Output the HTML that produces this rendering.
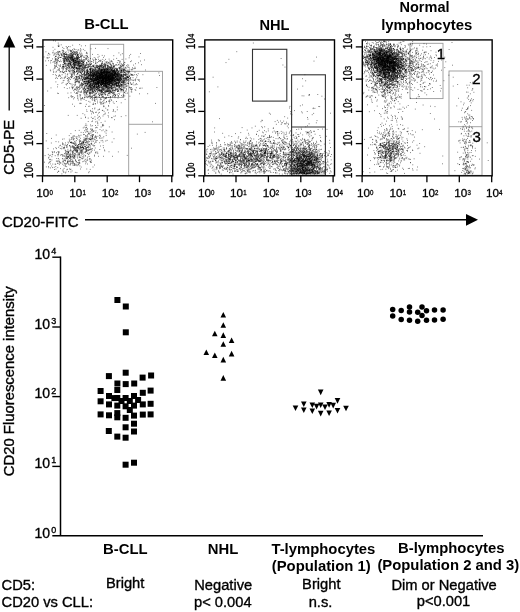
<!DOCTYPE html>
<html><head><meta charset="utf-8"><title>Figure</title>
<style>html,body{margin:0;padding:0;background:#fff;}body{width:520px;height:612px;overflow:hidden;font-family:"Liberation Sans",sans-serif;}</style>
</head><body>
<svg width="520" height="612" viewBox="0 0 520 612" style="display:block;filter:grayscale(1)">
<rect width="520" height="612" fill="#fff"/>
<g fill="none" stroke="#999" stroke-width="0.9">
<rect x="90.3" y="44.3" width="33.4" height="53.2"/>
<rect x="128.7" y="71.3" width="33.8" height="104"/>
<line x1="128.7" y1="124.3" x2="162.5" y2="124.3"/>
</g>
<g fill="none" stroke="#999" stroke-width="0.9">
<rect x="410" y="43.3" width="33" height="55.3"/>
<rect x="449" y="71" width="33" height="104.3"/>
<line x1="449" y1="126.7" x2="482" y2="126.7"/>
</g>
<path d="M105.3 79.7h0.8M101.8 73.1h0.8M99.9 72.6h0.8M106.4 85.7h0.8M99.7 74.8h0.8M110.4 79.7h0.8M105.8 72.5h0.8M105.1 82h0.8M90.8 76.5h0.8M84.6 72.1h0.8M85.7 78.2h0.8M92 80.6h0.8M106.7 76.8h0.8M78.5 77h0.8M104.6 78.7h0.8M88.9 76.5h0.8M94.5 74.1h0.8M115.8 72.4h0.8M105.2 83.1h0.8M98.9 77.8h0.8M106.3 78.3h0.8M92.3 79.5h0.8M118.6 67.9h0.8M114.1 78h0.8M99.3 90.1h0.8M112.5 70.4h0.8M106.1 81.3h0.8M103.4 82.1h0.8M104.7 81.9h0.8M119.8 72.9h0.8M107 75.2h0.8M105.9 71h0.8M98.9 77.4h0.8M115 83.9h0.8M90.9 74.5h0.8M110.9 65.9h0.8M100.2 77.8h0.8M118.6 80.9h0.8M101.5 76.1h0.8M103.2 87h0.8M100.5 76.6h0.8M108.7 77h0.8M102.5 71.7h0.8M104.8 75.4h0.8M117.6 80.8h0.8M105.2 81.9h0.8M102 84.4h0.8M105.3 81.4h0.8M91.7 81.1h0.8M86.5 67.6h0.8M101.5 73.1h0.8M107.9 90.8h0.8M96.1 75.1h0.8M107.5 80.7h0.8M103.2 77h0.8M112.7 80.4h0.8M94.2 78.4h0.8M105 71.9h0.8M107.4 72.8h0.8M115.4 78.3h0.8M105.8 74.5h0.8M102.9 66.5h0.8M93.4 81h0.8M83.2 84.7h0.8M87.2 83.8h0.8M96.6 83.2h0.8M105.8 69h0.8M118.8 85.3h0.8M104.3 76.5h0.8M103 72.5h0.8M116.3 73.9h0.8M104.2 73.5h0.8M98 71.1h0.8M118.2 76.1h0.8M115.2 77.3h0.8M97.7 76.7h0.8M99.2 78.5h0.8M101 76.6h0.8M90.3 74.5h0.8M122.1 72.7h0.8M94.2 80.8h0.8M119.2 68.4h0.8M102.6 74.5h0.8M87 83.7h0.8M104.9 78.4h0.8M97.4 81.3h0.8M99.4 77.6h0.8M92.9 71.9h0.8M118.8 73.9h0.8M108.1 77.6h0.8M100.2 75.4h0.8M111.6 75.7h0.8M103.5 78.3h0.8M117.7 80.9h0.8M108.8 74.4h0.8M91.1 84.6h0.8M115.2 76.4h0.8M111.1 82.1h0.8M114.2 82.6h0.8M101 87.1h0.8M92.5 84h0.8M110.7 82.6h0.8M125.5 85h0.8M92.3 69.2h0.8M113.2 71.4h0.8M105.4 82.9h0.8M86.9 67.2h0.8M107.8 78h0.8M102.5 78.4h0.8M95.4 70h0.8M102.9 72.5h0.8M88.1 82.3h0.8M104.6 80.4h0.8M94.4 75h0.8M94.2 73.7h0.8M106.8 73.3h0.8M109 79.7h0.8M125.7 68.2h0.8M114.4 76.7h0.8M104.3 69.6h0.8M100.6 82.7h0.8M104.3 78.5h0.8M102.6 84.9h0.8M103.9 65.3h0.8M96.9 67.2h0.8M70.8 77.7h0.8M119.1 77.2h0.8M92.4 73.5h0.8M117 78h0.8M105.6 77.7h0.8M105.9 82.6h0.8M111 78.8h0.8M94.4 81.8h0.8M98.4 84.9h0.8M91.7 78.3h0.8M104.4 70.3h0.8M123.8 85h0.8M100.6 82.9h0.8M107.9 62.6h0.8M107.7 77.4h0.8M105.5 71.7h0.8M102.2 77.2h0.8M117.7 78.9h0.8M105.8 86.8h0.8M99.1 76.2h0.8M86.8 88.6h0.8M115.6 82.5h0.8M112.2 78.1h0.8M107.2 76.4h0.8M103 78.5h0.8M121.2 79.9h0.8M104.2 74.7h0.8M99.2 87.8h0.8M110.4 78h0.8M101 71.9h0.8M104.8 83.1h0.8M100.9 77h0.8M102.8 78.8h0.8M88.3 78h0.8M96.6 83.8h0.8M97.3 82h0.8M120.9 74.9h0.8M98.9 79.6h0.8M104.6 72.3h0.8M110.9 89.3h0.8M102.3 77h0.8M94.3 80.7h0.8M91.5 72.6h0.8M118.1 71.7h0.8M117.1 85.9h0.8M108.1 81h0.8M125.4 75.2h0.8M98.3 70.7h0.8M106.2 86.5h0.8M114.7 71.7h0.8M95.9 75.8h0.8M108.1 76.6h0.8M107.5 79.5h0.8M102 78h0.8M107.2 77.3h0.8M111.2 88.4h0.8M111.3 77.8h0.8M87.6 81.7h0.8M84.1 71.5h0.8M114.4 81.4h0.8M102.7 68.2h0.8M100.9 74.4h0.8M112.8 90.5h0.8M107 73.3h0.8M92.8 78.7h0.8M102.7 71.5h0.8M105.8 71.2h0.8M117.2 83.2h0.8M116.2 74.3h0.8M110.4 76.8h0.8M100.9 76.4h0.8M90.8 70.7h0.8M113.3 76.2h0.8M107.8 83.6h0.8M86.6 74.9h0.8M107.1 80.1h0.8M101.6 84.3h0.8M106.7 70.8h0.8M95.7 83.4h0.8M109.1 66.6h0.8M119.5 80.3h0.8M119 74.7h0.8M101.5 71.7h0.8M131.6 74.9h0.8M121.4 72.9h0.8M106 68.2h0.8M101.5 84h0.8M92.5 85.2h0.8M108.1 71.7h0.8M99.6 75.8h0.8M104.3 74.9h0.8M96.3 76.9h0.8M93.8 71.4h0.8M105 83.1h0.8M89.1 79.3h0.8M97.8 72.9h0.8M113.8 74.3h0.8M120.4 72.2h0.8M109 76.4h0.8M97.5 82h0.8M103.8 81.6h0.8M104.1 71.8h0.8M104.1 78.4h0.8M114.7 72h0.8M103.9 68.1h0.8M111.4 71.2h0.8M86.2 79.2h0.8M116 68.3h0.8M93.4 74.6h0.8M93.5 81.1h0.8M96.3 74.5h0.8M110.9 73.1h0.8M109.2 72h0.8M91.6 68.4h0.8M124.4 74.6h0.8M107.6 77.6h0.8M106.8 78.2h0.8M124.6 70.4h0.8M88.3 73.5h0.8M91.5 83.4h0.8M113.2 71.8h0.8M90.4 77.1h0.8M118.4 60.5h0.8M110.1 71.3h0.8M115.5 70.9h0.8M101.4 69.5h0.8M95.5 86.8h0.8M113.5 75h0.8M95.1 67.8h0.8M101 78.2h0.8M104.2 77.5h0.8M93.3 78.6h0.8M105.3 85.5h0.8M124.6 75.6h0.8M97 78.3h0.8M98.4 74.2h0.8M104 72h0.8M111.4 76.9h0.8M107.6 76.7h0.8M97 73.1h0.8M102.4 75h0.8M107.5 77.8h0.8M90.9 79.5h0.8M90.8 75.6h0.8M101.1 66.2h0.8M106.1 78.8h0.8M103.2 75.7h0.8M100.7 72.7h0.8M102 75h0.8M105.5 71h0.8M107.6 78.6h0.8M103.4 75.6h0.8M110.1 67.9h0.8M110 79h0.8M108.2 80h0.8M98.1 77h0.8M112 80h0.8M106.6 69.1h0.8M111.3 84.3h0.8M115.8 78.5h0.8M89.2 84.8h0.8M102.4 63.5h0.8M108.4 69.1h0.8M91.2 75.4h0.8M118.2 74.8h0.8M108.7 87.9h0.8M121.7 76.1h0.8M102 70.9h0.8M98 81h0.8M109.3 78.3h0.8M115.2 72.7h0.8M104.9 82.3h0.8M111.7 83.7h0.8M109.1 75.9h0.8M108.4 71.9h0.8M88.2 82.7h0.8M104.7 79.8h0.8M87.2 77.3h0.8M98.4 73.5h0.8M81.3 78h0.8M114.7 79.4h0.8M98.8 78.4h0.8M111.7 61.4h0.8M104 81.2h0.8M113 87.3h0.8M117.1 78.9h0.8M108.6 82.3h0.8M99.4 78.2h0.8M115.5 88.6h0.8M103.4 77.9h0.8M107.8 85.6h0.8M105.5 86.5h0.8M94.9 77.7h0.8M103.4 82.7h0.8M115.3 68.4h0.8M95.7 80.7h0.8M97.5 69.8h0.8M116.2 80h0.8M110 74.8h0.8M115.8 75.7h0.8M116.2 71.8h0.8M96.3 79.9h0.8M98.1 82.5h0.8M107.4 72.4h0.8M105.7 75.9h0.8M114.4 73.6h0.8M101.1 85.4h0.8M129.5 87.7h0.8M105.9 79.2h0.8M121.1 76h0.8M94.9 79.5h0.8M109.4 72.8h0.8M87.2 71.1h0.8M111.7 73.1h0.8M103.7 79.3h0.8M111.4 75.5h0.8M109.9 72.4h0.8M100.8 72.4h0.8M116.9 76.9h0.8M97.2 76.6h0.8M103.1 82.2h0.8M87.9 73.3h0.8M102.3 93h0.8M115.1 76.6h0.8M113.5 89.3h0.8M102.5 76.1h0.8M118 79.8h0.8M111.9 74.5h0.8M126 86.3h0.8M111.3 81.5h0.8M84.2 83.4h0.8M103.3 80.7h0.8M112.1 75.5h0.8M87.6 81.5h0.8M97.2 76.7h0.8M98.6 76.5h0.8M81.5 87h0.8M108.3 84.2h0.8M125.8 76.5h0.8M85.8 74.3h0.8M92.2 76.1h0.8M105 66.4h0.8M108 69h0.8M108.2 77.1h0.8M101.8 77.8h0.8M99.2 74.9h0.8M87.5 79.2h0.8M125.3 87.9h0.8M119.3 81h0.8M98.7 86.9h0.8M104.5 77.6h0.8M102.1 78.8h0.8M100.5 77.9h0.8M93.6 76.7h0.8M128.9 75.7h0.8M102.8 81.3h0.8M112 71h0.8M103.4 83.5h0.8M108 78.5h0.8M121.1 72.8h0.8M105.7 74.9h0.8M119.8 65.5h0.8M97.8 75.5h0.8M112.3 80.9h0.8M119 67.7h0.8M112.8 75.7h0.8M98.4 81.7h0.8M94.5 66.8h0.8M100.5 69.7h0.8M98.5 80.7h0.8M109.1 86.9h0.8M102.3 69.3h0.8M96.8 73.3h0.8M92.6 81.5h0.8M97.4 67.1h0.8M112.3 76.8h0.8M108.9 78.3h0.8M111.7 77.7h0.8M118.2 79.4h0.8M109.4 80h0.8M89.8 78.3h0.8M102.5 79.4h0.8M91.6 88.6h0.8M105.6 70.9h0.8M87.1 77.8h0.8M103.8 73.9h0.8M105.8 74.2h0.8M110.5 73.3h0.8M105.2 83.7h0.8M131.5 70h0.8M99.8 73.5h0.8M112.8 70.7h0.8M100 78.2h0.8M94.4 73.3h0.8M99.1 66.3h0.8M89.8 76.8h0.8M106.6 76.8h0.8M86.3 76.8h0.8M113.7 80.5h0.8M103.9 72.9h0.8M111.4 74.1h0.8M92.5 74.3h0.8M120.4 78.1h0.8M117 74.3h0.8M114.6 73.7h0.8M104.6 92.5h0.8M112.9 74.5h0.8M104.4 80h0.8M117.5 74.2h0.8M86.7 77.8h0.8M105.3 78.6h0.8M119 78.7h0.8M113.1 71h0.8M115.2 89.4h0.8M113.3 78.8h0.8M107.5 88.2h0.8M95.3 78.1h0.8M110.3 81.9h0.8M100.7 80.1h0.8M102.2 78.9h0.8M103.2 71.5h0.8M105.3 83.1h0.8M94.9 77.4h0.8M111.6 71.3h0.8M106.5 71.7h0.8M118 90.4h0.8M126.2 75h0.8M112.9 78.1h0.8M106.9 86.9h0.8M91.8 85.2h0.8M105.2 86.2h0.8M106.7 74h0.8M108.3 82h0.8M105.7 80.8h0.8M98.7 66.1h0.8M114.8 81.3h0.8M106.7 78.3h0.8M115.7 74.5h0.8M97.6 77.5h0.8M116.9 69h0.8M117.3 73.3h0.8M94.2 86.2h0.8M103.5 70.6h0.8M101.8 83.7h0.8M117.4 74.5h0.8M109.7 81.8h0.8M98.5 80.6h0.8M104.5 74.9h0.8M100 78.8h0.8M105.2 74.7h0.8M101.2 84.8h0.8M107.7 82.9h0.8M118 80.4h0.8M128.5 71.3h0.8M113.4 75.5h0.8M125.3 86.3h0.8M84.2 74h0.8M112.4 82h0.8M112.8 77h0.8M110.2 81.4h0.8M104.8 84h0.8M81.7 83.6h0.8M94.7 84.4h0.8M102.3 73.1h0.8M108.6 72.4h0.8M94.8 69.7h0.8M105.1 80.9h0.8M115.7 76.3h0.8M116.1 77.2h0.8M104.4 81.4h0.8M116 75.1h0.8M102.5 77.3h0.8M105.5 72.7h0.8M115.7 74.8h0.8M109.6 72.8h0.8M109 80h0.8M101.6 90h0.8M109.8 88h0.8M114.8 73.4h0.8M101.3 80.8h0.8M105.8 78.2h0.8M101.3 67.8h0.8M101.7 65.4h0.8M108.7 73.5h0.8M97.5 77.3h0.8M107.3 69.5h0.8M86.3 73.3h0.8M83.3 74.1h0.8M121.3 70.6h0.8M111.3 69.5h0.8M108.1 75.9h0.8M104.7 81.3h0.8M123.6 77.7h0.8M106 72.3h0.8M111.1 76.1h0.8M113.8 77h0.8M122.4 65.1h0.8M102.4 83.3h0.8M101.1 73.7h0.8M101.7 70.2h0.8M107.5 92h0.8M116.6 70.6h0.8M95.8 76.4h0.8M115.2 72.4h0.8M98.3 83.7h0.8M114 75.1h0.8M92.7 70h0.8M96.8 65.7h0.8M112.7 73.7h0.8M111 88.4h0.8M116.8 70.4h0.8M114.7 84h0.8M96.8 73.1h0.8M103.2 68.8h0.8M119.4 62.9h0.8M93.4 77.4h0.8M102.8 79.2h0.8M107.8 76.5h0.8M116 64.7h0.8M104.8 73.9h0.8M106.6 79.2h0.8M95.3 75.1h0.8M113.6 79.4h0.8M98.9 90.4h0.8M128.6 67.6h0.8M109.4 92.3h0.8M113.4 78.6h0.8M102.7 75h0.8M102.6 75h0.8M112.7 75.1h0.8M99.9 71.4h0.8M104.2 72.9h0.8M103.7 84.2h0.8M109.2 80.6h0.8M108.9 78h0.8M103.6 76.3h0.8M112.5 71.1h0.8M119.1 77.1h0.8M97 75.8h0.8M98.1 79.5h0.8M98.1 85.2h0.8M95.9 65.5h0.8M96.5 67h0.8M105.2 84.2h0.8M111.3 69.7h0.8M97.9 88.9h0.8M108.4 77.8h0.8M117.3 91.3h0.8M118.7 77.7h0.8M109.1 81.3h0.8M98.2 72.4h0.8M105.2 72.5h0.8M104.5 78.6h0.8M129.2 71.1h0.8M103.7 77.2h0.8M110.2 83.7h0.8M99.6 73.7h0.8M87.5 74h0.8M110.7 77.8h0.8M94.3 76.7h0.8M105.7 80.9h0.8M98.8 77.1h0.8M85.5 72.9h0.8M121 64h0.8M101.7 79.6h0.8M100.8 73.6h0.8M104.5 78h0.8M103.4 67.2h0.8M103.2 73.2h0.8M99.5 79.8h0.8M112.2 82.6h0.8M100.3 83.8h0.8M117.9 83.6h0.8M119.6 76h0.8M103.7 82.9h0.8M90.9 80.4h0.8M99.4 76.3h0.8M86.5 74.3h0.8M105.3 83.2h0.8M115.4 76.7h0.8M102.7 73.4h0.8M109.2 76.2h0.8M112.3 87.6h0.8M104.1 69.4h0.8M95.4 70.3h0.8M93.2 86.6h0.8M106.8 69h0.8M112.5 84.7h0.8M101 74.4h0.8M101.7 79.9h0.8M112.3 84.3h0.8M118.3 83.8h0.8M119.7 80.7h0.8M89 78.5h0.8M108.2 75.5h0.8M114.5 75.2h0.8M96.1 87.1h0.8M112.2 78.7h0.8M115.3 83.4h0.8M107.5 63.5h0.8M97.8 75.9h0.8M94.9 80h0.8M117.4 74.2h0.8M94.2 90.7h0.8M99.8 71.3h0.8M107.8 80.3h0.8M98.1 83.2h0.8M99.6 73.1h0.8M107.3 82.3h0.8M98.6 80.4h0.8M105.4 94.4h0.8M98.3 86.6h0.8M104.5 77.3h0.8M113.1 82.6h0.8M118.5 78.8h0.8M98.6 75.4h0.8M110.7 80.9h0.8M119.9 79.2h0.8M116.9 85.9h0.8M106.1 69.3h0.8M92.1 70.7h0.8M121.4 71.8h0.8M118.3 80.4h0.8M123.5 82.4h0.8M103.9 76.9h0.8M106.1 78.9h0.8M99.5 78.3h0.8M121.2 66.8h0.8M107.4 72.5h0.8M107.4 82.7h0.8M104.9 82.5h0.8M89 85.7h0.8M99.1 82.1h0.8M105.8 62.9h0.8M97.3 79.9h0.8M121.5 78.4h0.8M107.1 69.6h0.8M120.9 87.2h0.8M105.3 76.7h0.8M88.6 84.5h0.8M133.7 79.9h0.8M118.6 80.1h0.8M95.4 86.6h0.8M92.1 77.8h0.8M108.4 82.9h0.8M109.6 79.9h0.8M96.5 71.2h0.8M105.4 73.8h0.8M90.8 71.8h0.8M99.1 67.7h0.8M90.2 69.7h0.8M107.2 80.2h0.8M125.4 67.7h0.8M98.4 83.8h0.8M102.7 76.3h0.8M122.8 74.6h0.8M92.4 71.4h0.8M108.8 79.5h0.8M90.3 73.5h0.8M111 80.9h0.8M98.7 82.1h0.8M110.3 67.2h0.8M102 80.7h0.8M98.1 66.1h0.8M102.5 82.6h0.8M120.6 64h0.8M131.9 69.3h0.8M115.7 84.3h0.8M115.5 78h0.8M93.2 82.6h0.8M96.4 64h0.8M135 79.7h0.8M123.7 71.2h0.8M121.2 86h0.8M121.4 76.6h0.8M92.4 78h0.8M81.3 70h0.8M105.6 72.2h0.8M103.3 77.5h0.8M125.9 83.9h0.8M105.2 85h0.8M96.8 76.7h0.8M114.1 70.1h0.8M101.6 70.6h0.8M107.1 87.3h0.8M97.3 79.9h0.8M95.2 72.1h0.8M92.8 87.4h0.8M130.1 78.8h0.8M97.9 82.7h0.8M102 82.9h0.8M108.3 79.4h0.8M111.2 74.1h0.8M100.1 68.4h0.8M99.8 70.1h0.8M103.1 72.6h0.8M106.4 80.5h0.8M89.9 74.5h0.8M95.6 83.1h0.8M123.4 81.5h0.8M102.1 86.8h0.8M89.9 87.9h0.8M96.9 62.5h0.8M133.6 84.9h0.8M94.4 79.8h0.8M102.9 78.8h0.8M89.3 75.3h0.8M110.1 78.9h0.8M117.7 77.5h0.8M129.4 71.9h0.8M106.9 66.7h0.8M92.6 86.7h0.8M95.5 81.9h0.8M104 72h0.8M101.2 75.3h0.8M100.3 82.8h0.8M111.7 74.1h0.8M95.7 80.4h0.8M104.5 84h0.8M133.3 80.6h0.8M104.7 77h0.8M95.7 73.5h0.8M94.4 76.6h0.8M101 82.7h0.8M100.8 77.2h0.8M93.1 88.5h0.8M111.2 87.9h0.8M114.1 85.9h0.8M102.8 82.4h0.8M132.8 68.7h0.8M118.2 86.8h0.8M109.9 82.1h0.8M118.2 73.1h0.8M109.1 72.5h0.8M97.6 74.9h0.8M103.6 79h0.8M109.3 69.2h0.8M126.9 83.1h0.8M112.7 75.3h0.8M104.4 81.3h0.8M108.7 67.7h0.8M114.4 94.6h0.8M85.8 85.5h0.8M109 77h0.8M119.3 69.8h0.8M107.5 86.5h0.8M102.8 75.7h0.8M106.1 75.3h0.8M121.3 71.3h0.8M113.9 69.8h0.8M112.2 76.8h0.8M77.3 80.2h0.8M93.4 76.3h0.8M121.1 70h0.8M94.4 87.5h0.8M107.1 87.1h0.8M108.2 72.5h0.8M105 85.4h0.8M115.2 77.2h0.8M105.6 77.3h0.8M99.8 90h0.8M104.6 71.3h0.8M100.3 82.7h0.8M111.9 76.6h0.8M97.9 78.7h0.8M86.5 71.7h0.8M113.5 74.5h0.8M109.7 84.9h0.8M112.1 77.6h0.8M128.3 80.1h0.8M101.6 82.7h0.8M109.1 72.6h0.8M105.8 77h0.8M83.9 78.7h0.8M101.8 75.6h0.8M87.2 77.3h0.8M104.7 78.6h0.8M93.2 82.7h0.8M91.9 77.7h0.8M118.8 72.8h0.8M100.1 84.8h0.8M100.8 76.6h0.8M108 84h0.8M81 75h0.8M93.8 72.4h0.8M95.5 73.8h0.8M107.9 72.5h0.8M106.6 80.3h0.8M97.3 79.4h0.8M122.8 78.5h0.8M98.2 78.2h0.8M95.4 80.4h0.8M113.9 72.4h0.8M103.4 84.8h0.8M99.9 79.5h0.8M93.8 74h0.8M100.6 91h0.8M100.6 75.3h0.8M99.1 77.5h0.8M112.1 78.5h0.8M126.7 77.5h0.8M120.4 78.4h0.8M110.8 69.1h0.8M103.7 77.7h0.8M101.6 65.8h0.8M114.1 75h0.8M100.4 76.9h0.8M102.9 80.5h0.8M91.4 73.7h0.8M108.2 78.6h0.8M100.9 75h0.8M96.3 78.4h0.8M117 70.9h0.8M121.4 81.6h0.8M100.7 82.9h0.8M89 69.2h0.8M91.4 76.7h0.8M101.5 75.3h0.8M105.2 65.6h0.8M109.6 69.4h0.8M98 76.2h0.8M92.4 71h0.8M94.6 78.8h0.8M111.5 80.8h0.8M94.3 74.3h0.8M95.7 81.4h0.8M84.3 86.9h0.8M99.7 73.9h0.8M109.1 83.7h0.8M109.2 83.8h0.8M107.1 85h0.8M118.1 76.4h0.8M120.2 77.7h0.8M105.6 72.6h0.8M102.4 82.7h0.8M91.7 82.9h0.8M108.9 79.3h0.8M82 79.3h0.8M111.5 73h0.8M104.9 64.2h0.8M111.8 73.6h0.8M113.4 66.6h0.8M112.2 76h0.8M113.1 72h0.8M99.7 91.5h0.8M96.1 74.6h0.8M101.7 72.3h0.8M118.4 87h0.8M96.9 68.6h0.8M117.9 83.4h0.8M114.2 84h0.8M95.9 77.8h0.8M90 71h0.8M115.1 73.3h0.8M129 76.5h0.8M98.8 83.2h0.8M124.2 79.3h0.8M92.5 81.2h0.8M119.3 74h0.8M97.5 84.5h0.8M106.1 71.5h0.8M100.8 73.9h0.8M108.3 78.4h0.8M117.5 81.1h0.8M88.9 81.7h0.8M114.7 79.9h0.8M115.6 74h0.8M95.6 84.2h0.8M92.9 66.4h0.8M115.5 73h0.8M101.2 70.2h0.8M90.7 72.4h0.8M101.5 80.4h0.8M81.4 84.3h0.8M92.2 72.8h0.8M112.2 77h0.8M89.9 90h0.8M96.2 80.2h0.8M107.8 86h0.8M100.8 84.2h0.8M97.9 85.1h0.8M96.9 76.5h0.8M125.1 78.2h0.8M107.3 90.9h0.8M108.5 73h0.8M112.2 70.6h0.8M117.5 84h0.8M98.8 74.9h0.8M107 77.9h0.8M95.1 82.1h0.8M83.5 77.2h0.8M100.7 76.8h0.8M107.7 70.6h0.8M111.2 76.5h0.8M97.7 70.6h0.8M92.9 81.1h0.8M95 79.2h0.8M116.7 83.1h0.8M121.3 75h0.8M94.2 84.8h0.8M108.9 84.2h0.8M105.8 84.9h0.8M114.3 81.4h0.8M110.6 79.9h0.8M107.6 79.1h0.8M115.2 74.2h0.8M123.2 75.9h0.8M115.4 76.7h0.8M103.5 90h0.8M101.3 70.9h0.8M97.5 76.8h0.8M127.8 77.4h0.8M114.4 71.4h0.8M109.1 81.6h0.8M123.6 72.5h0.8M111.6 79.2h0.8M94.4 78.7h0.8M101.3 64.8h0.8M111.6 80.6h0.8M99.9 70.6h0.8M120.7 78.3h0.8M116.4 85.3h0.8M100 83.1h0.8M102.5 77.8h0.8M104.2 78.1h0.8M116.8 77.8h0.8M103.4 76.5h0.8M108.3 72.5h0.8M99.8 78.1h0.8M99.1 77.8h0.8M99.6 90.1h0.8M119.2 79.5h0.8M105.6 90.7h0.8M108.4 77.2h0.8M108.4 79.5h0.8M119.9 76.7h0.8M126.7 71.1h0.8M111.9 71.6h0.8M124 74.6h0.8M104.9 83.4h0.8M117.7 70.5h0.8M100.8 70.2h0.8M106.5 77.3h0.8M101.1 74.3h0.8M100.7 74h0.8M111.3 86.3h0.8M84.8 78.9h0.8M101 81.2h0.8M95.1 78h0.8M94.5 82.9h0.8M106.1 77h0.8M108.9 76.3h0.8M89.1 82.7h0.8M108 76.9h0.8M116 84.2h0.8M93.3 74.4h0.8M122 84.9h0.8M96.8 71.8h0.8M98.2 75.7h0.8M88.5 79.5h0.8M91.1 72.1h0.8M114.4 73.3h0.8M104.6 81.7h0.8M113.5 75.4h0.8M105.2 73.2h0.8M123.7 80.3h0.8M93.6 78.9h0.8M112.8 80.2h0.8M124.9 84.4h0.8M99.4 77.9h0.8M91.8 80.5h0.8M107.9 93.5h0.8M105.2 65.8h0.8M98.1 79.2h0.8M91.6 74h0.8M101.4 80.3h0.8M103 73h0.8M113.1 74.2h0.8M99.2 70.4h0.8M97.2 82.4h0.8M88.1 78.9h0.8M112.4 75.2h0.8M107.1 71.3h0.8M119.3 83.3h0.8M106.8 67.7h0.8M94.6 84.5h0.8M123.2 78.3h0.8M117.9 73.4h0.8M103.1 78.2h0.8M108.8 68.8h0.8M115.6 84.9h0.8M92.4 71.1h0.8M108.5 73.9h0.8M80.7 84.7h0.8M106.5 75.1h0.8M127.3 77h0.8M97.3 79.2h0.8M93.9 74.5h0.8M108.9 74.5h0.8M101.2 88h0.8M114.5 81.9h0.8M110.9 80.4h0.8M120.3 76.7h0.8M124.1 70.9h0.8M101.8 70.2h0.8M101.7 81.3h0.8M120 72.9h0.8M105 75.9h0.8M96.8 71.7h0.8M104.9 67.9h0.8M106.3 78h0.8M97.7 72.7h0.8M91.5 90h0.8M91.8 88.1h0.8M111.2 75.4h0.8M93.5 85h0.8M122.8 71.1h0.8M102.5 84.3h0.8M109.5 89.3h0.8M99.4 81.6h0.8M93 91.2h0.8M96.4 65.8h0.8M103.7 77.3h0.8M125 74.4h0.8M105.2 81.4h0.8M121.7 76.3h0.8M116.2 80.1h0.8M102 78.7h0.8M105 72.7h0.8M117.2 69h0.8M117.8 82.5h0.8M103.8 73.7h0.8M102.9 80.9h0.8M113 79h0.8M115.2 73.9h0.8M106.8 68.7h0.8M113.2 78.2h0.8M101.3 85.1h0.8M111 61.1h0.8M104.8 69.6h0.8M117.4 91.5h0.8M99.7 78.9h0.8M102.6 80.2h0.8M112.4 84.9h0.8M95.5 87.9h0.8M95.5 80.4h0.8M117.6 81.2h0.8M95 74.7h0.8M100.2 78.1h0.8M116.5 69.6h0.8M110.3 81.1h0.8M111.2 80.2h0.8M121.2 79.5h0.8M114.3 80.5h0.8M123 65.5h0.8M118.4 75.4h0.8M101.7 72.6h0.8M85.4 77.4h0.8M98.1 81.4h0.8M90.4 87.5h0.8M107.8 76.3h0.8M97.3 74h0.8M93 75.8h0.8M105.1 77h0.8M90.2 77.7h0.8M95.8 79.7h0.8M124.9 80h0.8M101.1 68.9h0.8M89.5 69.4h0.8M112.3 73h0.8M105.5 74.4h0.8M106.7 86h0.8M97.8 76.6h0.8M97.1 83.7h0.8M93.8 72.3h0.8M89.9 71h0.8M111.2 92.5h0.8M95.1 84.3h0.8M107.2 71.4h0.8M102.1 76.9h0.8M98.8 89.7h0.8M85.3 81.8h0.8M108.3 74.4h0.8M107.1 82.9h0.8M106.9 80.3h0.8M111.4 65.7h0.8M121.6 89.9h0.8M115.8 83h0.8M90.3 78.5h0.8M96.3 75.3h0.8M114.8 72.5h0.8M102.9 67.1h0.8M103.5 78.7h0.8M97.4 74.4h0.8M124.3 69.4h0.8M93.7 74.2h0.8M118.6 89.1h0.8M108.2 73.6h0.8M101.1 84.5h0.8M96.2 87.2h0.8M120 77.2h0.8M112.2 81.8h0.8M120.9 70.6h0.8M117.3 74.8h0.8M97.1 79.2h0.8M102.4 72.5h0.8M87.9 73.9h0.8M121.2 88.1h0.8M112.5 84.3h0.8M99.7 78h0.8M107.6 71.5h0.8M94.8 79.4h0.8M101.3 72.1h0.8M109 76.2h0.8M115.8 77.1h0.8M102 79h0.8M103 74.3h0.8M101.2 82.7h0.8M112.5 84.9h0.8M87.2 77.1h0.8M100.8 79.3h0.8M100.1 75.4h0.8M113.4 78.4h0.8M93.5 86.7h0.8M115.3 73.8h0.8M113.5 73.1h0.8M116.8 75.8h0.8M96.5 76.5h0.8M97.2 79.8h0.8M106.9 78.1h0.8M97.6 57.3h0.8M105.2 67h0.8M108.2 84.3h0.8M107.8 75.5h0.8M103.2 77.4h0.8M99.1 75.1h0.8M96 85.6h0.8M105.4 83.5h0.8M102.5 78.6h0.8M103.5 80.8h0.8M113.9 78.7h0.8M97.7 74.1h0.8M122.3 75h0.8M102.7 86.7h0.8M116.7 80.2h0.8M102 91.9h0.8M109.5 80.8h0.8M102.7 70h0.8M91.3 81.5h0.8M109.1 76.3h0.8M92.2 70.6h0.8M101 69.9h0.8M115 83.9h0.8M135.1 80.7h0.8M98.5 73.5h0.8M68.7 77.5h0.8M103.7 83.7h0.8M111.8 80.9h0.8M107.6 81.6h0.8M119.8 70.6h0.8M99.7 70.4h0.8M122.6 84.1h0.8M112.4 70.4h0.8M106.8 76.5h0.8M105.9 76.8h0.8M110.4 75.3h0.8M114.2 78.7h0.8M102 77.6h0.8M100.9 83.1h0.8M102.4 79.9h0.8M100.3 69.7h0.8M114.1 71.1h0.8M112.4 79.9h0.8M87.3 73.9h0.8M99.3 73.7h0.8M93.1 83.3h0.8M102.8 80.4h0.8M100.7 80.1h0.8M97.2 78.5h0.8M111.2 77.8h0.8M99.8 72.1h0.8M107 79.9h0.8M102 73.8h0.8M111.9 91.9h0.8M102.1 80.2h0.8M107.9 62.8h0.8M106.1 73.8h0.8M119.5 75.4h0.8M96.9 77.4h0.8M106.6 74.6h0.8M103.9 70.2h0.8M103.1 82.7h0.8M126 80.4h0.8M108.5 84.6h0.8M116.5 86.8h0.8M116.4 76.4h0.8M107.9 78.8h0.8M108.4 78.9h0.8M95.9 66.5h0.8M97.1 66.9h0.8M105.8 78h0.8M87.9 83.4h0.8M114.2 77.8h0.8M123.4 87.4h0.8M93 85h0.8M109.9 80h0.8M114.5 73.1h0.8M98.5 73.7h0.8M97.2 78.1h0.8M89.4 73.2h0.8M111.1 77.1h0.8M108.2 66.8h0.8M96.6 75.4h0.8M105.2 74.6h0.8M114.8 76.9h0.8M105.3 78.1h0.8M112.3 74.7h0.8M117.1 79.7h0.8M106.7 78.1h0.8M111 83.4h0.8M115.2 79.4h0.8M114.3 77.9h0.8M118.2 76.8h0.8M84 87.5h0.8M105.7 71.1h0.8M102.6 73.1h0.8M127.3 79.1h0.8M88.9 82.5h0.8M101.8 89.4h0.8M93 65.9h0.8M105.6 75.9h0.8M99.7 66h0.8M110.3 87.3h0.8M85.7 86.4h0.8M100.2 92.1h0.8M109.6 76.5h0.8M116.9 80.1h0.8M99.2 82.6h0.8M98.9 68.1h0.8M126.2 74.3h0.8M98.9 80.5h0.8M88.1 71.5h0.8M99.6 75.4h0.8M106.4 84.4h0.8M100.4 81.2h0.8M110.9 71.2h0.8M107.1 72.4h0.8M116.4 79.7h0.8M104.7 70.2h0.8M106 73.5h0.8M112.4 76.7h0.8M97 84h0.8M112.4 74h0.8M117.1 75.3h0.8M101.9 79h0.8M97 76.1h0.8M104.1 87h0.8M120.7 75.2h0.8M121.9 76.4h0.8M109.5 82.8h0.8M109.3 91.7h0.8M107.1 70.9h0.8M118.6 74.5h0.8M100.5 61h0.8M116 81.9h0.8M113.9 83h0.8M122.8 76.3h0.8M114.6 72.9h0.8M101.9 84.4h0.8M108.6 70h0.8M108.8 76.6h0.8M96.7 81.2h0.8M100.1 69.3h0.8M94.3 89.2h0.8M89.3 80.6h0.8M111.8 81.2h0.8M92.1 77.2h0.8M106.9 82.5h0.8M97.8 71.8h0.8M116.1 83.5h0.8M108.7 74.2h0.8M109.4 78.3h0.8M113.3 70.1h0.8M106.2 77h0.8M93.6 80.2h0.8M105.3 75.6h0.8M108.6 69.5h0.8M104.7 80.5h0.8M108.6 84h0.8M91.8 70.3h0.8M107.8 80.4h0.8M127.6 79.8h0.8M96.3 83.4h0.8M95.6 70.1h0.8M132.6 77.7h0.8M112.8 80.7h0.8M124.2 78.1h0.8M117.4 71h0.8M91.2 87.4h0.8M120.8 79.7h0.8M107.5 78.8h0.8M98.6 87.5h0.8M112.2 80.4h0.8M109.5 83.7h0.8M110.7 81.9h0.8M93.1 81.9h0.8M127.8 73.2h0.8M104.2 83.3h0.8M115.4 80.8h0.8M88.4 82.3h0.8M92.3 74.2h0.8M110.7 75.8h0.8M115 95.5h0.8M113.6 81.5h0.8M95.4 75h0.8M93.7 75.8h0.8M93.4 75.1h0.8M102.5 72.4h0.8M89.6 71.3h0.8M109.9 78h0.8M116.3 83.2h0.8M101.8 82.2h0.8M91.1 92.4h0.8M117.5 75.8h0.8M93.1 81.2h0.8M85.2 75.1h0.8M113 77.8h0.8M100.4 83.9h0.8M94.4 80.5h0.8M99.5 73.5h0.8M109.5 71.9h0.8M124.7 73h0.8M125.4 70h0.8M110.9 70.6h0.8M91.1 80h0.8M111.6 70.1h0.8M117.1 72.4h0.8M106.6 80.1h0.8M110.5 67.1h0.8M122.3 79.9h0.8M100.2 72.4h0.8M86.7 71.6h0.8M110.6 75.6h0.8M93 75.9h0.8M121.3 74.8h0.8M99.6 86.3h0.8M110 77.9h0.8M98 69.5h0.8M92.6 76.2h0.8M103 80.2h0.8M111 78.8h0.8M106.9 72h0.8M82.3 76.8h0.8M94.8 75h0.8M101.6 71h0.8M93.4 78.4h0.8M106 74.1h0.8M110.2 76.3h0.8M94.4 79.1h0.8M124.5 72.5h0.8M117.9 85h0.8M120.4 72h0.8M126.2 77h0.8M102.3 76.9h0.8M111.4 77.8h0.8M103.8 85.6h0.8M97.1 72.6h0.8M113.7 81.4h0.8M116.1 70.9h0.8M116.6 79.9h0.8M123 69.3h0.8M107.3 76.2h0.8M88.1 75.2h0.8M116.7 74.3h0.8M97.9 83.6h0.8M115.9 82.9h0.8M96.8 78.3h0.8M115.6 73.3h0.8M97.6 83.4h0.8M120.9 70h0.8M77.2 71.8h0.8M94.4 78.1h0.8M111.5 76.6h0.8M97.8 79.5h0.8M95 78.5h0.8M99.6 94h0.8M113.3 72.5h0.8M94.5 76.3h0.8M87.5 75.2h0.8M97.8 83.7h0.8M100.3 73.8h0.8M90.5 72.3h0.8M104.3 76.8h0.8M116.7 73.4h0.8M116.3 78.6h0.8M104.1 66.4h0.8M91.9 83.4h0.8M119.8 78h0.8M112.9 75h0.8M100.9 74.5h0.8M115.5 79.2h0.8M102.5 76.3h0.8M111.1 79.4h0.8M97.2 88.6h0.8M107.8 77.8h0.8M121 82.7h0.8M104.4 81.2h0.8M93.6 75.2h0.8M82 87h0.8M85.5 83.5h0.8M96 73h0.8M103.2 79.7h0.8M112.3 87.7h0.8M109.3 82.8h0.8M99.2 82.6h0.8M106.5 75.2h0.8M104.1 77.7h0.8M107.3 80.2h0.8M99.4 74.1h0.8M112.1 67.6h0.8M99.3 87.5h0.8M76.4 76.3h0.8M111.5 67.9h0.8M131.1 60.9h0.8M120.9 85.8h0.8M114.6 75.9h0.8M108.4 72.5h0.8M113.1 70.8h0.8M102.7 84h0.8M93.3 76.8h0.8M106.2 70.1h0.8M117.4 79h0.8M89.2 79h0.8M96.7 74.8h0.8M105.6 73.8h0.8M114.9 73.1h0.8M115.4 76.9h0.8M113.8 74.2h0.8M99.3 71.8h0.8M111.6 82.9h0.8M127.9 83.7h0.8M107.6 76.6h0.8M109.2 77.5h0.8M120.9 82.2h0.8M96 74.7h0.8M119.6 78.6h0.8M103.2 85.1h0.8M100.9 76.7h0.8M99.4 67h0.8M113.6 70.3h0.8M98.8 74.2h0.8M112.7 77h0.8M104.5 68.3h0.8M103.5 69.5h0.8M108.5 79.9h0.8M105.9 89.8h0.8M110.9 81h0.8M106.5 76.8h0.8M115.7 83.6h0.8M92 85.2h0.8M110.9 83.1h0.8M109.4 70.4h0.8M93.7 89.5h0.8M107.1 69.6h0.8M108.6 75.6h0.8M84.7 66.3h0.8M88.5 80.9h0.8M104.5 76.6h0.8M108.4 81.2h0.8M83 78h0.8M95.9 71.6h0.8M99.3 77.7h0.8M101.6 69.8h0.8M101 90.1h0.8M93.3 69.1h0.8M108.3 81.2h0.8M109.4 71.1h0.8M115.2 72.6h0.8M92.9 75.4h0.8M104.3 82.2h0.8M111.6 77.3h0.8M114.9 77.7h0.8M113.8 69.1h0.8M89 83.8h0.8M90.4 77.4h0.8M103.8 75.3h0.8M101 86.4h0.8M79 85.2h0.8M129.1 76.2h0.8M105.2 82.2h0.8M123.7 69.6h0.8M105.9 76.8h0.8M111 78.5h0.8M111.8 75h0.8M105.3 74.1h0.8M98.1 77.7h0.8M103.1 71.3h0.8M121.5 75.9h0.8M91.1 85.5h0.8M97.5 81.6h0.8M105 79.5h0.8M106.6 74.5h0.8M106.5 89.7h0.8M81.7 80.3h0.8M109.2 71.6h0.8M91.8 91.6h0.8M102.2 90.3h0.8M110.7 78h0.8M110.4 81.3h0.8M117.6 79.5h0.8M106.7 78.9h0.8M119.6 81.6h0.8M94.3 75.2h0.8M108.3 74.1h0.8M100.7 72.8h0.8M102.6 80.7h0.8M115.5 77.2h0.8M126.8 75.8h0.8M139 81.1h0.8M110.1 74.7h0.8M75.5 79.5h0.8M107.9 89h0.8M91.5 90.2h0.8M102.8 82.4h0.8M78.6 80.9h0.8M101.8 82.2h0.8M105.5 71.3h0.8M115.3 81.2h0.8M111.8 83.3h0.8M116.6 77h0.8M90.2 71.1h0.8M119.6 81h0.8M106 75.4h0.8M105.4 78.1h0.8M101.3 74.2h0.8M127.9 77.5h0.8M98.2 71h0.8M97.8 82.8h0.8M112.9 76.1h0.8M105.5 76.2h0.8M94.1 86.5h0.8M110.1 92h0.8M97.1 77.8h0.8M114.2 75.8h0.8M90.1 73.7h0.8M106.3 79.9h0.8M104.6 83.9h0.8M115.6 79h0.8M105.3 76.5h0.8M111.3 82.9h0.8M105.9 80.6h0.8M101.1 70.1h0.8M95 83.3h0.8M110.5 86.8h0.8M106.1 83h0.8M119.4 82.6h0.8M98.6 77.4h0.8M106 72.2h0.8M110.5 83.5h0.8M101 89.8h0.8M102 77.1h0.8M102.3 74.1h0.8M109.5 77.8h0.8M122.8 80.1h0.8M110.6 76.3h0.8M90.3 78.7h0.8M96.6 84.2h0.8M105.6 87.7h0.8M113.2 82.2h0.8M107.6 79h0.8M112.4 82.8h0.8M97.9 81.4h0.8M132.5 75.3h0.8M102.1 74.2h0.8M90.5 86.1h0.8M105.9 79.7h0.8M125.6 91h0.8M96.3 84.8h0.8M111.8 79.8h0.8M110.1 77.5h0.8M122 80.2h0.8M109.3 84.9h0.8M114.7 79.9h0.8M109.4 87.9h0.8M110.4 77.1h0.8M96 76.7h0.8M94.2 79.5h0.8M106.9 65.9h0.8M105.6 81.8h0.8M106.4 72.4h0.8M118.1 72.9h0.8M91.8 72.8h0.8M105.4 83.7h0.8M117.4 78.2h0.8M92.3 75.2h0.8M95.6 77.7h0.8M86.6 80.1h0.8M111.8 76.6h0.8M109.5 72.2h0.8M89.6 75.5h0.8M117.7 83h0.8M100.9 85.3h0.8M102.4 87h0.8M109.9 75h0.8M113.1 72.9h0.8M94.6 70.4h0.8M107.8 77.5h0.8M104.1 75.7h0.8M120 74.3h0.8M98.1 85.8h0.8M120.1 78.8h0.8M86.6 76h0.8M111.5 77.6h0.8M120.7 68.8h0.8M111.9 73.8h0.8M118.9 76.5h0.8M115.6 73.4h0.8M89.8 72.8h0.8M98.3 72.6h0.8M118.3 84.7h0.8M107.5 71.8h0.8M103.5 74.1h0.8M120.5 78.6h0.8M110 75.3h0.8M83.7 75.2h0.8M93.6 81.1h0.8M105.7 73.3h0.8M101.8 87.4h0.8M94.6 73.5h0.8M102.4 74.1h0.8M100.9 81.4h0.8M122.4 66.3h0.8M104.9 78.3h0.8M104.1 77h0.8M102 84.1h0.8M100.2 77.7h0.8M105.1 78.6h0.8M103.8 83.9h0.8M105.1 79h0.8M104.1 72.2h0.8M95.9 72.6h0.8M106.8 73.7h0.8M94.1 80.3h0.8M109.8 67.4h0.8M122.8 76.8h0.8M104.5 84.3h0.8M105.6 74.5h0.8M127.6 69.9h0.8M104.5 83h0.8M93.9 78.3h0.8M110.3 91.6h0.8M95.7 78.5h0.8M112 77.9h0.8M92.7 81.4h0.8M106.4 80.5h0.8M117.4 82.9h0.8M109.5 79.5h0.8M93.5 78.1h0.8M107.2 75.5h0.8M105.7 73.1h0.8M122.2 89.2h0.8M101.2 80.6h0.8M103.2 85.5h0.8M109.7 78.1h0.8M102.8 78.9h0.8M94.9 82.7h0.8M97.9 81.7h0.8M107 84.2h0.8M105.4 83.9h0.8M95.7 82.3h0.8M102.8 79.3h0.8M106.3 83.4h0.8M84.1 81.6h0.8M90 86.2h0.8M84 73.9h0.8M88.3 88.9h0.8M91.7 79.7h0.8M98.7 68h0.8M101.9 82.1h0.8M103.6 83.6h0.8M101.3 78.3h0.8M101.2 80.3h0.8M125.1 78.5h0.8M106.8 74.3h0.8M97.9 87.1h0.8M93 73.7h0.8M103.9 75.6h0.8M124.5 62.7h0.8M109.2 81.8h0.8M93.1 75.2h0.8M110.4 87.1h0.8M94.7 69.6h0.8M116 86h0.8M100.6 65.5h0.8M120.2 75.6h0.8M116.8 76.8h0.8M101 75.7h0.8M121.2 85.1h0.8M82.3 74.4h0.8M123.5 74.4h0.8M90.9 79.2h0.8M103.9 77.5h0.8M99.9 76.6h0.8M100.5 80.3h0.8M96.5 77h0.8M104.2 85.7h0.8M109 77.1h0.8M110.9 79.9h0.8M116.7 80h0.8M124.5 84.3h0.8M104.5 75.6h0.8M114.6 80.2h0.8M103.4 69.5h0.8M86.1 81.6h0.8M113.5 82h0.8M92.1 85.1h0.8M99.7 80.7h0.8M109.1 73h0.8M98 66.5h0.8M94.7 68.3h0.8M109.7 78h0.8M114.8 79.3h0.8M98.6 80.5h0.8M101.3 81.8h0.8M107.9 72h0.8M105.1 78.3h0.8M102.3 83.4h0.8M122.9 74.4h0.8M100.4 65.3h0.8M103.5 75.6h0.8M82.6 81.5h0.8M110.9 73.3h0.8M100.8 72.7h0.8M112.4 68.6h0.8M102.7 89.5h0.8M105.9 80.7h0.8M103 71.3h0.8M104.9 80.4h0.8M94.6 80.8h0.8M118.6 83.1h0.8M88.1 73.7h0.8M88.7 85.5h0.8M111.8 81.6h0.8M95.4 72h0.8M106 78.5h0.8M96.2 79.5h0.8M112 78.8h0.8M93.2 66.7h0.8M102.5 79.2h0.8M102.2 75.7h0.8M98.2 82.7h0.8M104.6 78.8h0.8M94.6 75.2h0.8M106.3 72h0.8M91.8 77.2h0.8M117.8 78.1h0.8M120.3 76h0.8M101.2 70.2h0.8M99.7 86.8h0.8M108.9 82h0.8M112.5 77.4h0.8M103 78.9h0.8M112.3 80.1h0.8M110.3 78.5h0.8M96.9 77.1h0.8M95.7 84.6h0.8M83 78.5h0.8M129.9 74h0.8M93.2 78.8h0.8M118.5 76h0.8M111.6 78.1h0.8M102.7 96.5h0.8M105.6 74.8h0.8M100.1 80.6h0.8M109.7 82.1h0.8M105.9 69.6h0.8M110.5 75.8h0.8M101.4 69.7h0.8M98.8 74.3h0.8M104 69.6h0.8M105.7 78.7h0.8M93.1 75.3h0.8M96.5 84h0.8M78.5 78.1h0.8M87.5 76.9h0.8M113.7 73.6h0.8M106.2 73h0.8M125.8 81.7h0.8M116.3 69.4h0.8M94.1 85.2h0.8M102.9 76.7h0.8M108 70.5h0.8M113.2 77.5h0.8M109.8 73.7h0.8M110.1 73.5h0.8M115.6 83.7h0.8M114.9 80.2h0.8M110.5 61.8h0.8M113.7 75.7h0.8M106 76.3h0.8M90.3 76.1h0.8M112.6 85.6h0.8M98.2 73.3h0.8M119.9 71.7h0.8M126.8 76.6h0.8M96.3 84.4h0.8M122.2 68.3h0.8M121.3 75.1h0.8M120.5 74.6h0.8M88.8 82.2h0.8M115.8 89.3h0.8M123.5 80.6h0.8M102.4 75.2h0.8M101.6 73.4h0.8M101 63.5h0.8M107 77.7h0.8M132.3 80.2h0.8M100.3 81.7h0.8M92 75.5h0.8M86.2 87.9h0.8M110.8 70.7h0.8M104.9 83.5h0.8M110.5 79.8h0.8M95.8 75h0.8M106.5 83.2h0.8M95.9 72.2h0.8M116.6 71.7h0.8M116.5 78.5h0.8M115.1 87.3h0.8M112.7 81.9h0.8M95.2 74.8h0.8M112.6 86.3h0.8M120.7 90.2h0.8M108.4 78.9h0.8M115.6 77.3h0.8M104 72h0.8M115 71h0.8M109.8 69.4h0.8M116.1 71.1h0.8M113.2 68.1h0.8M101 85.2h0.8M96.7 79.1h0.8M99 65h0.8M108.5 80.2h0.8M93.8 82.2h0.8M96.3 72.9h0.8M104.9 74.1h0.8M128.4 67.1h0.8M113.3 83.1h0.8M83.6 69.6h0.8M110.8 74.7h0.8M109.6 84.3h0.8M100.7 72.2h0.8M76.6 81.5h0.8M95.5 80.6h0.8M106.9 69.8h0.8M123.6 82.8h0.8M113.4 70.4h0.8M100.6 75.2h0.8M100.2 71.8h0.8M109.8 79h0.8M108.7 74.8h0.8M118.7 78h0.8M76.1 76.6h0.8M105 83.6h0.8M101.8 76.8h0.8M98.5 82.4h0.8M100.1 74.9h0.8M97.6 81.8h0.8M98.7 68.8h0.8M111.3 73.4h0.8M109 79.9h0.8M118.2 83h0.8M99 77.5h0.8M92.4 88.8h0.8M110.4 85.7h0.8M100.8 66.4h0.8M121.2 77.3h0.8M106.5 78.2h0.8M112.1 80.5h0.8M89 85.6h0.8M99.3 75.7h0.8M123.6 81.9h0.8M100.7 67.6h0.8M107 81h0.8M103.7 70.9h0.8M96.2 71.4h0.8M107.7 82.6h0.8M115.5 72.9h0.8M107.8 81h0.8M99.7 77.6h0.8M127.4 77.4h0.8M114.1 74.7h0.8M104.7 68.1h0.8M105.4 84.9h0.8M127.6 83.2h0.8M112.3 77.7h0.8M98.7 77.6h0.8M111.2 72.9h0.8M114.4 71.5h0.8M86 73.6h0.8M87 71.5h0.8M116.9 75.9h0.8M107.9 84.5h0.8M118 74h0.8M119.2 79.1h0.8M105.3 80.6h0.8M89.8 74.7h0.8M104.3 81.6h0.8M101.1 77.6h0.8M115.9 85.3h0.8M113.7 84.7h0.8M100.7 76.6h0.8M108.3 76h0.8M100.6 88h0.8M102.5 72.6h0.8M111.1 88.2h0.8M106.5 85.1h0.8M100.3 75.5h0.8M97.8 77.7h0.8M123.8 69.8h0.8M121.8 70.8h0.8M103 83h0.8M111.8 79.1h0.8M88 81.5h0.8M95.6 93.7h0.8M103 79.3h0.8M92.9 76.2h0.8M92 84.8h0.8M102.6 81.5h0.8M97.7 75.7h0.8M118.1 71.3h0.8M86.4 81.9h0.8M93 76.4h0.8M114.3 72.5h0.8M114 73.3h0.8M121.3 84.4h0.8M100.1 77.2h0.8M96.5 79.9h0.8M116.5 68.7h0.8M114.1 69.6h0.8M95.3 68.4h0.8M127.2 76.6h0.8M107.3 73.9h0.8M115.3 64.9h0.8M106.4 90.7h0.8M101.1 78.4h0.8M111.8 72.7h0.8M105.8 83.5h0.8M107.3 80h0.8M101.6 80.1h0.8M106.4 86.4h0.8M112.6 76h0.8M79.8 84.2h0.8M112.6 72.1h0.8M83.7 73.1h0.8M114.3 71.1h0.8M100.4 79.7h0.8M117.9 76.9h0.8M103.8 74.9h0.8M122.7 82.8h0.8M103.5 70h0.8M97.1 82h0.8M98 83.8h0.8M109 79.4h0.8M112.2 80.3h0.8M96 76.8h0.8M129 69.1h0.8M100.6 84.6h0.8M103.1 73.4h0.8M91.5 82.2h0.8M116.4 85.2h0.8M106.1 84h0.8M94.4 79.8h0.8M98.1 79.6h0.8M113.5 83.6h0.8M95.3 86.2h0.8M99.7 72.5h0.8M102.6 69.7h0.8M105.3 79.7h0.8M103.3 81.3h0.8M101.8 78.3h0.8M90 79.5h0.8M96 76.1h0.8M104.2 79.2h0.8M87.1 70.3h0.8M102.2 81h0.8M109.3 82.9h0.8M118.9 79.8h0.8M104.4 72.1h0.8M95 76.1h0.8M108 79.1h0.8M105.1 77.1h0.8M111.8 78.7h0.8M108.4 79.5h0.8M98.9 72.5h0.8M110.4 80h0.8M102.6 75.8h0.8M128.6 71.7h0.8M102.9 79.7h0.8M93.1 79.6h0.8M124.3 81.9h0.8M112 80.9h0.8M106.7 83.4h0.8M103.3 75.7h0.8M106.6 83.2h0.8M108.9 81.6h0.8M84.5 86.6h0.8M130.2 83.8h0.8M101.4 73.4h0.8M107.5 72.1h0.8M112.5 74.4h0.8M115.8 85.1h0.8M84 81.4h0.8M97.1 70.4h0.8M98.5 77.3h0.8M115.2 68.3h0.8M117 88.8h0.8M111.6 80.7h0.8M104.4 71.2h0.8M110.9 79.8h0.8M113.9 92.2h0.8M112.9 79.9h0.8M120.8 68.9h0.8M93 76.8h0.8M98.6 82.6h0.8M102.6 88.3h0.8M121.4 81.2h0.8M101.3 81.9h0.8M113.1 71.2h0.8M109.1 81.8h0.8M108.1 86.9h0.8M117.4 72.2h0.8M106 73.1h0.8M110.8 72.5h0.8M114.9 79.5h0.8M115.2 76.3h0.8M90.7 89.4h0.8M103.9 86.1h0.8M109.9 81.5h0.8M124.4 78.4h0.8M119.1 68.2h0.8M114.1 75.9h0.8M103.7 78.2h0.8M109.5 87.3h0.8M85.7 79.8h0.8M98.1 85.3h0.8M100.9 81h0.8M101.2 82.2h0.8M115.5 74.9h0.8M105 69.7h0.8M108.7 82.7h0.8M99.8 84.9h0.8M82.5 69h0.8M90.3 76.4h0.8M105.3 77.5h0.8M104.7 82.2h0.8M99.6 71.1h0.8M93.1 91.3h0.8M80.4 79h0.8M120.6 79.6h0.8M96.4 78.7h0.8M114.7 84.3h0.8M96 83.2h0.8M108.3 84.2h0.8M119.5 74.8h0.8M90.1 81.5h0.8M124 80.5h0.8M108.6 91.7h0.8M94.6 84.1h0.8M99.2 78.8h0.8M106.7 86.7h0.8M95.1 75.7h0.8M88.7 82.2h0.8M100.5 80.8h0.8M86.1 80.9h0.8M117.5 76.3h0.8M112.8 84.1h0.8M94.5 67.5h0.8M117.4 79.7h0.8M113.3 59.3h0.8M74.2 66h0.8M91.7 93.3h0.8M110.9 79h0.8M106 87.7h0.8M98.9 85.6h0.8M100.5 60.2h0.8M99.5 94.8h0.8M96.5 80.8h0.8M92.8 78.3h0.8M118.6 75.2h0.8M81.7 55.1h0.8M90.5 64.4h0.8M77.3 93.8h0.8M109.4 61h0.8M116 82.7h0.8M92.5 90.2h0.8M76.4 74.6h0.8M79.3 74.9h0.8M113 66h0.8M83.9 75.6h0.8M104.8 77.3h0.8M113.9 71.8h0.8M82.7 80.1h0.8M101.3 72.2h0.8M110 97h0.8M94 83.1h0.8M121.1 70.9h0.8M87.9 73.3h0.8M109.2 84.5h0.8M100.3 81.7h0.8M122.7 85.2h0.8M81.7 85h0.8M105.2 87.2h0.8M97.7 75.5h0.8M92.1 65.6h0.8M100.7 75.3h0.8M107.1 69.9h0.8M93.8 73h0.8M87.7 90.5h0.8M96 86.3h0.8M85.8 85h0.8M76.3 81.3h0.8M95.7 87.7h0.8M104.3 78.6h0.8M114.6 80h0.8M111.3 86.3h0.8M100.4 78.2h0.8M105.9 75.9h0.8M109.7 89.9h0.8M113.7 74.6h0.8M82.9 84h0.8M102.1 91.4h0.8M95.8 79.9h0.8M111.7 74.1h0.8M102.7 97.1h0.8M124.9 82.1h0.8M103.9 70.9h0.8M110.1 79.6h0.8M104.1 75.2h0.8M101.3 79h0.8M109.1 93h0.8M104 64.2h0.8M84.6 68.9h0.8M91.2 88.3h0.8M106.6 73.9h0.8M104.3 72.9h0.8M78.3 71.9h0.8M91.9 96.4h0.8M84.5 96.2h0.8M120.9 75.1h0.8M99.9 75.1h0.8M102.7 86.9h0.8M103.8 89.9h0.8M119.8 80.3h0.8M106.4 79.1h0.8M104.7 69.3h0.8M108.1 81.4h0.8M93.1 103.2h0.8M85.8 75.5h0.8M102.2 61.8h0.8M87.2 68.9h0.8M87.3 82.3h0.8M108.5 90h0.8M115.8 89.3h0.8M109.5 74.6h0.8M117.2 72.8h0.8M95.6 96.7h0.8M113.7 80.4h0.8M114.4 86.6h0.8M81.5 83.8h0.8M84.6 85.3h0.8M94.4 95.3h0.8M107.8 71.6h0.8M99.1 69.4h0.8M103.3 85.6h0.8M101.9 61.9h0.8M97.7 86.4h0.8M108.4 90.5h0.8M83.8 89.3h0.8M92.5 84.4h0.8M108.9 85.8h0.8M93.5 84.1h0.8M81.8 71h0.8M109.7 78.5h0.8M76.3 77.5h0.8M104.9 95.1h0.8M118.5 84.9h0.8M75.2 85h0.8M109.4 82.9h0.8M107.3 77.2h0.8M130.3 89.1h0.8M98.4 71.8h0.8M130.8 69.4h0.8M122.8 94.8h0.8M88.3 86.1h0.8M97.5 86.5h0.8M110 97.8h0.8M110.3 78.8h0.8M117.7 74.7h0.8M100.5 102.6h0.8M88.6 78.5h0.8M100.3 70.7h0.8M72.6 96.7h0.8M89.1 77.9h0.8M94.3 72.6h0.8M86.1 85.3h0.8M138.3 80.3h0.8M109.8 64.4h0.8M99 69.7h0.8M112.5 76.2h0.8M102 79.7h0.8M90.2 68.2h0.8M107.5 66h0.8M83.7 81.4h0.8M91.7 85.2h0.8M116.9 79.9h0.8M104.6 80.3h0.8M110.8 60.9h0.8M105.3 70.8h0.8M83.5 84.3h0.8M97 87.2h0.8M113.4 55.7h0.8M104.3 99.1h0.8M117.1 91.5h0.8M100.4 67h0.8M86.4 90.6h0.8M114.3 71h0.8M98.2 83.9h0.8M75.2 82.6h0.8M129.5 96.2h0.8M103.5 98h0.8M92.4 74.6h0.8M70.5 96.2h0.8M100.5 103.5h0.8M106.9 81.4h0.8M77.9 100h0.8M96 80.2h0.8M70.9 95.8h0.8M115 72h0.8M103.8 84h0.8M116 78.7h0.8M126.5 73.2h0.8M91.9 78.1h0.8M62.8 80.7h0.8M117 80.1h0.8M90.3 86.3h0.8M71.5 84h0.8M110.7 85.6h0.8M92 91.5h0.8M128.4 71.1h0.8M109.7 63.9h0.8M74 92.2h0.8M102.7 82.4h0.8M92.6 79.7h0.8M116.9 94.2h0.8M95.4 65.9h0.8M121.6 82.5h0.8M112.1 80.3h0.8M136 74.5h0.8M105.8 61.9h0.8M91.9 76h0.8M102 84h0.8M94 99h0.8M85.2 79.7h0.8M102.9 68.3h0.8M111.3 84.9h0.8M101.1 99.3h0.8M103.5 83.1h0.8M84.5 67.9h0.8M91.9 79.6h0.8M96.5 89.2h0.8M64.5 77.2h0.8M77.4 98.6h0.8M92.5 77.6h0.8M87.2 92.3h0.8M96.1 84h0.8M74 97.7h0.8M108.6 84.6h0.8M119.6 75.2h0.8M100.7 87.9h0.8M107.6 77.1h0.8M101.5 75.9h0.8M114.1 87.3h0.8M105.4 98.2h0.8M78.7 83.1h0.8M126.2 71.7h0.8M80.9 98.5h0.8M107.6 67.9h0.8M111.3 68.8h0.8M81.8 83.3h0.8M92.6 71.9h0.8M94.5 72.4h0.8M102.6 80.3h0.8M111.9 74.2h0.8M79.7 72.4h0.8M101.1 95.8h0.8M113.1 72.2h0.8M113.5 67.1h0.8M116 74.1h0.8M114.3 84.2h0.8M98.4 84.6h0.8M86 83.2h0.8M125.5 115.7h0.8M112.4 79.4h0.8M88.9 93.6h0.8M75.9 78.2h0.8M104.8 68.4h0.8M126.6 86.3h0.8M92.4 77.2h0.8M79.7 71.6h0.8M109.5 85.2h0.8M107.5 82.1h0.8M94.3 85.7h0.8M80.1 85.2h0.8M126.1 88.7h0.8M94.4 79h0.8M125.5 93.3h0.8M79 81.2h0.8M107.6 91.4h0.8M90.7 89.2h0.8M101.9 103.8h0.8M107.9 78.2h0.8M98.9 91.6h0.8M109.8 68.6h0.8M102.5 67.5h0.8M88.2 70.9h0.8M81 78.3h0.8M88.4 88.6h0.8M113.2 76.1h0.8M86.9 91.6h0.8M68.3 68.7h0.8M113.8 84.7h0.8M115.8 75.8h0.8M82.3 79.7h0.8M108.8 71.9h0.8M88.8 69.8h0.8M86.3 92.1h0.8M106.4 68.5h0.8M84.8 78.7h0.8M107.7 68.2h0.8M95.3 61.2h0.8M84.1 88.4h0.8M112.9 67.2h0.8M92 90.5h0.8M95.1 76.8h0.8M109.9 81h0.8M119.8 84.8h0.8M93.1 81.3h0.8M98.4 68.2h0.8M89.3 92.7h0.8M80.3 94.8h0.8M105.8 78.6h0.8M110.7 83.6h0.8M119 73.4h0.8M98.1 79.1h0.8M131.5 83.9h0.8M87.6 80.4h0.8M91.5 83h0.8M109.4 101.5h0.8M76.9 95.8h0.8M107 72.9h0.8M98.8 76.6h0.8M104.6 90h0.8M82 97.6h0.8M99.3 95.9h0.8M110.4 91h0.8M112.4 89.2h0.8M101.2 72.8h0.8M113.3 85.4h0.8M129.2 55.8h0.8M101.1 91.3h0.8M83.1 82.4h0.8M135.9 87.7h0.8M91.8 96.7h0.8M121 84.5h0.8M108.1 81.9h0.8M88.3 78.6h0.8M113.1 79.9h0.8M128.7 72.2h0.8M66.1 84.9h0.8M106.9 83.6h0.8M101.6 72.9h0.8M122.9 70.2h0.8M112.1 76h0.8M87.2 97.6h0.8M63.6 80.4h0.8M107.9 76.2h0.8M113 77.7h0.8M99.6 102.3h0.8M98.7 80h0.8M84.9 77.1h0.8M112.8 84.2h0.8M100.9 74.3h0.8M109.1 63h0.8M96.8 79.5h0.8M90.1 84.8h0.8M91 75.4h0.8M130.2 82.4h0.8M120.1 77.8h0.8M118 85.3h0.8M124.7 99.4h0.8M99.6 84h0.8M95 48.4h0.8M81.9 85.3h0.8M110.7 73.7h0.8M121.6 89.5h0.8M99.1 95.5h0.8M129.1 80.1h0.8M90.9 97.6h0.8M99.4 78h0.8M103.2 75.6h0.8M119.8 85h0.8M121.6 82.8h0.8M90.6 81.9h0.8M114.7 74.6h0.8M145.1 70h0.8M96.1 93.4h0.8M113.5 78.5h0.8M100 85.7h0.8M116.3 85.6h0.8M99 85.9h0.8M116.5 85.6h0.8M55.5 81.9h0.8M90.8 81.2h0.8M107 89h0.8M111.4 78h0.8M106.3 97.3h0.8M94.2 85.7h0.8M126.3 79.6h0.8M73.3 90.6h0.8M96.7 81.1h0.8M118.9 82.2h0.8M100.4 90.1h0.8M109.2 80.7h0.8M107.5 82.5h0.8M96.7 77.7h0.8M101.2 72h0.8M86.5 96.9h0.8M99 81.5h0.8M100.7 81.6h0.8M103.1 81.5h0.8M92.5 92.1h0.8M94.4 92.7h0.8M72.4 76.8h0.8M116.9 76.7h0.8M93.4 86.5h0.8M87.4 84.8h0.8M69.2 83.4h0.8M94.1 88h0.8M113.9 70.4h0.8M125.1 70.7h0.8M67.9 65h0.8M125.1 75.6h0.8M91.7 76h0.8M89.1 96.8h0.8M104.7 97.9h0.8M95.2 59.7h0.8M114.3 75.1h0.8M102.1 96.3h0.8M100.9 92.6h0.8M101.1 74h0.8M108.9 73.9h0.8M122.5 86.3h0.8M104.7 86.5h0.8M110.4 76.8h0.8M115.3 76.2h0.8M109.9 70.3h0.8M104.9 84.6h0.8M90.2 79.5h0.8M96.2 89.4h0.8M92.9 87.2h0.8M125.8 79.8h0.8M79.2 87h0.8M117.5 75.3h0.8M120.2 83.5h0.8M108.4 77.4h0.8M94.7 80.2h0.8M104.7 85.7h0.8M108.4 77h0.8M104.5 84.5h0.8M77.4 78.8h0.8M90.7 81.6h0.8M98.3 79.5h0.8M91.3 89.9h0.8M103.8 65h0.8M100.9 70.6h0.8M127 71.8h0.8M97.2 83.1h0.8M99.8 81.2h0.8M126 78.6h0.8M117.3 89.1h0.8M91.7 99.7h0.8M114.8 88h0.8M91.7 91.3h0.8M108 74.9h0.8M137.5 79.6h0.8M99.7 83.6h0.8M118.4 88.9h0.8M113.8 90.7h0.8M122.2 65.2h0.8M94 73.8h0.8M107.1 94.3h0.8M110.6 69.4h0.8M100.6 91.6h0.8M94.9 81.8h0.8M104 63.3h0.8M115 82h0.8M109.4 70.3h0.8M90.5 77.9h0.8M106.7 81h0.8M108.2 97.4h0.8M120.8 70.5h0.8M96.6 99h0.8M100.9 94.9h0.8M125.4 71.3h0.8M99.1 82.7h0.8M88.4 74.6h0.8M98.6 90.3h0.8M96 80.5h0.8M93.5 69.8h0.8M120.3 54.9h0.8M94.4 88.3h0.8M83.6 90.9h0.8M119.7 69.4h0.8M103.9 70.2h0.8M110.5 80.4h0.8M108.7 93.2h0.8M112.4 92.3h0.8M110 68.1h0.8M107.7 84.9h0.8M84.2 97.8h0.8M104.6 84.3h0.8M89.9 84.5h0.8M106.7 77.2h0.8M100.1 61.1h0.8M120.8 66.7h0.8M69 78.7h0.8M91.7 88.7h0.8M90 86.5h0.8M93 104.5h0.8M114.6 97.7h0.8M89.2 90.3h0.8M89.9 89.3h0.8M109.9 64.2h0.8M84 73.6h0.8M79.4 78.8h0.8M86 70.5h0.8M105.3 85.9h0.8M82.5 79.8h0.8M102.5 78.9h0.8M94.1 90.7h0.8M116.6 84.9h0.8M103.5 100.2h0.8M127.6 72.1h0.8M103.3 92.5h0.8M91.8 87.2h0.8M102.1 74.4h0.8M96.4 67.1h0.8M91 64.1h0.8M139.1 88.3h0.8M121.4 80.2h0.8M119.8 89.9h0.8M119.4 86.6h0.8M90.1 87.8h0.8M92.6 71.6h0.8M86.7 88.4h0.8M115.6 65.2h0.8M131.1 89.5h0.8M96.2 77.8h0.8M103.4 90.4h0.8M94.9 71.9h0.8M103.8 60.8h0.8M106.9 91.4h0.8M108.6 87.4h0.8M111.2 86.3h0.8M103.2 72.8h0.8M99.2 81h0.8M124.2 92.4h0.8M107.4 72.7h0.8M91.5 81.4h0.8M123.6 80h0.8M100.3 74h0.8M116.1 81.1h0.8M102 82.1h0.8M127.1 74.5h0.8M129.8 87.5h0.8M105 89.1h0.8M99.2 73.7h0.8M96.9 73.4h0.8M110.1 79.6h0.8M112.5 87h0.8M57.3 93.2h0.8M76.4 87.9h0.8M89.9 84.6h0.8M119.5 61h0.8M105.3 79.7h0.8M76 92.7h0.8M102.1 76.2h0.8M98.1 113.1h0.8M93.4 65.4h0.8M88.2 80.4h0.8M96.8 81.4h0.8M88.2 89.2h0.8M92.9 69.8h0.8M89.9 79.8h0.8M116 83h0.8M97.7 82.2h0.8M109.6 99.3h0.8M94.4 87.2h0.8M111.5 70h0.8M105.7 82h0.8M96.8 87.7h0.8M119.9 88.5h0.8M100.1 83.3h0.8M135.1 63.7h0.8M107.5 88.6h0.8M106 86.7h0.8M106.6 87.5h0.8M121 75.1h0.8M105.4 79.9h0.8M96.6 82h0.8M87.4 91.3h0.8M130.8 91.8h0.8M119.5 68.2h0.8M123.6 69.8h0.8M105.3 98.3h0.8M88.4 92h0.8M106.4 78.7h0.8M90.5 87.5h0.8M97.8 92.1h0.8M118 64.5h0.8M94.6 79.5h0.8M83.1 74.1h0.8M103.5 78.8h0.8M77.3 80.9h0.8M108 68.2h0.8M92 98.5h0.8M118.9 62h0.8M83.5 88.5h0.8M84.6 82.2h0.8M97 87.6h0.8M61.3 68h0.8M86.5 94.1h0.8M97.1 65.6h0.8M111.2 86.1h0.8M98.4 78.7h0.8M111.3 91h0.8M105.8 85.5h0.8M101.2 77.6h0.8M89.6 86.1h0.8M97.7 79.6h0.8M117.2 82.8h0.8M112.4 63.7h0.8M109.7 73.8h0.8M89.1 75.5h0.8M122 85.1h0.8M89.9 72.5h0.8M101.9 76.7h0.8M124.2 62.4h0.8M75.2 84.1h0.8M103 82.2h0.8M117.6 98.1h0.8M96.5 77h0.8M77.2 88.5h0.8M114.7 76h0.8M120 77.8h0.8M125.5 79.6h0.8M85.9 78.2h0.8M76.8 69.4h0.8M108.2 88.3h0.8M131.2 74.7h0.8M97 71.4h0.8M117.8 81.7h0.8M95.2 89.2h0.8M107.3 61.9h0.8M113.8 80.1h0.8M96.1 78.3h0.8M131.2 90.1h0.8M127.3 64.9h0.8M94.7 91.4h0.8M83.5 77.9h0.8M79.6 103.6h0.8M119.1 82.1h0.8M105 76.5h0.8M97.9 87.9h0.8M94.5 94.5h0.8M93.7 74.3h0.8M121.4 75.8h0.8M110 75.5h0.8M70.6 92.8h0.8M84.8 95.1h0.8M76.3 68.3h0.8M107.9 84h0.8M101.9 69.4h0.8M112.9 64.7h0.8M94.3 75h0.8M98.7 90.1h0.8M94.3 88.1h0.8M109.6 63h0.8M84.7 80.9h0.8M94.5 85.6h0.8M75.6 93.5h0.8M113.2 77.2h0.8M82.3 85.2h0.8M95.8 87.9h0.8M102.7 88h0.8M99 95.7h0.8M66.8 78.4h0.8M107 65.5h0.8M111.1 67.5h0.8M102.2 72.2h0.8M96.4 83.9h0.8M100.3 77.8h0.8M134.3 74.7h0.8M90.1 92.5h0.8M117 89.9h0.8M127.1 66.9h0.8M120.3 88.5h0.8M103.1 83.3h0.8M57.4 84.6h0.8M125.5 59h0.8M95.3 85.3h0.8M114.1 94.5h0.8M76.8 86.7h0.8M112.8 66.2h0.8M105.6 98.7h0.8M123 82.1h0.8M63.9 87.6h0.8M107.7 77h0.8M107.5 109.9h0.8M97.6 72.6h0.8M105.6 77.3h0.8M97.9 81.1h0.8M114.4 80.9h0.8M84.7 83.3h0.8M108.7 75.2h0.8M121 84.8h0.8M88.6 86.9h0.8M134.7 89.6h0.8M103.5 89.5h0.8M90 69.5h0.8M111.2 81.6h0.8M110.1 79.2h0.8M106.4 75.3h0.8M111.1 87.3h0.8M103.3 88.8h0.8M75.1 79h0.8M127.2 93.1h0.8M106.1 79.3h0.8M84.6 88.2h0.8M111.2 64.9h0.8M111.7 83.9h0.8M107 69.2h0.8M107.7 65.4h0.8M124.7 77.8h0.8M88 97h0.8M118.3 71.5h0.8M133.1 65.1h0.8M109.4 91.1h0.8M71.1 97.1h0.8M101.6 81h0.8M87.4 87.3h0.8M84.5 75.3h0.8M93.7 70.9h0.8M123.2 63.9h0.8M90.9 80.3h0.8M104.1 88.4h0.8M114.1 75.7h0.8M97 82.5h0.8M116 85h0.8M91.1 63.4h0.8M135.9 83.5h0.8M107.1 83.4h0.8M93 73.2h0.8M97.3 79.9h0.8M90.7 69.3h0.8M99.1 87.3h0.8M95.4 82.7h0.8M71.8 85.2h0.8M98.5 69.9h0.8M78 90h0.8M91.6 88h0.8M97.6 88.1h0.8M94.8 68h0.8M100.7 78.2h0.8M111.4 74.8h0.8M98.4 90.2h0.8M121.2 84.6h0.8M118.7 82.1h0.8M115.6 86.9h0.8M108.7 80.4h0.8M109.2 103h0.8M102.4 78.8h0.8M97.2 81.8h0.8M104.1 69.7h0.8M74 89.7h0.8M79.5 88.2h0.8M106.8 91.3h0.8M127.8 79.4h0.8M92.2 71.7h0.8M91 83.7h0.8M72.3 87.9h0.8M103.6 87h0.8M97.9 82.9h0.8M90.9 78.9h0.8M76.8 87.4h0.8M125.7 77.9h0.8M106.1 70.8h0.8M122.2 69.6h0.8M114.6 79.6h0.8M90.4 93.4h0.8M103.2 82.6h0.8M109.2 79.5h0.8M97.9 86.5h0.8M96.8 82.8h0.8M90 69.1h0.8M91.8 78.4h0.8M105.1 92h0.8M78 87.2h0.8M68.1 77.9h0.8M90.9 61.5h0.8M75.6 88h0.8M103.5 79.7h0.8M94.9 103.5h0.8M98.6 73.5h0.8M128.4 81.7h0.8M99.4 93.2h0.8M106.1 86.5h0.8M104.1 70.7h0.8M117.2 79.6h0.8M86.3 76.9h0.8M115.9 74.7h0.8M104.5 87h0.8M101.6 66.4h0.8M113.7 87.8h0.8M118.4 93.5h0.8M109.4 87.1h0.8M125.4 73.6h0.8M131.4 92h0.8M117.6 95.8h0.8M113.5 70.3h0.8M119.9 80.6h0.8M109 81.2h0.8M123.6 82.1h0.8M93.3 87.6h0.8M112 72.1h0.8M95.5 78.7h0.8M94.3 86.1h0.8M121.1 95.6h0.8M122.1 87h0.8M121.9 90h0.8M98.4 88.6h0.8M107.1 78.8h0.8M95 77.7h0.8M96.3 70.3h0.8M110.2 79.2h0.8M104.8 83.8h0.8M112.1 73.3h0.8M98 66.3h0.8M66.3 69.5h0.8M121.7 59.4h0.8M112.3 93.3h0.8M98.9 97.5h0.8M131.5 84.3h0.8M138.7 79.7h0.8M92.9 88.1h0.8M93.7 70.2h0.8M88.3 106.4h0.8M94.7 82.4h0.8M93.2 84.3h0.8M98.5 78h0.8M82.3 71.5h0.8M92.4 86h0.8M135.3 84.7h0.8M130.5 80.2h0.8M99.1 69h0.8M98.8 61.1h0.8M101.5 97.2h0.8M109.9 90.6h0.8M94.7 69.4h0.8M95.1 78.9h0.8M124.4 95.9h0.8M91.4 80h0.8M100.2 78.3h0.8M84.9 85.7h0.8M109.1 83.7h0.8M85.1 83.7h0.8M79.2 94.9h0.8M87.5 81.7h0.8M95.3 77.1h0.8M84.2 67.9h0.8M129 78.4h0.8M110.9 99.9h0.8M102.7 86.6h0.8M105.6 92.2h0.8M111.1 82.6h0.8M99.9 84.6h0.8M116.3 58.4h0.8M100.4 77.7h0.8M95 63.7h0.8M112.3 71.2h0.8M98.9 77.2h0.8M77.7 82h0.8M74.3 77.9h0.8M98.5 82.1h0.8M103.7 79.8h0.8M135.4 78.9h0.8M84 79.1h0.8M93.1 81.5h0.8M92.7 75h0.8M127.5 76.7h0.8M97.7 79.9h0.8M102.6 94.8h0.8M112.3 90.2h0.8M57.9 93.5h0.8M122.5 96.4h0.8M100.4 65.1h0.8M110.7 73.9h0.8M75.7 80.8h0.8M121 89.3h0.8M111.8 69.3h0.8M138 62.8h0.8M99.3 68h0.8M123.4 81.5h0.8M116.4 79.4h0.8M102.6 83.1h0.8M77.4 96.1h0.8M115.9 74.9h0.8M103.6 84.1h0.8M127.2 80.6h0.8M102.9 76.4h0.8M80.1 80.2h0.8M103.9 78.7h0.8M105.8 88h0.8M110.2 82.5h0.8M113.3 81.1h0.8M103.8 85.8h0.8M80.3 98.1h0.8M86 92.9h0.8M105.7 91.6h0.8M102.1 72.4h0.8M119.5 79.8h0.8M105.3 81.7h0.8M119.7 85.9h0.8M103.9 66.2h0.8M97.7 83.5h0.8M130.6 79.6h0.8M104.4 92.7h0.8M101.8 81.4h0.8M103 66.9h0.8M118.4 82.5h0.8M97.2 71.6h0.8M109.3 93.7h0.8M92.1 73.4h0.8M106.7 65.2h0.8M70 83.8h0.8M92.9 80.8h0.8M96.1 86.1h0.8M99.2 76.4h0.8M98 88.6h0.8M119.4 86.9h0.8M107.6 48.6h0.8M88.2 81.4h0.8M103.5 65.7h0.8M125.1 80h0.8M94.8 84.7h0.8M97.1 75.3h0.8M110.2 75.6h0.8M81.6 79.7h0.8M99.9 71.7h0.8M120.1 67.5h0.8M131.1 84.5h0.8M90 85.4h0.8M120.6 76.1h0.8M86.3 86h0.8M130.1 61.6h0.8M111.8 79.8h0.8M101.2 78.1h0.8M101 92h0.8M110.6 70.4h0.8M124.2 64.7h0.8M113.8 81.2h0.8M122 81.2h0.8M119.2 78.1h0.8M118.7 81.8h0.8M134.1 68.6h0.8M122.2 82.2h0.8M105.3 75.7h0.8M107.6 66.4h0.8M85 92.2h0.8M83.7 99.5h0.8M100.3 84.6h0.8M105.7 85.2h0.8M99 78.9h0.8M104 91.6h0.8M122.9 90h0.8M108.8 78.5h0.8M80.4 92.5h0.8M115.5 75.2h0.8M118.2 91.1h0.8M107.2 91h0.8M105.1 64.4h0.8M96.1 79.1h0.8M110 71.9h0.8M95.6 73.8h0.8M103.4 82.3h0.8M119.7 86h0.8M106.7 83.2h0.8M105.7 82.2h0.8M121.9 53.7h0.8M101.9 84.9h0.8M118.4 67.9h0.8M110.6 88.5h0.8M93.7 65h0.8M96.3 71.4h0.8M111.8 71.6h0.8M130.3 77.5h0.8M91.1 79.2h0.8M88.6 88.4h0.8M125.4 75h0.8M115.7 70h0.8M112.8 102h0.8M85.5 97.2h0.8M117.6 60.5h0.8M80.9 76.7h0.8M117.3 74.6h0.8M102.7 88.6h0.8M106 83.2h0.8M101.3 92.9h0.8M95.6 99.4h0.8M97.4 75.1h0.8M114.2 83.8h0.8M75.2 89.4h0.8M82.4 77.8h0.8M113.8 71.1h0.8M108.3 76.9h0.8M132.1 74.8h0.8M84.4 74.7h0.8M90.7 85.3h0.8M105.6 90.5h0.8M106.5 82.1h0.8M108.3 79.3h0.8M109.5 87.8h0.8M114.2 74h0.8M76.2 79.2h0.8M103.1 57.4h0.8M97.5 87h0.8M93.3 72.7h0.8M132 89.1h0.8M102.3 94.5h0.8M120.6 67h0.8M141.2 64.7h0.8M97.6 72h0.8M102.2 68.9h0.8M105.5 91.5h0.8M106.2 78.3h0.8M124.5 68.4h0.8M117.2 75.6h0.8M106.7 81h0.8M105.2 80.5h0.8M90.9 78.4h0.8M109.7 79h0.8M85 78.2h0.8M93.1 82.8h0.8M106.2 81.6h0.8M93.8 83.4h0.8M77.7 58.5h0.8M99.4 66h0.8M87.1 72.8h0.8M110.2 68.1h0.8M106.3 75.8h0.8M82 70.2h0.8M110.6 83.4h0.8M117.9 95.9h0.8M107.6 83h0.8M101.4 82.5h0.8M96.1 73.8h0.8M128.7 57.8h0.8M107.5 84.5h0.8M103.3 71.7h0.8M99.2 77.4h0.8M86.9 83.8h0.8M95.7 77.1h0.8M110.8 69.1h0.8M108 74h0.8M109.1 80.4h0.8M104.3 71.2h0.8M89.6 75.3h0.8M106.5 87.4h0.8M117.5 73.1h0.8M100.7 65.7h0.8M68.3 79.5h0.8M89.8 68.5h0.8M77.4 91.2h0.8M87.5 67.7h0.8M136.8 75.6h0.8M99 88.1h0.8M94.2 97.9h0.8M77.3 73.3h0.8M98.8 74.2h0.8M119.9 61.8h0.8M91.9 85.2h0.8M112.3 88.5h0.8M111.3 100.3h0.8M95.5 83.8h0.8M114.1 75.3h0.8M96.9 77.4h0.8M90.5 72.2h0.8M91 68h0.8M104.6 64.9h0.8M135.4 90.4h0.8M117.7 75.5h0.8M95.6 93.8h0.8M105.6 85.4h0.8M93.3 92.7h0.8M90.3 84.1h0.8M75.3 79.8h0.8M108.3 75h0.8M96.7 89.3h0.8M103.1 92.4h0.8M67.5 93.1h0.8M106.3 64.9h0.8M84.4 92.7h0.8M84.9 77.9h0.8M109.9 75.8h0.8M107.1 71.2h0.8M108.1 89.8h0.8M102.4 59.4h0.8M111.4 79.3h0.8M91.1 96.3h0.8M79.7 103.2h0.8M95.4 97.1h0.8M98.6 68.5h0.8M103.7 83.5h0.8M111.6 88.9h0.8M89.5 87.9h0.8M112 76h0.8M86.2 74.6h0.8M114.2 85.8h0.8M87 70.7h0.8M116.9 62.6h0.8M102.5 72.7h0.8M76.2 87h0.8M101.6 94.6h0.8M134.6 72.2h0.8M118.6 87.3h0.8M92.4 74.2h0.8M124.6 72.5h0.8M100.8 78h0.8M98.6 75.4h0.8M115 90.1h0.8M93.6 69h0.8M99.6 66.7h0.8M94.6 93.9h0.8M136.3 77.2h0.8M87.6 91h0.8M67.5 80.9h0.8M125.4 83h0.8M78.4 69.3h0.8M114.1 77.7h0.8M93.8 86.2h0.8M89.7 64.5h0.8M112.3 72.2h0.8M84.5 71.3h0.8M103.8 72.4h0.8M110.3 76.3h0.8M116.8 73.9h0.8M88.4 64.3h0.8M87 90.6h0.8M144 60h0.8M87.1 86.9h0.8M107.4 73h0.8M99.8 65.5h0.8M99 89.9h0.8M125.3 74.3h0.8M98.7 85.6h0.8M118.8 81.9h0.8M91.4 86.2h0.8M114.5 71.2h0.8M83.1 89.3h0.8M108.9 88.5h0.8M101.8 74.4h0.8M93.4 72.4h0.8M86.8 78.3h0.8M96.7 92.4h0.8M83.7 83.9h0.8M95.9 96.2h0.8M104.9 76.4h0.8M113.8 78.9h0.8M97.7 96.3h0.8M115.4 94.6h0.8M120.2 84.4h0.8M101.7 70.3h0.8M112.3 79.3h0.8M111.7 78.6h0.8M89.9 73.4h0.8M114.5 90.6h0.8M98.5 85.8h0.8M120.5 68.9h0.8M94.8 71.4h0.8M119.6 79.7h0.8M92 66.8h0.8M101.1 90.5h0.8M96.8 77.7h0.8M109 67.4h0.8M103.8 86.1h0.8M89 75.4h0.8M105.4 79.1h0.8M98.9 83.4h0.8M103.5 71.5h0.8M93.1 86.9h0.8M120.9 90h0.8M91.7 93.4h0.8M113 78.2h0.8M110.7 87h0.8M126.1 65.7h0.8M110.5 77.7h0.8M101.2 92h0.8M112.1 69h0.8M98.3 83.7h0.8M83.1 92.9h0.8M101.3 82.5h0.8M110.3 96.5h0.8M101.9 77.4h0.8M126.5 71h0.8M91.8 69.6h0.8M118.3 80.1h0.8M109.3 80.9h0.8M98.7 74h0.8M91.6 87.1h0.8M107 95.5h0.8M90.1 78.6h0.8M89.8 96.5h0.8M85.6 91.6h0.8M122.8 75.3h0.8M108.7 59.1h0.8M93.4 66.7h0.8M104.7 80.4h0.8M92.7 91.8h0.8M106.3 75h0.8M92 68.8h0.8M103.4 100.9h0.8M92.6 86.8h0.8M95.7 89.8h0.8M108.1 77.4h0.8M75.3 81.4h0.8M119.2 75.1h0.8M110.4 74.6h0.8M75.9 90.3h0.8M105.8 74.6h0.8M97.3 84.6h0.8M94.2 85.8h0.8M94.8 59.8h0.8M99 75.8h0.8M90.8 87h0.8M96.1 87.3h0.8M118.4 78.9h0.8M78.4 78.7h0.8M115 75.8h0.8M90.3 82.4h0.8M110 81.8h0.8M110.1 71.4h0.8M97.8 79.4h0.8M98 61.6h0.8M96.3 69.2h0.8M125.4 91.1h0.8M128.2 83.4h0.8M97 91.1h0.8M100.5 87.1h0.8M88.1 78.1h0.8M112.4 95.8h0.8M106.1 101.7h0.8M140 61h0.8M100.1 72.2h0.8M99.3 76.4h0.8M103.1 90h0.8M116.5 80.5h0.8M102.6 82h0.8M105.2 85.8h0.8M103.4 85.5h0.8M84.8 92.1h0.8M128.1 77.4h0.8M84.3 97.5h0.8M92 54.4h0.8M100.3 87.1h0.8M110.3 91.2h0.8M111.6 80.2h0.8M71.6 76.5h0.8M106.3 86.6h0.8M86.3 78.3h0.8M105.7 61.9h0.8M73.6 84.5h0.8M105.2 75.8h0.8M69.1 87.9h0.8M84.3 90.9h0.8M101.4 83.7h0.8M110.7 74.2h0.8M116.8 89.9h0.8M110.7 92h0.8M95 91.2h0.8M104.5 71h0.8M100.3 76.3h0.8M94.5 83.4h0.8M117.3 74.9h0.8M101.5 67h0.8M106.1 91.2h0.8M115.1 82.9h0.8M92.9 73.5h0.8M98.5 68.9h0.8M86.2 93.3h0.8M92.4 100.2h0.8M82.4 89.1h0.8M85.7 86h0.8M87.3 84.4h0.8M99.3 77.2h0.8M112.7 93.3h0.8M95.5 90.8h0.8M103.6 80.4h0.8M130.3 54.4h0.8M89.1 66.2h0.8M97.4 79.7h0.8M158.5 72.9h0.8M131 87.6h0.8M96.9 86.6h0.8M127 77.6h0.8M106.4 84.9h0.8M79 77.9h0.8M108.3 85h0.8M88.4 80.7h0.8M100.3 79.9h0.8M112.7 79.9h0.8M102.2 67.4h0.8M87.6 87h0.8M79.7 88.1h0.8M91.2 75.4h0.8M110.5 72.7h0.8M88.6 77.2h0.8M108.3 106.1h0.8M71.4 87h0.8M100.6 90.4h0.8M92.3 59.1h0.8M119.6 66.9h0.8M98.8 68.4h0.8M85.3 79.5h0.8M116.3 86.1h0.8M94.4 87.3h0.8M97 83h0.8M105.6 86.1h0.8M93 81.4h0.8M105.5 81h0.8M93.8 99.1h0.8M96.9 89.2h0.8M107.4 91.5h0.8M74.1 106.3h0.8M96.7 70.1h0.8M108.3 101.3h0.8M107.2 67.9h0.8M97.9 94.5h0.8M81.3 83.3h0.8M101.9 101.7h0.8M100.3 93.8h0.8M90.7 75.4h0.8M117.9 83.6h0.8M78.1 91.8h0.8M110.3 73.2h0.8M105.8 82.6h0.8M93.9 76.8h0.8M91.8 80.3h0.8M82.6 84.3h0.8M80.4 85.9h0.8M98.9 71.5h0.8M118.1 96.2h0.8M118.8 64.2h0.8M121.1 79h0.8M100.2 75.4h0.8M104.5 93.6h0.8M109.2 75.3h0.8M91.5 78.9h0.8M114.1 96.3h0.8M86.6 83.9h0.8M95 75h0.8M108.9 84.7h0.8M79.4 75.4h0.8M120 80.2h0.8M108.7 74.6h0.8M97.3 86.1h0.8M92.7 72h0.8M103.7 89.1h0.8M89 93.6h0.8M110.6 70.7h0.8M102.1 80.4h0.8M112.5 85.1h0.8M80.5 72.2h0.8M117.2 78.8h0.8M108.7 82.6h0.8M122.1 65.1h0.8M116.4 70h0.8M115.1 91h0.8M82.7 88.6h0.8M97.5 78.9h0.8M100.7 71h0.8M89.2 89.7h0.8M113.3 73.1h0.8M85.2 106.4h0.8M118.7 80.9h0.8M86 78.5h0.8M103.8 71.2h0.8M125.6 77.3h0.8M105.8 70.2h0.8M87.4 76.2h0.8M105.6 77.5h0.8M98.4 84.5h0.8M108.1 93.7h0.8M97.3 72.1h0.8M104.6 94.3h0.8M94.1 82.9h0.8M97.6 85.5h0.8M104.3 72.6h0.8M100.5 90.1h0.8M119.6 86h0.8M113.9 75.2h0.8M98.5 90.4h0.8M85 83.7h0.8M74.5 82.8h0.8M89.6 71.8h0.8M109.1 72.4h0.8M96.3 79.5h0.8M94.1 96h0.8M95.3 84h0.8M82.3 80.3h0.8M96.8 78.9h0.8M93.9 83.8h0.8M124.3 75h0.8M99.3 77.6h0.8M141.7 88.1h0.8M111.4 85.6h0.8M91.5 81.5h0.8M105.3 81.3h0.8M88.3 76.2h0.8M110.1 82.1h0.8M71.8 87.8h0.8M119.2 71.2h0.8M102.9 66.8h0.8M112 68.2h0.8M83.4 81.6h0.8M135.1 68.3h0.8M84.7 88.7h0.8M108.5 95.3h0.8M80.9 70h0.8M98.2 85.2h0.8M109.3 89.7h0.8M79 77.6h0.8M101.8 88.9h0.8M108.2 75.6h0.8M89 91.8h0.8M120.8 102.8h0.8M102.5 96.2h0.8M83.7 79.4h0.8M91.5 78.6h0.8M88.5 78.4h0.8M100.5 76.9h0.8M111.5 78.1h0.8M104.8 94.3h0.8M106.9 81.3h0.8M101.9 81.4h0.8M108.9 71.8h0.8M121.5 91.8h0.8M117.8 73h0.8M78.4 81.5h0.8M105.9 87.9h0.8M98.9 78.6h0.8M122.8 70.3h0.8M119.1 86h0.8M83.5 87.2h0.8M92.3 73.8h0.8M72.6 71.9h0.8M107.4 76.1h0.8M104.1 70.3h0.8M97 79.3h0.8M76.8 70.2h0.8M108.7 80.9h0.8M88.5 82.6h0.8M115 95.6h0.8M90.5 89h0.8M132.7 75.2h0.8M118.5 52.9h0.8M123 76.5h0.8M76.5 93.4h0.8M119.5 88.8h0.8M119.3 77h0.8M90.5 78.8h0.8M102.4 84.6h0.8M95.3 82.7h0.8M115.4 81.2h0.8M139.2 93.8h0.8M84.5 79h0.8M81.1 74h0.8M108.2 70.2h0.8M86.5 81.4h0.8M113 75.2h0.8M98.7 90.3h0.8M109.8 83.6h0.8M113.9 68.8h0.8M104 74.4h0.8M118.5 85.3h0.8M89.5 96.1h0.8M87.4 94.9h0.8M103.5 72.2h0.8M85.4 81.3h0.8M100.4 74.4h0.8M107.7 66.3h0.8M102 80.8h0.8M75.6 89.1h0.8M79.2 61.6h0.8M92.8 80.5h0.8M114.3 73.7h0.8M126.1 89.7h0.8M120.4 89.7h0.8M106.1 74.7h0.8M113.3 87.8h0.8M105.1 77.9h0.8M80.6 91.6h0.8M104.8 67.8h0.8M104.9 87.1h0.8M102 88.3h0.8M110.3 65h0.8M98.6 86.1h0.8M118 91.1h0.8M74.2 85.8h0.8M114.8 89.9h0.8M124.8 67.3h0.8M94.7 72.2h0.8M111.5 66.2h0.8M121 85.9h0.8M105.1 59.4h0.8M93.7 89.7h0.8M81.1 82.8h0.8M102.2 89.3h0.8M106.7 82.5h0.8M95.7 82.2h0.8M101.5 87.9h0.8M101.4 90.8h0.8M79.7 96.8h0.8M101.7 91.7h0.8M104.9 88.4h0.8M122.7 71.3h0.8M102.9 79h0.8M102.1 65.3h0.8M99.1 79h0.8M90.3 81.3h0.8M82.3 98.2h0.8M112.1 96.8h0.8M87.2 72.6h0.8M103 64.6h0.8M104 73.7h0.8M97.7 84.1h0.8M106.2 97.8h0.8M108.8 67h0.8M113.8 65.6h0.8M101 69.1h0.8M92.4 95.3h0.8M92.7 76.5h0.8M93.3 79.6h0.8M120.7 65.7h0.8M85.1 89.7h0.8M78.1 82.1h0.8M118.4 77.4h0.8M93.7 75.6h0.8M87.5 78h0.8M106.2 91.8h0.8M114.9 72.7h0.8M92.6 89.3h0.8M74.7 82h0.8M95.1 71.4h0.8M88 86.8h0.8M76.1 77.1h0.8M92.5 83.3h0.8M83.9 94.7h0.8M96.8 79.2h0.8M95.2 75.5h0.8M89.6 94.1h0.8M104.4 79h0.8M114.7 71.1h0.8M110.7 79h0.8M90.1 90.2h0.8M81.1 91h0.8M89.4 86.9h0.8M122.5 81.7h0.8M92.7 82.1h0.8M93.9 70.9h0.8M85.4 84.2h0.8M105.9 62.8h0.8M101.2 85.4h0.8M101 71h0.8M114 66.3h0.8M113.6 93.2h0.8M72.2 88.8h0.8M106.2 81.6h0.8M89.5 79.8h0.8M81.2 85.7h0.8M107.7 72.8h0.8M86.9 78.8h0.8M101.1 81h0.8M99.7 81.4h0.8M77.1 59.3h0.8M112.6 91.6h0.8M79.4 78.5h0.8M107.1 88.2h0.8M112.7 90.2h0.8M101 84.3h0.8M106.1 75.2h0.8M119.5 82.6h0.8M114.4 74h0.8M113.9 67.8h0.8M101.8 55.4h0.8M87.8 90h0.8M94.8 83.3h0.8M80.5 99.2h0.8M109.5 78.4h0.8M107.5 82.1h0.8M121.7 78.2h0.8M79.3 82.3h0.8M120.5 81.8h0.8M96 87.2h0.8M103.7 85.6h0.8M76.5 76.8h0.8M110.1 76.4h0.8M109.6 97.2h0.8M96.9 83.5h0.8M91.8 76.3h0.8M97.2 67.4h0.8M73.2 98.9h0.8M101.5 90.9h0.8M103 81.4h0.8M111.9 85h0.8M85.9 94.9h0.8M87.4 85h0.8M137.8 73.7h0.8M124.3 72.4h0.8M109.9 79.1h0.8M105.4 71.4h0.8M88.4 86.1h0.8M77 77.2h0.8M109 72.9h0.8M86.2 72.9h0.8M102.4 76.6h0.8M102.8 78.2h0.8M126.7 71h0.8M73.1 87.1h0.8M101.3 81.8h0.8M80 95.3h0.8M100.4 80.1h0.8M79.1 89.3h0.8M102.5 92.8h0.8M92.7 70.4h0.8M101.1 71.7h0.8M104.9 69.4h0.8M98.7 78.7h0.8M99.5 75.8h0.8M89.3 82.2h0.8M93 83.4h0.8M93 60.8h0.8M102.6 93.1h0.8M106.4 84.9h0.8M106.6 74.8h0.8M83.4 91.6h0.8M117.1 82.4h0.8M107.7 82.7h0.8M101.1 82.9h0.8M101.7 83.3h0.8M86.4 77.4h0.8M108.5 75.7h0.8M66.8 88.5h0.8M72 104.2h0.8M112.4 84.4h0.8M89.5 72.2h0.8M98 81.2h0.8M90.4 84h0.8M111.8 83.8h0.8M82.4 64h0.8M99.9 74.5h0.8M110.4 93.8h0.8M124.8 78.3h0.8M119.7 91.9h0.8M102.3 82.7h0.8M113.1 77.7h0.8M92.7 75.2h0.8M100.1 74.9h0.8M111.8 75.2h0.8M124 87.1h0.8M85.7 93.6h0.8M98 93.8h0.8M108.4 78.6h0.8M109.7 73.6h0.8M106.6 83h0.8M100 84.4h0.8M88.3 88.3h0.8M85.5 89.5h0.8M109.3 85.5h0.8M99.1 109.1h0.8M98.5 82.6h0.8M93.5 95.4h0.8M96.7 90.7h0.8M88.9 86h0.8M98.1 89.9h0.8M96 73.8h0.8M105.8 68.8h0.8M89.7 90.1h0.8M76.9 92.7h0.8M94.5 73.7h0.8M106.3 85.6h0.8M93.3 80.8h0.8M114.3 85.1h0.8M99.7 74.1h0.8M87.6 78.1h0.8M112.4 83.9h0.8M108.6 92.1h0.8M97.1 78.2h0.8M100 98.7h0.8M73.9 89.1h0.8M108.3 80.1h0.8M136.6 84.5h0.8M111.2 70.7h0.8M108.3 76.1h0.8M103.1 82.5h0.8M96.6 87.7h0.8M126.6 85.4h0.8M101.8 63.3h0.8M119.2 87.3h0.8M98.7 77.2h0.8M110 71.9h0.8M111.4 69.2h0.8M89.6 83.6h0.8M82.2 85h0.8M107.4 67.9h0.8M114.2 73.4h0.8M110.4 81.3h0.8M95.2 77.6h0.8M77.6 79.6h0.8M94.7 97.5h0.8M114.1 66.1h0.8M113.9 80.6h0.8M98 86.1h0.8M112.4 73.8h0.8M99 83.2h0.8M89.2 85.3h0.8M100.2 75.3h0.8M91.5 86h0.8M115.2 81.4h0.8M92.1 89.9h0.8M105.9 85.7h0.8M117 69.9h0.8M99.6 76.2h0.8M94.1 100.9h0.8M112.3 63h0.8M107.4 75h0.8M118.5 78.5h0.8M100.4 82.7h0.8M107.9 80.2h0.8M99.3 80.4h0.8M107.6 69.7h0.8M102.3 80h0.8M97.2 88.8h0.8M84.2 81.4h0.8M91.8 88.1h0.8M96.2 82.7h0.8M105.1 66h0.8M107.5 73.2h0.8M98.9 80.7h0.8M115 85.2h0.8M127.1 77.6h0.8M95.2 78h0.8M114.4 93.1h0.8M106.3 75h0.8M106.8 82.5h0.8M101.7 74.4h0.8M66.8 83.4h0.8M117.4 79.9h0.8M72.3 87.2h0.8M80.7 103.4h0.8M103.1 70h0.8M112.2 72h0.8M110.3 79.6h0.8M87.6 90.1h0.8M86.6 96.4h0.8M101.6 71.9h0.8M80.6 100.1h0.8M120.3 66h0.8M125.5 77.9h0.8M99.4 80.9h0.8M101.4 94.2h0.8M101.4 64.6h0.8M132.9 82.8h0.8M87 80.9h0.8M90.3 83.9h0.8M108.4 82h0.8M93 75.7h0.8M114.1 77.8h0.8M132.1 67.7h0.8M113.5 79.2h0.8M94.6 95h0.8M102.7 72.9h0.8M100 90.7h0.8M88.2 96.4h0.8M111.5 76.7h0.8M124.3 92.4h0.8M111.1 80.8h0.8M130.6 88.9h0.8M89.5 81.8h0.8M98.9 78h0.8M83.6 93h0.8M103.9 81.6h0.8M121 72.1h0.8M102.3 83.5h0.8M96.4 81.2h0.8M113.1 78.8h0.8M119.6 70.7h0.8M102.9 68h0.8M99.7 75.2h0.8M122.7 83.7h0.8M112.9 95.7h0.8M123.8 83.2h0.8M90.5 70.3h0.8M101.6 78h0.8M93.1 80.3h0.8M82.4 98.7h0.8M85.6 78.3h0.8M107.6 65.1h0.8M117 86.6h0.8M96.4 72.4h0.8M92.7 66.1h0.8M121.9 77.6h0.8M90.8 75.1h0.8M113.2 92.6h0.8M83.9 79.5h0.8M79.4 91.9h0.8M108.8 100.4h0.8M100.1 77.5h0.8M94.3 90.5h0.8M81.3 92.2h0.8M105.1 75.9h0.8M91.9 92.8h0.8M127.7 71.8h0.8M113.1 94.9h0.8M93.5 80.5h0.8M85.3 83.1h0.8M100.7 77.5h0.8M89.5 69.1h0.8M82.1 76.2h0.8M110.6 74.7h0.8M91.9 89.2h0.8M109.1 72.7h0.8M95 88.6h0.8M106.2 72.6h0.8M105.9 80.1h0.8M116.6 70.2h0.8M115.7 82.3h0.8M90.4 93.2h0.8M113 66.7h0.8M128.3 65.2h0.8M89.1 80.7h0.8M114.5 84h0.8M103.7 93.4h0.8M110.8 92.3h0.8M142.5 74.7h0.8M65.6 84.3h0.8M87.6 84.9h0.8M101.8 69.8h0.8M85.9 81.9h0.8M95.1 58.3h0.8M116.4 78.5h0.8M103 83.7h0.8M88 83.5h0.8M119.3 87.7h0.8M108.6 77.2h0.8M93.3 95.2h0.8M109.3 75.7h0.8M70.1 79.4h0.8M77.4 97.8h0.8M103.9 73.7h0.8M103.4 105.3h0.8M117.5 65.3h0.8M98.5 70.2h0.8M78.2 87.6h0.8M140.1 88.2h0.8M102.5 77.4h0.8M107.4 89.8h0.8M78.1 68.2h0.8M130.2 78.1h0.8M126.2 78.5h0.8M122.8 71.1h0.8M112.7 93.8h0.8M116.5 73.8h0.8M114.3 72.3h0.8M82.9 90h0.8M124.5 84.7h0.8M86 92.7h0.8M111.6 74.8h0.8M68.3 97.7h0.8M116.4 83h0.8M74.6 72.4h0.8M118.8 85.4h0.8M109.3 77.3h0.8M107.3 74.8h0.8M96.4 73.9h0.8M105.6 76.4h0.8M117.9 84.8h0.8M94.2 100.4h0.8M87 88.5h0.8M120.9 89.7h0.8M72.2 96.8h0.8M123.2 90.7h0.8M68.7 81.3h0.8M100.3 77.2h0.8M121 70.7h0.8M121.7 82.6h0.8M79.4 76.1h0.8M95.9 83.3h0.8M116.8 76.3h0.8M113 63.6h0.8M57.2 86.9h0.8M108.7 76.3h0.8M88.6 87.9h0.8M130.8 74.3h0.8M90.3 75.3h0.8M131.4 74.8h0.8M113.9 90.5h0.8M116.7 69.2h0.8M118.2 86h0.8M111.7 88.9h0.8M94.2 82h0.8M96.3 89.6h0.8M93.7 86.6h0.8M86.3 83.1h0.8M97.1 81h0.8M104.2 78.9h0.8M95.5 62.4h0.8M117.7 71.9h0.8M97.4 74h0.8M115.6 69.6h0.8M112.2 90.5h0.8M129 87.2h0.8M109.4 68h0.8M123.8 88.2h0.8M116.5 86h0.8M102.8 76h0.8M120.9 89.7h0.8M89.2 92.6h0.8M108 88.6h0.8M108.8 90.6h0.8M119.5 86.3h0.8M84.1 92.8h0.8M101.4 70.5h0.8M110.6 66.3h0.8M119.1 94.1h0.8M97.2 91.1h0.8M110.7 85.8h0.8M84.3 90.8h0.8M106.3 87.6h0.8M105.1 91.2h0.8M108.2 86.6h0.8M123.3 78.8h0.8M117.9 80.3h0.8M109.7 74.8h0.8M116.6 90.2h0.8M103.4 88.7h0.8M107.2 69.7h0.8M110.7 92.3h0.8M92.7 66.2h0.8M104.9 74.7h0.8M130.6 75.3h0.8M101.9 75.5h0.8M105.7 75.3h0.8M90 83.3h0.8M65 63.9h0.8M65.9 56.6h0.8M72.3 52.7h0.8M90.2 58.5h0.8M87.1 60.7h0.8M69.1 71.4h0.8M62.3 47.4h0.8M82.4 67h0.8M70.1 59.1h0.8M66.8 58.2h0.8M85 65.3h0.8M71.9 67h0.8M88.8 66.2h0.8M77.2 60h0.8M70.3 57.1h0.8M73.5 51.5h0.8M61.8 50.7h0.8M71.8 67h0.8M70.5 58.6h0.8M76.6 67h0.8M73.1 60.6h0.8M87.4 66.9h0.8M74.2 52.5h0.8M77.4 61.8h0.8M87.7 67h0.8M77.2 68.3h0.8M88.2 61.8h0.8M84.5 67.2h0.8M73.8 59.6h0.8M71.9 58.3h0.8M56.5 54.7h0.8M76.4 57.4h0.8M67.9 70.9h0.8M77.3 61.1h0.8M87.4 64.3h0.8M74 58.3h0.8M70.4 63.5h0.8M79.5 60.3h0.8M72.7 61.2h0.8M71 59.6h0.8M70.5 55.4h0.8M76.5 57h0.8M77.1 62h0.8M68.9 55.2h0.8M70.9 58.8h0.8M75 60.8h0.8M64.5 64.1h0.8M79.7 65.1h0.8M79.5 66.2h0.8M71.8 60.7h0.8M89.6 75.4h0.8M81.8 63.5h0.8M72.6 73.1h0.8M74.2 67.4h0.8M80.8 68.7h0.8M83.9 68.1h0.8M78.6 60.4h0.8M91 72.4h0.8M71.3 67.6h0.8M70.4 59.4h0.8M68.4 58.4h0.8M69.8 62.1h0.8M74.3 58.2h0.8M72 59.6h0.8M68.1 63.3h0.8M78 64.3h0.8M64.4 59h0.8M64.6 57.3h0.8M75.4 58.9h0.8M69.7 55.2h0.8M88.3 67.7h0.8M70.1 64.5h0.8M74.1 67.3h0.8M67.9 52.1h0.8M96.4 73.4h0.8M71.4 60.8h0.8M83.2 59.9h0.8M75.7 62.1h0.8M77.9 64.4h0.8M72.1 55.6h0.8M55 56.4h0.8M64.7 54.1h0.8M85.9 65.6h0.8M78.3 62.6h0.8M78.4 63.9h0.8M67.2 65h0.8M75 54.6h0.8M70.3 62.3h0.8M64.4 60.4h0.8M74 73h0.8M67.9 61.6h0.8M63.4 53.3h0.8M73.5 63.3h0.8M73.6 60.6h0.8M70.6 57.1h0.8M74.5 64.7h0.8M75.7 67.8h0.8M85.9 58h0.8M70.6 58.6h0.8M67 63.2h0.8M79 63.5h0.8M71.6 67h0.8M72.1 58.6h0.8M78.7 66.5h0.8M82.4 68h0.8M80 61.7h0.8M67.4 57.7h0.8M54.9 53.2h0.8M80.1 65.1h0.8M69.7 65h0.8M71.2 65.2h0.8M86.8 72.3h0.8M78.9 66.7h0.8M74.8 63.3h0.8M71.7 66h0.8M63.5 54.2h0.8M80.1 60.1h0.8M74.6 57.9h0.8M74.7 66.5h0.8M82.3 68.7h0.8M68.3 59.6h0.8M74.3 69.2h0.8M58.5 54.9h0.8M59.8 57.5h0.8M75.6 64.9h0.8M78.8 66.1h0.8M68.6 60.3h0.8M82 65.1h0.8M76.7 56.2h0.8M82.7 63.4h0.8M69.8 56.6h0.8M68.5 57h0.8M80.5 69.2h0.8M79.9 72.7h0.8M66.6 60h0.8M78.5 76.3h0.8M67.5 50.1h0.8M77.6 61.5h0.8M66.2 59.2h0.8M73.6 48.8h0.8M73.3 61.6h0.8M75.8 67.5h0.8M75.5 60.9h0.8M73 51.9h0.8M68.5 63.8h0.8M73.4 72.2h0.8M76.8 53.2h0.8M76.9 68.6h0.8M69.6 50.1h0.8M73.1 64.7h0.8M67 55.7h0.8M71.2 53.4h0.8M64.6 56.9h0.8M72.7 57h0.8M52.2 58.9h0.8M67.7 57.1h0.8M65.2 58.6h0.8M63.4 56h0.8M70.3 64.3h0.8M67.8 54.4h0.8M67.3 69h0.8M63.1 56.9h0.8M68.6 60h0.8M77.7 64.1h0.8M74.8 63.2h0.8M70.2 58h0.8M63.4 53.5h0.8M69.1 57.2h0.8M77.7 65.4h0.8M74.3 67.4h0.8M56.7 54.1h0.8M73.7 60.6h0.8M63.6 58.6h0.8M79 69.6h0.8M71.6 63.4h0.8M75.6 72.1h0.8M81.5 66.1h0.8M73.9 62.1h0.8M76.3 59.8h0.8M80.4 61h0.8M67.4 59.6h0.8M70.3 57.9h0.8M57.9 56.8h0.8M73.9 60.5h0.8M76.2 63.6h0.8M64.3 66.9h0.8M68.4 63.5h0.8M87.3 65.1h0.8M76.1 57.9h0.8M81.4 63.5h0.8M63.2 62.5h0.8M81.8 60.7h0.8M81.1 66.2h0.8M87.9 78.1h0.8M70.5 57.9h0.8M67.4 58.4h0.8M72.2 64.3h0.8M77.6 55.2h0.8M64.9 64h0.8M81.7 64.6h0.8M73.1 59.8h0.8M77.6 54.1h0.8M81.1 61.5h0.8M80.4 51h0.8M72.1 67.5h0.8M55.1 59.2h0.8M78.4 59.7h0.8M60.3 60.1h0.8M74 64.4h0.8M73.6 56.7h0.8M81.6 60.2h0.8M83.5 57.3h0.8M70.7 51.5h0.8M86.4 58.5h0.8M64.4 59.6h0.8M70.1 71h0.8M84.5 70.3h0.8M82.4 55.9h0.8M68.4 56.4h0.8M75.6 54.6h0.8M69.3 54h0.8M79.8 66.7h0.8M72 58.6h0.8M77.2 59.1h0.8M75.8 52.8h0.8M75.9 67.5h0.8M74.9 64.3h0.8M71.4 70.9h0.8M78 56.2h0.8M64.9 60.1h0.8M79 68.1h0.8M78.8 64.9h0.8M65.2 52.5h0.8M62.3 52.7h0.8M64.2 56.4h0.8M76.9 52.2h0.8M76.8 66.9h0.8M63.9 56.5h0.8M79.1 62.4h0.8M78.9 64.9h0.8M80.4 65.7h0.8M71.3 62.5h0.8M78.3 64.9h0.8M72.4 56h0.8M72.4 57.1h0.8M74.5 62.4h0.8M73 60.6h0.8M71.1 68.1h0.8M83 62.9h0.8M77.1 61.1h0.8M73.4 59.5h0.8M72.5 52.8h0.8M56.4 52.6h0.8M83.6 61.4h0.8M77.8 61.1h0.8M77.3 58.5h0.8M72.2 59.5h0.8M56.9 53h0.8M78.3 49.8h0.8M78 63.1h0.8M74.1 63.1h0.8M73.2 54.7h0.8M71.5 57.4h0.8M84.3 76.9h0.8M71.1 57.3h0.8M74.4 64.4h0.8M71.1 54h0.8M84.2 72.5h0.8M67 47.5h0.8M67.4 58.7h0.8M78 61.4h0.8M62 55.7h0.8M77.6 63h0.8M68.8 61.4h0.8M75.7 55.8h0.8M77.1 55.6h0.8M78.9 66.3h0.8M66.2 58h0.8M87 56.3h0.8M68.7 67.3h0.8M63.3 54.2h0.8M63.9 55.1h0.8M60.8 44.8h0.8M69.5 59.3h0.8M75.1 64h0.8M79.7 68h0.8M80.8 59.3h0.8M64.9 73.8h0.8M87.1 72.8h0.8M76.2 67.8h0.8M66.1 67.7h0.8M71.1 59h0.8M93.3 60h0.8M80 54.7h0.8M69.2 57.9h0.8M70.6 60.2h0.8M68.4 57.4h0.8M66.2 54.6h0.8M62.3 58.4h0.8M62.9 58.9h0.8M71.3 57.9h0.8M81.4 65.7h0.8M59.2 55.8h0.8M52.8 50.9h0.8M74 53.2h0.8M74.7 59.7h0.8M88.4 66.5h0.8M83.7 74.1h0.8M71.2 54.9h0.8M83 65.2h0.8M75.2 60.3h0.8M65.9 54.5h0.8M70.4 50.5h0.8M67.2 67.4h0.8M84.9 66.6h0.8M73.2 63.5h0.8M82.2 67.3h0.8M71.1 57.2h0.8M75.2 76.4h0.8M74 49.4h0.8M79.3 63.5h0.8M71.5 66.7h0.8M77.1 55.2h0.8M59.9 53.1h0.8M64.7 57.6h0.8M65.4 54.4h0.8M64 53.6h0.8M68.9 61.7h0.8M83.3 65.1h0.8M62.8 66h0.8M74.5 64.8h0.8M74.3 69.5h0.8M78.9 67.6h0.8M80.9 60h0.8M69.5 58h0.8M74.1 61.2h0.8M75.6 62.1h0.8M74.4 52h0.8M77.9 66.6h0.8M66.1 59.6h0.8M76.1 62.6h0.8M63.5 48.5h0.8M65.4 65.6h0.8M68.3 56h0.8M66.9 54.4h0.8M80.8 53h0.8M52 52.8h0.8M75.2 58.3h0.8M77.9 68.7h0.8M59.2 52h0.8M82.8 62.1h0.8M69 63.8h0.8M74.5 54.5h0.8M71.8 52.3h0.8M81.5 55.4h0.8M84.4 57.4h0.8M77.3 54.5h0.8M68.8 64.1h0.8M78.2 70.8h0.8M72.6 60.9h0.8M73.6 64.4h0.8M68 64.1h0.8M73 67h0.8M75.2 65.6h0.8M69.4 56.2h0.8M65.1 54.5h0.8M70.2 63.8h0.8M56.9 70.1h0.8M69.6 65.8h0.8M86.8 53.7h0.8M68.1 66.2h0.8M54.6 54.9h0.8M68.2 55.2h0.8M79.5 53.5h0.8M76.4 58.7h0.8M66.5 61h0.8M97.3 75.7h0.8M77.5 62.7h0.8M67.8 59.1h0.8M83.7 67.4h0.8M80.3 63.2h0.8M95.1 63.2h0.8M76.3 65.4h0.8M78 56.9h0.8M66 55.4h0.8M77.1 55.8h0.8M64.6 59.1h0.8M82 62.2h0.8M70.3 54.9h0.8M89.7 72.4h0.8M70.6 64.9h0.8M86.8 74.7h0.8M63.6 54.9h0.8M71.4 57.6h0.8M65.8 54.3h0.8M65 58h0.8M77.1 54.6h0.8M62.6 52h0.8M76.8 65.4h0.8M80.9 45.9h0.8M71.7 55.5h0.8M74 54h0.8M72 56.1h0.8M90.8 74.2h0.8M72.2 59.7h0.8M72.1 61h0.8M70.6 59h0.8M78.6 68.3h0.8M72.4 67.7h0.8M77.4 57.2h0.8M62.8 50.9h0.8M72 62.2h0.8M82.4 62.3h0.8M65.9 61h0.8M82.9 63.1h0.8M72.5 68h0.8M75.8 61.7h0.8M55.6 58.5h0.8M77.6 63.7h0.8M73.1 53.4h0.8M73 59.8h0.8M84.1 59.6h0.8M83.5 66.4h0.8M84.1 61h0.8M72.9 67.4h0.8M77.8 54.6h0.8M69.8 61.8h0.8M67 48.9h0.8M77.4 57.4h0.8M81 58.1h0.8M62.4 50.2h0.8M86 62.6h0.8M72.8 61.7h0.8M64.1 61.8h0.8M73.6 63.3h0.8M65.8 46.5h0.8M54.5 49.3h0.8M70.1 63h0.8M84.5 65.3h0.8M70.5 61.6h0.8M86.2 62.9h0.8M78.4 62h0.8M69.1 63h0.8M70.4 53h0.8M78.2 63.1h0.8M71.9 59.1h0.8M77.8 61h0.8M77.8 65.5h0.8M80.8 72h0.8M79.9 63.1h0.8M75.7 58.6h0.8M94 70.7h0.8M74.1 68.8h0.8M65.8 51.9h0.8M73.1 54.8h0.8M65.8 53.6h0.8M80.8 68.9h0.8M73.6 61h0.8M60.1 57.4h0.8M79 57.6h0.8M75.4 60.7h0.8M72.2 54.4h0.8M71 54h0.8M75.8 64.1h0.8M76.2 61.2h0.8M65.7 68.1h0.8M57.5 58.9h0.8M75.8 62.4h0.8M70.4 57.8h0.8M68.5 50.1h0.8M76.6 53.1h0.8M76.7 68.9h0.8M53 40.7h0.8M74.9 62.7h0.8M73.2 63h0.8M76.6 67.4h0.8M86 67.8h0.8M83.4 57h0.8M75.5 54.9h0.8M77.7 76.4h0.8M80.4 57.2h0.8M72.6 60.5h0.8M72.3 66.3h0.8M86.5 52.8h0.8M84.3 63.9h0.8M66.2 64.9h0.8M74.9 53.8h0.8M64 56h0.8M76.3 70.9h0.8M73.4 58.1h0.8M86 65h0.8M83.2 67.4h0.8M75.7 60.7h0.8M76.7 59.9h0.8M69.1 57.6h0.8M68.2 59.7h0.8M74.7 60h0.8M72.6 59h0.8M85.7 67.4h0.8M70 57.2h0.8M78.6 62.5h0.8M73 59.1h0.8M73.7 63.2h0.8M80.5 55.3h0.8M72.3 45.2h0.8M76.5 68.7h0.8M82.3 66.4h0.8M81.6 65h0.8M76.3 53.6h0.8M69.4 55.2h0.8M76 71.6h0.8M69.3 60.6h0.8M77.3 58.5h0.8M63.2 50.9h0.8M64.2 53.9h0.8M72.9 59.5h0.8M71.1 62.3h0.8M64.8 61.1h0.8M61.6 54.7h0.8M78.1 58.8h0.8M60.8 57.5h0.8M66.9 61.6h0.8M78.9 63.7h0.8M71.1 65.1h0.8M78.3 58.1h0.8M73.3 63.8h0.8M74.4 62.4h0.8M72.7 59.7h0.8M70.3 50.9h0.8M82.9 62.3h0.8M78.6 55.1h0.8M76.6 57.8h0.8M96.7 67.7h0.8M64.5 61.2h0.8M86.4 55.9h0.8M73.2 65.6h0.8M63.3 59.1h0.8M72.2 54.4h0.8M72.1 57.4h0.8M58.4 65.2h0.8M72.1 55.8h0.8M79.6 63.7h0.8M83.4 64.7h0.8M75.7 62.5h0.8M75.1 60.5h0.8M68.7 67.7h0.8M70 55.8h0.8M69.7 61.9h0.8M74 66.4h0.8M63.5 56.8h0.8M72.9 58.8h0.8M79.3 52.8h0.8M75 62.4h0.8M63.7 54.9h0.8M85.2 65h0.8M78.1 62h0.8M70 53.7h0.8M67.6 64.9h0.8M80.8 60.8h0.8M80.7 64h0.8M67.6 60h0.8M70.9 50.5h0.8M86.8 57.7h0.8M80.9 56.2h0.8M73.7 59.8h0.8M75.6 49.6h0.8M72.8 60.2h0.8M67.4 57.1h0.8M82.1 61.4h0.8M78 56.8h0.8M74.6 65h0.8M88.5 74.1h0.8M73.1 68.5h0.8M64 61.7h0.8M71.2 56h0.8M80.5 66h0.8M86.1 59.5h0.8M76.6 59.6h0.8M76.1 51.5h0.8M79.5 65.3h0.8M69.9 51.3h0.8M64.2 63.6h0.8M73.6 59h0.8M76.9 62.8h0.8M73.4 64.9h0.8M73.7 65.9h0.8M65.1 56.6h0.8M70.8 60h0.8M74.8 58h0.8M68.9 63.7h0.8M72.7 53.5h0.8M75.4 67.3h0.8M71.4 60.5h0.8M68.3 56.9h0.8M79.3 68.6h0.8M75.2 60.3h0.8M61.6 56.2h0.8M74.3 67.2h0.8M86.6 70.2h0.8M82.8 59.8h0.8M85.8 77h0.8M88.3 76.4h0.8M74.5 78h0.8M62.3 66.6h0.8M88.7 64.3h0.8M56.6 62.8h0.8M72.6 70.1h0.8M83 62.5h0.8M74 74.9h0.8M68.9 61.3h0.8M56 65.8h0.8M101.4 64.2h0.8M80.1 75.3h0.8M66.5 59.8h0.8M61.4 54.5h0.8M73.1 70.7h0.8M72 72h0.8M78.5 57.6h0.8M88.2 80.7h0.8M58.9 74.9h0.8M78.4 68.4h0.8M104.1 55.9h0.8M50.3 62.9h0.8M72.2 57.2h0.8M90.8 75.9h0.8M58.2 54.5h0.8M78.9 82.3h0.8M46.5 57.8h0.8M72.6 50.7h0.8M75 52.8h0.8M61.7 74.7h0.8M77.4 73.5h0.8M79.6 70.8h0.8M88.5 61.4h0.8M66 69.9h0.8M64.8 58.8h0.8M84.3 82.3h0.8M67.4 56.6h0.8M79.7 70.2h0.8M62.7 66.7h0.8M79.9 68.6h0.8M107.1 89.2h0.8M80.7 76.8h0.8M108.1 87.4h0.8M62.9 64.5h0.8M75.5 61.7h0.8M75.7 68.6h0.8M73.6 61.7h0.8M87.9 57.7h0.8M83.6 69.4h0.8M82.9 49.4h0.8M99.3 60.7h0.8M60.2 66.2h0.8M66.3 59.7h0.8M45.5 51.8h0.8M73.9 71.5h0.8M68.8 65.8h0.8M80.5 62.6h0.8M58.1 76.4h0.8M58.8 70.6h0.8M70 76.7h0.8M63.4 66.4h0.8M77.9 65.4h0.8M79.1 61.4h0.8M73.1 62.2h0.8M83.1 68.5h0.8M56.1 56.3h0.8M74.2 58.4h0.8M89.1 74.8h0.8M86 63.9h0.8M65.2 71.1h0.8M53.6 61.5h0.8M75.6 62.3h0.8M77.1 58.1h0.8M79.2 57.6h0.8M52.8 69.9h0.8M69.7 46.7h0.8M87.7 64.5h0.8M84.1 72.5h0.8M95.6 72.7h0.8M83.5 60.9h0.8M71.1 77.6h0.8M79.2 69.1h0.8M48.5 53.5h0.8M54.3 65.2h0.8M62.6 64.8h0.8M55 74.8h0.8M57.5 61.1h0.8M106.5 79.6h0.8M60.1 66h0.8M83.6 76.7h0.8M47 57.9h0.8M75.3 62.5h0.8M80.5 72.4h0.8M53.3 72h0.8M74.7 51.4h0.8M87.1 83.6h0.8M87.9 75.6h0.8M59 68.3h0.8M95 80.5h0.8M96 67.4h0.8M83.8 77.4h0.8M58.2 46.5h0.8M63.5 62.8h0.8M79.6 66.1h0.8M72.6 64.5h0.8M72.7 70.4h0.8M79.7 67.6h0.8M77.7 63.5h0.8M84.9 65.7h0.8M94.6 73.3h0.8M78.8 61.3h0.8M68.2 65.2h0.8M75.1 61.1h0.8M57.9 60.4h0.8M73.7 70.5h0.8M90.3 69.3h0.8M47.5 55.1h0.8M52.6 47.3h0.8M85.1 74.8h0.8M66.5 57.9h0.8M76.8 52.1h0.8M80.4 65.4h0.8M100.1 66.5h0.8M88.1 65.4h0.8M89.2 63.2h0.8M84 65.9h0.8M62.8 60.6h0.8M78.3 71h0.8M91.6 79.4h0.8M48.1 53.3h0.8M85 58.7h0.8M57.3 61.1h0.8M65.1 76.2h0.8M76 71.2h0.8M97.5 70.3h0.8M75.9 58.3h0.8M73.7 74.7h0.8M91.2 72h0.8M66 56.6h0.8M54.6 60h0.8M97.5 54.5h0.8M51.2 60.5h0.8M54.6 65.6h0.8M83 70.8h0.8M83.9 70.1h0.8M75.7 82.1h0.8M89.5 66.1h0.8M63.4 60.1h0.8M70.1 65.2h0.8M63.6 67.8h0.8M72.8 68.7h0.8M71.7 70.5h0.8M53.3 72h0.8M76.6 70.9h0.8M78.4 76.9h0.8M82.4 71.2h0.8M75.5 52.7h0.8M77 64.6h0.8M62.6 82.4h0.8M48.8 57.4h0.8M86.7 78.9h0.8M93.1 62.3h0.8M59.1 66h0.8M64.8 77.4h0.8M75.9 68.5h0.8M80 66h0.8M76.8 61.5h0.8M74.3 62.2h0.8M80.7 56.6h0.8M52.6 62.3h0.8M79.1 59.9h0.8M73.4 57.1h0.8M104.6 64.1h0.8M98.3 68.1h0.8M79.7 66.1h0.8M65.9 71.3h0.8M85 67.8h0.8M55.9 77.3h0.8M91.6 73.9h0.8M68.8 66.9h0.8M71.3 75.5h0.8M60.8 61.6h0.8M59.6 72.1h0.8M97.5 74.1h0.8M76.8 79.3h0.8M72.2 57.7h0.8M85.8 74.9h0.8M66.8 76.1h0.8M81.5 53.9h0.8M78.3 67.3h0.8M98.3 75h0.8M69.6 68.4h0.8M80.6 56.7h0.8M76 64.2h0.8M85.4 90.9h0.8M61.5 53.5h0.8M64.3 57.2h0.8M64.3 63.2h0.8M91.5 61.6h0.8M58.4 44.9h0.8M84.5 81.4h0.8M57.9 46.5h0.8M72.3 75h0.8M86.4 72.5h0.8M81.6 71.9h0.8M61 77.8h0.8M76.6 57.8h0.8M71.7 52.3h0.8M70.8 74.5h0.8M53.8 68.6h0.8M100.1 79.1h0.8M60.7 54.2h0.8M72.7 54.9h0.8M57.9 58.2h0.8M69.6 69.9h0.8M52.7 74.5h0.8M85.1 78h0.8M60.2 76.1h0.8M64.1 78.2h0.8M90.1 64.6h0.8M62.5 78.1h0.8M87.2 69.8h0.8M75.7 68.6h0.8M64 61h0.8M66.1 59.8h0.8M82.4 61.2h0.8M82.9 70.5h0.8M81.2 76.5h0.8M88.3 76.9h0.8M83.4 68.2h0.8M83.6 62.1h0.8M68.3 70.6h0.8M71.7 69.3h0.8M55.9 71.4h0.8M64.9 66.4h0.8M70.7 73.1h0.8M71.3 56.8h0.8M49.4 54.7h0.8M56.4 64.5h0.8M98.7 56.3h0.8M55.7 62.3h0.8M89 74.4h0.8M76.5 71.5h0.8M76.7 81.3h0.8M85.1 59.8h0.8M66.8 65.5h0.8M63.6 60.3h0.8M68.6 58.3h0.8M83.8 66.6h0.8M61.1 55.5h0.8M68.3 82.3h0.8M72.9 78.6h0.8M86 52.3h0.8M80.9 61.6h0.8M58.7 51.5h0.8M101.6 62.9h0.8M62.2 71.9h0.8M87.1 56.4h0.8M73.5 61.7h0.8M68.9 70.9h0.8M66.8 60.9h0.8M98 59.3h0.8M67.3 67.9h0.8M58.8 55.3h0.8M55.7 61h0.8M63.1 69.1h0.8M87 71.4h0.8M67.8 66.3h0.8M77.7 57.2h0.8M87.1 73h0.8M87.8 59.6h0.8M79.3 86.3h0.8M85.7 58.1h0.8M74.2 65.8h0.8M77.1 65.4h0.8M81.4 65h0.8M78.5 62h0.8M72.1 74.1h0.8M65.2 68.8h0.8M62.8 59h0.8M66.9 74.4h0.8M60 71.6h0.8M54.5 57.8h0.8M83.7 75.8h0.8M63.5 51.9h0.8M88.6 60.7h0.8M82.6 64.9h0.8M66.9 83.6h0.8M91.8 79.9h0.8M54.3 61.8h0.8M74.5 65.5h0.8M96 59.5h0.8M77.4 68.5h0.8M58.7 75.5h0.8M56.5 60.1h0.8M80.6 49.8h0.8M57.1 51.7h0.8M81.3 77h0.8M80.7 70.7h0.8M43.6 57h0.8M63.4 72.4h0.8M85.1 89.5h0.8M80.6 75.6h0.8M59.5 61.6h0.8M54.5 66.8h0.8M58.1 58.5h0.8M63.8 58.4h0.8M81.1 63.9h0.8M79.1 59.4h0.8M93.8 67.8h0.8M81 87.2h0.8M43.7 46.5h0.8M67.4 73.9h0.8M65.9 66.5h0.8M62.1 66.7h0.8M54.9 66.4h0.8M97.2 76.1h0.8M55.3 78.4h0.8M84.3 79.7h0.8M66 68.6h0.8M84.8 55.7h0.8M81.8 67.4h0.8M86.9 82.2h0.8M66.4 58.1h0.8M74.1 71.8h0.8M68.2 63h0.8M80.3 72.1h0.8M88.3 73.4h0.8M66.4 48h0.8M85.1 67.3h0.8M69.5 61.9h0.8M53.3 55.1h0.8M56.1 75.6h0.8M79.9 66.4h0.8M73.4 72.2h0.8M63.8 60.3h0.8M61.5 83.2h0.8M79.8 51h0.8M76.8 89.7h0.8M50.6 87.9h0.8M69.6 73.2h0.8M66.4 61h0.8M59.6 51.6h0.8M56.7 63h0.8M79.6 62.4h0.8M74.2 65.3h0.8M66.4 63.7h0.8M76.8 58.1h0.8M58.1 52.8h0.8M71 77.1h0.8M92.3 75.5h0.8M85.7 71.4h0.8M87.8 72.2h0.8M79.4 65.5h0.8M67.8 80.4h0.8M57 59.8h0.8M62.5 70.2h0.8M98.7 72.3h0.8M86.3 55.7h0.8M70.1 64h0.8M78.5 69.7h0.8M60.8 54.9h0.8M63.2 66.3h0.8M55.6 72.2h0.8M84.5 50.6h0.8M95.7 75.3h0.8M65.4 63.7h0.8M47.7 58h0.8M88 82.2h0.8M71.2 56.4h0.8M86 69.9h0.8M74.2 71.5h0.8M56.1 66.4h0.8M53.4 52.8h0.8M61.9 67.9h0.8M82.3 72.1h0.8M79.2 71.9h0.8M77.5 50.2h0.8M73 63.5h0.8M70.5 66.6h0.8M72.7 56.5h0.8M57.8 43.1h0.8M87.1 78.7h0.8M55.2 56.5h0.8M74.5 80.2h0.8M64.2 63.8h0.8M93.8 57.6h0.8M63 61.4h0.8M57 78.4h0.8M84.3 71.3h0.8M57.3 67.4h0.8M83.1 64.5h0.8M71.2 51.7h0.8M69.4 71.8h0.8M85 75h0.8M85.9 64.9h0.8M63 72.5h0.8M81.4 61.4h0.8M77.4 74.4h0.8M82.3 69.7h0.8M64.7 65.9h0.8M95.7 75h0.8M62.7 64.7h0.8M55.3 61h0.8M66 71.3h0.8M71.3 74.1h0.8M105 75.1h0.8M60.1 64.7h0.8M71.3 66h0.8M63 66.6h0.8M80 48.7h0.8M68.7 66.7h0.8M90.6 66.7h0.8M58.6 70.3h0.8M64.2 63.1h0.8M77.2 73.4h0.8M76.1 56.6h0.8M87.9 66.9h0.8M60 78.4h0.8M87.9 61.4h0.8M66.9 60.9h0.8M68 46.5h0.8M81.6 75.3h0.8M77.3 63.3h0.8M73.9 71.3h0.8M59.5 57.5h0.8M63.2 67.9h0.8M80.1 56.4h0.8M59.4 75.9h0.8M59.1 61.6h0.8M60.7 71.8h0.8M73.2 61.5h0.8M57.5 57.5h0.8M82.2 74.6h0.8M50.3 70.8h0.8M72.4 55.8h0.8M76.3 61h0.8M66.7 57.4h0.8M72.9 60.8h0.8M48 60.7h0.8M62.2 71.9h0.8M78.3 72.6h0.8M71.5 76.1h0.8M71.1 55.8h0.8M85.1 45.7h0.8M67.1 65h0.8M63.5 72.8h0.8M81.9 69.5h0.8M64.2 71.6h0.8M64.7 58.5h0.8M81.2 73.5h0.8M101 73.5h0.8M45.3 60.9h0.8M90.2 70.1h0.8M88.8 86.7h0.8M65 58.1h0.8M54.1 63.1h0.8M80.7 73.3h0.8M58.1 53h0.8M57.8 45.5h0.8M58.9 46.1h0.8M69 67.4h0.8M81.2 68h0.8M63.6 61.6h0.8M81.2 65.6h0.8M74.2 62.9h0.8M65.4 62.7h0.8M54.5 67.6h0.8M50.1 60.9h0.8M49.9 70h0.8M86.7 63h0.8M69.7 54.1h0.8M70.7 67.9h0.8M111.1 67.1h0.8M91.1 66.6h0.8M73.9 73.2h0.8M78.8 71h0.8M70 64h0.8M71.3 75h0.8M54.1 53.9h0.8M58.5 51.4h0.8M58.7 69.5h0.8M97.8 86.1h0.8M56.4 59.7h0.8M56 62.8h0.8M88.1 75.8h0.8M84.8 68.2h0.8M69.6 69h0.8M90.8 68.6h0.8M72.9 67.3h0.8M87.2 69.7h0.8M54.7 68h0.8M77.1 70h0.8M55.4 58.7h0.8M55 41h0.8M70.6 60.5h0.8M76.2 78.9h0.8M67.1 78.6h0.8M62.5 68h0.8M55.1 59.7h0.8M68.9 61.8h0.8M85.9 53.3h0.8M76.4 59.3h0.8M73.1 68.6h0.8M68.6 60.3h0.8M55.5 63.5h0.8M75.4 154.7h0.8M72.5 165.1h0.8M75.2 160.8h0.8M77.8 153.2h0.8M81.2 151.3h0.8M85 152.7h0.8M88.5 144.4h0.8M91.7 129.8h0.8M91.6 136.4h0.8M68.3 161.6h0.8M84.8 156.3h0.8M75.4 151.3h0.8M73.7 136.5h0.8M80 138.3h0.8M99.3 142.7h0.8M72.9 139.9h0.8M82 146.3h0.8M84.8 139.6h0.8M68.3 156.3h0.8M78.7 162.7h0.8M70.5 150h0.8M74 141.8h0.8M75 150.1h0.8M74.1 150h0.8M92.6 138.5h0.8M65.8 156.3h0.8M83.6 137.8h0.8M80.2 146.2h0.8M83.6 141.8h0.8M74.7 144.3h0.8M78.9 139.8h0.8M95.1 132.4h0.8M80.9 152.4h0.8M79.2 148.1h0.8M76.1 144.2h0.8M68.4 151.6h0.8M87.2 134.7h0.8M74.1 148.4h0.8M94.2 150.1h0.8M73.6 157.2h0.8M79.4 144.6h0.8M78.8 137.1h0.8M88 141h0.8M77.3 162.5h0.8M92.1 145.1h0.8M65.4 158h0.8M77.5 154.2h0.8M83.8 127.1h0.8M79.3 146.3h0.8M88.4 138.5h0.8M67.4 156.8h0.8M67 152.2h0.8M78 144.5h0.8M75.8 137.8h0.8M105.7 133.2h0.8M80.6 135.2h0.8M56.6 161.2h0.8M86.8 159h0.8M89.1 133.7h0.8M95.6 142.4h0.8M84.8 152.3h0.8M79.8 141.3h0.8M68.5 156.3h0.8M82.9 132.6h0.8M67.4 162.9h0.8M78.7 154h0.8M90.2 124.9h0.8M79.5 165.9h0.8M76.5 148.8h0.8M86.1 149.8h0.8M92 136.4h0.8M76.4 149.6h0.8M87.8 150.3h0.8M88.4 154h0.8M74.1 156.6h0.8M100.8 138.1h0.8M78.9 140.3h0.8M72.6 152.3h0.8M81.3 143.3h0.8M63.4 155.9h0.8M87.7 146.4h0.8M65.5 157.1h0.8M62.2 158.5h0.8M111.7 117.7h0.8M74 147.2h0.8M61 148.8h0.8M78.1 146.1h0.8M86 127.3h0.8M89.1 149.4h0.8M64.8 166.3h0.8M67.3 162.8h0.8M92.8 134.6h0.8M79.3 141.5h0.8M86.9 149.7h0.8M77.4 147.9h0.8M86.5 147.4h0.8M65.2 161h0.8M75.5 155h0.8M90.2 139.7h0.8M87.1 131.7h0.8M71.8 146h0.8M80.5 146.9h0.8M72.8 143.2h0.8M77.1 145.7h0.8M83.9 140.7h0.8M91 138.3h0.8M62.2 161.8h0.8M70.8 163.3h0.8M92.4 134.9h0.8M77.5 136.8h0.8M57.1 163.3h0.8M71 142.3h0.8M81.7 147.6h0.8M91.9 148.6h0.8M85.4 138.6h0.8M83.1 148.8h0.8M75.8 161.7h0.8M86.8 138.4h0.8M89.8 169.4h0.8M91.1 144.2h0.8M99.9 136.3h0.8M84.5 148.4h0.8M74.4 157.8h0.8M67.6 161.8h0.8M78.1 135.3h0.8M92.1 125.7h0.8M86.9 135.8h0.8M79.7 141.4h0.8M106.4 130.7h0.8M99.3 135.3h0.8M86.7 141.8h0.8M80.2 151.7h0.8M80.6 144.9h0.8M66.2 157.1h0.8M83.3 139.8h0.8M82.4 143.4h0.8M66.8 151.5h0.8M72 151.8h0.8M82.2 154.1h0.8M61.6 146.8h0.8M84.2 139.1h0.8M89.5 159.4h0.8M95.6 137.3h0.8M88.9 139.5h0.8M86 136.1h0.8M71.6 150.8h0.8M100.7 140.7h0.8M79.4 157.2h0.8M83 153.1h0.8M81.1 153.9h0.8M77.8 146.5h0.8M80.5 147.8h0.8M69 145.6h0.8M93.6 130.9h0.8M54.1 151.9h0.8M52.2 167.6h0.8M85.4 128.1h0.8M69.4 141.3h0.8M91.5 139.2h0.8M88.7 150.2h0.8M99.3 137.7h0.8M69.3 145.7h0.8M63.3 147.7h0.8M95.6 130.8h0.8M82.1 146.7h0.8M96 127.3h0.8M92.1 138.3h0.8M70.7 139.5h0.8M85.3 135.8h0.8M76.9 151.7h0.8M85.7 151.1h0.8M74.8 153.2h0.8M82.8 144.6h0.8M85.2 140h0.8M88.1 133.5h0.8M67 158.8h0.8M88.6 134.6h0.8M73 150.6h0.8M80.9 144.7h0.8M75.7 136.5h0.8M96.1 136.9h0.8M78.1 160.3h0.8M90.4 149.7h0.8M76.5 164.2h0.8M71.9 137.2h0.8M85.7 139.1h0.8M70.1 154.4h0.8M65.1 165.8h0.8M77.1 147.4h0.8M93.1 135.1h0.8M70.2 148.1h0.8M84.1 152.2h0.8M70.5 147h0.8M88.7 139.3h0.8M88.7 156.5h0.8M70 158h0.8M62.8 160.4h0.8M90.2 147h0.8M72.2 161.3h0.8M86.7 139.7h0.8M102.4 126.1h0.8M74 156.2h0.8M69.9 169.6h0.8M87.4 136.7h0.8M88 144.1h0.8M95 127.8h0.8M59.9 148.5h0.8M70.9 142.2h0.8M80.3 150.2h0.8M72.2 146.3h0.8M90.1 135.9h0.8M86.2 149.2h0.8M64.5 153.7h0.8M102 125.1h0.8M69.6 154.5h0.8M69.8 146.1h0.8M76.3 150.2h0.8M82.3 149.4h0.8M58.2 154.7h0.8M85.4 138.2h0.8M92.4 138h0.8M69.6 161.1h0.8M72.1 156.5h0.8M100.1 146h0.8M82.4 150.6h0.8M86.2 147.9h0.8M55.4 166.6h0.8M84.7 146.5h0.8M76.8 156.9h0.8M90.4 137.9h0.8M76.6 147.1h0.8M86.3 151h0.8M91.7 132.1h0.8M68.4 151.1h0.8M90 139.6h0.8M84.9 146.5h0.8M83 143.1h0.8M68.2 152.8h0.8M82.9 147.6h0.8M75.1 148.1h0.8M90.5 133.3h0.8M80.8 143.5h0.8M66 147.2h0.8M71.9 147.7h0.8M83 134.6h0.8M79.2 153.2h0.8M81.2 150h0.8M80.7 132.4h0.8M72.4 146h0.8M91.8 135h0.8M91.7 150.3h0.8M77.3 150.2h0.8M82.7 142.2h0.8M94.8 140h0.8M89.3 138.7h0.8M75.6 148.1h0.8M70 142.5h0.8M86.8 147.5h0.8M78 144.7h0.8M81.4 147.5h0.8M90.5 152.2h0.8M74 155.6h0.8M86.6 141.5h0.8M73.8 144.2h0.8M77.7 154.9h0.8M90.3 131.8h0.8M86.5 145.3h0.8M90.1 139.6h0.8M87.8 147.2h0.8M69.9 156.7h0.8M56.2 152.7h0.8M66.4 146.8h0.8M88.7 147.1h0.8M76.8 148.8h0.8M76.9 147.6h0.8M82.7 147.3h0.8M72.7 147.2h0.8M78.8 154.7h0.8M82.3 156.8h0.8M83.6 154.9h0.8M66.6 153.6h0.8M86.3 145.1h0.8M87.1 157.2h0.8M81.9 147.6h0.8M81.8 158.9h0.8M89.3 141.6h0.8M67.1 162h0.8M77.5 152.4h0.8M85 136h0.8M85.6 149h0.8M80.1 144.1h0.8M67.9 152.6h0.8M72.9 161.7h0.8M76 140.7h0.8M74.7 141.2h0.8M84.3 130.7h0.8M74.5 153.7h0.8M73.1 146.3h0.8M74.5 150h0.8M76 152.3h0.8M74.8 145.4h0.8M73.4 139.4h0.8M85.6 127.4h0.8M80.6 149.1h0.8M84.7 144.6h0.8M86.5 131.6h0.8M80 148.1h0.8M73.2 148.3h0.8M88.4 133.2h0.8M74.6 149.6h0.8M78.8 149.3h0.8M79.7 150.2h0.8M83.1 147.9h0.8M88.5 132h0.8M92.6 131.4h0.8M86.4 142.2h0.8M69.3 140.7h0.8M91 130.4h0.8M77.3 158h0.8M88.3 154.6h0.8M97.5 136.3h0.8M85.2 148.2h0.8M69.1 158.4h0.8M79.3 143.6h0.8M76.2 138.4h0.8M93 145.2h0.8M69.2 158.1h0.8M95.1 136.2h0.8M66.8 151h0.8M94.8 148h0.8M70.5 155.9h0.8M71.9 152h0.8M82.4 144.2h0.8M82.4 161.7h0.8M77.7 147.4h0.8M89.6 138h0.8M81.9 152.7h0.8M73.9 158.6h0.8M91.5 141.4h0.8M78.3 148.3h0.8M64.4 160.3h0.8M85.9 148.4h0.8M79.5 144.1h0.8M72.4 153.5h0.8M85.9 151.1h0.8M77.9 144.7h0.8M77 145.7h0.8M68.9 139.2h0.8M61.2 154.6h0.8M83.6 142.8h0.8M85.8 150.8h0.8M75.4 160.3h0.8M80.3 140.7h0.8M87 128.7h0.8M69.2 155.1h0.8M82.6 142.8h0.8M60.1 162.9h0.8M89.4 158.7h0.8M92.2 136.4h0.8M71.7 157.2h0.8M70.5 157.2h0.8M81.4 142.2h0.8M80.6 143.5h0.8M81.1 158.2h0.8M83.6 140.9h0.8M73.9 153.9h0.8M88.2 146.1h0.8M94.4 137h0.8M78.3 164.8h0.8M93.2 141.2h0.8M85.4 129.7h0.8M74.5 147.7h0.8M85.3 132.2h0.8M83.1 156.1h0.8M83.8 140h0.8M90.7 126h0.8M82.8 142.3h0.8M83.1 141.6h0.8M73.4 154.6h0.8M70.5 159.9h0.8M80.7 153.5h0.8M73.2 147.7h0.8M88.2 149.1h0.8M62.3 164.2h0.8M79.4 135.8h0.8M74.7 156.8h0.8M70 150.9h0.8M90.8 129h0.8M62.9 143.9h0.8M65.3 150.5h0.8M99.5 138.4h0.8M76.7 165.7h0.8M85.7 140h0.8M88.3 142.1h0.8M66 145.5h0.8M71.8 154.3h0.8M73.7 146.6h0.8M83.9 134.5h0.8M84 144.5h0.8M70.9 143.2h0.8M70.6 147h0.8M49.9 163.9h0.8M76.2 161.8h0.8M73.7 143.2h0.8M55.8 135h0.8M63.5 172.3h0.8M97.3 152.2h0.8M80.1 157.6h0.8M73.7 135.5h0.8M66.4 169.8h0.8M90.7 149.4h0.8M68 152.3h0.8M62.7 148.7h0.8M48 166.5h0.8M66.7 154.7h0.8M99.4 149.5h0.8M66.4 163.3h0.8M57.2 172.3h0.8M76.5 150.7h0.8M87.1 164h0.8M63.6 147.7h0.8M102.6 142h0.8M91.5 139.2h0.8M76.4 146h0.8M81.3 147.8h0.8M70.5 172h0.8M70.5 133.6h0.8M66.9 147h0.8M54.8 155.7h0.8M67.3 157.1h0.8M55.6 141.6h0.8M69.7 165.1h0.8M57.4 167.6h0.8M78.2 147.3h0.8M75 145.4h0.8M64.2 147h0.8M85.3 163.8h0.8M69 168.9h0.8M68.5 164.6h0.8M45.9 166.9h0.8M81.3 150.4h0.8M89.9 161.4h0.8M72.6 136.2h0.8M74.2 163.5h0.8M64.6 163.9h0.8M67.4 157.6h0.8M81.3 143.1h0.8M113.6 138.7h0.8M75.5 145.2h0.8M73.4 151.2h0.8M47.6 148.4h0.8M77.2 151.5h0.8M69.1 155.2h0.8M77.2 139.1h0.8M80.6 147.7h0.8M66 155.7h0.8M89.4 153.4h0.8M83.2 142.5h0.8M65.2 145h0.8M64.4 153.6h0.8M69.9 163.3h0.8M82.4 158.5h0.8M79.5 163.1h0.8M78.9 162.2h0.8M83.4 157.8h0.8M67.9 143h0.8M80.7 155.8h0.8M69.5 150.8h0.8M108.9 126.9h0.8M72.5 153.9h0.8M53 148.9h0.8M62.5 154.9h0.8M70.1 164.3h0.8M58.9 164.6h0.8M97.4 153.6h0.8M46.4 133.5h0.8M87.2 153.6h0.8M70.5 169.2h0.8M68.4 157.4h0.8M60.5 163h0.8M65.7 151.9h0.8M89.4 149.7h0.8M55.6 169.1h0.8M81.9 141.4h0.8M68.4 156.8h0.8M70.6 156.6h0.8M80.7 145.7h0.8M99.6 135.3h0.8M106.7 140.4h0.8M66.8 145.2h0.8M90.1 148.9h0.8M63.5 162.7h0.8M95.2 152.3h0.8M108.6 151.8h0.8M79.6 151.1h0.8M85.9 162h0.8M89.6 158.7h0.8M79.7 159.8h0.8M89.7 145.4h0.8M79.9 146.5h0.8M75.9 150.4h0.8M49.3 162.3h0.8M54.7 164.2h0.8M76.5 165.1h0.8M73.4 158.1h0.8M68 152.2h0.8M58.2 171.3h0.8M73.7 147.6h0.8M74.9 149h0.8M64.6 160.5h0.8M89.3 144.4h0.8M51.5 156.7h0.8M95.3 136h0.8M89.1 144.9h0.8M83.4 148.7h0.8M50.2 159.4h0.8M102.3 140.4h0.8M80.1 147.6h0.8M73 157.7h0.8M88.8 171.7h0.8M72.7 152.4h0.8M59.4 145.8h0.8M54 169.5h0.8M84.3 146.3h0.8M57.8 161h0.8M78.3 164.3h0.8M61.9 154.9h0.8M71.8 151.8h0.8M58.3 141.9h0.8M48.4 157.4h0.8M74.4 164.5h0.8M112.2 156.3h0.8M86.4 169h0.8M70 149.8h0.8M101.5 130.7h0.8M66.9 154h0.8M91.5 140h0.8M82.9 145.7h0.8M57.7 163.3h0.8M71.5 142.4h0.8M58.6 151.8h0.8M88.8 152.6h0.8M78.9 157.1h0.8M69 161.2h0.8M60.1 145.3h0.8M64.8 160.1h0.8M79.1 163.2h0.8M49.5 161.9h0.8M75.4 142.9h0.8M75.6 148.8h0.8M62.5 170.9h0.8M58.4 171.3h0.8M64.3 147.8h0.8M58.6 152.4h0.8M63.1 161.5h0.8M90.7 161.9h0.8M51.1 138.4h0.8M64.5 156.1h0.8M75.9 147.5h0.8M73.2 155.9h0.8M59.3 163h0.8M85.6 140.5h0.8M80.2 169h0.8M74 165.3h0.8M78.7 154.4h0.8M82.8 147.7h0.8M74.6 164.1h0.8M79.4 157.1h0.8M57.4 161.2h0.8M94.1 155.2h0.8M76.6 147.3h0.8M67.1 161.7h0.8M93.6 146.2h0.8M90.7 143.7h0.8M86.6 137.8h0.8M72.3 143.1h0.8M85.2 155.5h0.8M57.9 152.7h0.8M62 142.9h0.8M57.7 151.5h0.8M90 162.2h0.8M66.6 154h0.8M74.8 148h0.8M73.3 163.4h0.8M76.7 151.9h0.8M71.7 170.9h0.8M65.9 158.7h0.8M57.3 154.6h0.8M73.6 149.9h0.8M81.5 151.6h0.8M45.8 140.9h0.8M85.3 142.9h0.8M94.3 145.5h0.8M65.5 163.6h0.8M70.2 155.7h0.8M63.5 165.3h0.8M86.9 142.8h0.8M96.2 138.4h0.8M70.9 137.5h0.8M98 156.3h0.8M51.3 166h0.8M79.9 152.3h0.8M74.4 143.9h0.8M67.2 144.5h0.8M70.5 159.5h0.8M62 156.1h0.8M67.9 156.7h0.8M87.4 150.8h0.8M73.7 138.5h0.8M72 163.7h0.8M60.2 155.1h0.8M65.6 172h0.8M64.7 150h0.8M86.6 160.5h0.8M84.4 160.2h0.8M76.2 151.6h0.8M65.7 151.9h0.8M67 160.9h0.8M72.5 155.5h0.8M81.9 150h0.8M51.8 154.7h0.8M50.9 143h0.8M70.5 142.4h0.8M51.8 151.6h0.8M84.6 146.1h0.8M87.2 147.4h0.8M69.9 161.8h0.8M82.4 151.6h0.8M57.6 155.9h0.8M56.4 158.5h0.8M80.8 167.1h0.8M95.8 152h0.8M87.8 150.6h0.8M117.9 151.9h0.8M111.7 142.1h0.8M83.5 161.3h0.8M77.5 155.8h0.8M63.7 168.4h0.8M78.7 160.7h0.8M63.7 138.9h0.8M85.1 161.8h0.8M52.2 152.5h0.8M68.5 153.5h0.8M85.2 142.4h0.8M50 167.9h0.8M104.2 150h0.8M85.9 138.6h0.8M71 138.8h0.8M103.2 147.7h0.8M80.8 152.5h0.8M71.7 161.5h0.8M102.8 145.6h0.8M48.1 163.1h0.8M52.3 154.2h0.8M77.4 150.5h0.8M58.7 160h0.8M64.3 163.6h0.8M71.7 159h0.8M72.7 162.4h0.8M71.5 154.7h0.8M66.2 158.6h0.8M64.4 158.9h0.8M65 152.2h0.8M77 146.9h0.8M62.1 143.8h0.8M56.1 148.6h0.8M93.1 131.1h0.8M59.3 162h0.8M86.5 130h0.8M52.4 164.1h0.8M72.5 138.9h0.8M44.7 155.6h0.8M83.5 149.2h0.8M83.2 148.6h0.8M75.2 159.8h0.8M72.6 156.8h0.8M58.3 153.7h0.8M78.8 149h0.8M65.5 164.4h0.8M80.8 150.7h0.8M66.3 166.6h0.8M104.5 131.8h0.8M48.9 155.8h0.8M55.4 147.7h0.8M60.2 168.6h0.8M90.8 162.5h0.8M81.7 145.2h0.8M85.8 142h0.8M63.8 145.1h0.8M94.1 156.1h0.8M65.6 153.8h0.8M74.4 155.6h0.8M85.1 149.6h0.8M72.8 137.8h0.8M62 139.2h0.8M103.2 156.3h0.8M87.3 160h0.8M104.4 150.9h0.8M50.3 161.3h0.8M55.9 161.1h0.8M74.8 143.1h0.8M70.2 158.1h0.8M70.2 153.2h0.8M85 151.6h0.8M51.5 160h0.8M72.9 143.4h0.8M79.2 142.6h0.8M68 154.8h0.8M102.5 137.9h0.8M67.9 163.8h0.8M67.2 158.4h0.8M67.7 142.1h0.8M90.8 143.8h0.8M65.1 142.9h0.8M48.3 158.1h0.8M53.8 167.3h0.8M82.5 143h0.8M49.2 159.6h0.8M58.9 161.6h0.8M73.7 148.9h0.8M78 163h0.8M94.4 139.1h0.8M82 147.5h0.8M63.3 171.8h0.8M78.9 152.9h0.8M77.1 150.3h0.8M86.3 151h0.8M91.2 160.1h0.8M72.4 160.4h0.8M70.9 161.7h0.8M69.9 160.7h0.8M78 148.1h0.8M85.5 147.6h0.8M67.2 156.3h0.8M67.2 169.3h0.8M85.3 159.3h0.8M55.3 164.2h0.8M62.6 159.1h0.8M91.5 148.8h0.8M74.8 165.2h0.8M94 165h0.8M48.4 167.7h0.8M63.7 148.2h0.8M69.9 142.5h0.8M76.5 172.6h0.8M58.3 147.3h0.8M44.2 162.2h0.8M70.1 156.6h0.8M49.9 155.3h0.8M90.9 151.7h0.8M79.1 155h0.8M62.7 169.8h0.8M68.8 135.6h0.8M92.6 167h0.8M73.5 165.2h0.8M67.5 149.3h0.8M68.2 160h0.8M53.7 152.1h0.8M86.8 143.8h0.8M62.4 144.6h0.8M78.8 159.8h0.8M65.8 154.8h0.8M61.5 173.9h0.8M63.8 156.1h0.8M95.3 141.9h0.8M47.9 154.4h0.8M74.9 172.4h0.8M75.2 150.5h0.8M89.6 161.1h0.8M68.1 171.6h0.8M86.7 153h0.8M91.3 143.2h0.8M105.4 141h0.8M87.8 118.1h0.8M97.4 123.5h0.8M92.1 129.2h0.8M92.7 112.5h0.8M89.9 98.5h0.8M100.9 102.8h0.8M94.5 108h0.8M97.3 122.6h0.8M100.7 127h0.8M100.6 104.4h0.8M85.9 104.3h0.8M96.3 85.2h0.8M115.7 88.8h0.8M98.7 119.9h0.8M88.4 147.1h0.8M99.8 101.1h0.8M113.7 103.4h0.8M88.9 95.4h0.8M92.3 111.3h0.8M104.4 91.1h0.8M94 143.2h0.8M92.2 108.7h0.8M99.6 129.5h0.8M94.9 97.2h0.8M86.4 125.3h0.8M110.7 83h0.8M84 91h0.8M84.4 114.9h0.8M93.7 139.3h0.8M103.5 114.6h0.8M109.4 101.1h0.8M86.3 109.9h0.8M109.5 90.6h0.8M102.2 125.1h0.8M93 113.2h0.8M95.1 112.4h0.8M106.2 101.8h0.8M103.3 125.5h0.8M110.3 85.7h0.8M80.7 118.3h0.8M94.8 101.1h0.8M95.2 91.7h0.8M97.2 101.1h0.8M90.9 117.3h0.8M84.9 125.4h0.8M72.7 143h0.8M85 117.6h0.8M104.8 113.1h0.8M103.7 111.3h0.8M82.5 113.6h0.8M108.2 105.8h0.8M85.7 100.5h0.8M99.2 116.4h0.8M104.7 121.2h0.8M107.2 84.5h0.8M115.1 115.9h0.8M105.4 108.2h0.8M96.1 112.2h0.8M105.8 135.4h0.8M96.8 140.4h0.8M92.9 118.3h0.8M90.2 129.1h0.8M95 125.5h0.8M117.2 85.5h0.8M114 119.7h0.8M100.4 84.4h0.8M101.6 79.1h0.8M98.7 109.5h0.8M113.1 110.2h0.8M102.8 129.9h0.8M114.8 111.7h0.8M108 91.7h0.8M89.4 106.2h0.8M100.8 94.7h0.8M92.2 121h0.8M94.3 108.9h0.8M86.5 129.8h0.8M111.3 117.6h0.8M91.9 135.1h0.8M103.3 103.2h0.8M88.4 101.4h0.8M116.9 107.1h0.8M120.8 116.6h0.8M92.1 130.2h0.8M94.5 116.8h0.8M92.8 92.7h0.8M91 113.9h0.8M97.8 83.2h0.8M101.9 110.4h0.8M97.1 102.9h0.8M74.9 130.6h0.8M92.2 118.6h0.8M105.6 130.1h0.8M99.2 112.4h0.8M97.5 125.2h0.8M103.5 106.6h0.8M100.1 118h0.8M102.6 116h0.8M108 117h0.8M104.6 114h0.8M95.7 97.7h0.8M94.8 119.3h0.8M108 112.8h0.8M94.9 104h0.8M107.7 115.6h0.8M91.5 121.6h0.8M86.6 111.5h0.8M97.6 110h0.8M85.5 123.9h0.8M114.9 96.1h0.8M96.7 121.3h0.8M116.9 109.8h0.8M90 110.4h0.8M113.6 116.3h0.8M94.7 137.4h0.8M86.6 78h0.8M102.7 124.4h0.8M85 117h0.8M97.3 115.1h0.8M92.4 104.3h0.8M90.4 111.3h0.8M90.9 135.3h0.8M107.1 90.9h0.8M96.9 132.8h0.8M96.8 127.7h0.8M95.3 121.9h0.8M87.8 121.5h0.8M82.8 127.9h0.8M91.5 79.8h0.8M102.4 110.4h0.8M97.3 118.2h0.8M99.9 99.5h0.8M98.3 117.2h0.8M95.9 140.8h0.8M91.5 111.7h0.8M103.4 106.6h0.8M89.6 102.1h0.8M106.9 109.9h0.8M104.6 102.7h0.8M103.1 103.2h0.8M76.8 115.4h0.8M92 137.3h0.8M155 103.4h0.8M134.5 67.2h0.8M78.8 130.4h0.8M73.4 73.3h0.8M116.1 101.5h0.8M58.3 69.1h0.8M72.4 162.7h0.8M147.3 93.7h0.8M136.9 134.1h0.8M45.9 65.4h0.8M100.7 122.6h0.8M94.4 80.6h0.8M138.6 56.9h0.8M97.9 83.4h0.8M72.1 49.6h0.8M152 121.8h0.8M67.8 115.4h0.8M126.8 155.4h0.8M79.3 44.6h0.8M123 95.7h0.8M65 172.9h0.8M156.5 87.5h0.8M90.6 48.8h0.8M131.1 148.2h0.8M140.1 53.5h0.8M103.4 136.7h0.8M112.7 111.5h0.8M58 158.5h0.8M112.9 109.8h0.8M111.7 132h0.8M159 75.5h0.8M88.3 172.7h0.8M62.5 69h0.8M95.4 153.1h0.8M144.7 132.4h0.8M44.1 105.5h0.8M47.3 91h0.8" stroke="#000" stroke-opacity="0.7" stroke-width="0.85" fill="none"/>
<path d="M308.4 167.1h0.8M285.9 165h0.8M301.3 161.5h0.8M316.1 161h0.8M294.9 169.7h0.8M293.1 170.6h0.8M291 174.1h0.8M307.2 168.9h0.8M297 169.8h0.8M311.6 171.1h0.8M296.2 168.7h0.8M311.2 154.5h0.8M291.6 155.1h0.8M319.7 164.6h0.8M314.1 166h0.8M305.2 165.3h0.8M305.9 165.3h0.8M289.1 166.2h0.8M296.7 157.9h0.8M315.1 151.8h0.8M301.9 169.4h0.8M316.4 157.7h0.8M307.4 165.9h0.8M291.9 141.1h0.8M283.3 169.1h0.8M305.1 149.3h0.8M297.1 158.9h0.8M300.2 162.7h0.8M327.7 155h0.8M305.5 155.1h0.8M297.2 154h0.8M301.5 157.3h0.8M307.7 165.2h0.8M294.4 169.3h0.8M291.4 166.6h0.8M327.3 155.7h0.8M318.2 172.9h0.8M307.6 144.1h0.8M319.2 163.9h0.8M298.1 173.9h0.8M296.2 173.9h0.8M298.1 168.5h0.8M292.4 158.9h0.8M294.2 155.7h0.8M306 161.2h0.8M306 173.9h0.8M302.8 144h0.8M300.9 163.8h0.8M314.9 173.5h0.8M314.2 160.7h0.8M310.9 148.3h0.8M317.9 167.5h0.8M309.4 159.1h0.8M304.6 156.2h0.8M310.1 149.4h0.8M314.4 168.5h0.8M325.7 162.6h0.8M303 165h0.8M304.4 161.9h0.8M292.2 151.7h0.8M297.9 160h0.8M291.3 151.1h0.8M301 170.6h0.8M301.9 169.9h0.8M314.4 170.8h0.8M299.5 158.9h0.8M284 156h0.8M309 151.9h0.8M318.5 172.8h0.8M300 172.4h0.8M288.8 152.3h0.8M300 163.1h0.8M302 154.2h0.8M325.1 166h0.8M307.1 170h0.8M305.9 160.6h0.8M298 146.3h0.8M320 153.6h0.8M286.2 154.8h0.8M286.8 168.8h0.8M307.9 173h0.8M319.6 168.8h0.8M310.1 155.6h0.8M303.1 156.8h0.8M304.5 155.9h0.8M317.6 170.8h0.8M302.9 145.9h0.8M311.3 172h0.8M303.3 150.1h0.8M308.6 173.7h0.8M283.5 168.8h0.8M284.5 163.8h0.8M322.7 163.9h0.8M309.1 159.7h0.8M303.9 166.3h0.8M318.3 159.8h0.8M299.9 163.2h0.8M327.5 165.1h0.8M315.9 159.3h0.8M290.4 173.6h0.8M303.2 155h0.8M296.6 156.2h0.8M297.5 147.3h0.8M316.9 166.9h0.8M314.4 159.5h0.8M307.7 164.7h0.8M316.6 171.3h0.8M307.8 156.4h0.8M291.2 154.9h0.8M297.2 157.5h0.8M290.8 171.2h0.8M306.9 142.5h0.8M292.3 149.4h0.8M306.5 173.8h0.8M293.5 169.3h0.8M318.6 166.2h0.8M311.7 163h0.8M300 151.2h0.8M307.5 162.3h0.8M299.9 162.2h0.8M302 152.5h0.8M301.5 173.1h0.8M291.7 149.3h0.8M305.4 170.9h0.8M297 169.3h0.8M313.9 173.9h0.8M302.8 162.5h0.8M286.4 163.2h0.8M307 173h0.8M290.5 154.4h0.8M293.3 172.1h0.8M277.1 152h0.8M325.9 169.6h0.8M289.9 162.4h0.8M313 168.6h0.8M301.6 155h0.8M312.8 162.9h0.8M312.6 167h0.8M299 172.8h0.8M298.7 167.4h0.8M297.3 160.7h0.8M301.4 156.3h0.8M306.5 173.8h0.8M323.7 172.9h0.8M302.2 172.7h0.8M308.4 170.3h0.8M290.7 172.6h0.8M299.1 172.2h0.8M301 144h0.8M293.7 160.6h0.8M304.3 140.4h0.8M291.3 155.6h0.8M301.8 165.2h0.8M295.3 147.7h0.8M307.2 159.7h0.8M313.4 157.7h0.8M310.8 154h0.8M306.8 163.9h0.8M308.8 153.6h0.8M302.7 154.5h0.8M302.3 169.3h0.8M311.6 164.1h0.8M316 167.7h0.8M315.1 166.6h0.8M329.4 173.3h0.8M286 166h0.8M304.8 140.8h0.8M294.9 158.4h0.8M296.3 164.3h0.8M285.1 170.5h0.8M312.2 166.6h0.8M300.6 163.1h0.8M309.4 169h0.8M300.2 172.8h0.8M298 161.3h0.8M293 168.3h0.8M303.4 169.3h0.8M319.8 162.5h0.8M308.1 172.1h0.8M303.4 157.6h0.8M307.8 168.1h0.8M312.3 171.4h0.8M297 167.5h0.8M317 158.4h0.8M307.9 156.9h0.8M305.8 170.8h0.8M305.9 153.4h0.8M307.7 165.2h0.8M315.8 149.3h0.8M294.4 162.3h0.8M282.8 154.7h0.8M288.5 156.5h0.8M312.5 169.1h0.8M313.8 169.1h0.8M282.7 166.1h0.8M284.6 158h0.8M299.9 157.6h0.8M309.3 155h0.8M322.3 169.1h0.8M316.5 170.7h0.8M313.5 162.7h0.8M324.8 152.5h0.8M308.9 163.1h0.8M301.7 166.3h0.8M296.2 171.8h0.8M312.4 164.1h0.8M311.9 152.7h0.8M285.1 157.3h0.8M301.6 165.5h0.8M301.7 173.4h0.8M313 168.2h0.8M305.3 169.6h0.8M302.1 154.4h0.8M293.5 155.2h0.8M319.1 165.9h0.8M302.5 163.3h0.8M298.2 162.8h0.8M303.7 169.6h0.8M313.7 146.7h0.8M306.5 173.3h0.8M293.4 160.6h0.8M305.9 174.1h0.8M310.4 160.9h0.8M309.4 173.5h0.8M308.2 170h0.8M308.6 152.6h0.8M295.9 161.8h0.8M301.9 169.3h0.8M307.8 171h0.8M312.6 172.6h0.8M296.1 158.8h0.8M311.3 164h0.8M310.7 165.6h0.8M297.6 171h0.8M316.1 147.6h0.8M297.7 163.4h0.8M311.3 162.4h0.8M289.8 171.5h0.8M307.4 173.2h0.8M313 172h0.8M298.8 173.5h0.8M306.3 150.7h0.8M300.1 159.8h0.8M309.1 170h0.8M292.5 170.4h0.8M303.5 152.7h0.8M313 155.6h0.8M291.7 170.8h0.8M313.7 156.6h0.8M315.3 173.2h0.8M298.8 168.9h0.8M303.6 165.5h0.8M279.2 169.6h0.8M297.8 167.7h0.8M319.5 169.7h0.8M273.3 169.1h0.8M307.9 133.1h0.8M296.6 162.5h0.8M319.2 155h0.8M306.5 162.8h0.8M308.2 159.4h0.8M313.7 173.1h0.8M296.6 160.6h0.8M316.2 164.4h0.8M310.4 171.3h0.8M310.7 158h0.8M294.5 170.2h0.8M312.4 167h0.8M302.5 172h0.8M304.2 149.8h0.8M307.4 168.5h0.8M312.6 154.6h0.8M296.7 166.8h0.8M299.9 162.8h0.8M314.4 167.5h0.8M323.7 166.5h0.8M331.3 163.8h0.8M303.8 173.5h0.8M299.3 159.1h0.8M307.3 167.5h0.8M290.1 166.3h0.8M301.5 163.5h0.8M306.7 161.9h0.8M316.1 168.7h0.8M302.9 164.6h0.8M315.8 171.7h0.8M318.2 162.5h0.8M306.4 168.4h0.8M304.6 170.7h0.8M313.8 159.7h0.8M290.4 170.3h0.8M297.7 156.9h0.8M287 174.1h0.8M306.1 164.3h0.8M309.2 166.4h0.8M306.1 169.2h0.8M302.2 138.4h0.8M312.8 168.3h0.8M305.3 171.3h0.8M290.5 135.3h0.8M320.6 168.2h0.8M288 160h0.8M311.6 152h0.8M310.9 167.6h0.8M319.6 163.7h0.8M308.5 154.6h0.8M306.5 160.7h0.8M294.7 150.7h0.8M325.2 164.9h0.8M294.4 159.9h0.8M320.6 171.1h0.8M298.7 166h0.8M314.4 160.6h0.8M292.8 154.4h0.8M305.2 156.4h0.8M291.6 161.7h0.8M314.8 170.8h0.8M302.7 169.1h0.8M296.9 163.3h0.8M290.8 171.7h0.8M303.8 147.3h0.8M296.4 169.9h0.8M312.6 165.1h0.8M314.1 148.1h0.8M296.4 150.8h0.8M296.4 160.2h0.8M310.6 174h0.8M315.2 163.7h0.8M299.9 163.8h0.8M310.3 155.7h0.8M302 168h0.8M295.8 168.6h0.8M317.8 152.9h0.8M281.2 164.8h0.8M294.1 165.6h0.8M300.3 166.9h0.8M316.8 172h0.8M301.2 152.3h0.8M279 142.3h0.8M296.6 164.8h0.8M297.8 157.9h0.8M288.2 147.4h0.8M286.8 169.9h0.8M284.1 170.3h0.8M295.2 168.9h0.8M307 171h0.8M316.9 155.6h0.8M294.3 159h0.8M296.3 169.9h0.8M303.1 163.3h0.8M308.6 158.5h0.8M315.6 144.9h0.8M306.6 168.1h0.8M296.1 156.2h0.8M313.5 159.9h0.8M284 149.7h0.8M314.6 154.3h0.8M317.7 173.5h0.8M301.9 168.4h0.8M295.4 159h0.8M296.7 168.9h0.8M290.6 161.7h0.8M304.5 168.1h0.8M281.8 145.2h0.8M294.8 160.7h0.8M305.4 164.9h0.8M325 169.4h0.8M310.1 158.1h0.8M312.1 169.8h0.8M310.9 161.8h0.8M310.4 172.5h0.8M295.6 141.4h0.8M312.4 170.2h0.8M301.5 158.5h0.8M291.1 158.1h0.8M309.1 156.8h0.8M299.8 165.9h0.8M299.4 164.1h0.8M303.4 152.3h0.8M304.6 151.3h0.8M313.6 153.6h0.8M301.3 144.8h0.8M299.2 150.4h0.8M319.4 161.6h0.8M309.2 145.5h0.8M290.9 161.1h0.8M289.7 174.1h0.8M299.6 164.3h0.8M306.9 161.3h0.8M311.8 156.1h0.8M306 164h0.8M300.3 163.3h0.8M310.8 160.3h0.8M286.3 164.4h0.8M302.2 167.4h0.8M304.2 172.3h0.8M291.3 153.2h0.8M310.5 152.6h0.8M307.1 162.6h0.8M283.4 169.3h0.8M317.9 164.8h0.8M289.2 170.5h0.8M293 161.5h0.8M308 155.1h0.8M286.2 161.3h0.8M303.3 154.3h0.8M295.6 170h0.8M302.8 158.1h0.8M297.5 164.4h0.8M304.6 161h0.8M289.4 159h0.8M297.2 163.3h0.8M315.5 172h0.8M310.3 163.8h0.8M300.3 165.9h0.8M298.8 159.3h0.8M295 162.1h0.8M302.9 170.7h0.8M309.3 159h0.8M311.6 158.1h0.8M314 170.2h0.8M302.9 161.5h0.8M306.7 169.6h0.8M293.7 155.6h0.8M306.7 172.1h0.8M292.2 147.6h0.8M315.3 170.8h0.8M314.7 153.2h0.8M301.6 164.9h0.8M308.1 161.5h0.8M303.1 172.4h0.8M299.2 157.4h0.8M299.3 157.7h0.8M305 160.6h0.8M299.2 173.7h0.8M306.7 159.4h0.8M316.4 157.4h0.8M303.6 161.8h0.8M297.8 159h0.8M304.5 148.9h0.8M299.7 165.1h0.8M306.4 165.5h0.8M327.2 169h0.8M302.2 161.5h0.8M303.6 166.8h0.8M300.7 173.2h0.8M292.5 168.7h0.8M308.7 151.7h0.8M309.9 168h0.8M297.2 167.8h0.8M310.7 159.5h0.8M298.8 155.6h0.8M306.2 163.2h0.8M289.5 152.7h0.8M296.5 158.8h0.8M300 156.3h0.8M310 171.7h0.8M304.4 141.7h0.8M302 168h0.8M302.8 165.2h0.8M304.6 148.4h0.8M278.3 168.5h0.8M298.4 166.6h0.8M300.6 161h0.8M317.3 151.2h0.8M303.5 152.2h0.8M304.3 167.1h0.8M310.1 164h0.8M289.8 164.9h0.8M312.5 172.1h0.8M324.9 168h0.8M293.4 157.7h0.8M304.4 172.6h0.8M292.2 171.3h0.8M310.1 154.4h0.8M309.7 155.4h0.8M303.6 159.7h0.8M306 151.4h0.8M308.8 142h0.8M299.5 157.2h0.8M319.3 167.7h0.8M298.7 154.1h0.8M303.9 156.6h0.8M325.9 136.3h0.8M304.2 139.3h0.8M313.9 155h0.8M319.6 157.4h0.8M314.4 164.5h0.8M315.4 162.8h0.8M274 155.7h0.8M288.1 171.6h0.8M309 162.7h0.8M308.1 164.5h0.8M297.9 170.3h0.8M306 160.8h0.8M289 156.7h0.8M303.7 160.9h0.8M298.9 162.1h0.8M292.4 162.7h0.8M288.2 154.5h0.8M296.2 170.9h0.8M308.5 163.3h0.8M292.1 158.8h0.8M288.9 158.5h0.8M304.7 166h0.8M303.7 169h0.8M289.2 172.9h0.8M292.2 163.2h0.8M308.8 173.7h0.8M312.7 171h0.8M316.4 161.2h0.8M311.2 173h0.8M296.1 149.4h0.8M293.6 173.8h0.8M316.1 159.3h0.8M306.2 167.2h0.8M314.2 144.8h0.8M298.1 160.3h0.8M306.9 163.5h0.8M300.6 165.5h0.8M278 162.7h0.8M312 171.2h0.8M297.2 166.7h0.8M324.4 171h0.8M304.5 151h0.8M305.4 159.9h0.8M312.3 150.6h0.8M301.9 165.4h0.8M299.1 172.9h0.8M292.4 151h0.8M300.3 170.8h0.8M300.8 157.2h0.8M311.9 165h0.8M298.5 164h0.8M301.4 168.7h0.8M305.3 155.2h0.8M299 158.9h0.8M307.5 166.4h0.8M295.5 161h0.8M306.9 173.3h0.8M306.3 170.1h0.8M304.1 169.9h0.8M300.5 153.3h0.8M304.9 167.4h0.8M307.1 164.2h0.8M300.5 155h0.8M300.8 167.3h0.8M313.4 131.3h0.8M309.9 173.2h0.8M316.5 166.5h0.8M310.5 158.6h0.8M302.9 167.9h0.8M292.8 155.2h0.8M305.8 150h0.8M304.3 148.6h0.8M305.8 163.1h0.8M298.1 153.8h0.8M298.7 141.3h0.8M299.8 163.9h0.8M315.9 157.9h0.8M302 173.9h0.8M321.3 158.1h0.8M314.3 174.1h0.8M309 153.4h0.8M294.3 168.3h0.8M327.3 161.1h0.8M319.6 170.5h0.8M291.2 157.1h0.8M319 172.2h0.8M309.3 162.7h0.8M310.1 156.8h0.8M329 151.8h0.8M285.7 164.2h0.8M318.4 158.1h0.8M303.3 153h0.8M303.1 153.1h0.8M293.7 148.7h0.8M298.3 170.7h0.8M303.2 164.7h0.8M326.3 156.7h0.8M293.7 167.8h0.8M291.4 166h0.8M315.5 152.4h0.8M298.5 171.8h0.8M293.1 156.3h0.8M306.2 159.8h0.8M295.2 172.4h0.8M297.9 166h0.8M299.6 160.6h0.8M289.9 171.7h0.8M292 158.2h0.8M308.6 163.9h0.8M297.2 161.5h0.8M290.7 163.3h0.8M277 164.5h0.8M317.5 171.4h0.8M312.4 158.8h0.8M308.7 158.9h0.8M302.9 161.8h0.8M269.8 171.7h0.8M308.4 170.9h0.8M294.2 169.5h0.8M308.7 141.3h0.8M286 163.3h0.8M297.1 162.6h0.8M297.3 173.1h0.8M284.6 149.7h0.8M293.9 149.7h0.8M297.9 162.5h0.8M290.2 166.3h0.8M317.1 173.3h0.8M324.1 173.7h0.8M303.5 171.2h0.8M311 170.5h0.8M301.9 142.6h0.8M292 164.6h0.8M309.4 160.9h0.8M314 151.8h0.8M296.8 172.4h0.8M304.4 163.8h0.8M318.1 173.5h0.8M295.9 164.8h0.8M286.7 162.8h0.8M307.9 146.2h0.8M319.7 169.6h0.8M309 171.9h0.8M319.1 161.3h0.8M314.5 166.7h0.8M288.5 154.3h0.8M298.3 173.3h0.8M305 172.5h0.8M299.2 150.7h0.8M324.9 164.7h0.8M307.9 161.1h0.8M316 152.3h0.8M301.9 149.2h0.8M308.9 165.4h0.8M300 156.8h0.8M288.7 155.1h0.8M316.5 159.6h0.8M316.8 154.7h0.8M303.2 158.6h0.8M301.4 170.4h0.8M283.3 170.2h0.8M311 163h0.8M304.8 160.9h0.8M311 163.6h0.8M295.5 164.5h0.8M313.7 166.6h0.8M304.3 165h0.8M299 158.6h0.8M285 161.3h0.8M314 159.3h0.8M294.9 171.6h0.8M305.7 164.4h0.8M308.8 169.7h0.8M303.6 155h0.8M321.6 163.6h0.8M296.2 164.8h0.8M316 149.5h0.8M317.2 161.7h0.8M324.1 169.4h0.8M316.8 159.7h0.8M306.4 158.1h0.8M313.3 149.6h0.8M302.3 142.7h0.8M310 141.7h0.8M293.4 165.6h0.8M300.5 158.8h0.8M294.3 158.6h0.8M286.5 166.1h0.8M312.1 170.3h0.8M308.7 172.2h0.8M308 163.4h0.8M296.4 137.9h0.8M310.5 161.9h0.8M323.9 144.1h0.8M312.5 154h0.8M304 154.6h0.8M307.5 162.8h0.8M312.8 164.4h0.8M309.2 161.8h0.8M316.4 162h0.8M308.1 160h0.8M297.4 134.5h0.8M311 152.1h0.8M311.4 171h0.8M290.9 171.4h0.8M303.1 167.4h0.8M292.1 163.4h0.8M305.6 173.5h0.8M325.5 166.1h0.8M300.4 168.2h0.8M303 162.6h0.8M305.1 167.5h0.8M311.2 157.6h0.8M303 170.5h0.8M320.1 167.4h0.8M306.9 160.9h0.8M314.4 158.2h0.8M305.4 158.8h0.8M297.9 163.5h0.8M304.2 157.6h0.8M303.5 163.8h0.8M299.5 156.9h0.8M302.8 169.8h0.8M315.2 164.9h0.8M301.5 162.9h0.8M323.2 171.9h0.8M294.7 162.7h0.8M298.9 159.7h0.8M287.4 163.4h0.8M290.6 157.6h0.8M319.3 172.7h0.8M295.5 153.3h0.8M295.1 145.2h0.8M294.4 160.6h0.8M293.7 170.4h0.8M303.7 158.1h0.8M321.7 169.9h0.8M304.9 170.6h0.8M317.3 156.5h0.8M307.4 159h0.8M289.8 170.3h0.8M319.2 151.1h0.8M309.1 147.5h0.8M314.9 162.7h0.8M304.3 160.7h0.8M313.3 160.3h0.8M312.9 163.2h0.8M312.5 169.2h0.8M312.1 153.6h0.8M323.1 161.6h0.8M321.9 157.5h0.8M301.5 160.7h0.8M315.8 159.1h0.8M308.4 148.2h0.8M299.4 165.3h0.8M303.1 145.2h0.8M309.2 153.9h0.8M323.7 161.4h0.8M327 169.6h0.8M308.8 158.6h0.8M303 167.5h0.8M284.5 172.8h0.8M292.4 160.7h0.8M276.6 167.6h0.8M311.7 165.9h0.8M307.5 159.6h0.8M299.9 168h0.8M311.6 160.9h0.8M306.6 165.3h0.8M299.2 166.5h0.8M299.8 171.4h0.8M315 143.5h0.8M306.7 173.1h0.8M312.5 154.4h0.8M306.8 151.6h0.8M293.6 160.9h0.8M306.1 172.1h0.8M307.8 173.4h0.8M292 152h0.8M299.2 171h0.8M290.6 147.8h0.8M287.6 160.7h0.8M290.4 173.1h0.8M311.2 165.8h0.8M303.7 160.9h0.8M305.6 156.9h0.8M295.2 152.4h0.8M304.3 155.4h0.8M313.1 142.7h0.8M309.9 168.3h0.8M316.6 160.7h0.8M288.8 154.2h0.8M315.7 160.2h0.8M299.9 157.4h0.8M303.5 160.9h0.8M288.2 157.3h0.8M314.4 173.1h0.8M302.9 158.1h0.8M318 161.4h0.8M292.1 161.9h0.8M311.2 172.4h0.8M299.1 168.4h0.8M306.7 165.7h0.8M294.1 160h0.8M300.8 128.1h0.8M312.8 163h0.8M302 159.6h0.8M304.4 165.4h0.8M290.7 164.3h0.8M305.3 163.4h0.8M288.9 161.7h0.8M291 166.5h0.8M317.5 171.6h0.8M300.6 157.8h0.8M298.3 166.5h0.8M297.3 157.9h0.8M278.5 154.8h0.8M296.1 157.8h0.8M316.5 149.9h0.8M290.5 168.9h0.8M294 161.5h0.8M305.8 163.2h0.8M296.1 172h0.8M319.4 153.3h0.8M301.3 172.2h0.8M301.9 153.3h0.8M299.7 171.1h0.8M293.9 165.5h0.8M308 156.7h0.8M309.8 169.5h0.8M314.2 172.1h0.8M288.9 171.8h0.8M310 172.6h0.8M295.4 171.8h0.8M307.9 151.8h0.8M317 155.5h0.8M293.7 166.9h0.8M297.9 166.6h0.8M301.6 165.8h0.8M312.4 162.8h0.8M312.9 171.3h0.8M295.5 171.4h0.8M310.4 164.4h0.8M315.5 171.7h0.8M311.8 148.9h0.8M308.6 161.8h0.8M301.4 166.4h0.8M300.8 171.9h0.8M306.9 163.3h0.8M312.1 170.9h0.8M316.2 169.3h0.8M303.8 164.5h0.8M282.2 148.9h0.8M314.7 160h0.8M322.6 170.7h0.8M291.4 166.2h0.8M308.2 160.9h0.8M301.7 160.5h0.8M304 170.6h0.8M296 168.1h0.8M297 168.2h0.8M307.4 155.6h0.8M305.6 156h0.8M285.6 168.6h0.8M311.4 157.4h0.8M315.3 172h0.8M291 168.3h0.8M308.9 156h0.8M310 170.4h0.8M296.8 143.8h0.8M308.3 156h0.8M286.7 159.4h0.8M279.9 159.9h0.8M319.5 135.5h0.8M308.8 154.2h0.8M300 154.3h0.8M310.7 163.1h0.8M296.2 150.5h0.8M291.8 167.2h0.8M307.6 143.7h0.8M315.4 162.8h0.8M327 171.1h0.8M301.6 161.7h0.8M293.9 149.8h0.8M312.3 160.7h0.8M300.1 161.5h0.8M311.1 172.4h0.8M304.2 161.3h0.8M305.2 168.8h0.8M282.9 151.9h0.8M309.1 164.6h0.8M316.8 173.9h0.8M324.5 155.4h0.8M310.5 160.9h0.8M314.2 165h0.8M313.3 156h0.8M305.9 158.2h0.8M301.5 158.8h0.8M293.6 174.1h0.8M307.3 173.9h0.8M294 144.1h0.8M297.6 161.7h0.8M312.4 173.6h0.8M316.8 172.3h0.8M311.8 164.3h0.8M296.4 170h0.8M299.1 155.4h0.8M310.3 165.4h0.8M313.1 156.2h0.8M316.3 166.8h0.8M302.5 155.8h0.8M293.2 149.9h0.8M318.7 149.3h0.8M310.8 160.8h0.8M298.3 158.6h0.8M303.3 172.1h0.8M310.1 163.2h0.8M290.1 145.8h0.8M323.5 153.4h0.8M288.8 170.5h0.8M313.9 165.7h0.8M314.2 149.6h0.8M291.6 161.3h0.8M304.2 162.4h0.8M309 156h0.8M282.3 167.2h0.8M301.9 171.2h0.8M325.7 164h0.8M310.2 154.4h0.8M313.6 166.6h0.8M306.8 172.2h0.8M292.6 168.8h0.8M308.9 172h0.8M285.6 162.3h0.8M326.8 159.2h0.8M299.7 170.6h0.8M330.1 164.3h0.8M296.9 157.4h0.8M300.1 154.9h0.8M295.9 164.9h0.8M304.6 167.9h0.8M304.5 151.3h0.8M311.8 165.6h0.8M298.2 160.5h0.8M307.5 164h0.8M302.9 170.7h0.8M315.2 160.1h0.8M304 152.3h0.8M302.5 167.9h0.8M313.1 164.8h0.8M303.3 156.2h0.8M306.4 152.5h0.8M305.5 163.4h0.8M294.9 166.4h0.8M302 169.1h0.8M299.2 167.9h0.8M320.3 164.9h0.8M312.3 156.9h0.8M300.6 144.7h0.8M302.6 152.1h0.8M305.4 143h0.8M295.3 164h0.8M308.2 146.9h0.8M299.9 165.4h0.8M312.3 164.7h0.8M275.8 154.1h0.8M309.5 165.5h0.8M308.8 172.5h0.8M305.2 171.5h0.8M285.7 165.8h0.8M301.1 156.8h0.8M319.6 169.1h0.8M314.1 157.1h0.8M307 170.1h0.8M292.4 161h0.8M301.6 160.3h0.8M296.9 150.8h0.8M308.6 165.5h0.8M316 162.4h0.8M297.2 148.9h0.8M305 160.1h0.8M324.8 167.3h0.8M320.3 154.3h0.8M289.8 160.8h0.8M294.9 173.2h0.8M305.3 159.1h0.8M294.4 167.9h0.8M290.5 161.1h0.8M297.3 166.2h0.8M311.2 157.2h0.8M290.5 155.1h0.8M299.7 160.8h0.8M296.3 173.7h0.8M313.7 160.4h0.8M299 160.8h0.8M303.6 162.9h0.8M287.5 158.9h0.8M284.8 163.4h0.8M311 152.7h0.8M305.8 157.1h0.8M296.9 169.6h0.8M313.2 167.8h0.8M299.6 167.1h0.8M302.1 167.5h0.8M294.8 162.4h0.8M300 149.2h0.8M321.4 171h0.8M295.9 148.7h0.8M296.6 154.8h0.8M297.8 148.2h0.8M295.5 163.7h0.8M308.3 143.6h0.8M304 153.4h0.8M293.3 159.9h0.8M297 169.9h0.8M311.3 160h0.8M297.4 170.7h0.8M323.3 166.8h0.8M302.5 172.9h0.8M319 157.9h0.8M322.7 161.5h0.8M315.3 158h0.8M304.7 158.6h0.8M304.3 173h0.8M294.8 160.1h0.8M309.7 158.4h0.8M325.1 148.6h0.8M330.3 156.5h0.8M314.1 171.9h0.8M309.5 149.1h0.8M300.6 163.7h0.8M309.9 172.7h0.8M315.7 172.8h0.8M294.2 172.8h0.8M285.9 164.5h0.8M292.9 145.4h0.8M313.6 162.7h0.8M314.3 147.3h0.8M291.4 162h0.8M297.1 163.7h0.8M297.5 159.7h0.8M292.1 174.1h0.8M300.7 151.3h0.8M311.1 167.8h0.8M306.3 165.2h0.8M299.9 161.7h0.8M281 147.6h0.8M291.2 165.9h0.8M316.7 161.4h0.8M300.2 169.5h0.8M308.5 149.8h0.8M307.3 165.1h0.8M292 152.7h0.8M290.7 173.5h0.8M326 170h0.8M320.4 149.6h0.8M318.7 169.3h0.8M320.9 153.7h0.8M315.3 161.9h0.8M315.3 156.6h0.8M304.2 157.3h0.8M309 162h0.8M315.7 171.2h0.8M308.4 162.7h0.8M300.9 163.1h0.8M311.9 164.3h0.8M307.1 162.7h0.8M303.2 156.4h0.8M284.4 168.7h0.8M309.9 153.4h0.8M324 151.4h0.8M314.5 165.5h0.8M313.7 163.3h0.8M293 150.9h0.8M306 172h0.8M313.2 162.7h0.8M307.5 169.9h0.8M322 155.5h0.8M311.6 165.8h0.8M296.1 152.9h0.8M317.3 166.3h0.8M301.8 164h0.8M314.3 164h0.8M320.9 160.5h0.8M295.8 161.9h0.8M294.2 159.6h0.8M316.9 171.1h0.8M310.7 165h0.8M294.5 153h0.8M307.9 164.7h0.8M298 158.6h0.8M320.4 172.9h0.8M304.6 165.3h0.8M317.4 166.7h0.8M306.6 147.4h0.8M286.4 144h0.8M280.4 162.9h0.8M307.5 154.4h0.8M308.7 167.5h0.8M303.2 148.3h0.8M319.2 173.4h0.8M298 169.4h0.8M304.5 155.2h0.8M299.8 144.5h0.8M300.4 147.1h0.8M315.9 166.2h0.8M289.5 168.8h0.8M286 164.6h0.8M309.1 163.7h0.8M292.2 161.9h0.8M302.1 163.6h0.8M319.6 171.2h0.8M320.6 156.7h0.8M296.2 163.3h0.8M308.6 142.5h0.8M297.6 170.5h0.8M291 155.7h0.8M296.6 167.9h0.8M303.4 159.8h0.8M288.1 169.1h0.8M304 156.4h0.8M304.3 170.9h0.8M288.5 147.5h0.8M293.3 154.3h0.8M272 157h0.8M315.7 159.7h0.8M314.7 134.2h0.8M302.8 173.3h0.8M320.5 158h0.8M295.3 166.9h0.8M291.2 159.4h0.8M286.4 163.8h0.8M304.1 171.6h0.8M307.8 156.4h0.8M303 150.1h0.8M304.4 160.9h0.8M308.4 172.3h0.8M283 166.3h0.8M311.8 151h0.8M324 155.8h0.8M329.9 170.9h0.8M314.2 165.7h0.8M314.6 152.6h0.8M295.5 143.3h0.8M309.7 155.9h0.8M311.9 169h0.8M289.9 170h0.8M306.7 165h0.8M308.8 162.7h0.8M304.1 173.6h0.8M293.5 150.9h0.8M296 173.4h0.8M300.6 169.6h0.8M271.6 155.8h0.8M299.3 165.7h0.8M318.1 161.1h0.8M293.3 171.4h0.8M320.3 137.4h0.8M310.1 166h0.8M295.2 158.2h0.8M307 163.3h0.8M301.4 151.3h0.8M307 156.3h0.8M304.9 157.1h0.8M306.1 170.5h0.8M306.5 169.6h0.8M289.4 167.6h0.8M307 156.7h0.8M302.3 134.9h0.8M304.8 158.9h0.8M280.1 168h0.8M297.3 165.8h0.8M301.5 167.8h0.8M304.9 160.1h0.8M309.2 171.3h0.8M280.1 163.2h0.8M297.7 151.9h0.8M317.7 172.6h0.8M293.1 151.8h0.8M312.5 156.7h0.8M300.5 143.2h0.8M299.1 161.8h0.8M322.3 171.7h0.8M318.9 169.2h0.8M316.5 146.3h0.8M295.3 146.4h0.8M327.3 164.8h0.8M302.6 155.4h0.8M293.3 134.9h0.8M327.5 162.1h0.8M304.6 148.9h0.8M303.3 166.7h0.8M303.1 169.1h0.8M295.1 166.2h0.8M313.3 168.5h0.8M307.9 161.9h0.8M293.5 168.5h0.8M299.8 153.5h0.8M312 146.8h0.8M298.1 170.7h0.8M313.9 159.2h0.8M304.6 168.4h0.8M303.2 155.2h0.8M308.5 164.6h0.8M305 174.1h0.8M307.1 158.3h0.8M305.6 169.5h0.8M296.4 160.3h0.8M295.5 166.5h0.8M290.7 167.4h0.8M311.9 155.2h0.8M295 148h0.8M304.4 151.7h0.8M297.3 158.7h0.8M296.7 171.3h0.8M320.7 141.6h0.8M295.4 165.4h0.8M292.9 157.6h0.8M306.1 173.4h0.8M316.3 160h0.8M305.3 159.3h0.8M302.1 151.2h0.8M285.3 159.3h0.8M314.2 170.6h0.8M284.3 161h0.8M297.3 165.8h0.8M292.4 172.1h0.8M301.8 168.7h0.8M313.1 143.5h0.8M301.7 172.5h0.8M304.2 173.4h0.8M308.4 158h0.8M306.9 173.5h0.8M317.5 172.9h0.8M292.3 171.2h0.8M289.5 161.7h0.8M301.8 169.2h0.8M297.5 171.4h0.8M308.1 163h0.8M291.4 168.7h0.8M307.3 170.8h0.8M303.6 160.4h0.8M308 167.6h0.8M311.2 169.8h0.8M297.5 169.1h0.8M272.9 172.5h0.8M295.4 169.1h0.8M294.7 173.6h0.8M293.6 151.7h0.8M312.4 171.6h0.8M296.6 166.3h0.8M300.6 172.2h0.8M293.4 153.4h0.8M304.9 152.9h0.8M308.7 141.5h0.8M305.8 157.4h0.8M293.9 165.1h0.8M301.6 158.5h0.8M312.5 165.9h0.8M308 173.8h0.8M303.2 171.3h0.8M299.6 169h0.8M309.5 157.5h0.8M288.1 150.2h0.8M294.1 168.5h0.8M302.6 160h0.8M309 170.2h0.8M318.6 157h0.8M309.7 170h0.8M294 164.2h0.8M294.4 160.7h0.8M308.4 146h0.8M294.9 154.9h0.8M304.9 155.6h0.8M307.9 154.4h0.8M298.6 169h0.8M307.3 164.5h0.8M303.6 173h0.8M318.3 159.3h0.8M296.4 152.6h0.8M322.1 154.1h0.8M290.2 165.6h0.8M315 150.7h0.8M302.7 148.7h0.8M296.7 171.7h0.8M305.7 160.4h0.8M304.7 165.8h0.8M302.9 151.2h0.8M291.6 169.1h0.8M296.5 174h0.8M311.2 160.9h0.8M325 153.7h0.8M301.5 154.5h0.8M295.9 159.4h0.8M294 159.7h0.8M320.5 145.7h0.8M290.9 153.5h0.8M299.1 173h0.8M311.5 167.7h0.8M306.1 166.4h0.8M292.2 151.5h0.8M303.7 165h0.8M301.5 154.6h0.8M290.3 160.2h0.8M296.6 158.2h0.8M292.7 173.7h0.8M308.7 170.2h0.8M298.6 163.6h0.8M301.4 163.2h0.8M301.3 161.4h0.8M283.4 160.3h0.8M311.2 143.6h0.8M300.4 168.7h0.8M317.2 162.1h0.8M308.7 170.9h0.8M317.5 158.5h0.8M297.7 173.1h0.8M306.3 157.6h0.8M301.6 166.1h0.8M301.9 160.5h0.8M301.5 148.2h0.8M319.8 161.7h0.8M305.3 168.7h0.8M312.5 144.8h0.8M307.7 153.1h0.8M303.2 156.4h0.8M321.8 168.3h0.8M303.7 173.4h0.8M303.3 155.8h0.8M302.1 159.4h0.8M304.5 171.3h0.8M302.8 162.3h0.8M314.5 165.9h0.8M313.9 164.3h0.8M290.4 151.9h0.8M308.3 158.3h0.8M293.7 166.6h0.8M302.6 166.2h0.8M295.2 152h0.8M320.3 153.6h0.8M303.8 173.8h0.8M284.9 169.9h0.8M304.7 161.6h0.8M306.8 151.2h0.8M280.9 169.9h0.8M301 171.8h0.8M315.5 165.9h0.8M308.7 170.1h0.8M320.4 167.9h0.8M317.1 160.1h0.8M299.6 163.8h0.8M308.2 168.3h0.8M324.2 171.3h0.8M304.7 169.3h0.8M307.4 166.6h0.8M309.1 159.7h0.8M292.7 164.3h0.8M300.8 154.5h0.8M305.3 161.1h0.8M297.9 145.4h0.8M302.3 170.9h0.8M313.2 173.7h0.8M303.8 173.5h0.8M297 158.5h0.8M309.4 148.9h0.8M304.6 166h0.8M321.5 156.1h0.8M308.4 156.6h0.8M298.4 136.3h0.8M309.4 164.6h0.8M329.6 168.4h0.8M291.2 161h0.8M303.4 171.9h0.8M294.7 167.2h0.8M314.2 155h0.8M305 143.2h0.8M305.1 141.3h0.8M300 171.1h0.8M308.3 163.5h0.8M305.6 168.1h0.8M309.8 173.3h0.8M299.5 158.8h0.8M293.2 161.3h0.8M296.8 172.8h0.8M310.7 161.9h0.8M298.4 134.5h0.8M297.9 166.1h0.8M310.9 132.6h0.8M279.1 164.6h0.8M293.3 160.9h0.8M299.1 168.9h0.8M284.8 157.4h0.8M313.8 165.1h0.8M295.5 167.5h0.8M307 154.3h0.8M311.2 169.7h0.8M302.7 172.4h0.8M291.9 170.6h0.8M302.1 153.8h0.8M298.3 159.6h0.8M297.3 155.2h0.8M314 167.7h0.8M318 168.1h0.8M311.9 159.6h0.8M298.9 151.5h0.8M319 159.7h0.8M296.6 156.8h0.8M306 157.6h0.8M304.3 164.7h0.8M317.9 150.8h0.8M307.1 156.2h0.8M299.6 171.8h0.8M310.6 159.2h0.8M309.2 162.9h0.8M315.6 158.3h0.8M309.1 161h0.8M304.2 161.6h0.8M297.6 164.1h0.8M314.3 157.1h0.8M300.1 166.7h0.8M296.3 171.7h0.8M311.4 140.4h0.8M297.3 152.4h0.8M312.7 172.4h0.8M291.7 156.3h0.8M303.3 159.4h0.8M311.6 172.8h0.8M310.2 173.9h0.8M313.8 162.4h0.8M299.6 155.8h0.8M312.6 171.9h0.8M314.6 159.9h0.8M300.1 165.7h0.8M317.1 166.6h0.8M306.4 155h0.8M308.7 168.4h0.8M294.3 170.8h0.8M294.6 172.3h0.8M302 164.7h0.8M296 157.6h0.8M311.4 161.2h0.8M300.6 171.9h0.8M311.5 164.8h0.8M306.5 171.1h0.8M302.4 167h0.8M308.6 149.4h0.8M284.2 164.4h0.8M313.1 165.1h0.8M298.6 156.7h0.8M312.6 160.2h0.8M287.5 169.8h0.8M306.6 166.9h0.8M314.9 173.8h0.8M309.9 161.4h0.8M282.3 166.1h0.8M302.6 173.9h0.8M317.3 167.8h0.8M318.3 162.4h0.8M303.7 154.8h0.8M300.9 165.2h0.8M315.1 155.9h0.8M312.4 166.8h0.8M290.2 160.6h0.8M304.4 173h0.8M303.8 154.8h0.8M303.6 162.8h0.8M306.7 154.3h0.8M319.9 156h0.8M311.2 165.2h0.8M292.8 163.8h0.8M304.3 161.3h0.8M312.5 158.4h0.8M294.6 138.6h0.8M317.1 165.6h0.8M305 153.5h0.8M289.2 144.7h0.8M330.7 171.9h0.8M298.4 170h0.8M284.9 170h0.8M311.4 154.6h0.8M299.4 152.8h0.8M304.5 173.9h0.8M314.4 167.2h0.8M315.7 145.4h0.8M325.1 162.6h0.8M290.4 159.3h0.8M297.3 164h0.8M307.3 139.9h0.8M317.2 171h0.8M293.3 172.8h0.8M317.2 173.1h0.8M321.1 149.3h0.8M311.6 153h0.8M328.7 153.4h0.8M310.5 163.3h0.8M305.5 169.1h0.8M322.1 155.9h0.8M298.2 157.3h0.8M303.3 163.2h0.8M290.6 166h0.8M290.8 159.9h0.8M301.4 160.6h0.8M319.5 171.6h0.8M315.3 172h0.8M301 173.2h0.8M303.5 165.3h0.8M306.9 149.7h0.8M297.6 161.4h0.8M307.8 161.8h0.8M295.1 151.5h0.8M304.1 151.2h0.8M291.7 162h0.8M305.9 154.7h0.8M285.3 165.9h0.8M312.6 158.9h0.8M300.1 139.8h0.8M313.5 152.1h0.8M311.6 157.1h0.8M302.5 161.1h0.8M285.1 163.8h0.8M287.6 164.1h0.8M295.5 160.6h0.8M318.5 144.4h0.8M302.5 167.9h0.8M305.3 167h0.8M296.1 146.6h0.8M290.2 158.9h0.8M311.8 163.8h0.8M320.8 164h0.8M306 165h0.8M285.8 168.8h0.8M292.3 159.2h0.8M328.6 150.6h0.8M305.2 165.9h0.8M305.4 163h0.8M298.1 169.1h0.8M282.9 152.7h0.8M319.6 168.5h0.8M296 154h0.8M301.4 164.6h0.8M309.2 152.7h0.8M306.5 156.7h0.8M319.7 165.9h0.8M317.2 164.6h0.8M325.4 167.1h0.8M306.9 152.8h0.8M299.6 166.9h0.8M298.8 165.6h0.8M303.9 155.4h0.8M314.4 157.7h0.8M308.3 162.1h0.8M296.4 173.3h0.8M305 173.9h0.8M300.4 148.7h0.8M290.9 157.8h0.8M302.1 163.6h0.8M309.4 150.6h0.8M306.4 150.8h0.8M296.8 165.1h0.8M317.4 159.4h0.8M322.8 173.1h0.8M313.3 172.8h0.8M301.4 161.8h0.8M295 168.8h0.8M290.8 158h0.8M308.8 158h0.8M307.6 170.3h0.8M293.7 173.2h0.8M296.8 153.7h0.8M306.4 173.3h0.8M296.5 155.7h0.8M299.4 155.8h0.8M306 155.9h0.8M301.3 166.5h0.8M296.9 155.3h0.8M325.4 172.5h0.8M304.7 171.3h0.8M307.6 157.9h0.8M311.1 166h0.8M317.5 144.6h0.8M312.5 164.7h0.8M296.8 158.7h0.8M299.7 149.8h0.8M298 170.8h0.8M288.1 159.2h0.8M279.2 157.2h0.8M308.1 162.5h0.8M304.5 151.8h0.8M310 154h0.8M313.5 165.1h0.8M300 172.6h0.8M299.9 173.2h0.8M305.1 163h0.8M314.5 167.4h0.8M303.9 161.8h0.8M306.2 163.9h0.8M300.6 152.6h0.8M276.8 161.9h0.8M322.2 161.9h0.8M295.2 171.2h0.8M297.8 160.5h0.8M319.1 168.5h0.8M315.5 149.5h0.8M290.6 165h0.8M308.3 140h0.8M320.8 155.9h0.8M302.6 171.3h0.8M285.2 167.7h0.8M299.3 163.5h0.8M295.4 173.5h0.8M292.3 166.6h0.8M309.7 162.1h0.8M301.2 160.4h0.8M314.8 167.6h0.8M303.2 152.1h0.8M305.7 168.4h0.8M303.7 173h0.8M284 165.6h0.8M302.1 151.6h0.8M285.7 171.7h0.8M310.1 160.9h0.8M303.5 164.7h0.8M310.6 161.8h0.8M286.8 173.4h0.8M299 152.7h0.8M317.6 168h0.8M282.9 146.4h0.8M299.9 150.5h0.8M302.4 164.7h0.8M312.5 172h0.8M302.8 148.3h0.8M315.4 161.3h0.8M308.9 170.2h0.8M295.6 171.2h0.8M304.9 165.3h0.8M299.5 170.2h0.8M314.7 157.5h0.8M310.2 158.7h0.8M291.2 159.8h0.8M310.5 168.6h0.8M315.5 156.3h0.8M300.9 163.8h0.8M310.6 161.9h0.8M294.1 147.6h0.8M316.5 173.8h0.8M297.1 172.6h0.8M303.5 167.7h0.8M317.4 158.3h0.8M296 145.7h0.8M307.3 167.7h0.8M313.2 169.2h0.8M293.3 167.1h0.8M309.6 161.9h0.8M322.3 167.6h0.8M318.4 172.2h0.8M302.3 169.4h0.8M315.9 163.3h0.8M302.9 152.8h0.8M302.6 160.8h0.8M306.4 158.9h0.8M310.2 162.3h0.8M287.5 158.1h0.8M294.7 150.4h0.8M301.5 172.3h0.8M292.4 143.1h0.8M302.5 161.9h0.8M298 165.9h0.8M299.8 171.8h0.8M319.4 161.6h0.8M316.7 152.3h0.8M306.4 150.4h0.8M306.2 157h0.8M306.7 151.9h0.8M306.6 164.3h0.8M298.2 155.1h0.8M291.7 159.2h0.8M308.5 161.9h0.8M305.9 174h0.8M300.8 166.2h0.8M313 168.4h0.8M308.3 164h0.8M324.6 162.5h0.8M300.2 169.2h0.8M321.5 172.9h0.8M304.6 171.6h0.8M309.5 164h0.8M311.1 169.5h0.8M305.8 170.8h0.8M300.3 173.1h0.8M326.4 168h0.8M307.2 161.4h0.8M287.4 162.7h0.8M330 147.5h0.8M288 171.7h0.8M310.8 145h0.8M303.7 166.7h0.8M288.3 172.9h0.8M306.4 156.3h0.8M287.3 159.8h0.8M303.3 162h0.8M298 161.1h0.8M313.4 154.1h0.8M302.1 167.9h0.8M304 171.9h0.8M320.6 159.7h0.8M306.5 133.8h0.8M300.6 170h0.8M292.4 173.6h0.8M284.4 173.4h0.8M298.8 153h0.8M299.1 160.5h0.8M293.5 149.3h0.8M298.7 172.7h0.8M308.5 173.5h0.8M297.8 159.6h0.8M300.7 164.6h0.8M309.1 170.6h0.8M311.6 164.8h0.8M318.5 155.3h0.8M290.3 169.9h0.8M305.9 164.4h0.8M314 159.8h0.8M303 167h0.8M311 173h0.8M305.4 165.8h0.8M287.6 162.7h0.8M330.8 159.9h0.8M287.5 171.6h0.8M298.3 161.5h0.8M302.4 170.5h0.8M312.3 161.9h0.8M315.8 154.1h0.8M311.2 156.9h0.8M311.5 156.4h0.8M299.5 172.6h0.8M292.3 151.3h0.8M310.1 160.4h0.8M299.6 161.7h0.8M326.4 152.7h0.8M301.2 164.7h0.8M294.2 162.7h0.8M309.2 154h0.8M315.8 151.6h0.8M302.5 166.4h0.8M307 165.3h0.8M297.8 174h0.8M306.3 148.7h0.8M308.2 154.1h0.8M304.9 148h0.8M311.7 138.9h0.8M302.2 174h0.8M309.5 159.5h0.8M301.6 158.8h0.8M303.9 155.7h0.8M299 169.1h0.8M297.6 154.9h0.8M298.2 159.5h0.8M305.8 158.2h0.8M302 155.5h0.8M317 163.9h0.8M300.7 165.9h0.8M303.5 147.3h0.8M302.1 171.5h0.8M297 148.1h0.8M296.7 173.6h0.8M293.5 155.1h0.8M315.6 160.5h0.8M301.9 166.8h0.8M304.9 160h0.8M306.7 155.9h0.8M303.6 169.6h0.8M292.9 160.9h0.8M292 170.5h0.8M310.5 172.4h0.8M314.8 173.2h0.8M311.5 155.2h0.8M313.8 153.9h0.8M328.5 165.9h0.8M310.2 150.7h0.8M287.5 157.4h0.8M299.1 156.5h0.8M318.5 167.9h0.8M292.8 173.5h0.8M301.2 173.5h0.8M278.3 158.6h0.8M316.8 155.4h0.8M316.5 157.9h0.8M315.9 168.8h0.8M299.6 155.3h0.8M303.9 156.3h0.8M301.6 168.4h0.8M293 162.8h0.8M299.5 148.1h0.8M308.7 151.6h0.8M292.2 169h0.8M316.4 172.9h0.8M308.9 160.6h0.8M289.2 164.4h0.8M308.6 157.8h0.8M293.6 171.6h0.8M292.8 167.3h0.8M298.9 146h0.8M320.9 169h0.8M309.6 148.7h0.8M302.5 165.7h0.8M296 171.6h0.8M282.6 169.9h0.8M284 147.1h0.8M290.3 168.5h0.8M296.2 156h0.8M294.2 147.9h0.8M294.2 152.8h0.8M300.3 158.8h0.8M278.3 156.1h0.8M316.3 157.8h0.8M302.7 155.2h0.8M296.2 161.7h0.8M289.1 160.7h0.8M285.8 165.6h0.8M286.7 168.8h0.8M313.8 146h0.8M310.2 158.1h0.8M315.3 156.8h0.8M300.1 159.2h0.8M316.3 142.7h0.8M311.1 163h0.8M297.9 159.6h0.8M312.8 170.3h0.8M320.8 155.6h0.8M283.1 156.5h0.8M300.9 157.6h0.8M315.8 167.8h0.8M306.9 144.1h0.8M313.8 155.5h0.8M303.4 170.4h0.8M306.8 161.3h0.8M305.9 169.5h0.8M309.5 169.3h0.8M271.4 154.1h0.8M296.7 170.2h0.8M305.2 170.5h0.8M287.9 159.7h0.8M309.7 161.4h0.8M298.7 164.7h0.8M320.2 140.8h0.8M319.5 164.7h0.8M293.9 168.5h0.8M303.3 174h0.8M294.4 171.6h0.8M293.4 165.1h0.8M310.2 161.1h0.8M309.6 156h0.8M314 156.9h0.8M295.5 160.8h0.8M302.3 153.5h0.8M311.2 160.7h0.8M309.2 147h0.8M289.1 159.3h0.8M292.5 160.6h0.8M308.8 173.1h0.8M318.3 169.8h0.8M295.5 167.4h0.8M297.4 167.4h0.8M307.2 159.1h0.8M288.6 164.8h0.8M297.4 164.5h0.8M295.4 156.5h0.8M309.4 173.4h0.8M289.6 160h0.8M307 160.4h0.8M298.3 168.6h0.8M294.1 165.6h0.8M297.8 161h0.8M278.9 170.8h0.8M300.7 152.3h0.8M320.4 159.2h0.8M296.5 153.5h0.8M314.1 162.3h0.8M299.7 148.7h0.8M293.5 165.4h0.8M302.7 141.9h0.8M293.8 164.3h0.8M331.1 154.5h0.8M279.6 169.6h0.8M297.9 148.8h0.8M308.9 159.7h0.8M292.8 148.9h0.8M301.6 162.9h0.8M284.3 171.8h0.8M289.6 174h0.8M306.4 160.1h0.8M306.5 156.1h0.8M302.3 172.2h0.8M296.9 170.2h0.8M293.5 161.8h0.8M313.1 150h0.8M306.5 140.5h0.8M290.9 157.8h0.8M312.2 169.2h0.8M293.3 160.7h0.8M304.9 146.4h0.8M316 156.1h0.8M298.7 152.6h0.8M297.7 159.5h0.8M310.1 162.8h0.8M293.2 170.2h0.8M312.2 155.9h0.8M300.4 161h0.8M285.7 163.4h0.8M310 170.1h0.8M305 159.2h0.8M301.4 168.1h0.8M311.3 153.4h0.8M305 168.6h0.8M281.9 174.1h0.8M300.7 170.7h0.8M302.5 159.6h0.8M302.2 164.9h0.8M312.1 159.4h0.8M291.2 155.1h0.8M292.8 169.7h0.8M292.9 173.1h0.8M304.4 161.2h0.8M316.7 158.4h0.8M299.9 169.9h0.8M310.8 152.1h0.8M328.9 167.8h0.8M289.9 160.4h0.8M312.8 164.3h0.8M312.1 167.1h0.8M312.9 169.6h0.8M310.3 155.5h0.8M319 155.2h0.8M313.2 168.8h0.8M294.3 155.2h0.8M301.4 166.3h0.8M317.2 163.1h0.8M323.3 171.1h0.8M296.6 156.2h0.8M304.3 157.2h0.8M302.5 170.2h0.8M306.2 172.3h0.8M296.3 153.9h0.8M288.8 144.7h0.8M298.8 163.3h0.8M301.5 162.7h0.8M325.1 151.7h0.8M300.8 157.8h0.8M294.1 173.8h0.8M291.8 170.1h0.8M327.5 154h0.8M303.6 161.4h0.8M309.6 149.7h0.8M308.6 170h0.8M297.4 140.1h0.8M296.6 158.8h0.8M311.8 156.6h0.8M291.7 168.9h0.8M307.6 170.1h0.8M304.3 173.3h0.8M309.2 144.9h0.8M305.9 170.5h0.8M304.2 173h0.8M299 169.8h0.8M290.9 162.8h0.8M298 152.8h0.8M290.1 165.1h0.8M308.3 156.5h0.8M290.8 154.1h0.8M311.8 150.8h0.8M315.8 146.1h0.8M306.8 169.5h0.8M316.6 158.5h0.8M295.8 148.6h0.8M313.4 161.6h0.8M299 158.7h0.8M306.5 163.2h0.8M316.2 141.3h0.8M312.7 157.5h0.8M303 159.7h0.8M303 170.4h0.8M306.2 148.5h0.8M303.2 161.9h0.8M307.8 163.3h0.8M303.1 173.2h0.8M292.5 167.9h0.8M298 152.6h0.8M312.1 173.7h0.8M317.1 172.9h0.8M308.9 163.6h0.8M307.9 162.9h0.8M298.3 171.8h0.8M323 163h0.8M301.6 158.1h0.8M286.3 156.2h0.8M298.6 162.8h0.8M293.5 144h0.8M310.8 171h0.8M281.6 161.6h0.8M313 151.3h0.8M288.9 163.3h0.8M301.6 156.6h0.8M321.3 172.5h0.8M310.9 162.4h0.8M300.6 171.9h0.8M301.6 172.6h0.8M317.2 157.1h0.8M312.1 172h0.8M311.1 153.7h0.8M301.4 159.8h0.8M305.5 163.6h0.8M300.6 171.9h0.8M318.5 157.7h0.8M288.9 167.1h0.8M304.5 167.6h0.8M297.3 166.4h0.8M322.2 154.2h0.8M277.3 158.6h0.8M299.1 165.5h0.8M304.8 168.5h0.8M300.7 168h0.8M285.3 171.5h0.8M298.2 149.3h0.8M295.8 168.7h0.8M313.6 173.8h0.8M309.4 156.5h0.8M310.6 163h0.8M329.4 143.2h0.8M321.8 171.5h0.8M309.2 162.9h0.8M299 154.2h0.8M288.5 168.2h0.8M314.8 170.6h0.8M308.8 144.7h0.8M302.1 165.2h0.8M317.2 153.9h0.8M307.9 161.6h0.8M305.3 156.2h0.8M308.8 164.8h0.8M285.4 173.8h0.8M328.2 155.3h0.8M317.2 154.3h0.8M299.6 170h0.8M307.2 171.7h0.8M303.5 172.2h0.8M324 171h0.8M299.3 160.5h0.8M295.3 170.3h0.8M310.8 157.2h0.8M314.9 158.5h0.8M324.4 172.5h0.8M322 157.2h0.8M294.9 146h0.8M262.1 150.1h0.8M277.5 160.2h0.8M264.8 148.8h0.8M234.9 160.6h0.8M264.2 148.8h0.8M255.6 152.5h0.8M265.9 157.3h0.8M241.5 162.6h0.8M273.5 157.2h0.8M275 151.2h0.8M254.3 150.2h0.8M252.8 151.8h0.8M248.8 164.1h0.8M226.9 145.1h0.8M244.2 163.3h0.8M253.1 151.9h0.8M266.3 156.8h0.8M264.8 152h0.8M257.6 168.5h0.8M233.4 156.8h0.8M261.6 163.2h0.8M255.7 158.1h0.8M213.6 159h0.8M219.6 159.7h0.8M289.4 162.6h0.8M229.2 156.6h0.8M267.2 164.2h0.8M232.5 168.5h0.8M263.6 163.2h0.8M240 159h0.8M232.2 160.5h0.8M233.3 168.3h0.8M248.5 160.6h0.8M254.9 161.5h0.8M216.6 169.1h0.8M249.8 154.6h0.8M226.5 153.5h0.8M234.3 159.1h0.8M228.8 159.8h0.8M250.8 153.5h0.8M295.8 158h0.8M254.9 159.8h0.8M244 164.2h0.8M277.5 158.3h0.8M228.7 163.2h0.8M243.2 161.4h0.8M214.4 155.4h0.8M224.9 154.5h0.8M260 157.2h0.8M234.1 168.1h0.8M247.3 142.7h0.8M224.2 161.9h0.8M256.3 160.4h0.8M252.4 151.5h0.8M244.5 149.2h0.8M228.3 151.3h0.8M228.2 155.8h0.8M241.4 152.1h0.8M269.6 154.8h0.8M279.5 166.3h0.8M219.7 165.4h0.8M215.6 169.7h0.8M252.9 150.4h0.8M216.2 166.8h0.8M218.5 156.3h0.8M256 158.2h0.8M250.9 156.1h0.8M260.9 150.7h0.8M257.5 148.6h0.8M249 149.1h0.8M240.7 162.6h0.8M271.8 143.8h0.8M228.3 150.3h0.8M271.2 151.1h0.8M260.2 153.9h0.8M213.6 158.8h0.8M220.2 163.7h0.8M262.8 168.4h0.8M222.8 170.4h0.8M265.8 143.8h0.8M292.9 171.2h0.8M222.3 160.5h0.8M215.6 156.9h0.8M248.8 162.8h0.8M226.9 157.7h0.8M224.5 160.9h0.8M259.2 158.5h0.8M269.7 163.9h0.8M252.8 167.1h0.8M217.7 157.6h0.8M206.2 157.8h0.8M234.5 164.4h0.8M235.1 152.8h0.8M242.7 156.9h0.8M255.9 151h0.8M212.1 145.3h0.8M269.8 147.9h0.8M234.7 149.2h0.8M263.9 153.4h0.8M271.5 152.3h0.8M251.2 163.9h0.8M265.8 148.5h0.8M236.8 157.3h0.8M205 163.6h0.8M253.3 162h0.8M214.5 159.4h0.8M254.3 166.1h0.8M233.5 163.3h0.8M287.6 154.5h0.8M235.9 155.4h0.8M212.4 155.1h0.8M280.2 150.6h0.8M240.7 167.4h0.8M257.2 159.8h0.8M237.6 157.1h0.8M245.2 163.4h0.8M246.6 165.4h0.8M233.4 158.1h0.8M235.7 163.1h0.8M242.4 162.9h0.8M227.5 159.5h0.8M271.7 166.8h0.8M237.2 159.1h0.8M237 157.1h0.8M245.4 167.6h0.8M257.7 169.5h0.8M278.4 148h0.8M251.7 154.5h0.8M210 149.5h0.8M234.1 171.2h0.8M246.9 156.6h0.8M244.4 152.1h0.8M248.8 157.3h0.8M209.7 153.8h0.8M317.9 163h0.8M243 163.3h0.8M224 158.8h0.8M264.1 145.4h0.8M229.2 154.9h0.8M239 154h0.8M251 166.1h0.8M252.6 166.1h0.8M267.7 153.4h0.8M251 155.1h0.8M259.3 155.3h0.8M241.2 171.4h0.8M241.3 145.8h0.8M247.8 160.4h0.8M234.3 158.6h0.8M267.2 154h0.8M241.2 152.5h0.8M252.3 157.1h0.8M225.3 156.9h0.8M284.6 144.7h0.8M215.5 160.7h0.8M215.4 173.4h0.8M213.2 147.9h0.8M234.2 166.5h0.8M262.5 162.6h0.8M251.7 168.3h0.8M206.2 160.3h0.8M276 149.8h0.8M252.2 167.7h0.8M272.2 157h0.8M285.3 162.1h0.8M268.3 149.7h0.8M229.1 152.2h0.8M283.2 139.9h0.8M205.9 164.3h0.8M248.5 135h0.8M236.8 155.7h0.8M271.3 143.2h0.8M233.9 166.4h0.8M261.7 151h0.8M239.2 146.6h0.8M274.6 154.8h0.8M272.6 164.4h0.8M226.4 157h0.8M259.3 161.6h0.8M278.1 166.8h0.8M252.4 163.5h0.8M230.3 153.5h0.8M258.4 160.8h0.8M221.8 157.6h0.8M228.4 153.9h0.8M273.1 150.9h0.8M231.6 162.6h0.8M247.2 159.5h0.8M214.8 158h0.8M237.7 151.9h0.8M233.6 155.9h0.8M263.6 172.8h0.8M248 169.7h0.8M248.1 146.7h0.8M246.9 168.2h0.8M275.6 151.4h0.8M293.4 152.6h0.8M230.2 154.2h0.8M276.6 161.4h0.8M265.2 141.1h0.8M244.7 157.4h0.8M260.7 154.7h0.8M271.3 153h0.8M216.2 145.6h0.8M272.8 164.2h0.8M229.2 166.9h0.8M242.3 157.4h0.8M214.8 154.1h0.8M248.3 159.9h0.8M234 166h0.8M276.6 152.1h0.8M254.5 146.6h0.8M254.8 150.9h0.8M242.7 159.7h0.8M240.9 166.5h0.8M229.5 154.8h0.8M253 158.1h0.8M251.5 156.8h0.8M228.9 163.5h0.8M247.7 165.4h0.8M274.4 155.7h0.8M230.4 154.9h0.8M232.3 143.1h0.8M281 161.6h0.8M295.7 154.1h0.8M258.7 160.5h0.8M244.7 166h0.8M246.3 157.8h0.8M249.6 141.2h0.8M231 152.8h0.8M281.2 163h0.8M262.9 163.3h0.8M242.2 171.2h0.8M241.8 147.6h0.8M259.6 167.5h0.8M248.5 161.3h0.8M266.6 170.3h0.8M258.6 171.4h0.8M217.2 165.8h0.8M252.4 159.4h0.8M219.2 166.8h0.8M242.2 150.8h0.8M233 156.7h0.8M248.5 151.5h0.8M226.8 161.7h0.8M244.8 173.6h0.8M237.4 164.2h0.8M283.2 157h0.8M267.2 160.8h0.8M247.5 170.8h0.8M225.4 153.8h0.8M208.9 157.6h0.8M267.2 156.5h0.8M263.7 152.7h0.8M270.5 157.6h0.8M236.3 171.1h0.8M246.1 162.9h0.8M248.9 163.9h0.8M248.9 149.2h0.8M252.3 162.2h0.8M254.5 156.7h0.8M284.6 152.9h0.8M248.9 160.1h0.8M223.4 149.3h0.8M260.3 163.7h0.8M249.3 146.2h0.8M240.2 160.3h0.8M259.4 167.6h0.8M255.9 165.9h0.8M281.4 140.5h0.8M267.3 155.1h0.8M256.5 160.1h0.8M224.7 151.5h0.8M255.5 157.1h0.8M261.7 155.5h0.8M291.6 156.5h0.8M290 152.6h0.8M258.1 167.1h0.8M218.6 151h0.8M254.8 167.2h0.8M275 162.7h0.8M268.3 149.5h0.8M237.3 169.5h0.8M234.5 156.6h0.8M209.5 157h0.8M212.6 161.2h0.8M277.2 160.8h0.8M249.7 155.3h0.8M257.7 149.9h0.8M218.6 154.1h0.8M216.7 167.8h0.8M241.1 148.6h0.8M219.6 166.9h0.8M260.2 164.5h0.8M244.6 165.2h0.8M273.6 163.4h0.8M212.2 143.2h0.8M215 160.4h0.8M214.3 150h0.8M246.5 151.5h0.8M218.7 165.6h0.8M256 164.3h0.8M265 169.3h0.8M244.7 156.8h0.8M208.4 156.3h0.8M232.8 166.2h0.8M259.6 169.4h0.8M268.4 167.2h0.8M256.5 159.2h0.8M237.2 157.9h0.8M225.1 161.1h0.8M243.4 142.5h0.8M235.2 155.7h0.8M272.4 153.2h0.8M218.2 160.9h0.8M266.1 170.6h0.8M223.6 156.1h0.8M236 169.6h0.8M259.7 158.2h0.8M260.2 155.2h0.8M240.6 157.7h0.8M234.3 156h0.8M252.3 159.8h0.8M276.1 164.6h0.8M243.3 141.1h0.8M213.6 154.1h0.8M236.7 147.9h0.8M236.8 158.8h0.8M231.3 156.8h0.8M242.7 152.5h0.8M226.4 156.9h0.8M250.2 149.9h0.8M255.1 145.5h0.8M263.9 153.3h0.8M247.1 151.9h0.8M256.6 158.2h0.8M252.1 142.9h0.8M259.5 144.9h0.8M237.3 161.7h0.8M240.3 161.6h0.8M247.8 158.4h0.8M227.3 165.4h0.8M267.8 153.7h0.8M225.5 159.3h0.8M228.5 158.8h0.8M261.3 162.8h0.8M275.2 161.2h0.8M222.5 151.2h0.8M255.4 172.2h0.8M236.8 150.8h0.8M273.3 156.8h0.8M258.7 165.9h0.8M223.7 155h0.8M232.6 161.7h0.8M257.8 154h0.8M255.8 144.2h0.8M251.5 160.3h0.8M244.2 146.7h0.8M242.1 149.6h0.8M274.3 155.5h0.8M239.9 156.9h0.8M255.4 158.3h0.8M255.3 150.7h0.8M267 154h0.8M259.9 159.5h0.8M266.4 157.1h0.8M213.7 149h0.8M239.5 168.1h0.8M235.5 158.1h0.8M270.1 153.5h0.8M250.5 159.8h0.8M231.8 159.4h0.8M265.8 165.6h0.8M237.2 171.4h0.8M251.4 155.6h0.8M229.2 150.3h0.8M261.1 136h0.8M241 147.4h0.8M240.6 157.4h0.8M217.1 150.3h0.8M270.4 153.5h0.8M244 155.3h0.8M261.3 166.9h0.8M263.1 161.8h0.8M255.8 148.8h0.8M271.2 153.5h0.8M225.8 154.9h0.8M227.7 160.8h0.8M259.1 167.3h0.8M242.2 153.2h0.8M238.4 148.9h0.8M229 172.7h0.8M228.2 154.2h0.8M257.2 159.6h0.8M260 151.2h0.8M222.1 167.6h0.8M230.2 157h0.8M248.6 143.8h0.8M240.2 152.8h0.8M255 155.4h0.8M229.8 153.1h0.8M243.9 164.8h0.8M226.1 153.1h0.8M259.5 161.5h0.8M258.9 160.2h0.8M239.1 154h0.8M234.3 164.5h0.8M275 172.6h0.8M222.7 155.9h0.8M244.2 156.5h0.8M220.8 174.1h0.8M275.4 156.5h0.8M234.8 157.6h0.8M219.2 155.1h0.8M260.2 170.2h0.8M262.6 167.5h0.8M222.3 133.3h0.8M272.7 159.1h0.8M242.5 170.3h0.8M224.2 150.5h0.8M228.8 169.9h0.8M263.9 144.2h0.8M278.6 157.8h0.8M253.1 151.9h0.8M283.3 161h0.8M271.6 150.2h0.8M258.8 158.4h0.8M239.5 151.5h0.8M229.6 148.8h0.8M230.4 157.5h0.8M256.3 145.9h0.8M222.6 153.1h0.8M210 155.5h0.8M238.7 156.2h0.8M252.8 164.9h0.8M260.9 159.8h0.8M256.5 151.7h0.8M224.5 162.6h0.8M239.5 150.2h0.8M250.3 154.3h0.8M225.5 168.1h0.8M284.5 160.5h0.8M230.5 159.6h0.8M243.1 147.1h0.8M261.7 160.3h0.8M270.5 153.5h0.8M243.9 156.8h0.8M208.1 173.4h0.8M236.8 145.8h0.8M253.1 154.2h0.8M245.9 159.5h0.8M245.9 158.5h0.8M241.2 161h0.8M261.4 155.8h0.8M235 154.7h0.8M250.9 155h0.8M236.4 146.3h0.8M285.1 148.4h0.8M279.9 163.9h0.8M266.2 159.9h0.8M255 160.1h0.8M257.1 164.3h0.8M276.8 150.3h0.8M255.1 170.3h0.8M274.2 150.1h0.8M251.4 160.1h0.8M250.1 140.7h0.8M263.2 145.6h0.8M291.2 163h0.8M242.9 162.9h0.8M248.1 153.9h0.8M243.1 160.7h0.8M228.1 163.6h0.8M268.8 166.3h0.8M270.2 168.1h0.8M260.2 168.2h0.8M246.6 161.3h0.8M275.4 173.1h0.8M237.9 146.9h0.8M291 167.1h0.8M284.2 165.1h0.8M250.5 153.2h0.8M224.9 169.4h0.8M266.4 160.6h0.8M221.7 154.1h0.8M232.2 155.8h0.8M278.8 153.9h0.8M246 160.3h0.8M224.1 161.5h0.8M228.1 154.7h0.8M250.9 157.7h0.8M247.5 151h0.8M261 149.7h0.8M263.6 154.4h0.8M220.1 157.5h0.8M222.8 154h0.8M242.2 164.3h0.8M262.5 161.9h0.8M239.4 146.3h0.8M240.7 155.7h0.8M242.7 154.1h0.8M234.2 164.4h0.8M216.8 158.2h0.8M272.5 152.2h0.8M224.3 156.4h0.8M238.1 160.2h0.8M274.5 157.2h0.8M257.4 153.6h0.8M235 160.5h0.8M231.1 167.5h0.8M236.7 156.9h0.8M223.1 154.8h0.8M223.9 154.3h0.8M207.3 158.1h0.8M283 143.5h0.8M282.8 157.2h0.8M264.5 150.3h0.8M289.1 149.7h0.8M243.7 170.3h0.8M217.9 139.8h0.8M243.8 152.1h0.8M224.4 150.9h0.8M213.7 169.1h0.8M271.7 147.4h0.8M243 154.5h0.8M269.2 151.5h0.8M280.5 158.1h0.8M228.2 157.4h0.8M232.6 174h0.8M248.5 154.3h0.8M247.3 169.8h0.8M224.4 144.8h0.8M273.8 162.9h0.8M235.4 157.5h0.8M269.3 136.5h0.8M272.9 156.7h0.8M260 157.7h0.8M312.6 153.2h0.8M269.2 137.4h0.8M246 164.3h0.8M211.4 141.9h0.8M247.3 166.1h0.8M271.1 152.6h0.8M252.7 146.8h0.8M283.4 153.5h0.8M273.1 155.9h0.8M237.9 171h0.8M226 168.4h0.8M237.3 151h0.8M226.7 167h0.8M243.3 155.2h0.8M212 167.4h0.8M268.1 160.6h0.8M262.1 132.1h0.8M233.4 159.3h0.8M247.3 153.5h0.8M250.2 152.2h0.8M230.6 148h0.8M248 152.2h0.8M233.9 169.1h0.8M244.1 157.7h0.8M211.2 153.8h0.8M266.6 162.4h0.8M246.2 156.6h0.8M246.5 161.2h0.8M237.8 138.1h0.8M288.2 167.1h0.8M241.6 169.3h0.8M216.3 168.3h0.8M249.2 165.1h0.8M237.4 159.2h0.8M257.8 166.4h0.8M256.3 161.5h0.8M232 171.7h0.8M249.6 156.2h0.8M237.9 148.4h0.8M228.7 145.8h0.8M249.5 157.3h0.8M249.8 148h0.8M235.7 152.9h0.8M266.8 146.1h0.8M211.6 168.3h0.8M252.9 145.4h0.8M274.7 169.9h0.8M270.1 141.5h0.8M247.6 151.1h0.8M239.1 145.3h0.8M283.1 152.4h0.8M251.1 164.4h0.8M258.5 161.3h0.8M236.4 159.8h0.8M240.1 139.8h0.8M267 153h0.8M233.5 154.7h0.8M214.4 148.3h0.8M205.3 161.7h0.8M270.9 158.6h0.8M219.7 168.4h0.8M237.9 145.2h0.8M276.7 154.9h0.8M230.9 155.8h0.8M226.2 153.6h0.8M250.4 152.2h0.8M265.4 150.1h0.8M260.5 160.7h0.8M236.4 155.6h0.8M237.7 171.4h0.8M227.1 167.5h0.8M267.1 155.2h0.8M280.5 138.9h0.8M250.3 159h0.8M245.3 164.6h0.8M236.1 156.5h0.8M270.2 157h0.8M222.1 162.5h0.8M243 153.4h0.8M257 151.8h0.8M223.3 155.9h0.8M240.7 158.4h0.8M218.4 171.7h0.8M259.7 159.1h0.8M249.9 137.9h0.8M265.2 149.8h0.8M255.9 148.4h0.8M266.5 153.7h0.8M240.2 170.2h0.8M266.6 146.9h0.8M229.5 159.5h0.8M239.7 164.4h0.8M229.8 142.9h0.8M224.8 156.5h0.8M256.9 163.9h0.8M272.3 159.8h0.8M240.4 163.8h0.8M242.7 154.2h0.8M234.6 165.4h0.8M277.5 168.5h0.8M209.7 166.7h0.8M220.2 155.2h0.8M257.7 147.3h0.8M217.9 151.9h0.8M282 166.6h0.8M225.1 159.1h0.8M247.8 160.4h0.8M229.2 169.5h0.8M236.5 164.5h0.8M207.8 161.1h0.8M248 168.8h0.8M262.8 155.8h0.8M264.3 164.4h0.8M274.6 161.5h0.8M271.9 162.8h0.8M229.8 149.6h0.8M270.8 162.8h0.8M230.2 158.2h0.8M277.1 144.2h0.8M225.1 163.6h0.8M263 148.6h0.8M223 159.3h0.8M275.8 158.1h0.8M244.4 154.3h0.8M219.4 167.5h0.8M250.8 161.2h0.8M252.6 161.5h0.8M263.3 171.7h0.8M221.5 157.4h0.8M234.9 171.4h0.8M238.6 145.1h0.8M244.3 152.1h0.8M228.6 154.4h0.8M216.1 142.5h0.8M287.9 157h0.8M224.3 163h0.8M274.3 144h0.8M235.1 160.2h0.8M226.3 161.6h0.8M217.6 152.6h0.8M242.2 161.4h0.8M245.7 152.5h0.8M236.8 141h0.8M291.9 154.7h0.8M238.4 160.1h0.8M257.5 160.7h0.8M229.9 144.7h0.8M241 151.6h0.8M232.7 157.9h0.8M250.2 168.3h0.8M241.6 144.1h0.8M257.7 165.4h0.8M208.6 162.8h0.8M248.9 153.6h0.8M248.6 161h0.8M257.9 167.1h0.8M244.5 157.9h0.8M298 149.4h0.8M238.8 155.1h0.8M261.7 166.8h0.8M215.7 167.8h0.8M218.6 172h0.8M230 166.8h0.8M238.9 163.6h0.8M228.3 159h0.8M245.3 158.7h0.8M262.3 154.4h0.8M237.7 147.4h0.8M241.8 154h0.8M264.3 163.3h0.8M228.9 161.5h0.8M273.8 156.3h0.8M219 172.8h0.8M257 163.6h0.8M300 151.5h0.8M251.6 142.8h0.8M255.7 161.1h0.8M227.6 151.1h0.8M241 156.1h0.8M279.7 156h0.8M241.4 156.5h0.8M209.6 154h0.8M215.1 159h0.8M250.4 141.1h0.8M210.5 165.9h0.8M215.5 157.9h0.8M251.6 149.4h0.8M207.6 170.2h0.8M232.5 162.1h0.8M228.1 160.9h0.8M215.9 146.9h0.8M221.8 152.9h0.8M231 155.3h0.8M254.3 153.6h0.8M265.4 152.6h0.8M259.4 168.4h0.8M283.2 142h0.8M282.8 143.8h0.8M276.1 157.8h0.8M252.6 150.4h0.8M265.4 163.4h0.8M232.6 153h0.8M263.7 166.2h0.8M261.8 154.9h0.8M244.9 165.5h0.8M263.3 167h0.8M248 152.3h0.8M251.2 161.6h0.8M233.1 161.5h0.8M226.4 160h0.8M271.1 160.1h0.8M215.9 148.1h0.8M260.2 156.7h0.8M251.6 145.3h0.8M211.7 158.9h0.8M240.3 147.3h0.8M227.2 164.2h0.8M235.3 162.6h0.8M281.2 160.6h0.8M247.7 153.2h0.8M271.7 146.4h0.8M220.7 157.8h0.8M212.4 165.8h0.8M231.1 162.2h0.8M238 155.9h0.8M245.2 142.2h0.8M220.9 154.2h0.8M293.7 164.5h0.8M260.8 149.6h0.8M264.5 167.9h0.8M261.4 171.9h0.8M215.2 149.3h0.8M239 150.1h0.8M246 162.1h0.8M244.5 158.7h0.8M253.7 164.1h0.8M230.3 152.6h0.8M271.1 155.2h0.8M226.5 160.2h0.8M237.1 158.9h0.8M243.4 163h0.8M264.9 151.3h0.8M218 170.7h0.8M229.7 145.5h0.8M230.6 143.3h0.8M223.9 149.4h0.8M266.6 159.8h0.8M244.5 147.7h0.8M240.7 163.2h0.8M248.2 166.3h0.8M246.4 163.4h0.8M254.7 153.3h0.8M274.1 160.8h0.8M262.8 149.4h0.8M220.8 156.4h0.8M226.9 162.8h0.8M253.7 167.7h0.8M257.6 148.8h0.8M265.5 152.7h0.8M228.5 158.4h0.8M244.5 166.2h0.8M306.8 161.3h0.8M276.6 156.2h0.8M252.1 153.7h0.8M235.4 168.6h0.8M254.6 161.4h0.8M227 171.5h0.8M240.8 152.7h0.8M244.2 163.3h0.8M261.1 169.6h0.8M221.4 154.4h0.8M278.9 173.9h0.8M230.9 157.1h0.8M210.7 151.3h0.8M225.3 157.1h0.8M218.5 165.3h0.8M243.4 155.9h0.8M264.9 155.8h0.8M217.5 158.1h0.8M292.4 158.7h0.8M256.2 156.3h0.8M239.9 161.9h0.8M231.7 155.8h0.8M276.6 172.9h0.8M258.6 161.1h0.8M259.7 169.9h0.8M223.1 154h0.8M248.1 160.3h0.8M209.8 164h0.8M263.3 139.9h0.8M255.7 159.5h0.8M231.1 165.5h0.8M288.6 161.9h0.8M220.7 146.4h0.8M219 149.8h0.8M269.3 160.2h0.8M244.1 164.8h0.8M245.1 158.2h0.8M226.2 152.9h0.8M245.3 148.6h0.8M281.1 158.9h0.8M232.6 165.7h0.8M221.5 166.3h0.8M246.5 172.9h0.8M232.6 154.7h0.8M226.1 147.9h0.8M250.2 149.4h0.8M251.6 152.8h0.8M267.8 137.5h0.8M253.8 158.2h0.8M244.6 152.8h0.8M282.9 154.6h0.8M253.9 155.8h0.8M236.7 158.6h0.8M259.4 149h0.8M234.3 146.6h0.8M253.3 151h0.8M228.2 163h0.8M244.3 161.1h0.8M241.5 161.1h0.8M246.5 148.9h0.8M249.2 155.1h0.8M239.3 160.1h0.8M232.5 149.4h0.8M270.5 172.5h0.8M237 167h0.8M253 152.7h0.8M226.2 155.6h0.8M235.1 155.2h0.8M241.8 148.8h0.8M263.5 148.8h0.8M221.1 165.2h0.8M261.2 169.4h0.8M247.5 152.7h0.8M269.7 157.1h0.8M241.8 151.1h0.8M253.4 139h0.8M256.1 141.9h0.8M263.7 145.4h0.8M259.5 172.8h0.8M238.4 148.5h0.8M287.2 154.3h0.8M220.1 167.9h0.8M215.6 152.3h0.8M267 157.4h0.8M235.4 145.3h0.8M254.8 152.2h0.8M258.1 166h0.8M245.6 140.9h0.8M223.9 168.8h0.8M250.6 169.2h0.8M240.7 144.8h0.8M230.4 165.7h0.8M256.5 153.6h0.8M251.8 167.4h0.8M220.8 160.2h0.8M267.6 152.3h0.8M273.2 157.1h0.8M269 165.2h0.8M250.4 155.5h0.8M230.2 159.2h0.8M249.3 169.1h0.8M242.8 160.7h0.8M281.7 160.5h0.8M254.7 170.8h0.8M246.7 161.1h0.8M261.3 156.9h0.8M220.2 146.2h0.8M240.2 166.9h0.8M266.6 170.9h0.8M264.6 152.7h0.8M212.7 153.8h0.8M238.8 151.9h0.8M265 151.5h0.8M257.4 164.1h0.8M206.4 154.5h0.8M272.3 164.6h0.8M247.3 149h0.8M229.2 158.6h0.8M272.4 161.8h0.8M242.7 159.7h0.8M261.8 143.9h0.8M222.9 158.1h0.8M271.2 166.5h0.8M227.5 158.1h0.8M228.3 154.7h0.8M247.8 155h0.8M232.3 148.5h0.8M209.8 156.3h0.8M248.8 162.8h0.8M226.6 152.1h0.8M272.3 161.2h0.8M264 153.3h0.8M228.9 148.6h0.8M266.3 148.8h0.8M206.6 151.9h0.8M272.4 158.1h0.8M249.7 158.8h0.8M243.6 156.5h0.8M213.8 171.1h0.8M241.2 167.5h0.8M210.3 162.2h0.8M218.6 147.5h0.8M250.4 166.1h0.8M274.6 168.5h0.8M238.6 164.1h0.8M231.4 153.5h0.8M249.9 156.9h0.8M263.2 143.2h0.8M269.5 153.2h0.8M277 167h0.8M219.3 157.4h0.8M259.5 151.5h0.8M228.3 155.4h0.8M260.9 165.1h0.8M235.3 164.5h0.8M276.9 165.2h0.8M228.6 151.2h0.8M250.9 164.4h0.8M254.1 154.8h0.8M224.3 168h0.8M241.4 172.7h0.8M219.6 155.3h0.8M230.7 172.6h0.8M271.8 154h0.8M247.6 148.9h0.8M211.9 161.1h0.8M240.3 159.1h0.8M253.4 155h0.8M238.8 163.2h0.8M242.4 155.7h0.8M258.8 142.2h0.8M272 161.5h0.8M228.1 156.5h0.8M271.7 162.4h0.8M206 149.9h0.8M248.9 172.1h0.8M261.6 156.4h0.8M257.6 158.1h0.8M238.3 161h0.8M256.7 154.5h0.8M226.3 148.4h0.8M250.9 159.2h0.8M248.8 171.6h0.8M228.1 165.5h0.8M239.5 150.5h0.8M249.5 161.2h0.8M280.2 160h0.8M235.4 154h0.8M227.3 161.9h0.8M262.8 156.2h0.8M242.1 168.9h0.8M247.2 162h0.8M221.3 153.2h0.8M253 167.9h0.8M239.2 148.5h0.8M247 167.1h0.8M241.4 165.3h0.8M243.6 148.2h0.8M225.2 156h0.8M294.8 162.6h0.8M239.8 160.3h0.8M249.7 154.5h0.8M242.7 156h0.8M261.2 170.4h0.8M274 155.5h0.8M257.1 152.3h0.8M221.2 158.6h0.8M258.3 157.5h0.8M263.1 164.6h0.8M261.6 156.8h0.8M215.4 172.3h0.8M234.7 163.8h0.8M255.7 155.3h0.8M284.9 163.4h0.8M244.8 154.7h0.8M224 148h0.8M257.5 154.5h0.8M235.2 162h0.8M237.5 163.2h0.8M231.1 153.9h0.8M265.1 152.6h0.8M258.4 162h0.8M245.2 144.9h0.8M216.5 149.4h0.8M217 164.8h0.8M226.1 148.2h0.8M234 157.2h0.8M208.7 162.8h0.8M260.7 153.3h0.8M262.6 145.7h0.8M233 156.7h0.8M246.5 167.1h0.8M237.8 150h0.8M249.7 159.2h0.8M254.7 155.4h0.8M248.7 153.5h0.8M257.2 152.8h0.8M231.5 167.2h0.8M228.5 158h0.8M257.3 155.5h0.8M264.6 153.4h0.8M267.1 145.7h0.8M215.7 158.5h0.8M275.9 170.7h0.8M226.4 157.8h0.8M234.3 141.1h0.8M260.6 155h0.8M274.6 160.2h0.8M233.5 152.5h0.8M240.9 161.6h0.8M234.4 171.1h0.8M249.5 149h0.8M246.7 167h0.8M254.2 155.4h0.8M230.6 151.8h0.8M219.3 153.9h0.8M250.6 153.5h0.8M280.2 161h0.8M235.4 157.7h0.8M276.7 144.6h0.8M250.1 171.8h0.8M266.6 150.9h0.8M247.7 156.1h0.8M305.2 152.7h0.8M239.1 155.4h0.8M214.1 132h0.8M239.8 162h0.8M235.6 161.9h0.8M261.2 163.5h0.8M208.2 169.9h0.8M263.6 164.3h0.8M245.2 158h0.8M233.2 161.3h0.8M264.9 153.5h0.8M262.7 154.3h0.8M257.8 156.8h0.8M263.6 173.2h0.8M249.9 154.1h0.8M235.7 162.9h0.8M234.3 165.7h0.8M251.4 165.1h0.8M233 150.5h0.8M228.9 161.1h0.8M228 163.5h0.8M241.4 143.6h0.8M231.8 146.2h0.8M243.5 156.1h0.8M261.1 151.4h0.8M209.7 153.7h0.8M247.9 158.8h0.8M248.7 167.6h0.8M237.3 156.4h0.8M226.7 153.4h0.8M267.7 160.9h0.8M266.2 159.1h0.8M257.2 164.9h0.8M251.6 148.1h0.8M253.1 152.5h0.8M257 159h0.8M245.3 171.8h0.8M251.1 165.3h0.8M252.3 171h0.8M237.2 167.4h0.8M284.7 155.1h0.8M267.9 147.4h0.8M252.1 163.9h0.8M227.2 144h0.8M246.3 155.5h0.8M249.3 160.4h0.8M263.4 170.4h0.8M254.7 146.1h0.8M260 161.2h0.8M248.6 170.6h0.8M251.2 155.3h0.8M255.5 145.6h0.8M266.2 158.7h0.8M282.1 163.6h0.8M253.7 159.7h0.8M219.9 157.6h0.8M252.1 166h0.8M255 163.7h0.8M260.5 154.1h0.8M252.3 156.5h0.8M218.6 146.4h0.8M263.6 169.6h0.8M276.5 151.6h0.8M278.3 170.6h0.8M229.3 162.1h0.8M282.8 159h0.8M271.5 153.4h0.8M238.5 165.2h0.8M242.3 159.3h0.8M247.9 150.3h0.8M278.2 157.2h0.8M238.7 154.8h0.8M247.2 151h0.8M264.6 155.6h0.8M263 151.4h0.8M223.8 151h0.8M250.8 147.9h0.8M264 155.7h0.8M265.2 155.3h0.8M263.4 150.2h0.8M221.9 162.9h0.8M233.8 166.6h0.8M230.7 162.3h0.8M228 144.5h0.8M276.7 156.6h0.8M266.7 159.6h0.8M208.5 161.4h0.8M269.1 168.4h0.8M281.2 161.3h0.8M243.4 158.8h0.8M220.4 164h0.8M261.3 161h0.8M228.8 163.3h0.8M233.6 168h0.8M232.4 154h0.8M238.6 150.1h0.8M226.1 156h0.8M253.6 160.5h0.8M226.3 159.7h0.8M245.3 158.9h0.8M213.3 157.2h0.8M226.1 153.3h0.8M238.3 164.8h0.8M271.9 158.4h0.8M221.9 169.9h0.8M214.8 153.7h0.8M240.6 152.3h0.8M274.3 161.3h0.8M268.7 155.7h0.8M264.2 156.9h0.8M242 160.5h0.8M253.7 162.6h0.8M240.6 146.2h0.8M238.3 136.8h0.8M238.9 151.6h0.8M263 136.6h0.8M288.7 155.3h0.8M210.3 161.4h0.8M255.7 161.4h0.8M292.6 151.4h0.8M251.5 159.2h0.8M230.2 160.3h0.8M272.5 151.3h0.8M254.9 166h0.8M259.3 145.3h0.8M251.2 154.9h0.8M271.8 157h0.8M287.8 148.2h0.8M255.9 151.1h0.8M283.7 170.5h0.8M224.9 164h0.8M244.1 145.1h0.8M222.3 158.8h0.8M256.3 155h0.8M251.5 160.5h0.8M251.3 148.6h0.8M248 162.2h0.8M212.5 170.2h0.8M276.8 159.3h0.8M290.6 151.6h0.8M224.4 153.1h0.8M229.4 172.7h0.8M246.1 157.6h0.8M253 170.6h0.8M248.7 155h0.8M251 168h0.8M240.6 169.2h0.8M251.8 156.6h0.8M255.8 173.7h0.8M239.8 168.9h0.8M257.4 159.3h0.8M246.2 164.5h0.8M258.5 161h0.8M259.4 151.2h0.8M230.9 150.1h0.8M237.6 156.4h0.8M237.1 162.3h0.8M224.5 156.1h0.8M264 171.4h0.8M246.3 167.5h0.8M274.9 150h0.8M250.4 149.8h0.8M236.7 161.3h0.8M217.6 162.2h0.8M242.1 156.1h0.8M256.7 151.5h0.8M208.4 158.3h0.8M229.5 156.5h0.8M221.2 150.6h0.8M222.8 147.9h0.8M227.4 151.8h0.8M245.6 169.1h0.8M231.6 145.5h0.8M257.5 148.3h0.8M225.6 155.3h0.8M245.8 158.5h0.8M250.1 157h0.8M268.8 164.5h0.8M233.1 156.2h0.8M215.5 163.1h0.8M240.3 172.9h0.8M230.1 169.8h0.8M224.9 144.7h0.8M226.2 160.6h0.8M266.7 151h0.8M265.6 153.8h0.8M233.6 155.5h0.8M280.3 159.3h0.8M251.3 146h0.8M248.2 160.1h0.8M279.8 151.1h0.8M229.4 150.7h0.8M230.6 163.1h0.8M227.5 167.8h0.8M245.3 150.7h0.8M230.6 147.1h0.8M213.3 166.8h0.8M263.5 150.1h0.8M234.8 170.4h0.8M228.9 159.5h0.8M255.4 156.2h0.8M240.4 155.1h0.8M247 145.5h0.8M245.4 159.2h0.8M215.8 161.3h0.8M224.3 137.2h0.8M256.4 154.4h0.8M212.9 156.5h0.8M264 157.4h0.8M212.5 161.4h0.8M239.9 156.3h0.8M245.5 162.1h0.8M241.8 150.2h0.8M241.8 158.7h0.8M269.6 148.1h0.8M241.1 150.8h0.8M249.9 153.4h0.8M229.8 149.1h0.8M211.6 149.3h0.8M216.2 156.5h0.8M247.2 157h0.8M251.8 151.1h0.8M257.1 156.8h0.8M253.6 162.5h0.8M236.1 167.4h0.8M261.3 154.5h0.8M282 170.7h0.8M211.1 140.1h0.8M230.8 161.3h0.8M264.3 162.9h0.8M243.9 165.3h0.8M259.5 154.3h0.8M248.2 166h0.8M230.5 152.8h0.8M226.3 169.2h0.8M258.7 164.3h0.8M236.3 157.5h0.8M270.4 155.6h0.8M269.8 157.6h0.8M243.9 162.1h0.8M262.8 171.5h0.8M237 171h0.8M228.1 151.1h0.8M276.2 148.5h0.8M237.5 155.8h0.8M211.2 158.4h0.8M250.9 153.9h0.8M222.6 158.9h0.8M257.3 146.8h0.8M242.4 162.2h0.8M281.4 147.8h0.8M272.6 155.5h0.8M257.6 156.6h0.8M220.1 144.5h0.8M295.8 147.4h0.8M238.8 169h0.8M251.1 159.2h0.8M216 143.9h0.8M252.4 164.4h0.8M228.1 152.8h0.8M253.9 164.8h0.8M222 167h0.8M264.8 157.9h0.8M220.8 162.3h0.8M259.5 171.6h0.8M231.8 170.3h0.8M237.1 162h0.8M242.3 158.5h0.8M276.3 152.5h0.8M262.5 155.8h0.8M243.9 152.3h0.8M249 142.3h0.8M239.1 165.8h0.8M262.8 145.2h0.8M220.5 154.7h0.8M285.1 154.6h0.8M244.5 156h0.8M251.3 150.8h0.8M250.3 161.7h0.8M267.3 151h0.8M264.3 173h0.8M261.9 163.3h0.8M286.3 167.5h0.8M255.8 164.5h0.8M309.9 152.3h0.8M236.1 166.6h0.8M250.4 140.9h0.8M249.7 160.7h0.8M224.6 161h0.8M250.2 143.7h0.8M282.9 149h0.8M216.1 158.4h0.8M251 147.4h0.8M228.8 168.7h0.8M250.2 166.2h0.8M244.2 166.1h0.8M233.3 153.8h0.8M224.2 142.7h0.8M236.2 147.2h0.8M234.6 159.1h0.8M248.6 161h0.8M236.2 157.5h0.8M270 156.7h0.8M245.4 138.5h0.8M220.7 166.6h0.8M225.8 149.4h0.8M265.9 148.2h0.8M266.4 157.1h0.8M231 141.6h0.8M273.7 143.4h0.8M217.7 164.1h0.8M217.5 161.9h0.8M243.8 155.7h0.8M221.4 152.6h0.8M250.6 150h0.8M258.4 159.7h0.8M256.4 159.7h0.8M256.9 160.9h0.8M262.6 160.8h0.8M251.6 150.5h0.8M206.8 158.2h0.8M265.5 150.4h0.8M209.7 153.5h0.8M252.4 164.6h0.8M237.5 148.5h0.8M243.2 163.2h0.8M243.3 165.9h0.8M233.5 164.8h0.8M280.3 149.9h0.8M225.5 163h0.8M312.8 161.9h0.8M243.9 168.2h0.8M242.1 145h0.8M223.6 168.6h0.8M207.7 146.5h0.8M262.5 159h0.8M271 149.4h0.8M228.4 155.1h0.8M217.5 156h0.8M240.8 164.7h0.8M242.6 154.6h0.8M255.4 166.6h0.8M267.3 160h0.8M236.2 154.1h0.8M215.9 158.4h0.8M244 171h0.8M249.3 163.8h0.8M273.2 142.9h0.8M230.4 155.9h0.8M247.2 148.8h0.8M263.3 165h0.8M255.5 163.3h0.8M220.5 166.9h0.8M231.1 142.8h0.8M247.2 161.2h0.8M229.5 144.6h0.8M219.3 156.6h0.8M266.5 156.4h0.8M267.7 156.5h0.8M219.6 162.9h0.8M256.8 150.4h0.8M213.6 150h0.8M270.1 155.4h0.8M306.2 152.6h0.8M257.8 160.4h0.8M239.6 164.5h0.8M225.7 157.4h0.8M218.8 140.4h0.8M246 148.7h0.8M215.9 162.5h0.8M240.9 160.9h0.8M282.5 159.3h0.8M254.5 148.3h0.8M262.9 164.6h0.8M221.5 163.1h0.8M251.6 156.1h0.8M246.4 173.1h0.8M230.4 155.2h0.8M246.8 156.4h0.8M264.8 171.7h0.8M232.2 147.8h0.8M259 149.6h0.8M244.5 154.6h0.8M248.8 154.3h0.8M260 150.5h0.8M297 164.1h0.8M230.8 150.1h0.8M240.5 154.1h0.8M226.4 169h0.8M266 149.2h0.8M256.9 158h0.8M261.6 152.6h0.8M291.5 158.5h0.8M288.6 154.1h0.8M274.4 157h0.8M281.4 156.4h0.8M221.3 149.3h0.8M230.7 162.7h0.8M253 158.9h0.8M268.1 171h0.8M222.7 166h0.8M295.7 153h0.8M232.3 161.2h0.8M249.9 153.6h0.8M243.3 170.8h0.8M265 151.5h0.8M207.3 149.1h0.8M248.8 151.7h0.8M226.3 163.7h0.8M238.6 154.9h0.8M249.6 169.6h0.8M251.6 163.5h0.8M246.7 170.3h0.8M217.9 149h0.8M278.9 149.2h0.8M234.8 162.4h0.8M246.4 165.1h0.8M234.1 144.7h0.8M258.5 168h0.8M211.2 143h0.8M235 143h0.8M254.4 148.7h0.8M261.3 155.2h0.8M247.9 163.3h0.8M240.5 149.9h0.8M265.1 146.2h0.8M275.9 153.1h0.8M233.4 161.2h0.8M254.2 162h0.8M212.7 151h0.8M252.5 161h0.8M243 168.4h0.8M241.1 165.5h0.8M268.9 160.8h0.8M240.8 163.9h0.8M254.9 163h0.8M226 161.8h0.8M280.1 155.8h0.8M248.1 156.1h0.8M264.5 141.6h0.8M280.2 162.1h0.8M240.2 160.2h0.8M269.9 161h0.8M259.9 167.7h0.8M248.9 164h0.8M277.6 162.6h0.8M231.6 164.2h0.8M289.9 155.6h0.8M255.2 161.5h0.8M264.7 154.8h0.8M244.9 173.7h0.8M260.5 153.2h0.8M262.6 158.6h0.8M279 145.3h0.8M247.5 165.9h0.8M217.6 152.2h0.8M255.8 158.4h0.8M238.8 160.6h0.8M215 151.5h0.8M283.2 153h0.8M254.9 157.7h0.8M264.2 160.8h0.8M254.2 167.4h0.8M252.5 144.7h0.8M231 169.5h0.8M268.5 156.3h0.8M210.8 152.5h0.8M290.8 167.6h0.8M272 145.4h0.8M215.9 153.5h0.8M215.9 159h0.8M221.6 161.9h0.8M240.5 153.7h0.8M259.6 161.7h0.8M248.2 155.2h0.8M244.3 142.9h0.8M248.3 172.1h0.8M254 150.3h0.8M234.8 148.1h0.8M244.4 157.4h0.8M244.5 160.2h0.8M267.9 163.5h0.8M220.2 164.8h0.8M223.3 161.1h0.8M247.4 171.4h0.8M243.1 157.4h0.8M239.4 164.9h0.8M252.1 156h0.8M280.7 170h0.8M233.8 157.4h0.8M248.9 144.7h0.8M282.7 146.8h0.8M254.1 148.4h0.8M248.2 164.7h0.8M256.8 151.4h0.8M231.4 165.5h0.8M244.1 159.1h0.8M265.8 138.4h0.8M251.1 168.1h0.8M284.1 163.6h0.8M229.7 165.8h0.8M286.1 153.2h0.8M230 157h0.8M236.7 142.2h0.8M231.9 161.6h0.8M234.1 159.6h0.8M275.1 169.9h0.8M264.5 150.5h0.8M267 158.2h0.8M252.9 165.8h0.8M262.3 147.9h0.8M220.9 160.3h0.8M258.5 155.3h0.8M235 152.6h0.8M217.4 147.9h0.8M233.5 158.9h0.8M228.8 158.3h0.8M239.3 156.3h0.8M236 160.4h0.8M245.8 137.3h0.8M251.1 159h0.8M232.2 159.5h0.8M230.4 159.1h0.8M226.5 163.5h0.8M252.9 146.7h0.8M230.2 163.6h0.8M254.1 159.2h0.8M220.9 152.8h0.8M248.8 160.4h0.8M245 151.6h0.8M240.4 154.2h0.8M220.2 149.5h0.8M227.8 146.3h0.8M255.4 164.1h0.8M264.3 152h0.8M229 160h0.8M235.1 155.6h0.8M238.4 145.5h0.8M272.5 146.8h0.8M211.3 164.3h0.8M221.5 166.4h0.8M252.5 160.8h0.8M236.9 147h0.8M219.6 158.8h0.8M242.7 148.6h0.8M220.5 151.2h0.8M243.7 161.4h0.8M264.4 155.1h0.8M275.8 163.6h0.8M276.7 151.2h0.8M257.4 166.5h0.8M207.1 165.2h0.8M253.9 165.2h0.8M248.7 166.9h0.8M236 154h0.8M260.4 163.6h0.8M216.3 167.4h0.8M270.2 166h0.8M229.5 167.8h0.8M256.1 165.2h0.8M243.9 154.7h0.8M230 153.3h0.8M264.2 152h0.8M231.9 160.6h0.8M239.4 142.1h0.8M231 155.2h0.8M279.4 163.2h0.8M223.7 149.5h0.8M235.3 159.8h0.8M228.4 161.4h0.8M215.1 160.6h0.8M270.4 137.4h0.8M244.4 160h0.8M254.6 158.8h0.8M243.6 160.2h0.8M247.3 158.7h0.8M278.6 165.9h0.8M264.7 153.1h0.8M234.7 166.2h0.8M222.7 165.9h0.8M271.4 153.8h0.8M235.2 142.2h0.8M244 167.2h0.8M258 156h0.8M288.6 162.3h0.8M253.8 155.7h0.8M257.4 172.4h0.8M254.6 145.1h0.8M249.7 172.8h0.8M270.3 154h0.8M252.4 146.6h0.8M258.6 151.2h0.8M233.7 153.6h0.8M229.8 171.1h0.8M276.4 155.8h0.8M247 171h0.8M238.9 154.6h0.8M227 170.1h0.8M248.5 158.1h0.8M236 151h0.8M265.3 152h0.8M233.9 145h0.8M221.5 154h0.8M234.5 146.3h0.8M231.8 156.9h0.8M239 147.5h0.8M239 161.3h0.8M244.7 158.2h0.8M245 162.9h0.8M215.8 153.4h0.8M252.9 158.1h0.8M222.1 155.7h0.8M229.8 158.1h0.8M209.4 145.3h0.8M214 156.8h0.8M297.2 165.5h0.8M270.7 157.9h0.8M278.5 160.6h0.8M246 166.3h0.8M218.7 140.9h0.8M219.2 168.7h0.8M263.7 159.3h0.8M239.5 156.5h0.8M252.8 151.2h0.8M261 150.3h0.8M273.2 155.2h0.8M224.9 155.6h0.8M224.8 156.8h0.8M206 154h0.8M246.1 160.8h0.8M236.2 167.2h0.8M208.4 156.1h0.8M234.1 157.7h0.8M238.9 168.5h0.8M244.4 150.6h0.8M297.6 158.1h0.8M241 164.7h0.8M231.7 156h0.8M286.9 126.1h0.8M270.4 155h0.8M306.9 132.2h0.8M277 154.6h0.8M247.2 143.8h0.8M254.9 126.2h0.8M223 154.5h0.8M293.6 144.7h0.8M289.1 108h0.8M277.1 157.3h0.8M256 134.3h0.8M281.6 141.1h0.8M286.7 139.3h0.8M299.6 143.2h0.8M278.8 137.6h0.8M285.9 132.2h0.8M296.1 149.4h0.8M288.2 124.6h0.8M284.5 144.3h0.8M286 122.2h0.8M264.7 145.4h0.8M298.4 129.1h0.8M291.9 139.5h0.8M310.8 135.7h0.8M246.2 148.9h0.8M284.2 154.5h0.8M286.5 136.4h0.8M253.3 150.2h0.8M277.7 157.3h0.8M287.7 123.4h0.8M233.2 151.4h0.8M277.4 131.5h0.8M270.2 158h0.8M283.3 121.1h0.8M282.3 142.7h0.8M273.9 149.8h0.8M294 165.3h0.8M277.5 134.2h0.8M269.1 153.1h0.8M312 138.6h0.8M286.1 142.7h0.8M268.1 146.2h0.8M256.6 157.3h0.8M284.8 142.2h0.8M259.7 145h0.8M266.6 149.2h0.8M271.9 148.3h0.8M296.4 150.9h0.8M256.6 145.2h0.8M260.4 161.8h0.8M265 161.5h0.8M270.2 156.3h0.8M265.5 143.6h0.8M278.4 143.2h0.8M275.4 150.7h0.8M299.9 145.3h0.8M261.4 126.6h0.8M268.9 113.2h0.8M289.9 145.7h0.8M256.2 155.7h0.8M268.2 159.7h0.8M259.7 138.6h0.8M265.1 149h0.8M264.7 171.9h0.8M274.9 163.1h0.8M269.9 141.3h0.8M260.9 139.1h0.8M287.6 152.9h0.8M275 133.2h0.8M277.2 133.7h0.8M228.7 159h0.8M242.9 146.1h0.8M275.6 138.6h0.8M276.2 160.4h0.8M297.8 153.3h0.8M280.5 144.2h0.8M305.4 126.8h0.8M282.3 142.5h0.8M283.1 147.5h0.8M280.7 150.7h0.8M262.5 152.7h0.8M260.9 159.8h0.8M292.6 135.5h0.8M266.8 145.5h0.8M280.8 124.4h0.8M261 158.1h0.8M267.9 130.9h0.8M235 150.6h0.8M245.1 153.8h0.8M280 162.2h0.8M255.5 156.3h0.8M251.1 138.9h0.8M269.2 135.4h0.8M307.5 132.4h0.8M269.5 170.6h0.8M260.2 143.4h0.8M269.2 136h0.8M289.7 151.7h0.8M251 144.9h0.8M264.1 130.6h0.8M250.7 146.2h0.8M260.2 150.9h0.8M290.1 140.2h0.8M277.1 131.8h0.8M265.6 150h0.8M284.7 138.7h0.8M283.7 137.2h0.8M255.4 152.2h0.8M262.1 127.7h0.8M290.9 142.1h0.8M286.2 134h0.8M302.4 139.6h0.8M290 130.8h0.8M273.4 157.5h0.8M274.5 143.1h0.8M304.6 146.4h0.8M284.9 160.8h0.8M248.7 150.2h0.8M269.9 160.7h0.8M301.1 129.4h0.8M280.5 151.5h0.8M285 142.7h0.8M298.5 157.1h0.8M273.8 131h0.8M273.1 143h0.8M270.7 151.9h0.8M290.8 148h0.8M284.3 142.9h0.8M256.3 144.9h0.8M261.2 150.7h0.8M273 143.1h0.8M283.4 137h0.8M297 147.6h0.8M262.9 161h0.8M267.1 137.4h0.8M265.8 131.8h0.8M284.8 153.1h0.8M250.3 155.2h0.8M287.3 146.3h0.8M287.7 143.7h0.8M269.9 154.2h0.8M283.5 149h0.8M279.8 138.5h0.8M276.3 149.2h0.8M287.3 118.1h0.8M248.1 133.3h0.8M264 139h0.8M277.7 138.7h0.8M296.3 129.5h0.8M260.4 138.4h0.8M270.5 146h0.8M263.9 136.1h0.8M252.1 151.9h0.8M262.6 135.9h0.8M271.4 147.5h0.8M315.5 148.1h0.8M258.3 143h0.8M235.2 133.6h0.8M245.9 161.7h0.8M267.8 128.9h0.8M261.8 141.3h0.8M268.1 161h0.8M240.2 148.5h0.8M280.6 146.2h0.8M237.9 156.2h0.8M251.4 143.7h0.8M249.8 159h0.8M264.3 126.8h0.8M293.7 150.1h0.8M258.9 158.1h0.8M240 139.6h0.8M273.2 128h0.8M292.5 153h0.8M277.7 147.4h0.8M304.4 139.4h0.8M302.2 150.2h0.8M263.9 170.4h0.8M296.3 138.1h0.8M290.7 141.7h0.8M276.5 131.7h0.8M267.6 141.7h0.8M295.9 141.9h0.8M282.4 139.6h0.8M290 111.7h0.8M263 157.3h0.8M270.6 151.6h0.8M305.7 142.5h0.8M249.7 148.6h0.8M257.4 153.8h0.8M293 135h0.8M284 138.2h0.8M309.4 134h0.8M281.6 147.4h0.8M296.3 144.3h0.8M275.6 143.7h0.8M286.5 146.2h0.8M267.7 139.2h0.8M273.3 148.9h0.8M264.9 134.6h0.8M268.7 139.9h0.8M284.8 134.6h0.8M274.7 163.9h0.8M280.8 131.4h0.8M295.6 132.9h0.8M264 153.8h0.8M251.5 149.9h0.8M288 147.5h0.8M265.4 140.8h0.8M278.3 155.5h0.8M247.7 160.7h0.8M285.4 155.1h0.8M260.3 160.5h0.8M262.1 150.6h0.8M261.8 120.6h0.8M276.3 147.2h0.8M289 132.1h0.8M258.2 156.3h0.8M273.2 155.4h0.8M300 133.1h0.8M271 136.7h0.8M241.2 153.8h0.8M292 149.7h0.8M281.5 161.6h0.8M267.1 145.6h0.8M265.5 141.5h0.8M269.3 137.7h0.8M269.9 148.1h0.8M274.9 132h0.8M282.5 132.2h0.8M284.4 141.4h0.8M240 143h0.8M290.7 131.6h0.8M263.6 142.2h0.8M280 148.2h0.8M276.4 161.5h0.8M265 141.5h0.8M273.7 145.7h0.8M308.8 158.7h0.8M269.9 143.2h0.8M286.9 138.5h0.8M287.9 127.8h0.8M284.3 116.7h0.8M287.5 147h0.8M316.6 120.6h0.8M290.4 145.9h0.8M260.8 150.7h0.8M258 135.9h0.8M249.4 149h0.8M251.6 127.9h0.8M275.9 124.3h0.8M289 141.8h0.8M256.9 131.5h0.8M256.1 134.3h0.8M268.4 141.4h0.8M312.7 108.6h0.8M267.5 151.8h0.8M298.2 151h0.8M261.4 156.5h0.8M224.9 156.3h0.8M293.2 145.6h0.8M248.7 142.2h0.8M235.8 147.1h0.8M252.7 153.3h0.8M264.5 153.2h0.8M272.9 140.2h0.8M310.7 145.3h0.8M257 164.3h0.8M293.5 152.4h0.8M278.2 122.2h0.8M261.6 120.2h0.8M249 143.5h0.8M298.5 136.5h0.8M282.1 149.3h0.8M263.4 159.2h0.8M276.8 131.9h0.8M265 143.6h0.8M291.1 154.2h0.8M269.7 142.4h0.8M317.8 165.8h0.8M308.4 135.1h0.8M271.7 151.9h0.8M278.7 133.2h0.8M308 161.5h0.8M258.4 139.5h0.8M262.9 132.8h0.8M285.7 123.7h0.8M289 143.4h0.8M284.4 123.6h0.8M279.3 145h0.8M292.8 142h0.8M269.2 157.9h0.8M304.8 149.3h0.8M264.3 152.5h0.8M259.1 146.2h0.8M284.7 124h0.8M329.3 140.3h0.8M260.4 141.3h0.8M274.1 141.9h0.8M253.9 148.3h0.8M246.3 145.1h0.8M307.7 132.4h0.8M274 161.4h0.8M283.6 147.7h0.8M269.2 157.5h0.8M272.8 153.9h0.8M292.9 157.3h0.8M293.7 137.3h0.8M256 145.7h0.8M268.5 162.7h0.8M260.6 121.7h0.8M285.4 149.3h0.8M261.8 155.5h0.8M253 152.8h0.8M274 147.1h0.8M281.3 133.6h0.8M288.8 133.3h0.8M282.6 157.1h0.8M259.6 148.9h0.8M308.7 147.2h0.8M261.7 140.3h0.8M283.7 133.1h0.8M272.8 128.3h0.8M282.1 122.7h0.8M280.5 149.5h0.8M258.8 130.3h0.8M246.8 130.1h0.8M301.9 112.9h0.8M253.7 153.6h0.8M280.1 153.4h0.8M301.1 140.3h0.8M272.9 137.4h0.8M275.6 153.9h0.8M288.9 146.1h0.8M243.1 144.3h0.8M261.7 141.1h0.8M258.9 156h0.8M300.9 156.1h0.8M266 144.9h0.8M277.6 142.4h0.8M263.3 156h0.8M237.7 149.3h0.8M243.4 160.2h0.8M246.9 138.6h0.8M272.3 132.1h0.8M279.2 137.5h0.8M307.5 119.2h0.8M262.9 153.6h0.8M279.5 147h0.8M273.7 154.6h0.8M286.5 154.9h0.8M252.1 153.3h0.8M273.2 148.4h0.8M261.5 156.8h0.8M254.6 159.8h0.8M280 121h0.8M276.9 120.4h0.8M281 122.9h0.8M273.8 140.5h0.8M240.4 132.6h0.8M283.5 135.1h0.8M295.6 136.4h0.8M326.6 129.4h0.8M309.3 136.8h0.8M279.4 148.2h0.8M260.2 140.5h0.8M305.6 131.7h0.8M256.9 154.9h0.8M261.2 148.6h0.8M301.2 150.3h0.8M313.3 145.2h0.8M290.1 145.2h0.8M281.8 141.1h0.8M317.7 129.5h0.8M306.7 132.5h0.8M289.5 106.4h0.8M277.5 135.7h0.8M310.4 150.2h0.8M265.2 145.9h0.8M294.8 141.2h0.8M310.3 130.6h0.8M297.7 142.2h0.8M313.6 61.1h0.8M301.3 111.8h0.8M330.1 113.2h0.8M296.1 138.1h0.8M313.3 113.4h0.8M319.3 106.6h0.8M308.8 131.8h0.8M313.9 131.3h0.8M306.6 144.3h0.8M297.1 89.1h0.8M314.5 108.4h0.8M311.8 114.7h0.8M308.6 94.9h0.8M312.8 137.8h0.8M302.5 148.3h0.8M324.2 99h0.8M317.4 94.5h0.8M309 94.5h0.8M305.3 80.8h0.8M308.7 95.4h0.8M302.1 78.7h0.8M310.5 148.6h0.8M306.8 111.5h0.8M299.9 105.8h0.8M302.4 86.1h0.8M302.1 104.9h0.8M312.9 108h0.8M312.6 137.4h0.8M318.4 106.5h0.8M294.1 110.6h0.8M310.7 131.9h0.8M311.2 164.1h0.8M307 125.8h0.8M301.7 95.8h0.8M307.2 117.5h0.8M316.1 57.1h0.8M320 140.7h0.8M322.1 129h0.8M308.7 123.8h0.8M321.5 96.2h0.8M315.9 122.8h0.8M308.6 145.9h0.8M303.5 95.9h0.8M270.1 114.2h0.8M225.6 62.6h0.8M282.5 65h0.8M236.4 51.7h0.8M304.5 74.7h0.8M217.5 86.9h0.8M231.4 136.5h0.8M284.6 67.1h0.8M280.7 58.5h0.8M212.7 77.2h0.8M274.7 121.6h0.8M324.5 170.9h0.8M219.1 118.6h0.8M252.9 43h0.8M208.9 91.8h0.8M290 113.9h0.8M215.5 148.5h0.8M254.7 172.8h0.8M228.5 59.3h0.8M303 150.2h0.8M228.5 135.8h0.8M241.7 127.6h0.8M291.5 114.7h0.8M214.3 127.9h0.8" stroke="#000" stroke-opacity="0.7" stroke-width="0.85" fill="none"/>
<path d="M376.3 61.3h0.8M382 53h0.8M390.8 47.1h0.8M365.9 56.4h0.8M401.5 61.7h0.8M389.6 51.3h0.8M384.3 61.5h0.8M390.4 56.4h0.8M403.1 58.7h0.8M399.6 56.7h0.8M388 71.1h0.8M403.5 65.1h0.8M367 60.9h0.8M379.5 50.5h0.8M380.3 52h0.8M390.2 63.2h0.8M388.1 67.6h0.8M378.7 63.5h0.8M390.8 75.9h0.8M385.8 58.6h0.8M376.1 54.6h0.8M383.3 61.6h0.8M372.4 53.4h0.8M383.1 55.3h0.8M377.5 60.5h0.8M373.9 60.4h0.8M373.5 58.3h0.8M371.2 64.8h0.8M387.6 71.1h0.8M378.9 48.6h0.8M372.3 54.7h0.8M391.9 67.7h0.8M392.4 53.4h0.8M392 67.9h0.8M384.1 41.1h0.8M376.8 56.8h0.8M397.6 65.8h0.8M379.8 70.5h0.8M397 66.8h0.8M386.7 70.2h0.8M376.4 60.6h0.8M381.9 52.1h0.8M385.9 68.8h0.8M399.1 70.5h0.8M394.5 61.9h0.8M371.4 51.4h0.8M388.6 57h0.8M398.6 73.7h0.8M378.3 71.3h0.8M386.2 73h0.8M380.5 64.9h0.8M381.7 59.5h0.8M390.2 76.3h0.8M384.3 62.4h0.8M376.2 56.1h0.8M391 52.9h0.8M382.2 51.2h0.8M383.8 66.7h0.8M387.5 59.1h0.8M378 46.2h0.8M380.8 70.5h0.8M381.5 58.8h0.8M382.2 51.1h0.8M392.1 67.9h0.8M373 47.4h0.8M398 57.8h0.8M385.6 52.9h0.8M388.4 55.6h0.8M380.7 50.8h0.8M395.7 83.2h0.8M384.5 65.3h0.8M389.1 61.7h0.8M383.8 57.4h0.8M393.6 53.9h0.8M374.7 62.6h0.8M367.6 67.2h0.8M381 60.6h0.8M396.1 63.5h0.8M386.3 56.4h0.8M387.1 66.3h0.8M374.4 62.1h0.8M391.8 66.1h0.8M375 64.4h0.8M397.4 60.6h0.8M368.6 50.1h0.8M381.3 69.1h0.8M393.4 68.2h0.8M376.4 63.5h0.8M386 53h0.8M365.3 61.9h0.8M366.3 64.1h0.8M404.5 66.7h0.8M377.5 53.3h0.8M376.8 60.8h0.8M394.7 57.7h0.8M382.2 54.7h0.8M392.3 70.1h0.8M376.7 55.6h0.8M389.2 48.2h0.8M378.6 59.5h0.8M370.6 57.6h0.8M385.5 56.4h0.8M395.4 56.6h0.8M388.3 59.5h0.8M395.6 57.8h0.8M388.1 66h0.8M390.9 74.4h0.8M370.1 55.3h0.8M371.9 63.7h0.8M397 61.9h0.8M383.3 69.8h0.8M386 59.8h0.8M370.3 50.5h0.8M396.1 52.8h0.8M386 62.4h0.8M382 65.5h0.8M374 67.5h0.8M377.7 65.8h0.8M377.9 60.2h0.8M377.2 70.7h0.8M375.6 52.7h0.8M395.6 69.8h0.8M384.1 58.2h0.8M372.6 54.5h0.8M384.6 69.4h0.8M389.4 72.8h0.8M388.9 56.3h0.8M377.4 69.7h0.8M381.8 70.1h0.8M370.3 52.2h0.8M375.9 59.6h0.8M379.4 48.7h0.8M388.1 44h0.8M377.5 61.3h0.8M373.4 56.4h0.8M376.5 55.2h0.8M385.1 64h0.8M389.5 56.1h0.8M397.3 66.7h0.8M375 67.5h0.8M376 72.6h0.8M392 61.8h0.8M381.2 53h0.8M377.2 56h0.8M396.1 65.3h0.8M382.3 62.9h0.8M383.7 50.5h0.8M367.1 65.9h0.8M377.9 70.6h0.8M401.1 67.7h0.8M391.9 60h0.8M382.6 60.5h0.8M380.7 70.8h0.8M381.2 66.3h0.8M383.8 65h0.8M404.6 54.7h0.8M396.3 59.3h0.8M386.6 58.5h0.8M382.5 49.4h0.8M392.7 61.1h0.8M365.1 59.6h0.8M397.9 68h0.8M369 51.6h0.8M386.7 60.6h0.8M396.6 56.7h0.8M383.4 40.8h0.8M393.3 68.1h0.8M383.8 46.2h0.8M395.3 52.7h0.8M376.1 42.7h0.8M372.5 49.3h0.8M371.1 64.8h0.8M390.5 62.8h0.8M378.6 58.1h0.8M370.4 59h0.8M376.1 53.7h0.8M389 54.8h0.8M368.3 63.3h0.8M370.2 45.7h0.8M374.2 51.4h0.8M375.9 68.6h0.8M393.3 69.9h0.8M382.5 61.3h0.8M382.2 46.3h0.8M384.8 68.8h0.8M386.7 60.7h0.8M391.4 64.9h0.8M395.5 60.3h0.8M365.4 58.2h0.8M394.1 57h0.8M384.5 65.9h0.8M391.7 60.9h0.8M376.2 45.1h0.8M416.8 67.6h0.8M392 57.3h0.8M379.2 63.8h0.8M374.9 56.6h0.8M380.8 62.9h0.8M392.5 61.3h0.8M398.4 60.7h0.8M379.8 59.4h0.8M379.5 64.9h0.8M393.3 57.4h0.8M391.5 48.3h0.8M377.5 69.8h0.8M385.3 77.5h0.8M376.4 66.9h0.8M384.1 62.7h0.8M384.6 66.4h0.8M396.6 64.5h0.8M387.8 60.5h0.8M388.5 55.1h0.8M392 68.2h0.8M387.1 61h0.8M379.6 51.2h0.8M374.9 51h0.8M391.9 66h0.8M372.2 48.8h0.8M393.2 76.4h0.8M387.4 78.2h0.8M376.3 61.4h0.8M372.8 74.6h0.8M387.3 64.7h0.8M389.2 56.5h0.8M388.7 43.7h0.8M382.1 51.8h0.8M388.8 72.7h0.8M389.2 53.9h0.8M371.9 62.7h0.8M382.2 57.9h0.8M373.2 59.2h0.8M384.4 67.1h0.8M375.3 57.7h0.8M370 58.1h0.8M385.2 58.1h0.8M395.9 54.2h0.8M398.5 68.4h0.8M389.3 64.5h0.8M378.8 54.6h0.8M393.7 63.6h0.8M388.3 59.2h0.8M391.1 68.1h0.8M367.4 71.2h0.8M392.7 70h0.8M387.7 61.5h0.8M386.9 82.3h0.8M386 52.6h0.8M384 61.3h0.8M396.5 54.8h0.8M380.9 57.2h0.8M391.4 71.8h0.8M383.9 69.2h0.8M385.2 61.9h0.8M364.3 47.4h0.8M372.4 60.6h0.8M387.5 53.1h0.8M385 59.8h0.8M389.2 57.7h0.8M374.5 67.2h0.8M379.3 67.1h0.8M376.1 56.2h0.8M383.2 52.5h0.8M394 52.8h0.8M391.2 45.7h0.8M390.7 62.8h0.8M390.5 78.3h0.8M377.5 58.4h0.8M372.7 53.2h0.8M384.6 60.8h0.8M390.5 66.3h0.8M395 58.3h0.8M387.7 53.2h0.8M382.9 60.3h0.8M380.4 56h0.8M369 50.5h0.8M377.7 60h0.8M389.3 58.4h0.8M381.8 62.3h0.8M373.1 64.8h0.8M402.6 69h0.8M378.8 60.3h0.8M392.3 72.8h0.8M370.4 58.5h0.8M378 54.9h0.8M385.3 64.8h0.8M383.1 53.3h0.8M384.3 52.2h0.8M404 54.2h0.8M389.4 62.7h0.8M386.3 52.7h0.8M380 56.3h0.8M379.3 56.8h0.8M385.9 57.2h0.8M386.5 66.6h0.8M377.1 63.7h0.8M385.6 56.2h0.8M385.8 69.4h0.8M384.8 46.1h0.8M389 69.4h0.8M373.5 55.8h0.8M393.4 44.4h0.8M389.6 67.4h0.8M388.2 73h0.8M371.7 63.6h0.8M410.4 50.5h0.8M378.6 63.8h0.8M380.9 44.7h0.8M386.3 62h0.8M376.2 59.4h0.8M390.2 69.7h0.8M390.4 52.2h0.8M385.8 42.6h0.8M373.1 57.8h0.8M388.9 61.2h0.8M387.8 45.7h0.8M373.9 47.7h0.8M379.2 53.6h0.8M402.2 73.3h0.8M375.2 51.8h0.8M379.6 53.8h0.8M383 43.4h0.8M393.2 67.9h0.8M389.4 62.2h0.8M388.7 58.3h0.8M364.3 54.6h0.8M386.6 50.2h0.8M374.1 55h0.8M373 69.5h0.8M366.8 62.6h0.8M383.7 41.8h0.8M384.1 59.1h0.8M367.1 57.2h0.8M382 62.8h0.8M371.6 49.9h0.8M373.8 57.4h0.8M380.5 50.6h0.8M397.8 59.7h0.8M392 68.7h0.8M380.6 44h0.8M383.8 64.9h0.8M393.8 65.7h0.8M389 56.2h0.8M369.3 80.4h0.8M397.3 53.3h0.8M385.3 63.7h0.8M366.9 52.1h0.8M385.1 73.1h0.8M399.8 61.8h0.8M381.4 55.2h0.8M383.7 66.4h0.8M373.8 55.2h0.8M379.5 52.2h0.8M374.4 71.2h0.8M397 75.3h0.8M366.8 56.8h0.8M405.7 69.7h0.8M375.3 61.8h0.8M381.9 55.9h0.8M384.9 63.8h0.8M381.9 58.9h0.8M373.7 56.2h0.8M390.2 62.4h0.8M385 48.6h0.8M397 54.5h0.8M390.9 59h0.8M388.9 69.5h0.8M366 46.4h0.8M373.9 59h0.8M401.1 70.3h0.8M379.2 69h0.8M379.8 65.3h0.8M391.4 46.8h0.8M388.9 75.3h0.8M378.5 64.2h0.8M389.1 59.3h0.8M377.7 65.8h0.8M378.6 53.9h0.8M389.7 68.9h0.8M400 60.1h0.8M368.3 63.6h0.8M369.7 52.2h0.8M377.6 71.5h0.8M386.6 51.1h0.8M380.4 69.3h0.8M369.2 44.8h0.8M393.2 63.7h0.8M374.3 55.2h0.8M386.9 51.7h0.8M374.9 68.5h0.8M384.2 68.8h0.8M384.5 55.6h0.8M388.6 54.1h0.8M387.8 58.6h0.8M381.4 56.9h0.8M371.4 66.8h0.8M368.6 56.9h0.8M369.4 62.5h0.8M381.1 60.4h0.8M387.3 63.7h0.8M384.6 63h0.8M388 57.5h0.8M381.3 57.1h0.8M378 53.7h0.8M399.5 53.3h0.8M401 61h0.8M389.6 61.6h0.8M380.7 63.2h0.8M400.2 64h0.8M384.5 55.8h0.8M400.5 74.2h0.8M394.3 63.3h0.8M364.4 57.6h0.8M368 50h0.8M394.2 58.5h0.8M381.8 42.5h0.8M389.6 64.9h0.8M378.2 60.9h0.8M370.3 48.3h0.8M383.5 66.7h0.8M386.1 50.8h0.8M376.5 66.3h0.8M377.4 59.8h0.8M389 57.1h0.8M387.8 47h0.8M378 58.3h0.8M386.8 70.9h0.8M378 61.7h0.8M384.1 53.7h0.8M376.3 57h0.8M385.3 54.4h0.8M409.9 67.6h0.8M390.5 59.8h0.8M415.2 52h0.8M379.8 60h0.8M395.1 62.8h0.8M370.6 68h0.8M390.5 59.8h0.8M381.7 57.1h0.8M388.9 47.9h0.8M386.2 55.7h0.8M387.5 63.4h0.8M370.5 66.2h0.8M392.7 55.4h0.8M375 51.6h0.8M384 69.7h0.8M376.7 51.4h0.8M388.6 60.8h0.8M383.3 58.6h0.8M376.6 71.1h0.8M393.5 60.1h0.8M391.3 76.8h0.8M387.3 63.2h0.8M378.6 59h0.8M382.7 69.6h0.8M378.1 45.2h0.8M377.9 60.7h0.8M364.9 52.2h0.8M378.3 49.2h0.8M382.2 68.3h0.8M370.1 57.2h0.8M380.4 63.7h0.8M384.9 55.1h0.8M391 65.2h0.8M378.1 42.2h0.8M376.3 58.8h0.8M392 57.7h0.8M383.7 45.4h0.8M378.8 58.9h0.8M378.1 57h0.8M376.1 50.1h0.8M389.4 49.2h0.8M380.9 67.9h0.8M379.1 54.2h0.8M378.3 47.7h0.8M380.6 48.6h0.8M382.4 54.7h0.8M372.5 56.2h0.8M391 67.8h0.8M380.6 58.2h0.8M373.8 54.3h0.8M387.7 66.4h0.8M399.2 52.3h0.8M397.1 66.4h0.8M397.8 63.7h0.8M394.8 62.5h0.8M372.4 58.2h0.8M378.4 57.3h0.8M386.3 66.1h0.8M387.1 67.8h0.8M365.9 62.7h0.8M375 57.2h0.8M381.8 49.6h0.8M393.7 54.4h0.8M374.6 67.7h0.8M393 58.9h0.8M390.5 61.2h0.8M377 62.6h0.8M377.6 53h0.8M387.7 51.9h0.8M373.1 43.1h0.8M387.7 75.5h0.8M395.7 58h0.8M380.4 50.5h0.8M380.8 66.4h0.8M382.5 58.7h0.8M372.3 53.8h0.8M386.3 61h0.8M386.8 72.2h0.8M365 41.4h0.8M397.8 67.5h0.8M377 55.2h0.8M381 66.8h0.8M380.2 58.3h0.8M367.3 65.8h0.8M388.6 57.3h0.8M370.6 55.2h0.8M386.6 78.4h0.8M402.4 62.3h0.8M381.5 51.2h0.8M389.5 55.4h0.8M388.2 63.5h0.8M389.6 53.8h0.8M394.9 61.5h0.8M371.9 55.7h0.8M385 60.5h0.8M389.8 71h0.8M405.5 65.6h0.8M400.9 44.6h0.8M401.5 65h0.8M396.2 61.7h0.8M387.3 65.8h0.8M379 53.8h0.8M382.6 57.6h0.8M394.5 65.8h0.8M390 46.8h0.8M385.7 58.1h0.8M394.1 59h0.8M372.4 54.4h0.8M403.2 58.9h0.8M396.3 62.3h0.8M362.8 58.2h0.8M405.2 70h0.8M373.8 55h0.8M368.7 77.7h0.8M394.2 44.3h0.8M390.5 65.4h0.8M375.1 52.3h0.8M379.1 71.9h0.8M380.2 52.7h0.8M394.2 58h0.8M373.9 55.6h0.8M391.2 63.2h0.8M376.8 69h0.8M400.5 52.3h0.8M374.5 49.6h0.8M381.1 60.3h0.8M382.7 60h0.8M390.8 51.8h0.8M395.1 64.8h0.8M378.4 62.6h0.8M383.4 49.4h0.8M378.3 64.1h0.8M385.2 65.7h0.8M377.6 62.3h0.8M398.1 61.7h0.8M376.2 67.2h0.8M387.2 51.7h0.8M376.8 68h0.8M383 74.3h0.8M389.2 63.6h0.8M395.2 58.6h0.8M394.1 62.4h0.8M380.5 62h0.8M381.8 50.5h0.8M374 61h0.8M386.4 61.4h0.8M392.6 55.7h0.8M376.2 70.4h0.8M371.9 66.3h0.8M380.1 63h0.8M386.6 58.9h0.8M382.7 67.2h0.8M379.2 51.1h0.8M392.9 59.7h0.8M382.6 58.2h0.8M383.7 45.9h0.8M383.9 56.4h0.8M372.2 52h0.8M382.2 73.1h0.8M375.7 68h0.8M378.5 62h0.8M379.7 64.6h0.8M386 57.7h0.8M367 62.5h0.8M370.9 51.3h0.8M400.1 67h0.8M384.4 61.2h0.8M386.9 58.3h0.8M387.4 59.9h0.8M379.7 62.4h0.8M389.1 64.4h0.8M388.8 76.2h0.8M400 65.9h0.8M371 65.1h0.8M383.3 66h0.8M378.7 65.2h0.8M373 58.1h0.8M366.7 70.6h0.8M386.1 44.6h0.8M393.9 70.9h0.8M399.5 56.3h0.8M384.7 70.8h0.8M381.5 62.6h0.8M382.7 57.6h0.8M398.8 58.9h0.8M383.2 64.6h0.8M382.7 66.5h0.8M362.9 62.7h0.8M373.4 55.5h0.8M379.8 62.8h0.8M383.3 56.9h0.8M386.1 77h0.8M379.8 54h0.8M381.3 50.1h0.8M373.7 53.5h0.8M391.9 58.9h0.8M376.6 57.2h0.8M370.7 77.1h0.8M398.5 65h0.8M369.4 51.5h0.8M377.4 51.4h0.8M364.7 50.3h0.8M379.9 53.8h0.8M371.1 59.1h0.8M380.8 41.8h0.8M372.5 62.9h0.8M397.6 55.7h0.8M381.1 63.6h0.8M393.5 59.5h0.8M387.6 57.9h0.8M364.9 61.3h0.8M382.3 62.8h0.8M383.8 53.3h0.8M378.5 61h0.8M368.6 67.2h0.8M410.2 50.7h0.8M393.4 59.7h0.8M389.2 63.2h0.8M380.2 65.9h0.8M381.5 70.8h0.8M390.1 50.9h0.8M382.3 59.7h0.8M381.2 49.9h0.8M402.4 65.3h0.8M387.2 48.7h0.8M389.4 61h0.8M390.5 75.2h0.8M379.5 53.3h0.8M392.5 71.1h0.8M385.3 66.2h0.8M381.1 59.2h0.8M388.6 45.3h0.8M389.2 67.8h0.8M376.5 53.8h0.8M385.2 66.2h0.8M385.1 57.1h0.8M387.6 62.3h0.8M375.4 55.1h0.8M379.1 63.8h0.8M373.5 50.8h0.8M380.3 59.3h0.8M406.5 65.9h0.8M392.1 68.7h0.8M392.3 76.1h0.8M391.4 55.1h0.8M377.4 69.7h0.8M401.3 75.4h0.8M404.9 72h0.8M376 58.5h0.8M384.7 67.6h0.8M393.9 56.6h0.8M396.2 59.7h0.8M385.2 65.6h0.8M389.4 65.9h0.8M379.2 57.8h0.8M393.7 59.7h0.8M386.1 54h0.8M386.3 52.7h0.8M380.6 56.3h0.8M394.7 56.8h0.8M372.5 57.5h0.8M393.6 56.1h0.8M388.7 61.7h0.8M392.6 48.5h0.8M385.3 58.6h0.8M387.3 55.9h0.8M387.5 44.4h0.8M380.7 69.6h0.8M385.5 61.1h0.8M384 71h0.8M380.7 47.8h0.8M374.9 52.1h0.8M382.9 66.1h0.8M379.1 50.8h0.8M389.9 70.2h0.8M374.9 63.2h0.8M383.2 56h0.8M384.5 53.6h0.8M370.9 45h0.8M376 59.9h0.8M385.6 67.2h0.8M376.4 57.4h0.8M372.3 48.8h0.8M393.7 62h0.8M400 70.2h0.8M380.8 53.6h0.8M385.2 88.3h0.8M402.6 68.3h0.8M377.7 44.3h0.8M380.2 58.6h0.8M368.3 60.6h0.8M395.1 55.8h0.8M384.4 49.1h0.8M395.3 56.5h0.8M377.3 42.5h0.8M377.8 44.5h0.8M392.4 67.5h0.8M374 49.9h0.8M382.7 60.4h0.8M370.6 66.4h0.8M385.3 76.2h0.8M390.1 63.6h0.8M383.5 50.7h0.8M389.7 57.6h0.8M394.2 71.8h0.8M396.6 49.3h0.8M382.9 73.4h0.8M398.6 74.3h0.8M396.4 57.8h0.8M393.6 77.8h0.8M386.7 64.9h0.8M381.9 60.9h0.8M379.8 62.5h0.8M385.5 48.5h0.8M376.9 61h0.8M382.5 71h0.8M390.1 72.1h0.8M380.9 67.5h0.8M378.5 53h0.8M391.8 64.3h0.8M374 64.5h0.8M396 69.8h0.8M394.3 70.5h0.8M394.4 56.9h0.8M366.6 51.9h0.8M372.8 57.4h0.8M376.9 57.8h0.8M375.7 55.4h0.8M400.4 56.9h0.8M363.8 64.9h0.8M391.2 61.9h0.8M379.1 60.9h0.8M378 65.7h0.8M382.2 54.4h0.8M390.8 55.7h0.8M391.6 53h0.8M378.1 59.5h0.8M374.8 64.8h0.8M382.4 61.1h0.8M363.5 58h0.8M388.9 45.8h0.8M385.3 63h0.8M379.3 49.8h0.8M370.1 55.8h0.8M384.4 58.4h0.8M403.1 65.6h0.8M388.7 48.8h0.8M384.5 67.4h0.8M370.4 72.2h0.8M377.9 59.2h0.8M380.9 55.9h0.8M374.2 52.7h0.8M409.9 60.2h0.8M384.3 50.1h0.8M380.9 62.1h0.8M404.5 45.6h0.8M381.6 63.8h0.8M393.9 56.8h0.8M380.3 73.5h0.8M382.5 76.1h0.8M373.6 51.1h0.8M386.2 52.5h0.8M392.4 53.6h0.8M390.2 50h0.8M374.9 59.1h0.8M391.5 54.6h0.8M367.9 59.3h0.8M373.1 59.7h0.8M394.7 68.3h0.8M366.3 64.2h0.8M395.7 58.9h0.8M376.4 68.8h0.8M385.8 63.9h0.8M393 67h0.8M407.7 78.3h0.8M385 61.3h0.8M378.2 67.9h0.8M370.4 62.9h0.8M382.2 45h0.8M392.3 66.1h0.8M387.3 58.7h0.8M385 55.4h0.8M393.7 73.9h0.8M383.4 60.1h0.8M384.6 67.5h0.8M387.1 57.5h0.8M381 61.5h0.8M383.4 57h0.8M394.9 66.9h0.8M394.7 56.6h0.8M391.9 62.9h0.8M383.1 54.6h0.8M378.9 55h0.8M385.3 60h0.8M402.2 69.7h0.8M386.6 60.4h0.8M378.2 52.1h0.8M390.8 50.4h0.8M396.1 76.4h0.8M367.1 64.7h0.8M392.1 71.8h0.8M386.9 74.2h0.8M377.3 54.7h0.8M389.8 62.6h0.8M368.5 62h0.8M394.4 61.9h0.8M385.6 68.4h0.8M365.1 50.1h0.8M376 56.7h0.8M375 47.5h0.8M382.1 74.2h0.8M368.6 68.3h0.8M391.1 70.5h0.8M397.7 61.3h0.8M398.3 52.9h0.8M375.7 60.4h0.8M394.6 52.8h0.8M364.9 57.7h0.8M385.4 66.3h0.8M386.3 50.8h0.8M393.2 69.4h0.8M380.9 76.6h0.8M383 72h0.8M379.3 68.2h0.8M366.1 60.6h0.8M379.4 66.2h0.8M390 54.4h0.8M389.8 61.9h0.8M388.4 77.1h0.8M378.6 71.7h0.8M381.9 64.6h0.8M387.5 56.2h0.8M386.4 57.7h0.8M392 54.6h0.8M373 63.9h0.8M388.1 66.2h0.8M387.3 69.8h0.8M386.7 68.6h0.8M375.6 62h0.8M379.9 49.5h0.8M380.6 64.6h0.8M380.5 73.5h0.8M389.8 65.7h0.8M388.3 51.3h0.8M384.7 61h0.8M402.8 60.1h0.8M384.7 55.1h0.8M389.5 48.6h0.8M387.1 61.6h0.8M380.1 80.1h0.8M382.4 63.9h0.8M381.7 68.4h0.8M402 79.5h0.8M390.3 52.5h0.8M392.1 50h0.8M377.1 53.8h0.8M373.6 57.3h0.8M382.4 54.2h0.8M389.5 56.4h0.8M395.2 69h0.8M379.1 62.5h0.8M379.1 54h0.8M397.6 52.1h0.8M384.4 75.8h0.8M366.4 45.8h0.8M382.7 44.9h0.8M380.4 65.7h0.8M376.3 59h0.8M386.2 74.8h0.8M381.6 65.4h0.8M388.9 62.3h0.8M380 62h0.8M393.8 52.9h0.8M379.7 61.7h0.8M386.2 63.7h0.8M397.6 73h0.8M368.3 68.1h0.8M379.1 52.2h0.8M395.3 61.2h0.8M366.2 59.8h0.8M387.2 65.6h0.8M368.5 62h0.8M376 65h0.8M374.1 49.5h0.8M366.6 48.7h0.8M393.9 65.2h0.8M375.4 68.6h0.8M384.3 66.5h0.8M387.5 60.5h0.8M384.3 63.9h0.8M393.7 68.1h0.8M395.1 54.8h0.8M364.9 56.9h0.8M384.5 63.9h0.8M373.8 58.2h0.8M373.4 57.6h0.8M383.6 58.7h0.8M388.1 57.5h0.8M382.1 65.2h0.8M397.8 67.7h0.8M390.6 66.9h0.8M395.5 80.6h0.8M376.1 63.3h0.8M383.3 72.7h0.8M363.9 65.1h0.8M385.2 65.9h0.8M387.3 63.5h0.8M388.9 58.4h0.8M363.3 56.4h0.8M384.6 55.9h0.8M375.1 68h0.8M379.1 50.2h0.8M387.1 72.9h0.8M373.6 49h0.8M372.8 59.8h0.8M386.2 72.2h0.8M383.9 58.2h0.8M375.5 66.6h0.8M380 52.3h0.8M381.7 59.2h0.8M389.2 56.7h0.8M396.6 79.4h0.8M372.6 57.8h0.8M374.7 55h0.8M372.5 54.3h0.8M386.1 62.2h0.8M375.3 41.4h0.8M363.1 63.4h0.8M382 60.1h0.8M400.3 57.2h0.8M389.5 56.4h0.8M390 46.9h0.8M380.1 58.3h0.8M388.2 49.9h0.8M379.4 65.8h0.8M381 66.1h0.8M389.8 63.9h0.8M380.1 59.5h0.8M373.2 62.1h0.8M384.3 69.7h0.8M403.9 73.1h0.8M389 63.2h0.8M389 72.8h0.8M384 50h0.8M368.3 63.3h0.8M387.2 65.4h0.8M368.7 50.9h0.8M371.2 47h0.8M379.8 53.3h0.8M402.2 55.5h0.8M379.5 52.7h0.8M382.9 65.6h0.8M379.8 45.4h0.8M378.8 61.7h0.8M371 63.9h0.8M375.3 52.2h0.8M375.1 72.7h0.8M390.7 65h0.8M376.5 48.8h0.8M373.4 69.7h0.8M396.3 65.1h0.8M380.9 45h0.8M378.2 62.5h0.8M388.4 64.6h0.8M375.8 61.7h0.8M380.3 66h0.8M384.6 66.5h0.8M388.2 57.6h0.8M397.7 56h0.8M391.4 58.8h0.8M379.6 60.9h0.8M381.1 51h0.8M377.3 49h0.8M383.4 62.4h0.8M386.5 48.4h0.8M383 67.4h0.8M374.8 50h0.8M393.1 61.6h0.8M395.1 60.9h0.8M370 55.4h0.8M382.7 62.1h0.8M376.6 54.1h0.8M404.9 62.1h0.8M401.8 56.6h0.8M385.2 63.5h0.8M392.3 62.7h0.8M377.3 58.9h0.8M365.3 66.9h0.8M387.8 76h0.8M392 50.9h0.8M373.5 59.4h0.8M377.9 50.6h0.8M375 51.3h0.8M364.4 57.4h0.8M374 67.1h0.8M400.1 64.5h0.8M391.5 71.2h0.8M386.3 59.4h0.8M394.8 68.7h0.8M383.2 55.9h0.8M381.8 66.9h0.8M391.8 57.8h0.8M382 60.8h0.8M380.1 58.2h0.8M376.2 51.3h0.8M386.1 62.7h0.8M376.1 74.9h0.8M380.7 64.6h0.8M387.6 57.5h0.8M388 70.1h0.8M382.9 63.8h0.8M413.2 62.2h0.8M380.6 63.6h0.8M385.7 54.2h0.8M379.8 57h0.8M381.2 59.7h0.8M398.7 66.5h0.8M378.8 64h0.8M392.5 54.4h0.8M380.5 50.5h0.8M385.2 67.4h0.8M379.1 68.4h0.8M379.2 56.2h0.8M382.9 61.3h0.8M402.3 57.1h0.8M389.2 62.4h0.8M398.2 54.1h0.8M369.1 69h0.8M393.6 71.7h0.8M380.4 67.5h0.8M386.5 52.5h0.8M383.2 57.9h0.8M375.3 53h0.8M376.2 61.9h0.8M390.8 71.1h0.8M396.8 55.8h0.8M387.6 67.7h0.8M390 54.7h0.8M374 64.2h0.8M368.6 59.7h0.8M382.7 49.4h0.8M380 57.8h0.8M390.1 68.4h0.8M394.1 69.2h0.8M380.5 55.7h0.8M386.2 58.1h0.8M390.9 63.2h0.8M403.9 62.3h0.8M393.5 64.3h0.8M388.4 62.1h0.8M393.3 67.1h0.8M379.6 58h0.8M381.5 60h0.8M387 57.7h0.8M378.4 58.4h0.8M366 57.8h0.8M373.5 56.7h0.8M392.3 66.4h0.8M393.1 62.1h0.8M390.5 67.6h0.8M382.5 60.3h0.8M370.9 45.5h0.8M391.2 70.5h0.8M379.4 46.7h0.8M382.9 74.8h0.8M391.5 78.4h0.8M393 58.5h0.8M378.1 67h0.8M368.9 59.9h0.8M377 68.1h0.8M380.1 53.1h0.8M393.4 65.3h0.8M376.6 63h0.8M377.8 63.1h0.8M383 65.7h0.8M376.2 52.3h0.8M400.8 67.7h0.8M384.1 52.9h0.8M378.3 60.1h0.8M372.3 56.1h0.8M385.7 45.1h0.8M381.1 68.8h0.8M380.1 57.1h0.8M387.6 56.4h0.8M367 55h0.8M380.9 54h0.8M396.8 64.9h0.8M378.1 52.8h0.8M397.2 70.5h0.8M365.4 59h0.8M380.3 54.3h0.8M392.9 68.4h0.8M375.7 57.3h0.8M390.1 61h0.8M389.3 56.2h0.8M392.9 74.2h0.8M380.6 47.8h0.8M377.3 64.8h0.8M385.9 60.2h0.8M388.8 49.9h0.8M383.6 59.1h0.8M375.9 63.8h0.8M378.9 53.4h0.8M389.1 66.6h0.8M384 61.8h0.8M386.8 63.5h0.8M372.5 63.1h0.8M402.2 68.7h0.8M378.6 67.6h0.8M391.5 56.5h0.8M384.1 55.6h0.8M396.5 53.6h0.8M397.3 58.8h0.8M387.6 57.7h0.8M384.9 69.5h0.8M392.5 53.1h0.8M381 60.2h0.8M403 61.9h0.8M381.7 53.2h0.8M381.8 64.6h0.8M371.2 67.2h0.8M394.1 69.5h0.8M384.3 79.5h0.8M374.9 52.9h0.8M407.2 57.6h0.8M387.2 59.7h0.8M376.9 50.4h0.8M381.1 61.3h0.8M387.2 65.7h0.8M384.4 60.4h0.8M391.1 57.2h0.8M369.2 62.1h0.8M398.8 54.8h0.8M364.3 47.2h0.8M388.9 53.9h0.8M392.3 67.7h0.8M372.6 62.6h0.8M370.9 52.4h0.8M383 70.2h0.8M388 73.1h0.8M362.7 78.8h0.8M374.7 59.3h0.8M397.7 68.4h0.8M398.2 54.7h0.8M373.9 53.4h0.8M378.1 59.1h0.8M383.2 50.6h0.8M389.1 50.5h0.8M376.3 60.2h0.8M375.1 57.1h0.8M386.7 72.7h0.8M393.4 70h0.8M391.4 52.3h0.8M377.5 51.1h0.8M378.8 57.3h0.8M375.5 53.9h0.8M395.5 60.1h0.8M365.7 52.1h0.8M383.1 56.8h0.8M402.3 73h0.8M401.5 60.5h0.8M390.5 63.9h0.8M384.7 53.6h0.8M390.1 46.5h0.8M386.7 82.9h0.8M402.7 49.1h0.8M387.2 55h0.8M378.3 56h0.8M393.4 68.6h0.8M374.3 61.3h0.8M380.6 75h0.8M369.8 54.5h0.8M374.6 56.7h0.8M366.2 47h0.8M383.9 55.1h0.8M375.4 56.2h0.8M380.2 51.3h0.8M381.2 59.1h0.8M390.6 48.1h0.8M377 66.9h0.8M369.4 56.3h0.8M376.4 66h0.8M394.7 65.2h0.8M382.3 46.8h0.8M380.3 52h0.8M380.5 70.9h0.8M401.1 67.5h0.8M385.1 59.1h0.8M386.9 59.1h0.8M402 59.5h0.8M386.1 55.7h0.8M388.6 75.5h0.8M389.5 63.1h0.8M382.9 64.1h0.8M375.5 70.3h0.8M398.3 72.3h0.8M392.4 59.4h0.8M404.2 55.4h0.8M372.2 73h0.8M381.6 53h0.8M365.8 62.5h0.8M394.7 65h0.8M368.6 54.7h0.8M374.4 64.2h0.8M396.8 67.6h0.8M384.5 72.4h0.8M402.7 56.7h0.8M390.8 53.2h0.8M374.2 66.1h0.8M373.8 55.8h0.8M394.8 67.2h0.8M368.7 54.8h0.8M383.8 53.2h0.8M403.3 66.7h0.8M382.3 67.9h0.8M388.5 51.5h0.8M383.2 63.5h0.8M383.3 68.5h0.8M391.3 66.7h0.8M382.6 60.4h0.8M406.1 54.6h0.8M393.9 67.1h0.8M377.7 58.5h0.8M393.1 52.5h0.8M384.6 65.3h0.8M375.6 59h0.8M397.1 66.2h0.8M379.7 47h0.8M365.5 62.5h0.8M382.7 59.5h0.8M383.9 54.9h0.8M399.3 70.8h0.8M401 56.6h0.8M388.6 67.1h0.8M375.6 51.3h0.8M374.4 65.6h0.8M388 56.4h0.8M392.4 58.1h0.8M385.7 60.6h0.8M374.2 65h0.8M389.8 44.8h0.8M379.3 70.8h0.8M389.2 52.8h0.8M386.6 52.7h0.8M369.1 59h0.8M390.9 48.8h0.8M379.2 59.4h0.8M367.1 63.8h0.8M376.5 61.4h0.8M392.4 56h0.8M387.3 62.5h0.8M389.1 58.8h0.8M391.9 68.6h0.8M396.5 72.7h0.8M372.8 52.8h0.8M386.2 69h0.8M377.7 58.8h0.8M387.5 60.9h0.8M395.9 56.7h0.8M390.8 56.6h0.8M390.4 55.5h0.8M379.6 66.4h0.8M375.2 58.5h0.8M390.6 61.8h0.8M381.8 60h0.8M374.4 63.5h0.8M387.3 75h0.8M384.6 69.2h0.8M378.6 62.7h0.8M375.2 59.8h0.8M379.3 66.5h0.8M365.7 53.7h0.8M380.1 64.5h0.8M378.6 55.7h0.8M397.5 60h0.8M378.2 67.6h0.8M363.8 57.5h0.8M387 63.5h0.8M370.8 45.7h0.8M378.5 52.3h0.8M391.5 59.6h0.8M397.6 64.6h0.8M391.5 57.9h0.8M377.8 62h0.8M393.9 58.6h0.8M396.8 62.8h0.8M401.6 56.6h0.8M379.7 64.3h0.8M384.9 56.5h0.8M388.3 69.2h0.8M378.9 64.9h0.8M382 54h0.8M397.5 60.5h0.8M378.1 64.7h0.8M377.3 51.3h0.8M381.7 60.6h0.8M393.4 62.1h0.8M381 49.9h0.8M382.3 56.6h0.8M398.1 52.7h0.8M371.8 42.6h0.8M381.1 63h0.8M402.8 54h0.8M387.1 56.8h0.8M398.6 67.7h0.8M398.5 64.8h0.8M393.4 66.2h0.8M376.3 65.3h0.8M386.2 44h0.8M385.9 51.7h0.8M385.8 72.9h0.8M385.8 65.3h0.8M374.4 51.5h0.8M374.5 72.6h0.8M379.7 61.3h0.8M368.2 51.7h0.8M385.7 59.9h0.8M380.5 62.7h0.8M391.4 53.5h0.8M370.5 60.6h0.8M394.7 53.3h0.8M393.5 52.6h0.8M379.8 69h0.8M368.9 55.7h0.8M384.6 51.9h0.8M393.3 56.1h0.8M380.3 50.7h0.8M387 65.6h0.8M397.4 62.6h0.8M373.1 68.5h0.8M376.8 63.4h0.8M397.5 70.7h0.8M369.2 47.7h0.8M374.8 64h0.8M375 63.5h0.8M385.7 62.1h0.8M385.5 54.9h0.8M396.6 65.1h0.8M400.2 58.2h0.8M364.9 65.2h0.8M372.7 57.6h0.8M380.7 58h0.8M383.2 51.4h0.8M372.1 58.1h0.8M373.4 70.2h0.8M381.5 70.2h0.8M377.6 64.3h0.8M380.2 51.6h0.8M382 57.9h0.8M411.3 58.1h0.8M376 63.1h0.8M381.9 60.5h0.8M391.4 61.2h0.8M380 48.2h0.8M381.9 63.6h0.8M383.1 68.8h0.8M379.2 60.7h0.8M380 43.8h0.8M390.2 58.2h0.8M391.1 57.4h0.8M371.1 48.9h0.8M382.4 54.1h0.8M379.8 62.9h0.8M382.5 63.1h0.8M383.7 54.5h0.8M379.2 41.3h0.8M386.8 69.3h0.8M376.3 50.1h0.8M374.7 59.6h0.8M385 58.3h0.8M386.8 47.7h0.8M382.8 58h0.8M389.7 56h0.8M378.1 59.6h0.8M410.2 63.2h0.8M404.9 59.1h0.8M386.2 53.3h0.8M396.2 64.7h0.8M383.2 67.6h0.8M397.4 58.9h0.8M387.1 57h0.8M399.3 48.3h0.8M404.9 64.6h0.8M363.4 55.8h0.8M375.7 57.6h0.8M382.5 67.8h0.8M365.5 57.3h0.8M397.5 54h0.8M389 67.8h0.8M382.8 44.7h0.8M386.2 56.9h0.8M399 62.8h0.8M389.6 64.4h0.8M388.3 51.6h0.8M376.6 58.5h0.8M383.2 58.9h0.8M390.9 62.5h0.8M390.3 62.6h0.8M388.4 57.3h0.8M367.6 61.5h0.8M390.5 67h0.8M373.7 65.3h0.8M384.3 61.4h0.8M378.4 54.4h0.8M376.9 60.6h0.8M377.3 57.7h0.8M381.3 49.2h0.8M383.9 60.9h0.8M393.5 62.8h0.8M370.5 70.6h0.8M382.3 65.2h0.8M390 43.8h0.8M397.5 55.3h0.8M394.2 62.1h0.8M381.4 51.3h0.8M386.4 52.2h0.8M391.6 58.2h0.8M375.1 72.6h0.8M392.5 57.6h0.8M390.7 49.5h0.8M377 56.4h0.8M378.9 50.6h0.8M391.1 57.4h0.8M377.3 53.2h0.8M375.7 63.5h0.8M389.7 50.1h0.8M393.9 71.3h0.8M383.1 52h0.8M385.1 55.8h0.8M388.6 61h0.8M399.1 52h0.8M377.2 60h0.8M379.9 55.4h0.8M368.6 69.9h0.8M380.4 64.1h0.8M377.3 54.2h0.8M379.4 71.1h0.8M392 78.4h0.8M394.6 74.6h0.8M383.1 54.3h0.8M397.5 58.5h0.8M390 57h0.8M373.7 57.2h0.8M375.9 55h0.8M392.2 60.9h0.8M394 59.5h0.8M389.1 53.7h0.8M400.4 49.3h0.8M385.1 64.5h0.8M362.8 40.7h0.8M369.6 54.8h0.8M381.9 56.6h0.8M384.4 77.5h0.8M373.3 59.3h0.8M381.7 67.5h0.8M367.2 42.2h0.8M375.9 49h0.8M386.9 57.1h0.8M366.4 48.6h0.8M370.1 49.7h0.8M383.5 53.6h0.8M390.1 79h0.8M391.6 50.3h0.8M392.4 78.5h0.8M381 61.8h0.8M393.4 64.2h0.8M394.1 67.2h0.8M378.9 54.5h0.8M382.7 54.1h0.8M395.1 65.7h0.8M380 64.8h0.8M382 67.2h0.8M398.3 65.5h0.8M380.6 49.7h0.8M399.2 67.4h0.8M378.2 57.2h0.8M370.1 65.8h0.8M387.2 58h0.8M365.2 70.2h0.8M389.5 44.4h0.8M378.2 57.8h0.8M387.3 52.4h0.8M393 67h0.8M385.4 55.1h0.8M367.9 51.3h0.8M384.1 50.7h0.8M384.5 66h0.8M380 55.4h0.8M379.7 71.2h0.8M400.4 52.1h0.8M373.4 76h0.8M376.6 70.9h0.8M385.5 69.9h0.8M380 59.2h0.8M388.7 61.1h0.8M379.9 69.5h0.8M379.2 68.5h0.8M378.6 55.7h0.8M389.2 65.4h0.8M392.5 62.8h0.8M384.3 56.3h0.8M369.7 52.2h0.8M393.4 62.2h0.8M382.8 69h0.8M374.2 59.5h0.8M375.9 66h0.8M370.7 53h0.8M379.6 55.9h0.8M374.3 71.2h0.8M381.9 58.1h0.8M373 46.3h0.8M379.2 49.1h0.8M389.6 57.1h0.8M379.7 57.4h0.8M377.8 48.3h0.8M376.9 59.2h0.8M384.4 53.5h0.8M397.6 66.8h0.8M386.5 72.3h0.8M373 63.7h0.8M385.3 62.5h0.8M371.2 49.7h0.8M383.7 59.4h0.8M398.7 61.5h0.8M386.5 58.3h0.8M372.3 53.6h0.8M380.8 72.1h0.8M396.3 59.6h0.8M375.4 57h0.8M373.1 75.2h0.8M391.6 61.8h0.8M381 50.8h0.8M388.3 41.7h0.8M381.1 55.5h0.8M401.5 52h0.8M392.8 60.1h0.8M392.5 56.9h0.8M385.7 66.8h0.8M409 61.6h0.8M382.7 58.8h0.8M378.5 57.5h0.8M384.7 57.6h0.8M367.3 56.8h0.8M370.5 55.1h0.8M395.8 53.9h0.8M382.1 60.9h0.8M384.3 56.5h0.8M382.4 64.7h0.8M374.8 55.9h0.8M391.6 57.8h0.8M371 61.8h0.8M388.1 68.5h0.8M385 55.4h0.8M395.1 72.9h0.8M392.2 58.8h0.8M386.7 54.2h0.8M373.9 57.6h0.8M385.5 64.7h0.8M380.4 74.4h0.8M372 66.3h0.8M378.1 65.3h0.8M370.6 72.6h0.8M400.5 53.1h0.8M395.5 65h0.8M392.2 62.7h0.8M385.6 50.2h0.8M379.6 58.6h0.8M370.6 48.6h0.8M383 63.3h0.8M376.8 68.6h0.8M377.9 63h0.8M397.7 58.5h0.8M394.9 62.6h0.8M372.7 69h0.8M399.8 62.8h0.8M391.8 70.2h0.8M379.2 75.5h0.8M384.4 55.5h0.8M384.6 59.8h0.8M380.7 57.2h0.8M370.5 60.9h0.8M369.2 64.2h0.8M391.4 59.8h0.8M382 54.8h0.8M380.4 72.7h0.8M388.1 58.5h0.8M401.3 62.8h0.8M376.3 74.4h0.8M387.8 70.8h0.8M388.8 66.1h0.8M388.9 67.8h0.8M407.1 58.8h0.8M362.8 51.8h0.8M370.2 57.4h0.8M373.1 57.4h0.8M395.5 60.2h0.8M375.7 63.9h0.8M377.4 57.9h0.8M385.7 51.2h0.8M395.3 55.7h0.8M391.7 65.8h0.8M375.1 55.1h0.8M392.8 61h0.8M406.7 60h0.8M398.8 52.5h0.8M379.7 66.7h0.8M365.9 56.9h0.8M376.8 48.1h0.8M378.5 54.5h0.8M380.8 54.9h0.8M392.1 79h0.8M388.9 59.7h0.8M374.3 59.5h0.8M388.6 54.9h0.8M380.8 65.1h0.8M386.9 60.9h0.8M386.8 55.6h0.8M383.4 60.7h0.8M377.4 57.4h0.8M390.3 70.2h0.8M366.8 44h0.8M392.4 66.2h0.8M391.2 51.9h0.8M383.4 64.6h0.8M389.6 56.5h0.8M378 60.9h0.8M383 69.9h0.8M364.2 49.7h0.8M398.1 55.9h0.8M381.9 70.7h0.8M373.9 59.7h0.8M404.7 57h0.8M363.2 62h0.8M379.6 58.6h0.8M382 69.2h0.8M379.2 66.4h0.8M391.2 62.5h0.8M393.2 65.5h0.8M376.6 81.2h0.8M367.8 46.4h0.8M375.4 54.4h0.8M386.1 59.2h0.8M406.3 63.2h0.8M373.8 57.2h0.8M381 55.6h0.8M391.9 65.1h0.8M396.8 56h0.8M389.6 62.1h0.8M381.6 47.4h0.8M385.7 51.8h0.8M389.7 65.5h0.8M382.4 81.2h0.8M400.2 49.6h0.8M389 63.4h0.8M387 57.3h0.8M398.7 43h0.8M370.1 60.6h0.8M383.7 67.1h0.8M381.5 55.3h0.8M390.9 63.6h0.8M365.6 61.7h0.8M371.7 63.2h0.8M384.4 64.7h0.8M395.7 55.9h0.8M390.2 61.6h0.8M381.5 59.4h0.8M379 58.9h0.8M387.6 56.3h0.8M393.9 64h0.8M372.5 60.1h0.8M391.9 51.5h0.8M387.4 58.3h0.8M386.7 59.6h0.8M387.1 62.5h0.8M387.5 66.8h0.8M394.8 66.1h0.8M394.3 70h0.8M381 53.8h0.8M394.3 68.8h0.8M369.7 47.6h0.8M394.5 64.6h0.8M366.7 58.2h0.8M391.8 67.6h0.8M383.9 58.6h0.8M380 54.9h0.8M380.9 78.7h0.8M408.6 66.5h0.8M370.1 55.1h0.8M381.8 57.5h0.8M368.3 54.7h0.8M377.6 58.5h0.8M369.2 55.8h0.8M374.2 50.6h0.8M378.9 54.3h0.8M379.9 54.5h0.8M379.6 53.3h0.8M379.2 55.9h0.8M399.6 72.1h0.8M381.2 48.6h0.8M394.6 63.3h0.8M384.6 69.3h0.8M367.2 50.2h0.8M382.6 70.5h0.8M382.9 60.4h0.8M383.6 59.7h0.8M386.5 56.5h0.8M378 55.3h0.8M387.2 70.2h0.8M385.7 58.5h0.8M394.2 67.6h0.8M391.1 61.4h0.8M378.9 62.3h0.8M379.8 67.9h0.8M374.8 59.9h0.8M386.3 53h0.8M382.8 51.6h0.8M381.1 57.2h0.8M411.1 60.5h0.8M391 58.7h0.8M388 58.8h0.8M373.2 67.9h0.8M398.2 51.1h0.8M383.3 57.2h0.8M368.5 56.6h0.8M388.5 61.9h0.8M384.4 73.9h0.8M376.9 67.6h0.8M410.8 46h0.8M378.8 69h0.8M388.4 56.8h0.8M395.4 70.6h0.8M367 61.3h0.8M381.8 61.1h0.8M371.7 60.6h0.8M387.5 54h0.8M377.7 69.3h0.8M401.7 54.1h0.8M389.4 59.6h0.8M378.6 60.5h0.8M397.1 68.6h0.8M374.8 57.8h0.8M385.8 69.4h0.8M383.1 61h0.8M384.8 65.6h0.8M363.2 64.6h0.8M387 61.3h0.8M373.2 59h0.8M404 61.9h0.8M367.7 58.7h0.8M384.4 60.1h0.8M368.7 58.8h0.8M383.9 66.2h0.8M380.2 42.6h0.8M380.2 75.8h0.8M382.5 77.3h0.8M387.7 59.8h0.8M373.6 68.1h0.8M372.8 52.1h0.8M379.4 61.2h0.8M387.7 50h0.8M369.2 69.1h0.8M384.9 60.6h0.8M380.1 61.3h0.8M374.5 66.1h0.8M392.2 62.8h0.8M393.1 61.9h0.8M377.9 66.1h0.8M385 54.3h0.8M399.5 63.7h0.8M385 72.4h0.8M372.7 54.5h0.8M393.9 61.1h0.8M380.2 58h0.8M381.9 57.3h0.8M387.7 62.2h0.8M399.7 67.8h0.8M399.6 66.3h0.8M400.9 64.6h0.8M395.3 65.2h0.8M401.2 59.6h0.8M378.9 61.9h0.8M371.8 68.1h0.8M381.3 63.7h0.8M392.5 67.8h0.8M380.1 48.9h0.8M370.3 49.2h0.8M378.8 52.7h0.8M391.4 52.2h0.8M368.4 57h0.8M403.1 59.1h0.8M383.1 59.7h0.8M392.5 69.7h0.8M377.9 65.6h0.8M383 66.3h0.8M406 50.2h0.8M373.6 46.7h0.8M372.1 57.5h0.8M381.4 73h0.8M396.8 66.6h0.8M381.4 64.7h0.8M389.1 58.2h0.8M391.7 58.8h0.8M383.5 59h0.8M379.8 54h0.8M384.9 59.6h0.8M368.7 68.4h0.8M396.4 76.8h0.8M395.3 63h0.8M377.3 50.3h0.8M368.3 52.8h0.8M367.5 55.9h0.8M387.6 57.2h0.8M379 58.1h0.8M390 59.4h0.8M401.8 58.8h0.8M379.1 54.9h0.8M381.5 61h0.8M389.7 59.4h0.8M402.8 51.6h0.8M386.3 61.1h0.8M374.2 46h0.8M382.3 68.3h0.8M387.7 60.5h0.8M381.9 55.5h0.8M378.6 63.2h0.8M392.6 66.8h0.8M376 61.9h0.8M397.3 50h0.8M387.8 57h0.8M387.5 51.2h0.8M374 56h0.8M379.6 54.7h0.8M374.5 60.3h0.8M395.6 56.1h0.8M387 57.4h0.8M383.6 68.2h0.8M386.2 59.6h0.8M371.4 64.5h0.8M403 51.1h0.8M389.3 60.2h0.8M368 68.1h0.8M384 75.7h0.8M377.3 54.2h0.8M369.5 55.9h0.8M368.6 52.6h0.8M393 66.7h0.8M392.2 63.3h0.8M390.9 61h0.8M370.8 59.4h0.8M384.7 53.9h0.8M370.7 64.9h0.8M370.1 49.1h0.8M385.6 64.9h0.8M389 49.8h0.8M393.9 62h0.8M367.6 62.9h0.8M386.6 46.6h0.8M377.1 59.7h0.8M386.6 54.6h0.8M387 62.4h0.8M372 62h0.8M385.8 58.9h0.8M388.5 55h0.8M376.4 56.6h0.8M371.5 67.5h0.8M384.3 65.4h0.8M397.1 74.9h0.8M404.9 59.8h0.8M399.8 61.6h0.8M381.3 60.7h0.8M384.5 60h0.8M383.3 71.4h0.8M366.5 43.5h0.8M371 58.3h0.8M383.9 63h0.8M401.3 65.6h0.8M369.6 58.9h0.8M396.4 79h0.8M382.9 60.9h0.8M385.6 65.1h0.8M383.5 56.3h0.8M394.9 75.2h0.8M385.3 56h0.8M380.5 50.2h0.8M373 54.6h0.8M376.5 59.9h0.8M381 52.1h0.8M385.6 41.5h0.8M387.7 59.3h0.8M397.5 60.8h0.8M384.3 53.2h0.8M402.5 67.9h0.8M395.8 61.1h0.8M391.3 55.1h0.8M378.7 56.1h0.8M373.9 62.4h0.8M389 70.6h0.8M376.5 53.2h0.8M381.9 64.3h0.8M372.6 54.4h0.8M393 63.5h0.8M385.1 51.7h0.8M379.1 63.7h0.8M396.7 51h0.8M388.1 58.3h0.8M371 69.8h0.8M392.1 54.1h0.8M373.7 58h0.8M370.3 54h0.8M391 51.8h0.8M384.2 63.1h0.8M376.6 60.3h0.8M388.7 64.4h0.8M375.4 63.5h0.8M379.9 60h0.8M384 59.6h0.8M387.6 61.7h0.8M390 58.3h0.8M381 62.6h0.8M365 48.1h0.8M378.5 55.6h0.8M380.1 52.5h0.8M384 65.6h0.8M385.4 67.8h0.8M384.9 71.1h0.8M399 60.8h0.8M377.2 53h0.8M378.6 63.5h0.8M387.8 62.4h0.8M378.1 54.6h0.8M381.1 60.4h0.8M389.5 55.8h0.8M394.9 68.9h0.8M393.3 50.4h0.8M390.4 62.8h0.8M390.2 44.1h0.8M369.7 52.9h0.8M368.1 64.7h0.8M371.4 61.4h0.8M380.7 80.2h0.8M380.7 70h0.8M381.8 50.3h0.8M384 69.4h0.8M376.2 65.2h0.8M388.9 61.3h0.8M385.1 61.1h0.8M377.5 58.9h0.8M389 55.7h0.8M376 61.5h0.8M374.7 59.8h0.8M382.1 56.7h0.8M382.3 62h0.8M364.5 63.2h0.8M392.3 64.8h0.8M366.5 60.8h0.8M380 71.1h0.8M379.6 56.9h0.8M397.3 47.5h0.8M380.2 57.3h0.8M364 46.3h0.8M385 62.7h0.8M396.9 71.1h0.8M369.3 61.3h0.8M386.9 61.5h0.8M368.9 69.4h0.8M399.3 66.8h0.8M378.4 49.3h0.8M371.2 62.7h0.8M365.2 62.8h0.8M381.2 61.7h0.8M385.5 78.7h0.8M390.9 60.7h0.8M386.8 61.8h0.8M383.7 60.6h0.8M373.6 59.1h0.8M368.5 63.8h0.8M382.6 50.5h0.8M388.3 66.4h0.8M387.9 49.5h0.8M370.3 59.8h0.8M404.2 68.1h0.8M385.1 64.8h0.8M373.1 65.1h0.8M377.7 58.3h0.8M378.7 49h0.8M378.5 51.1h0.8M376.6 69.5h0.8M387.7 56.8h0.8M388.8 57h0.8M392.5 68.7h0.8M380.5 58.5h0.8M386.6 53h0.8M373.3 55.6h0.8M375.4 57.1h0.8M392.2 60.8h0.8M385.4 73.9h0.8M376.6 68.8h0.8M378.5 49.5h0.8M385.8 59.4h0.8M367.3 64.8h0.8M393.9 55.6h0.8M382.1 58.9h0.8M371.5 58.7h0.8M374.9 44h0.8M398.6 59.7h0.8M377.2 56.2h0.8M372.4 72.9h0.8M386.3 67.2h0.8M387.5 77.5h0.8M385.3 61.1h0.8M393.4 67.8h0.8M367.1 56.8h0.8M379.8 67.3h0.8M362.9 58.5h0.8M383.7 65h0.8M392 46.5h0.8M390.4 61.8h0.8M374.4 64.3h0.8M379.8 71.5h0.8M396.3 55.3h0.8M391.1 62.3h0.8M383.9 58.9h0.8M395.1 57.3h0.8M391.2 50.5h0.8M389.6 52.1h0.8M372 56h0.8M370.9 64.5h0.8M370 68.1h0.8M391.3 63.1h0.8M389.3 63.3h0.8M404.9 70.4h0.8M377.5 61h0.8M380.8 58.6h0.8M379.5 54.6h0.8M391.8 62.2h0.8M391.7 60.1h0.8M384 56.5h0.8M392.3 75.3h0.8M381.1 66.1h0.8M373.1 47h0.8M394.6 50h0.8M407.8 75.3h0.8M400.4 64.5h0.8M373.1 49.9h0.8M373.8 63.6h0.8M375.9 51.4h0.8M401.3 56.1h0.8M374.9 68h0.8M411.1 55.8h0.8M362.6 48.2h0.8M386 60.5h0.8M381.5 49.4h0.8M393.1 59h0.8M377.6 58.6h0.8M397.3 65.7h0.8M409.2 65.5h0.8M394.5 46.8h0.8M377.8 58.2h0.8M379 52.6h0.8M380.8 51.7h0.8M378.7 59.2h0.8M389.9 53.7h0.8M383.8 53.9h0.8M388.8 75.4h0.8M385 63.9h0.8M380.4 63h0.8M384.9 50.7h0.8M390.9 80.1h0.8M390.1 62.2h0.8M384.9 73.8h0.8M378 64.3h0.8M390.6 45.4h0.8M379.4 63.5h0.8M387.8 60.7h0.8M371.6 58.6h0.8M384.6 64.9h0.8M401.2 66.1h0.8M393.6 67.3h0.8M409.5 72.4h0.8M411.7 61.3h0.8M371.6 60.5h0.8M380 69.6h0.8M390.2 69h0.8M376.9 58.2h0.8M393.7 59.3h0.8M381.8 69.6h0.8M383.5 62.5h0.8M395.1 67.8h0.8M370.2 57.5h0.8M384 63.5h0.8M403.9 76h0.8M387.4 56.7h0.8M392.2 64.9h0.8M396.4 67.2h0.8M395.9 58.2h0.8M382.7 60.8h0.8M375.8 61.3h0.8M381.7 57.2h0.8M378 58.2h0.8M366.8 62.5h0.8M387.1 66.2h0.8M395.8 66.6h0.8M378.6 69.6h0.8M380.4 60.9h0.8M364.9 50.5h0.8M382.7 65.4h0.8M387.2 69.2h0.8M380.2 55h0.8M388.1 55.6h0.8M380.3 59.9h0.8M368.7 43.3h0.8M389.7 56.6h0.8M392.4 59.2h0.8M372.8 61.8h0.8M380.8 62.2h0.8M379.4 52.6h0.8M382.6 53.7h0.8M384.5 52.5h0.8M385.6 66.8h0.8M391.2 52.5h0.8M399.6 51.3h0.8M385.7 61.5h0.8M392.7 57.6h0.8M376.6 67h0.8M397 56.2h0.8M383 53.7h0.8M377.5 58.6h0.8M389.2 51.7h0.8M394 58h0.8M369.3 58.2h0.8M386.7 56.8h0.8M379.6 72.1h0.8M390.5 62.3h0.8M376.4 72.2h0.8M384.1 44.9h0.8M396.7 60.2h0.8M366.3 43.7h0.8M378 53.6h0.8M399.7 64.3h0.8M378.7 57.2h0.8M383.5 67.8h0.8M400.7 50h0.8M369.8 55.6h0.8M403.3 62.2h0.8M395.5 59.3h0.8M379.1 56.6h0.8M398.2 60.8h0.8M383.9 62.7h0.8M392.5 63.3h0.8M388.7 74.9h0.8M392.4 59.9h0.8M382 61.8h0.8M383.9 51.4h0.8M376.3 53.5h0.8M393.4 58.7h0.8M374.1 66.8h0.8M372.8 48.7h0.8M394.1 62.7h0.8M391.2 63.3h0.8M385.4 55.6h0.8M388.1 63.4h0.8M387.1 57.9h0.8M395.3 64.3h0.8M392.3 53.7h0.8M366.5 60.6h0.8M379.6 52.3h0.8M384.5 70.9h0.8M382 57.3h0.8M387 65.5h0.8M388.6 47.5h0.8M393.1 57h0.8M405.5 61.5h0.8M386.2 60.5h0.8M380.4 78.8h0.8M379.3 66.9h0.8M384.9 57.8h0.8M390.6 65h0.8M384.5 52.8h0.8M380.5 86h0.8M381.4 64.5h0.8M370.8 83.5h0.8M371.7 51.9h0.8M364.5 59.8h0.8M384.6 63.9h0.8M380.5 71.5h0.8M394.6 72.9h0.8M383.1 67.1h0.8M383.8 72.9h0.8M374.6 51.4h0.8M375.4 52.8h0.8M380.5 45.5h0.8M395.3 68.1h0.8M380.7 43.1h0.8M400.2 47.3h0.8M376.2 47.8h0.8M375.9 61.4h0.8M391.5 65h0.8M369.9 66.1h0.8M393.7 69.4h0.8M409.1 59.6h0.8M378.3 52.3h0.8M376.5 63h0.8M386.8 57.9h0.8M395.2 63h0.8M379.9 53.9h0.8M371.9 54.6h0.8M375.8 56.7h0.8M386.4 64.5h0.8M375.2 72.4h0.8M371.2 61.7h0.8M383.4 62.1h0.8M379 52.4h0.8M393.8 49.5h0.8M388.3 49.8h0.8M366 55h0.8M374 72.2h0.8M366.5 55.8h0.8M384.4 61.5h0.8M382.8 46.9h0.8M389.1 67.5h0.8M386.9 63.1h0.8M393.1 70.6h0.8M397.6 67.9h0.8M401.4 66.9h0.8M397.7 62.9h0.8M382.8 78h0.8M380.8 78.9h0.8M375.3 85.3h0.8M371.9 95.9h0.8M394.3 73.8h0.8M383.2 61.9h0.8M410.7 67.5h0.8M375.6 66.9h0.8M400.2 72.9h0.8M383.9 65h0.8M380.4 81.1h0.8M403.4 77.9h0.8M390 55.5h0.8M376.6 62.5h0.8M373.1 71h0.8M391.3 63h0.8M409.8 60.2h0.8M394.7 76h0.8M390.8 71.9h0.8M376.9 71.8h0.8M409.7 56.3h0.8M390.2 70.2h0.8M384.2 73.6h0.8M389.8 66h0.8M403.3 66.6h0.8M388.4 64.8h0.8M386.1 62h0.8M404.1 68.8h0.8M416.6 66.3h0.8M375.3 52.9h0.8M372 77.2h0.8M398.6 62.1h0.8M389.2 66.6h0.8M407.1 83.8h0.8M387.5 77.1h0.8M390.4 71.6h0.8M381.9 67.6h0.8M398.4 58.2h0.8M397 58.5h0.8M377 62.3h0.8M386.9 82.1h0.8M393.6 53.5h0.8M383.8 63.9h0.8M385.1 74.6h0.8M381 80.1h0.8M381.2 72.2h0.8M391.1 77.2h0.8M399.3 62.1h0.8M398.3 69.4h0.8M393.6 59.7h0.8M394.1 67.8h0.8M379.6 74.2h0.8M381 70.7h0.8M386.9 76.7h0.8M396.5 58.8h0.8M387.6 74.9h0.8M391.2 97.5h0.8M389.2 84.3h0.8M373.2 53.9h0.8M377.1 71.8h0.8M389.4 78.6h0.8M390.9 77h0.8M391.5 64.5h0.8M393.9 74.1h0.8M399.2 71.2h0.8M391.6 61.8h0.8M398.6 65.6h0.8M376.4 52.2h0.8M383.8 67.6h0.8M378.5 81.8h0.8M385.2 81.9h0.8M392.6 87.5h0.8M398.4 70.4h0.8M392.6 72h0.8M398 68.7h0.8M396.7 69h0.8M386.8 86.5h0.8M400.3 72.6h0.8M408.9 60h0.8M398.7 57.8h0.8M396.1 59.5h0.8M392.8 63.9h0.8M385 98.3h0.8M388.9 85.3h0.8M392.8 72.5h0.8M394.3 58.8h0.8M378.2 75.7h0.8M383.5 73.3h0.8M368.4 90.1h0.8M399.3 76.7h0.8M399.4 84.9h0.8M397.8 74.9h0.8M376.9 83.6h0.8M389.2 83.1h0.8M395.4 77.4h0.8M383.2 73.4h0.8M375.5 64.7h0.8M398.4 74.5h0.8M404.6 76.6h0.8M377.8 72.8h0.8M383.9 77h0.8M380.8 74.2h0.8M388.2 74.7h0.8M400.4 68.3h0.8M380.9 81.8h0.8M393.4 84.2h0.8M379.5 68.7h0.8M387.8 66.7h0.8M390.3 44.2h0.8M391.1 83.9h0.8M380.4 61.6h0.8M392.8 66.1h0.8M394.8 69.9h0.8M381.3 61.2h0.8M397.6 64.4h0.8M388 85.1h0.8M389.9 79.7h0.8M384.9 76.4h0.8M397.7 45.2h0.8M375 82.5h0.8M402.8 65.5h0.8M391.5 63.2h0.8M382.2 62.7h0.8M394.2 75.3h0.8M400 48.8h0.8M411.7 69.5h0.8M384.1 79.2h0.8M385.1 80.1h0.8M377.3 52.1h0.8M392 54.8h0.8M372.1 72.6h0.8M373 76.1h0.8M397.4 71.6h0.8M382.3 59h0.8M387.5 61.3h0.8M382.9 68h0.8M387 69.1h0.8M381.3 82.8h0.8M403.2 80h0.8M389.2 69h0.8M391.6 82h0.8M390.5 70h0.8M386.7 83.7h0.8M383.1 73.2h0.8M379.7 56.4h0.8M401.7 57.6h0.8M376.4 66.7h0.8M376.5 59.1h0.8M401.7 83.6h0.8M392.1 94h0.8M384.5 65.7h0.8M384.9 83.4h0.8M394.5 85h0.8M397.5 62.2h0.8M399.9 70h0.8M387.9 88.5h0.8M366.3 84.4h0.8M380.9 80.8h0.8M384.5 93.5h0.8M387.6 92.4h0.8M399.6 67.2h0.8M383.3 77.1h0.8M394.8 76.9h0.8M391.2 55.7h0.8M371.4 101h0.8M390.9 65.9h0.8M388.8 81.1h0.8M401.8 52.2h0.8M387.7 62h0.8M397.1 67.8h0.8M393.8 59.3h0.8M371.5 90.4h0.8M392.3 79.1h0.8M390.1 55.5h0.8M396.3 75.7h0.8M391.3 76.8h0.8M404.6 47.5h0.8M384.8 92.6h0.8M390.4 70h0.8M391.9 69.8h0.8M377.7 59.7h0.8M382.4 81.7h0.8M383.6 63.9h0.8M386.2 76h0.8M399.1 86.3h0.8M400.8 62.6h0.8M410.8 61.7h0.8M393.4 86h0.8M395.9 61.6h0.8M395.6 69.2h0.8M416.3 48.8h0.8M405.2 46.2h0.8M391.3 68.8h0.8M401.8 64h0.8M394.7 45.8h0.8M384.6 71.1h0.8M392.9 60.7h0.8M383.8 75.9h0.8M402.9 53.4h0.8M390.6 60.3h0.8M365 64.8h0.8M397.4 62.5h0.8M391.2 76h0.8M383.5 72.1h0.8M391.4 63.5h0.8M405.8 60.4h0.8M401.1 82.2h0.8M383.2 73.6h0.8M384.5 63.1h0.8M400.5 84.8h0.8M388.6 69h0.8M390 84.4h0.8M379.3 81.5h0.8M389 70.8h0.8M398.8 67.4h0.8M378.4 62.9h0.8M397 72.3h0.8M387.9 87.2h0.8M386.3 69.9h0.8M383.9 77.2h0.8M391.3 75.4h0.8M396.4 81.4h0.8M395.3 65.5h0.8M381.3 85h0.8M393.3 75.8h0.8M393.7 62h0.8M377.4 78.4h0.8M388.5 72.6h0.8M400.5 73.2h0.8M376.8 83.5h0.8M402.9 58.9h0.8M393.4 63.9h0.8M386.6 67.1h0.8M381.3 57.4h0.8M403.2 77.8h0.8M379.6 79h0.8M380.4 63.4h0.8M398.2 77.5h0.8M392.6 71.1h0.8M387.2 80.2h0.8M387 72h0.8M402.1 54.3h0.8M384.6 93.6h0.8M393.4 77.8h0.8M384 73.8h0.8M394.1 95.1h0.8M374.8 83.7h0.8M387.7 62.6h0.8M384.1 77.5h0.8M381.3 80.7h0.8M381.7 88.7h0.8M378.2 67.1h0.8M384.5 90h0.8M375.3 60.6h0.8M372.1 67.6h0.8M382.9 72.9h0.8M391 85.1h0.8M383.7 77.3h0.8M414.1 81.1h0.8M395.9 70h0.8M399.7 68.2h0.8M402.1 60.5h0.8M375.3 97.6h0.8M384.2 61.6h0.8M402.1 65.7h0.8M382 46h0.8M383.8 83.9h0.8M389.2 73.4h0.8M396.9 76.8h0.8M389.7 92.8h0.8M379 83.4h0.8M394.7 74.3h0.8M382.3 82.8h0.8M389.5 51.4h0.8M385.6 96.6h0.8M384.7 83.7h0.8M385.1 52.2h0.8M387.1 66.4h0.8M392.9 68.3h0.8M389.6 70h0.8M386.9 85.4h0.8M386.9 89.8h0.8M390.3 66.9h0.8M385.4 47.4h0.8M391.9 80.4h0.8M391.1 69.2h0.8M393.2 45h0.8M386.2 66.8h0.8M381.4 73.2h0.8M389.3 92.5h0.8M380.8 80h0.8M395.1 76.5h0.8M396.5 64.7h0.8M394.8 66.5h0.8M386.7 71.9h0.8M397.2 73.7h0.8M389.5 66.5h0.8M411.3 79.9h0.8M401.4 59.1h0.8M396.5 60.2h0.8M380.3 76.7h0.8M400.4 81.2h0.8M392.2 76.3h0.8M385.1 70.7h0.8M394.8 78.2h0.8M389 65.5h0.8M394.4 70.8h0.8M404.1 62.1h0.8M399.4 67.2h0.8M375.5 92.4h0.8M399.6 71.4h0.8M380.7 79h0.8M395.9 75.8h0.8M396.9 71.1h0.8M381.7 75.6h0.8M389.3 68.3h0.8M377.7 75.4h0.8M387.4 88.1h0.8M391.4 79.3h0.8M384.8 70h0.8M407.1 49.2h0.8M381.5 64.9h0.8M386.3 89.4h0.8M406 72h0.8M392.5 67.1h0.8M385.1 64.7h0.8M384.8 80.4h0.8M378.8 63.9h0.8M373.1 81.2h0.8M404.2 74.8h0.8M379.9 74.7h0.8M401.9 66.2h0.8M384.1 72.5h0.8M372.1 81.8h0.8M388.8 72.5h0.8M372.9 78.6h0.8M383.4 58.4h0.8M385.3 67.6h0.8M383.1 57.4h0.8M393.4 73.8h0.8M383.8 81.8h0.8M386 83.6h0.8M394.4 62.8h0.8M411.3 62.2h0.8M385.8 54h0.8M405.6 82.9h0.8M406.2 61h0.8M378.9 69.8h0.8M384.8 70.6h0.8M392.7 75.2h0.8M388.2 74.1h0.8M385.5 73.7h0.8M401.6 66.8h0.8M385.5 81.6h0.8M388 69.9h0.8M395.5 91h0.8M394.3 100.4h0.8M390.6 63.4h0.8M381.5 79h0.8M363.6 56.9h0.8M397.4 77.6h0.8M392.6 70.9h0.8M370.9 73.7h0.8M383.9 75.2h0.8M377.2 91.1h0.8M389.7 78.2h0.8M393.1 63.3h0.8M385.3 84.3h0.8M402 50.6h0.8M371.5 87.4h0.8M383.7 71.1h0.8M378.5 57.7h0.8M377.8 75.8h0.8M390.1 80h0.8M399.2 71.6h0.8M402.7 77h0.8M382.8 96.8h0.8M382.8 73.2h0.8M387.2 72.6h0.8M391.5 72.5h0.8M384.7 78.9h0.8M383.7 58.7h0.8M393.6 56.1h0.8M394.1 68.9h0.8M390.8 54.6h0.8M379.8 72.2h0.8M374.1 75.1h0.8M391.7 77.4h0.8M381.2 56.7h0.8M398.7 72.7h0.8M387.7 61.2h0.8M402.7 55.4h0.8M394.9 78.5h0.8M377.7 73.1h0.8M376.6 47.5h0.8M382.1 87.7h0.8M388.7 52.4h0.8M387.8 72.2h0.8M388.1 60.4h0.8M405.8 69.3h0.8M379.6 60.3h0.8M394.1 84.1h0.8M396.4 58.6h0.8M370.9 99.2h0.8M386.9 84.5h0.8M379.8 60.3h0.8M374.3 86h0.8M387.1 69.5h0.8M402.5 41.3h0.8M408.6 57.9h0.8M394.1 53.3h0.8M387.3 64.2h0.8M376.4 83.3h0.8M382 62.9h0.8M395.3 69.7h0.8M373.3 88.1h0.8M399.5 66.5h0.8M396.2 63.6h0.8M400.8 59.3h0.8M392.4 78.6h0.8M391.3 72.8h0.8M395.7 63.7h0.8M385.7 77.4h0.8M397.6 64h0.8M400.2 62h0.8M388.7 59.6h0.8M385.2 67.3h0.8M387.3 84.7h0.8M396.6 65.9h0.8M388.3 84.2h0.8M390.5 56.1h0.8M376 89.6h0.8M387.7 68.1h0.8M401.1 62.7h0.8M381.6 65.1h0.8M396.8 71.9h0.8M394.2 51.8h0.8M408 65.8h0.8M402.7 69.9h0.8M386.8 93.1h0.8M378.9 72.9h0.8M386.6 86.8h0.8M379.1 81.9h0.8M395.7 61.6h0.8M388.5 88.1h0.8M389.5 69.8h0.8M384.2 91.2h0.8M373.4 76h0.8M408.9 71.5h0.8M392.6 74.3h0.8M383.8 85h0.8M380.3 58.9h0.8M380.7 61.8h0.8M408.8 69.1h0.8M389.1 63h0.8M393.7 69.7h0.8M387.8 60h0.8M395.1 58.2h0.8M364.2 71.8h0.8M393.4 65.7h0.8M383.2 77.5h0.8M382.4 67.5h0.8M377.5 80.7h0.8M379.6 46.3h0.8M406.3 65.5h0.8M390.4 55.4h0.8M372.4 59.6h0.8M391.9 77h0.8M383 60.2h0.8M401.9 76.4h0.8M376.6 75.5h0.8M398 51.1h0.8M377 76.1h0.8M388.2 69.2h0.8M398.2 66.1h0.8M378 64h0.8M384.2 67.9h0.8M388 60.2h0.8M376.7 67.3h0.8M410.4 67.4h0.8M393.1 82.8h0.8M390.2 58h0.8M394.8 69.8h0.8M389.5 65.1h0.8M412.5 63.6h0.8M380.5 91.6h0.8M377 92.9h0.8M387.8 72.7h0.8M398.9 67.4h0.8M385.5 76.9h0.8M381.1 72.7h0.8M403.8 64.5h0.8M385.5 74.5h0.8M377.4 78h0.8M401.2 71.2h0.8M394.4 66.1h0.8M385.1 75.4h0.8M386.6 72.3h0.8M378.4 81.1h0.8M399.4 69.4h0.8M376.9 99.9h0.8M377.1 83h0.8M409.6 81.4h0.8M408 53.5h0.8M395 84.1h0.8M393.8 77.3h0.8M389.1 87h0.8M395.7 72.1h0.8M387.4 71.3h0.8M392.3 62.5h0.8M380.2 65h0.8M384.4 63.9h0.8M387.8 52.5h0.8M387.2 67.4h0.8M405.2 80.5h0.8M393.5 81.2h0.8M392.9 70h0.8M390.4 79.7h0.8M374.6 72h0.8M397 55h0.8M378.9 75.1h0.8M396.4 74.7h0.8M392.9 84.9h0.8M384.2 53.9h0.8M396.8 64.3h0.8M382.5 71.7h0.8M390.9 63.4h0.8M366.2 85.5h0.8M381.3 61.1h0.8M397.4 75.4h0.8M388.8 56h0.8M392.6 84.3h0.8M382.9 49h0.8M383.7 90.4h0.8M379.1 78.5h0.8M387.3 47.7h0.8M376.6 70.7h0.8M385.9 79.5h0.8M365.7 80h0.8M369.6 96h0.8M401.7 54.6h0.8M393.7 62.8h0.8M398.8 80.5h0.8M402.9 69h0.8M382.3 69.3h0.8M395.1 62.4h0.8M385.5 85.3h0.8M389.3 64.8h0.8M381.9 74.4h0.8M385.2 75.1h0.8M398.9 73.3h0.8M388.6 67h0.8M400.5 76.8h0.8M391.2 68.5h0.8M392.9 79.3h0.8M374.5 75.4h0.8M384.4 85h0.8M393.1 73h0.8M375.3 76.5h0.8M403.4 68h0.8M385.5 75.5h0.8M385.5 74.4h0.8M389.9 63h0.8M408.2 59.6h0.8M398.4 66.1h0.8M393.2 64.5h0.8M393.7 65.6h0.8M399.5 58.1h0.8M381.7 64.8h0.8M398.6 65.5h0.8M405.5 76h0.8M405.7 56.4h0.8M387.6 56.4h0.8M389.8 49.9h0.8M390.8 60.4h0.8M401.2 77.5h0.8M403.7 51.3h0.8M390.4 93.1h0.8M387.2 55.2h0.8M374.4 81.6h0.8M385.2 54.6h0.8M375.3 66.5h0.8M401 65h0.8M396.3 77.6h0.8M379.2 72.7h0.8M390.4 89.5h0.8M384.6 86.6h0.8M386.9 74.2h0.8M402.7 78h0.8M390.3 55.2h0.8M396.4 50h0.8M388.9 55.3h0.8M395.9 56.5h0.8M388 70.4h0.8M388.3 85h0.8M401.9 75.7h0.8M373.8 72.6h0.8M394.5 68.6h0.8M382.8 94.5h0.8M394.1 68.7h0.8M396 63h0.8M410.9 68.1h0.8M375 76.8h0.8M394.9 58.1h0.8M388.7 87.1h0.8M372.8 70.4h0.8M384.8 94.3h0.8M387.7 81h0.8M385.3 79h0.8M397.2 86.4h0.8M384.7 67.9h0.8M411 67.8h0.8M388.5 62.1h0.8M403.9 68.6h0.8M386.1 68.9h0.8M389.2 80.1h0.8M387.4 54.8h0.8M371.2 76.3h0.8M385.9 72h0.8M397.9 56.5h0.8M383.6 52.7h0.8M405.6 76.2h0.8M398.7 63.5h0.8M407.4 84h0.8M380.2 59.3h0.8M385.1 82.8h0.8M382.2 76.3h0.8M389.6 74.7h0.8M383.4 73.2h0.8M397 76.2h0.8M369.4 97.4h0.8M389.9 80.9h0.8M371.5 75.5h0.8M369.8 75.9h0.8M394.2 67.9h0.8M382.7 69.8h0.8M396.4 52.4h0.8M405.9 60.9h0.8M390.5 65.6h0.8M409.5 63h0.8M393.3 80.3h0.8M376.2 44.1h0.8M390.1 57.5h0.8M387 77.6h0.8M400.9 68.5h0.8M394.1 71.1h0.8M392.9 72.7h0.8M390.7 67.7h0.8M391.9 74.5h0.8M394.4 46h0.8M391.5 83.2h0.8M381.1 82.4h0.8M389.2 69.7h0.8M377.9 81.9h0.8M403.3 77.3h0.8M377.7 79h0.8M391.5 81.6h0.8M376.5 67.8h0.8M392 69.2h0.8M393.1 71.8h0.8M391.8 73h0.8M376.4 87h0.8M384.8 77.3h0.8M401.5 66.2h0.8M392.8 62h0.8M394.7 59h0.8M395.2 75.3h0.8M377 70.5h0.8M390.3 52.8h0.8M391.6 73.8h0.8M379.2 75.2h0.8M391.1 75.2h0.8M394.4 78.9h0.8M395.9 80.5h0.8M408.4 45.1h0.8M374.8 88.8h0.8M385.5 67.6h0.8M396.5 51.7h0.8M381.8 92.8h0.8M402.4 76.7h0.8M385.7 62.1h0.8M394.9 69.8h0.8M392.8 77.8h0.8M386.8 54.7h0.8M389.9 83.6h0.8M380.1 86h0.8M390.2 68.3h0.8M385.2 76.7h0.8M371.3 62.6h0.8M395 63.8h0.8M375.2 79.8h0.8M387.2 66.4h0.8M403 63.5h0.8M411.3 75.1h0.8M392.9 54.4h0.8M390.1 59.2h0.8M392.2 58.4h0.8M364.3 72.2h0.8M390.3 81.2h0.8M389.2 79.6h0.8M366.3 96.5h0.8M391.8 56.7h0.8M406.1 76.5h0.8M395.3 61.6h0.8M384.1 74.8h0.8M398.6 60.7h0.8M399 67h0.8M372 73.2h0.8M392.6 70.5h0.8M378.5 75.3h0.8M391.1 63.2h0.8M391.2 76.5h0.8M372.5 78.2h0.8M381.5 55.8h0.8M392 71.9h0.8M391.1 80.4h0.8M363.6 73.7h0.8M385.2 69h0.8M389.8 57.2h0.8M390.6 78.8h0.8M394.6 66h0.8M398 82h0.8M392.6 74.8h0.8M384 84.1h0.8M389.7 87h0.8M388.8 73.2h0.8M381.6 64.3h0.8M389.8 60.8h0.8M388.4 72.2h0.8M393.9 51.6h0.8M386.9 70.3h0.8M396.5 64h0.8M390.4 47.4h0.8M392.3 65.4h0.8M401.7 59.8h0.8M399.6 75.2h0.8M386.4 71.6h0.8M389.1 82.1h0.8M378.9 57.3h0.8M388.5 78.8h0.8M395.7 63.4h0.8M393 71.2h0.8M381.5 83.1h0.8M385.3 75.1h0.8M393.4 87.4h0.8M386.2 55.1h0.8M368 72.6h0.8M390.8 65h0.8M395.2 59.3h0.8M398.3 64.9h0.8M393.8 77.7h0.8M385 76.3h0.8M387.2 69.7h0.8M387.5 92.9h0.8M384.4 87.3h0.8M376.6 65.6h0.8M391.5 66.6h0.8M381.2 92.4h0.8M385.8 84.6h0.8M390.8 90.5h0.8M393 65.9h0.8M391.9 85.1h0.8M375.9 85.4h0.8M390.2 56h0.8M396.3 58.6h0.8M388.1 70.4h0.8M384.3 69.8h0.8M393.3 44.1h0.8M389.2 84.2h0.8M397.4 71.4h0.8M394.1 70.4h0.8M404.4 65.4h0.8M393.7 68.4h0.8M393.5 75.5h0.8M378 60.7h0.8M379.1 71.8h0.8M402.1 63.8h0.8M397.9 63.7h0.8M384.3 71h0.8M394.8 81.5h0.8M396.4 69.8h0.8M384.1 77h0.8M389.1 73.9h0.8M381.9 89.5h0.8M390.2 91.5h0.8M396.2 66h0.8M379.6 68.1h0.8M393.3 48.7h0.8M373.5 92h0.8M388.1 73.4h0.8M387.5 73.2h0.8M377.8 68.7h0.8M393 78h0.8M390.8 73.6h0.8M400.8 64.2h0.8M377.7 58.6h0.8M385.1 77.8h0.8M382.6 70.4h0.8M384.3 78.7h0.8M381.9 75.9h0.8M395.8 72.5h0.8M390.5 66.8h0.8M387.6 62.7h0.8M376.9 74.1h0.8M392.5 72.4h0.8M389.4 72.7h0.8M394.3 86.8h0.8M382.5 77h0.8M380.1 59.9h0.8M381.5 71.5h0.8M389.6 61.8h0.8M392.1 54.8h0.8M385.3 56.5h0.8M389.9 75.7h0.8M384.3 90.9h0.8M406 58.1h0.8M375.5 83.4h0.8M387.8 75.9h0.8M398.5 59.3h0.8M392.7 71.9h0.8M379.6 70.8h0.8M402.1 77.2h0.8M380.5 64.7h0.8M396.7 44.3h0.8M383.1 72.9h0.8M382.7 66.3h0.8M390.6 66.3h0.8M387.9 66.4h0.8M387.7 68.7h0.8M395.3 68.7h0.8M380.1 72.2h0.8M371.6 88.6h0.8M375.4 89h0.8M388.8 75.2h0.8M392.7 79.1h0.8M389.9 67.3h0.8M387.9 58.1h0.8M409 51.7h0.8M395.4 87.4h0.8M376.5 86.3h0.8M395.5 89.8h0.8M383.5 41.4h0.8M400.4 62.4h0.8M394.1 68.7h0.8M393.5 69.4h0.8M398.8 54.5h0.8M393.7 62h0.8M400.1 68.6h0.8M388.5 78h0.8M392.6 61.8h0.8M390.5 69.7h0.8M399.7 64.8h0.8M376.4 71.9h0.8M383.5 82.6h0.8M409.2 58.3h0.8M389.6 72.7h0.8M383.8 79.4h0.8M403.6 76.8h0.8M383.9 75.8h0.8M394.8 72.1h0.8M386.8 86.9h0.8M377.6 79.8h0.8M375.7 78.9h0.8M387.4 57.9h0.8M380.9 60.9h0.8M389.2 68.2h0.8M387.5 65.7h0.8M387.4 63.8h0.8M393 64.8h0.8M396.1 59.8h0.8M374.7 71h0.8M382.5 66.9h0.8M390.4 50.7h0.8M384.2 55h0.8M402 68.1h0.8M392.6 66.5h0.8M396.6 58.1h0.8M395.2 75.9h0.8M380.7 75h0.8M382 55.6h0.8M381.9 85.8h0.8M374.4 84.5h0.8M402.3 65.9h0.8M385.6 82.5h0.8M373 79.5h0.8M369.5 76h0.8M387 90.5h0.8M393 75.9h0.8M367 79.7h0.8M388.3 80.6h0.8M397.8 45.7h0.8M397.4 63.3h0.8M385.2 75h0.8M376.8 68.4h0.8M386.6 60.9h0.8M402.8 58.9h0.8M386 64.8h0.8M396.4 73.3h0.8M399.9 61.9h0.8M378.9 61.5h0.8M396.8 81.4h0.8M389.3 61.6h0.8M394.5 81.5h0.8M390.1 44.4h0.8M401.5 79.6h0.8M386.7 73.1h0.8M388.9 67.8h0.8M400 50.1h0.8M389.1 63.6h0.8M390.5 83.7h0.8M386.7 66.7h0.8M377.6 88.9h0.8M400.3 67.8h0.8M404.5 66.9h0.8M396.1 75.5h0.8M382.9 60.2h0.8M381 79.1h0.8M408.4 58.4h0.8M378.8 77.9h0.8M389.2 76.8h0.8M388.8 79.8h0.8M400.3 71.5h0.8M369.9 64.5h0.8M393.9 50.8h0.8M393.5 62.6h0.8M400.4 49.4h0.8M392.8 71.3h0.8M394.3 63.2h0.8M377.3 75.1h0.8M394.7 69.7h0.8M377.1 69.1h0.8M380.1 75.4h0.8M382.6 68.1h0.8M394.4 65.7h0.8M400.6 58.6h0.8M400.4 71.1h0.8M386.7 65.8h0.8M390.3 61h0.8M393.7 64.2h0.8M385.6 69.6h0.8M391.9 60.8h0.8M382.8 91.5h0.8M379.3 75.1h0.8M385.2 63.7h0.8M384.4 59.1h0.8M383.9 65.1h0.8M373.6 88.7h0.8M378.9 71.6h0.8M404.8 56.2h0.8M371.5 70.4h0.8M382.2 61.4h0.8M376.3 47.8h0.8M380.3 79.3h0.8M406.7 72.5h0.8M399 76h0.8M388.3 66.7h0.8M395.9 54.3h0.8M394.8 58.7h0.8M375.2 97.3h0.8M369.8 80.1h0.8M382.7 61.9h0.8M393 79.3h0.8M389.2 88h0.8M389.8 63.7h0.8M390.2 77.6h0.8M413.3 57h0.8M393 79.3h0.8M391.4 61h0.8M387.7 59.2h0.8M400 77.3h0.8M386.5 69.5h0.8M388.3 79.8h0.8M389.8 68.2h0.8M383.5 66.4h0.8M391.4 63.7h0.8M379.2 80.8h0.8M392.7 76.3h0.8M396.5 76.6h0.8M397 75.1h0.8M395.8 81.7h0.8M393.5 57.6h0.8M388.8 72.2h0.8M382.3 63.5h0.8M382.9 70.3h0.8M379.8 64.6h0.8M396.6 87.9h0.8M379.6 84.8h0.8M381.2 76.6h0.8M393.4 67.5h0.8M378.4 95.1h0.8M387.9 58.1h0.8M404.6 71.5h0.8M390.6 65.5h0.8M380.6 71.7h0.8M387.7 56.1h0.8M383.8 74.5h0.8M399.1 76.3h0.8M387.2 87.5h0.8M387.1 80.5h0.8M396.8 54.1h0.8M401 62.9h0.8M397.6 64.9h0.8M381.1 64.1h0.8M379.3 65.6h0.8M388.7 67.4h0.8M394.8 84.8h0.8M382.2 77.2h0.8M393.5 68.9h0.8M383.5 57.5h0.8M402.3 79.4h0.8M382.7 89.3h0.8M377.2 77.6h0.8M376.7 49.3h0.8M373.3 60.7h0.8M393.2 63.3h0.8M366.8 95.7h0.8M388.5 77.2h0.8M387.1 58.9h0.8M392.1 68.1h0.8M389.2 66.8h0.8M374.2 66.3h0.8M387 76.7h0.8M383 91h0.8M384.7 70.6h0.8M400.6 72.8h0.8M399.8 70.7h0.8M391.9 58h0.8M375.5 89.8h0.8M401.3 79.4h0.8M385.6 83.8h0.8M383.6 61.8h0.8M398.5 51.5h0.8M386.8 61h0.8M387.7 66.8h0.8M369.9 64.6h0.8M382.4 72.6h0.8M394 71.1h0.8M411.6 61.5h0.8M387.9 70.6h0.8M399.6 75.4h0.8M391.5 74.2h0.8M405.3 75.8h0.8M385.3 61.3h0.8M383.2 85.7h0.8M379.5 47.2h0.8M401.4 72.1h0.8M386.2 62.3h0.8M388.7 55.7h0.8M393.9 62.9h0.8M415.9 53.3h0.8M396.8 65.5h0.8M406.7 67.8h0.8M382.6 88.1h0.8M396.5 66.3h0.8M386.2 71.1h0.8M398.4 77.9h0.8M399.8 62h0.8M381.7 82.5h0.8M389.6 64h0.8M379.1 79.6h0.8M390 76.2h0.8M394 49.6h0.8M398.9 70.4h0.8M391.7 78.8h0.8M391.1 56.7h0.8M408 53.4h0.8M381.7 68.1h0.8M383.9 95h0.8M382.5 63.7h0.8M395.3 73.8h0.8M377.3 75.6h0.8M370.5 71.9h0.8M388.4 69.6h0.8M385.2 64.3h0.8M394.8 76.9h0.8M393.3 80.4h0.8M387.6 65.4h0.8M391.7 65.6h0.8M405.7 64.7h0.8M405.2 70.5h0.8M382.5 65.5h0.8M369.5 80.2h0.8M391.9 90.9h0.8M393.9 89.7h0.8M371.5 68.2h0.8M378.4 75h0.8M389.4 64.2h0.8M378.6 71.3h0.8M403.1 64h0.8M388.7 75.8h0.8M389.1 67.3h0.8M389.4 87.8h0.8M389.8 79.9h0.8M397.6 67.5h0.8M388 69.9h0.8M377.3 73.5h0.8M390.1 98h0.8M389.9 64.2h0.8M378.8 72.9h0.8M381.2 80.8h0.8M379.9 66.5h0.8M382.8 69.7h0.8M398.2 50.9h0.8M394.3 74h0.8M390.4 69.7h0.8M381.7 66h0.8M384.4 89.5h0.8M393.4 65.6h0.8M398.4 73h0.8M387.1 68.8h0.8M400.3 60.8h0.8M389.8 69.9h0.8M375.6 84.3h0.8M377.6 62.7h0.8M388.9 72.8h0.8M411.8 56.1h0.8M391.5 60h0.8M382.2 57.9h0.8M393.3 68.9h0.8M411.6 63.7h0.8M389.3 74.3h0.8M385.8 76.7h0.8M383.9 73.9h0.8M389.8 64.4h0.8M384.7 62.2h0.8M396.7 68.7h0.8M395 71.7h0.8M381.1 82.9h0.8M380.9 64.6h0.8M391.8 80h0.8M383.2 85.7h0.8M384.9 70h0.8M408.1 67.4h0.8M389.2 79.1h0.8M388.6 76.6h0.8M382 68.9h0.8M385.8 74.3h0.8M379.1 89.6h0.8M383.4 96h0.8M393.4 79.9h0.8M386.3 87.4h0.8M391.9 53.8h0.8M374.3 72.6h0.8M388.1 67.3h0.8M385 79.6h0.8M390.8 62.1h0.8M380.9 76.6h0.8M384 76.4h0.8M397.6 73.3h0.8M390.3 56.1h0.8M391.2 59.1h0.8M397.9 59.7h0.8M392.5 67.9h0.8M400.8 64h0.8M385.3 78.2h0.8M375.5 67.4h0.8M390.3 59.7h0.8M377.8 64.9h0.8M386.8 64.6h0.8M411.7 44.9h0.8M381.8 96.1h0.8M390.6 66.5h0.8M382.8 78.6h0.8M410.9 73.3h0.8M365.5 60.2h0.8M389.2 68.6h0.8M400 48.6h0.8M395.2 64.9h0.8M393.6 67h0.8M393.1 49h0.8M399 75.6h0.8M382.2 86.7h0.8M390.9 74.9h0.8M365.7 71.3h0.8M401.6 63.5h0.8M375.7 67.4h0.8M379.1 83.4h0.8M379.8 63.9h0.8M390.6 77.4h0.8M388.4 51.2h0.8M372.9 88.7h0.8M385.7 62.4h0.8M392.2 78.4h0.8M402.5 69.7h0.8M379.2 75.3h0.8M387.2 69.2h0.8M386.1 58.4h0.8M386.9 60.9h0.8M385.6 64.1h0.8M380 79h0.8M403.2 74.7h0.8M396.9 81.7h0.8M371.3 63.2h0.8M372.2 74.5h0.8M375.8 83.1h0.8M401.6 71.7h0.8M375.6 76.3h0.8M383 65.7h0.8M396.4 73.4h0.8M382.5 92h0.8M387.1 78.6h0.8M400.4 42.3h0.8M389.8 71.4h0.8M392.3 73.2h0.8M388 62.1h0.8M394.5 62.3h0.8M377.6 67h0.8M385.2 75.8h0.8M385.8 66.8h0.8M384.6 62.7h0.8M384.6 90.5h0.8M384.1 73.6h0.8M392.1 53.4h0.8M386.2 65.8h0.8M391.3 61.5h0.8M383.4 82.1h0.8M382.6 72.1h0.8M387 82.5h0.8M387.6 82.8h0.8M396.7 58.8h0.8M383.8 61.7h0.8M386.4 59.2h0.8M387.6 69.5h0.8M383.8 72.1h0.8M408 69.6h0.8M391.7 57.3h0.8M391.6 83.8h0.8M376.7 69.5h0.8M376.8 68.4h0.8M388.5 71.4h0.8M375.3 65h0.8M382.4 84.1h0.8M389.9 70.9h0.8M380.7 72.9h0.8M390.1 81.5h0.8M396.1 73.3h0.8M378.5 65.6h0.8M391.8 89h0.8M372 87.6h0.8M393.6 84.9h0.8M377.9 73.3h0.8M382.6 96.1h0.8M387.4 66.7h0.8M390.5 87.3h0.8M398 70.3h0.8M382.8 71h0.8M386.8 82h0.8M392.9 53.2h0.8M397.1 75.1h0.8M382.3 79.8h0.8M378.9 64.9h0.8M383.7 74.2h0.8M384.6 77.5h0.8M382.3 61.7h0.8M376.4 77.8h0.8M397.2 77.6h0.8M395 72.3h0.8M376.4 81.6h0.8M380.2 83.9h0.8M412.5 70.7h0.8M394.8 70.9h0.8M405.1 51.2h0.8M398.1 66h0.8M388.4 77h0.8M394.6 75.3h0.8M392.8 70.2h0.8M381.8 59.2h0.8M387.3 66.3h0.8M388.6 74.4h0.8M384.8 95h0.8M380.7 68.5h0.8M393.4 71.1h0.8M406.7 53.1h0.8M394.8 72.5h0.8M377.1 61h0.8M403 78.9h0.8M390.4 101.6h0.8M392.7 70.1h0.8M385.2 88.6h0.8M399.5 82.9h0.8M373.8 82.6h0.8M377.3 61.8h0.8M386.4 77h0.8M383.8 70.7h0.8M395 76.3h0.8M378.4 75.8h0.8M395.8 63.3h0.8M372.8 86.8h0.8M384.5 76.3h0.8M386.4 68.4h0.8M391.5 66.9h0.8M388 85.5h0.8M397 71.7h0.8M396.2 50h0.8M398.4 73.6h0.8M387 55.7h0.8M396.2 72.7h0.8M393.1 77h0.8M394 78.5h0.8M370.9 80.8h0.8M394.5 65.1h0.8M390.1 61.8h0.8M388.5 78.5h0.8M390.3 48.4h0.8M395.7 81.2h0.8M373.5 75.8h0.8M394.5 81.7h0.8M395.7 69h0.8M363.7 66h0.8M371.4 87.7h0.8M382.6 75.6h0.8M392 54.5h0.8M372.6 89.9h0.8M400.7 52.8h0.8M389.3 87.9h0.8M382.4 69.3h0.8M393.5 64.2h0.8M399 56.7h0.8M385.5 83h0.8M378.7 74.4h0.8M391 80.6h0.8M399.3 78.1h0.8M378.7 76h0.8M405.5 53h0.8M393.9 64.5h0.8M385.6 70.8h0.8M397.4 82.4h0.8M387.4 63h0.8M387.9 76.4h0.8M414.2 74.3h0.8M379 78.5h0.8M385.2 71.7h0.8M386.9 48.4h0.8M399.8 64.6h0.8M397.2 70.2h0.8M384 84.5h0.8M387.8 60.3h0.8M397 76.7h0.8M382.4 79.5h0.8M382 66.8h0.8M387.7 52.9h0.8M386.3 86.2h0.8M398.9 58h0.8M386 74h0.8M381.7 82.6h0.8M381 70.8h0.8M386.8 69h0.8M383.4 74.6h0.8M381.9 63h0.8M386.2 81.3h0.8M395.5 77.9h0.8M389.4 88.8h0.8M376.2 90h0.8M401.6 75.3h0.8M390.8 66.3h0.8M385.9 74.3h0.8M393.2 68.7h0.8M385.1 85.2h0.8M391.4 81.8h0.8M388.2 67h0.8M400.5 79.1h0.8M378 76.8h0.8M409.6 64.1h0.8M406.5 69.1h0.8M394.5 75.9h0.8M390.1 59.5h0.8M388.9 54.8h0.8M380.2 79.5h0.8M375.5 89h0.8M391.2 63.5h0.8M379 87.3h0.8M383.6 68h0.8M399 70.9h0.8M393.5 71.9h0.8M388.2 69.1h0.8M382.6 77.5h0.8M385.2 51.9h0.8M394.5 54.2h0.8M389.2 55.2h0.8M398 54h0.8M390.6 63.3h0.8M405.6 59.8h0.8M386.3 48.2h0.8M386.1 56.8h0.8M397.9 65.1h0.8M388.1 68h0.8M401 59.1h0.8M383 66.3h0.8M402.4 69.5h0.8M379.1 73.8h0.8M389.3 70.4h0.8M406 70.9h0.8M382.8 91.7h0.8M367.5 96.1h0.8M397.1 81.7h0.8M406.4 86.3h0.8M401.9 53.4h0.8M404.4 71.4h0.8M363.5 92.4h0.8M392 100.3h0.8M422.7 70.9h0.8M421.5 74.7h0.8M377.1 69h0.8M373.6 91.1h0.8M382.3 78h0.8M397.8 63.7h0.8M392.3 65.7h0.8M394.9 72.5h0.8M403.8 76.2h0.8M381.4 95.2h0.8M374.2 110.7h0.8M390.5 78h0.8M389.1 92.1h0.8M400.9 78.9h0.8M392.9 67h0.8M404.5 54.8h0.8M387.5 49.8h0.8M405.8 87.4h0.8M405.4 78.4h0.8M402.4 65.8h0.8M371.9 55h0.8M391.3 61.7h0.8M371.2 69.4h0.8M396.2 85.7h0.8M410.9 71.4h0.8M399 76.9h0.8M386.2 69.5h0.8M383.8 61.7h0.8M406.3 51.4h0.8M400.7 96.4h0.8M386.5 100h0.8M394.4 85.5h0.8M414.4 80h0.8M368.9 74.1h0.8M380.6 83.7h0.8M405 69.8h0.8M400.2 59.3h0.8M393.7 71.4h0.8M385.3 102.2h0.8M397.2 71.9h0.8M393.9 73.1h0.8M384.7 72.6h0.8M386.1 54.4h0.8M386.8 86.6h0.8M400 73.9h0.8M401.8 85.8h0.8M407.2 92.8h0.8M401.7 58.6h0.8M398 95.1h0.8M411.9 77.3h0.8M368.3 81.5h0.8M412.1 43.7h0.8M409.7 62.9h0.8M398.7 97.3h0.8M366.7 62.1h0.8M386.6 80.6h0.8M390 46.5h0.8M418.4 56.2h0.8M387.1 77.7h0.8M397.3 83.1h0.8M407.8 105.5h0.8M391.2 70.3h0.8M381.9 69.9h0.8M410 98.2h0.8M400.7 58h0.8M364.2 52.9h0.8M380 71.7h0.8M372.9 73.5h0.8M394.3 63.8h0.8M399.3 69.7h0.8M397.5 63.7h0.8M411.2 56.2h0.8M386 79.1h0.8M397.1 86.4h0.8M404.5 86.2h0.8M425.4 86.8h0.8M370.5 57.9h0.8M384.6 41.6h0.8M414.6 56.3h0.8M385.3 83.8h0.8M403.2 84.7h0.8M384.2 49.8h0.8M394.8 103.3h0.8M379.6 80h0.8M403.2 74.4h0.8M411.1 70h0.8M393.4 84.7h0.8M394.8 64.7h0.8M416.1 75.1h0.8M393.3 48.7h0.8M390.8 68.8h0.8M373.1 80.2h0.8M388.3 81h0.8M378.6 58.1h0.8M400.8 98.2h0.8M387.5 90.9h0.8M397.6 82.8h0.8M392.4 82.5h0.8M372.5 92h0.8M418.1 94.7h0.8M371.8 102.5h0.8M392.2 84.8h0.8M396.6 79h0.8M381.4 81.4h0.8M366.3 75.9h0.8M411.2 83.5h0.8M371.1 95.7h0.8M394.7 66.4h0.8M412 68.4h0.8M368.2 58.3h0.8M392.7 60.9h0.8M388.8 61.2h0.8M407.8 44.1h0.8M403.8 76.5h0.8M390.3 67.6h0.8M398.9 84.6h0.8M435.7 65.2h0.8M393.3 92.8h0.8M391.8 71.6h0.8M388.5 78.9h0.8M393.7 62.1h0.8M403.1 81.6h0.8M379.1 113.5h0.8M383.9 52.2h0.8M384.6 67h0.8M407.5 92.6h0.8M388.5 105.9h0.8M372 53.8h0.8M380.5 73.6h0.8M366.3 85.7h0.8M392.6 60.3h0.8M390.9 49.2h0.8M396.4 66h0.8M399.6 70.1h0.8M395.4 79.8h0.8M398.3 91.2h0.8M375.2 84.6h0.8M393 57.9h0.8M412.7 64.9h0.8M396.9 49.2h0.8M372.1 65.2h0.8M367 86.7h0.8M405.6 89h0.8M384.4 67.7h0.8M379.4 85.1h0.8M371.3 56.1h0.8M389.3 78.7h0.8M403.2 73.7h0.8M408.9 63.3h0.8M401.6 86.6h0.8M381 85.9h0.8M397.9 46.5h0.8M396.8 78.1h0.8M393.7 61.9h0.8M389.7 87.5h0.8M393.1 48.5h0.8M408.8 65h0.8M394.4 100.5h0.8M365.6 97.1h0.8M389.5 69.9h0.8M386.8 77.7h0.8M398.5 83.9h0.8M386.5 63.6h0.8M382.6 48.3h0.8M393.8 74.4h0.8M383.4 71.4h0.8M383.6 66.7h0.8M384.1 85.7h0.8M412 68.7h0.8M402.1 48.3h0.8M432.7 62.5h0.8M404.1 53.1h0.8M390.5 75.9h0.8M404 70h0.8M405.7 69.8h0.8M387.7 55.4h0.8M368.7 87.3h0.8M396.7 87.5h0.8M369.3 55.7h0.8M414 56h0.8M412.1 67h0.8M389.5 75.6h0.8M390.6 71.6h0.8M387.3 90.8h0.8M397.8 101.6h0.8M410.3 49.1h0.8M383 58.1h0.8M389.1 92.4h0.8M393 61.6h0.8M391.1 76.1h0.8M393.3 87.8h0.8M367.1 104.8h0.8M402.9 87.1h0.8M426.3 77.6h0.8M391.9 82.8h0.8M388.7 60.4h0.8M397.7 81.6h0.8M386.3 66.9h0.8M401.2 75.8h0.8M380 72h0.8M389.2 73.6h0.8M378.7 63.1h0.8M399.8 52.2h0.8M408.3 87h0.8M387.3 85.8h0.8M399.2 96.7h0.8M382.1 70.5h0.8M386.9 65.6h0.8M386.2 91h0.8M373 74.3h0.8M405 63.5h0.8M426.3 94.8h0.8M406.2 82.1h0.8M388.6 87.3h0.8M392.4 73.9h0.8M397 97h0.8M417.8 96.7h0.8M383.5 41.6h0.8M406.5 65.2h0.8M365.5 76.3h0.8M383.7 89.6h0.8M411 65.6h0.8M409.3 66.8h0.8M374 67.7h0.8M386.6 77h0.8M384.1 106.2h0.8M377.4 80.5h0.8M400.6 75.6h0.8M397 78.6h0.8M401.4 76.6h0.8M399.3 64.7h0.8M385.2 72.7h0.8M392.2 80.8h0.8M408.6 71.4h0.8M397.2 46.6h0.8M390.4 107.9h0.8M390.8 84.5h0.8M381.8 69.1h0.8M405.7 88.9h0.8M372.9 66h0.8M384.4 84.6h0.8M410.7 87.6h0.8M389.3 90.1h0.8M383.7 64.2h0.8M370.4 63.8h0.8M397.3 84.1h0.8M403.7 68.1h0.8M371.3 83.4h0.8M402.7 74.8h0.8M405.5 69.3h0.8M377.5 70.5h0.8M388.4 77h0.8M416 98.2h0.8M376.4 101.1h0.8M384 66h0.8M387.1 69.2h0.8M435.1 68.1h0.8M418.1 67.7h0.8M374.7 59.5h0.8M393.5 69.5h0.8M373.3 73.5h0.8M371.6 71.6h0.8M436.2 80.3h0.8M394 77.8h0.8M373.9 62.1h0.8M395.4 93.9h0.8M405 72.6h0.8M398.2 62.4h0.8M412.1 74.5h0.8M384.4 58.5h0.8M425.6 67.9h0.8M395.9 91.2h0.8M383.8 72.8h0.8M371.3 67.4h0.8M404 68.7h0.8M393.9 76.4h0.8M392.7 88h0.8M405.6 82h0.8M391.3 90.6h0.8M410.7 89.5h0.8M392.2 62.9h0.8M405.7 52.4h0.8M373.7 74.8h0.8M404 108.3h0.8M374.4 85.3h0.8M400.6 71.3h0.8M399.8 97.2h0.8M397.7 89.6h0.8M406.1 79.4h0.8M393.7 65.4h0.8M398.6 88.5h0.8M406.4 79h0.8M389 72.9h0.8M394.3 72.6h0.8M407.2 89.1h0.8M366.8 46.7h0.8M393.8 79.4h0.8M394.7 73.2h0.8M416.8 77.6h0.8M393 93.3h0.8M384.8 110.9h0.8M387.4 60.6h0.8M392.1 85.5h0.8M404.7 72h0.8M374.3 92.5h0.8M394.4 89.7h0.8M386.7 105.3h0.8M387.9 78.8h0.8M376.7 59.1h0.8M390.5 86.5h0.8M395.5 53.2h0.8M400.4 42.9h0.8M381 65.5h0.8M385.2 97.7h0.8M400.7 67.3h0.8M397.8 72.5h0.8M395.3 97.2h0.8M375.2 58.8h0.8M406 107.1h0.8M396.9 85.6h0.8M383.5 84.2h0.8M390.5 84.7h0.8M390.7 71h0.8M399.4 74h0.8M388.9 49.8h0.8M402.5 66.5h0.8M387.7 59.1h0.8M418.1 53.5h0.8M376.8 91h0.8M401 53.3h0.8M392.5 80h0.8M392.9 81.1h0.8M420.2 86.7h0.8M396.9 76.3h0.8M382.2 44.9h0.8M384 62.2h0.8M365.7 81.3h0.8M399 60.3h0.8M382.9 68h0.8M393.7 54.7h0.8M377.7 62.8h0.8M435.6 52.2h0.8M387 70.1h0.8M363.3 93.7h0.8M408.2 52.7h0.8M404.9 59.8h0.8M400.8 78.9h0.8M413.7 69.9h0.8M382.2 95.7h0.8M397.5 57.6h0.8M385.7 72.2h0.8M383.6 74.9h0.8M412.1 70.9h0.8M381.4 48.7h0.8M379.6 49.7h0.8M403.2 48.7h0.8M392.6 71.2h0.8M376.8 53.3h0.8M367.5 65.2h0.8M384.2 74h0.8M401.9 89.5h0.8M388.8 73.8h0.8M386.3 65.8h0.8M416.4 76.5h0.8M388.1 71.8h0.8M389.2 81.7h0.8M382.3 54.4h0.8M387.8 72.4h0.8M395 79.6h0.8M399.8 58.9h0.8M388.1 46h0.8M387.6 95.2h0.8M393.3 45.8h0.8M385.2 69.2h0.8M387 62.2h0.8M395.8 78.9h0.8M396.9 49.9h0.8M380.5 81.2h0.8M380.6 89.1h0.8M390.4 54.4h0.8M374 61.6h0.8M394.4 67.7h0.8M422.7 71.6h0.8M413.2 78.3h0.8M404.6 58.9h0.8M425.5 61.8h0.8M423.6 43.7h0.8M418.4 64.7h0.8M406.4 73.2h0.8M408.2 53.8h0.8M407.6 67.9h0.8M413.1 73.4h0.8M430.6 60.3h0.8M427.4 89.5h0.8M403.5 41.5h0.8M440.7 53h0.8M452.8 77.2h0.8M396.7 77.5h0.8M420.3 66.8h0.8M430.9 57.2h0.8M418.4 67.5h0.8M403.2 61.6h0.8M424.7 66h0.8M423.5 65.7h0.8M400.7 53.5h0.8M400.8 70.1h0.8M432.5 68h0.8M400.1 60.6h0.8M430.8 72.5h0.8M430.5 77.4h0.8M410.6 69.4h0.8M425.7 52.1h0.8M416 64.5h0.8M443.5 80.7h0.8M422.7 67.1h0.8M405.1 66.9h0.8M433.4 60.8h0.8M428.4 85.5h0.8M419.3 45.2h0.8M421.5 64.4h0.8M452 65.2h0.8M421.4 80.5h0.8M414.5 61.8h0.8M420.9 63.9h0.8M426.7 68.7h0.8M397.1 81.9h0.8M417.6 76.1h0.8M423.5 74.8h0.8M437 63.9h0.8M417.8 71.9h0.8M421.6 91.3h0.8M420.3 58.5h0.8M444.4 57.2h0.8M431.3 58.5h0.8M430.1 88.8h0.8M438 61.4h0.8M429.1 83.6h0.8M424.5 92.9h0.8M440.2 91h0.8M423.5 72.9h0.8M410.1 55.1h0.8M429.7 57.4h0.8M423.8 52.6h0.8M415.7 50.5h0.8M426.7 57.3h0.8M424.9 75.7h0.8M419.5 67.8h0.8M448.5 75.2h0.8M440.8 88.4h0.8M433 75h0.8M405.8 74.4h0.8M412.6 48.9h0.8M422.7 83.5h0.8M430 77.8h0.8M432.1 78.5h0.8M412 52.4h0.8M424.5 82.2h0.8M423.1 57.2h0.8M417.6 61h0.8M416.4 52.5h0.8M441.1 70.2h0.8M405.4 70.2h0.8M429.3 79.4h0.8M412.3 41.6h0.8M448.7 49.5h0.8M408 70.1h0.8M435.7 81.5h0.8M414.4 67.9h0.8M415.3 67.5h0.8M416 102.5h0.8M436.5 64.9h0.8M421.9 87h0.8M415.8 63.8h0.8M418.3 67.9h0.8M442.2 58.5h0.8M409.7 51.7h0.8M416.5 48h0.8M409.7 55.7h0.8M428.9 71h0.8M419.4 72.7h0.8M423.8 65.9h0.8M413.6 78.6h0.8M423 64.5h0.8M419.3 69.5h0.8M422.3 50.2h0.8M416.7 50.7h0.8M391.1 49.1h0.8M451.6 42.5h0.8M422.1 77.9h0.8M421.4 65.8h0.8M412 57.2h0.8M415.4 50.9h0.8M421.6 76.2h0.8M433.3 91.5h0.8M429.9 113.5h0.8M425.4 52.1h0.8M407.6 71.3h0.8M433 81h0.8M424.1 86.6h0.8M424.4 62.5h0.8M422 69.3h0.8M430.6 50.7h0.8M412.1 84.5h0.8M419.8 84.6h0.8M431 72.4h0.8M437.2 66h0.8M431.2 79.7h0.8M435.6 54.8h0.8M423.6 89.5h0.8M431.9 87.5h0.8M441.1 60h0.8M423.8 88.8h0.8M430 56h0.8M429.1 74.1h0.8M418.3 62.9h0.8M434.3 78.4h0.8M411.9 55.4h0.8M420.6 68.5h0.8M423.2 56.5h0.8M414.5 68.5h0.8M423.8 66.5h0.8M427.8 70.6h0.8M420.3 90.6h0.8M422.7 105h0.8M405.3 80.6h0.8M409.8 44h0.8M418 66.6h0.8M412.5 61.3h0.8M428.8 59h0.8M434.1 57.5h0.8M444.4 67.6h0.8M408.9 78h0.8M426.4 46.8h0.8M445.4 61.8h0.8M430.1 106.2h0.8M416.2 57.8h0.8M436 55.7h0.8M439.8 85.5h0.8M411.4 49.4h0.8M437.9 50.7h0.8M424.2 74.8h0.8M433.6 68.9h0.8M415 80.1h0.8M429.2 83.9h0.8M412.4 90.4h0.8M429.9 63.7h0.8M430.9 66.9h0.8M403.3 58.9h0.8M427.8 72.2h0.8M418.3 58.3h0.8M410.5 61.6h0.8M418 64.9h0.8M418.9 59.1h0.8M413.2 59.8h0.8M415 59.8h0.8M416.4 61.2h0.8M424.9 58.7h0.8M411 70.2h0.8M426.9 64.4h0.8M409.4 73.7h0.8M410.4 65.3h0.8M415.1 53.9h0.8M421.7 69.3h0.8M415.8 68.7h0.8M409.6 62.8h0.8M418.7 73h0.8M405.5 70.5h0.8M410.3 44.3h0.8M421.6 77h0.8M410.4 74h0.8M417.1 73.9h0.8M428.2 78.4h0.8M417.8 54.2h0.8M412.4 62.6h0.8M413 69.6h0.8M420.4 84.7h0.8M423.8 52.9h0.8M431.9 65.9h0.8M414.2 47.9h0.8M417.6 89.5h0.8M416.8 71.7h0.8M419.5 76.8h0.8M412.4 57.9h0.8M420.9 76h0.8M412.8 70.3h0.8M423.1 70h0.8M414.3 87.8h0.8M425.9 72.8h0.8M416 53.3h0.8M414.2 66.6h0.8M411 76.8h0.8M409.3 83h0.8M414.5 58.2h0.8M415.2 71.4h0.8M423.4 55h0.8M420.9 61.5h0.8M408.6 54.3h0.8M424.3 52.1h0.8M413 66.4h0.8M426.1 44.1h0.8M417.7 67.7h0.8M406.5 61.4h0.8M414.7 71.7h0.8M414.8 60.3h0.8M418 77h0.8M408.6 66.4h0.8M415.3 65.2h0.8M422.4 59.6h0.8M407.5 63.6h0.8M408.8 82.6h0.8M425.2 54.7h0.8M416.7 49h0.8M415.6 60.9h0.8M428.4 70.8h0.8M418.1 77.4h0.8M414.2 72.9h0.8M412.5 59.7h0.8M420.5 58.1h0.8M422.5 58h0.8M417.7 51.9h0.8M423.5 58.2h0.8M405.3 73.2h0.8M408.8 52h0.8M416.7 63.9h0.8M417.4 62.6h0.8M428 53.7h0.8M412.4 63h0.8M420 81.1h0.8M416.8 74.1h0.8M419.2 96.6h0.8M412.6 80.2h0.8M416.5 68.3h0.8M421 78.8h0.8M412.5 64.4h0.8M429.9 67.4h0.8M416.3 57.3h0.8M415.1 69.6h0.8M424.3 68.8h0.8M417.5 54.5h0.8M412.8 65.9h0.8M404.9 60.4h0.8M416.8 82.4h0.8M405.9 51.6h0.8M430.5 67.9h0.8M422.3 71.9h0.8M406.1 71.9h0.8M410.7 63.5h0.8M416.7 68h0.8M421.5 66.1h0.8M423.7 68.9h0.8M413.2 70.4h0.8M414 74.1h0.8M414.3 62.2h0.8M422.7 46.9h0.8M419.5 60.6h0.8M421 72.2h0.8M410.8 70.5h0.8M426.7 61.7h0.8M421.4 90.7h0.8M404.8 63.5h0.8M428.1 64.1h0.8M415.8 55h0.8M399.6 73.6h0.8M420.6 79h0.8M420.2 55.3h0.8M374.7 154h0.8M400.9 155.4h0.8M393.8 167.1h0.8M385.7 150.2h0.8M396.9 148h0.8M383.8 148h0.8M394.7 145h0.8M386.9 154.3h0.8M382.8 146.8h0.8M391.1 153.8h0.8M383.5 146.8h0.8M396.6 147.6h0.8M389.3 150.5h0.8M384.4 157.9h0.8M387.3 136.4h0.8M402.1 149.5h0.8M390.6 154.3h0.8M386.1 142h0.8M382.2 146.3h0.8M394.6 148.7h0.8M393.1 131.1h0.8M381.7 152.4h0.8M380.7 157.9h0.8M387.7 148.9h0.8M381.6 149.8h0.8M377.9 159.4h0.8M391.7 148.7h0.8M380.9 155.2h0.8M382.8 160.3h0.8M394.5 145.2h0.8M387.7 166.8h0.8M394.1 159.9h0.8M385.3 158.1h0.8M379.3 157.1h0.8M396.6 149.5h0.8M392.7 148.2h0.8M387.2 153.6h0.8M392.7 152.8h0.8M392.9 142.7h0.8M378.1 155.3h0.8M370.9 137.1h0.8M379 157.9h0.8M387 148.5h0.8M388.3 139.4h0.8M396.9 143.5h0.8M383.2 153h0.8M385.4 155.7h0.8M394.9 158.1h0.8M389.1 144h0.8M389.2 141.9h0.8M377.7 137.7h0.8M396.9 139.3h0.8M398 150.8h0.8M386.5 151.9h0.8M401.5 139h0.8M392.7 147.2h0.8M381.2 133.2h0.8M381.8 143h0.8M389.4 158.8h0.8M392.3 149.1h0.8M402.3 146h0.8M389.6 148.5h0.8M394.4 155.6h0.8M389.2 156.8h0.8M391.6 145.8h0.8M396.6 147.2h0.8M384.6 157.8h0.8M385.7 151.9h0.8M409.1 159.2h0.8M385.6 147.1h0.8M397 154.8h0.8M382.6 157.4h0.8M377.4 162.9h0.8M399.2 166h0.8M379.8 157.1h0.8M404.7 155.6h0.8M388.4 163.3h0.8M378.9 151.1h0.8M393 148h0.8M390.2 159.8h0.8M396 151.4h0.8M380.6 138.8h0.8M382.8 147.3h0.8M388.2 150.7h0.8M394.5 140.7h0.8M385.3 157h0.8M384.3 160.5h0.8M384.9 153.8h0.8M400.7 161.3h0.8M390.8 153.1h0.8M395.3 148.4h0.8M381.5 160.4h0.8M398.3 154.4h0.8M388 142.3h0.8M385.1 149h0.8M391.8 159.2h0.8M390.2 155.3h0.8M380.1 153h0.8M398.5 146.2h0.8M375.5 157.8h0.8M401 158.2h0.8M386.1 157.1h0.8M374.1 152.5h0.8M384.1 161.5h0.8M382.3 169.3h0.8M407.9 168.5h0.8M397.2 145.7h0.8M387.6 160.3h0.8M392.7 146.6h0.8M388 145h0.8M392.7 151.4h0.8M399.4 158.1h0.8M387.1 163.7h0.8M372.5 139.7h0.8M385.3 156.5h0.8M404 158.7h0.8M392 151.9h0.8M376.4 146.9h0.8M397.9 154.7h0.8M385.3 151.7h0.8M384.8 135.6h0.8M388 146.5h0.8M380.4 150.2h0.8M387.3 153.2h0.8M389.8 153.4h0.8M387.9 145.5h0.8M388.9 151.7h0.8M396.8 152.2h0.8M384.4 158.7h0.8M389.4 158.8h0.8M405.8 158.6h0.8M380.1 143.9h0.8M393.5 137.7h0.8M386 153.6h0.8M385.8 144.4h0.8M389.2 148.5h0.8M385.6 156.1h0.8M384.6 149.7h0.8M398.9 159.1h0.8M389.7 150.1h0.8M391.5 153.7h0.8M379.9 145.2h0.8M397.9 143.6h0.8M402 157.6h0.8M389.4 147.8h0.8M390.5 158.6h0.8M393.1 163.2h0.8M393.3 146.4h0.8M394 158.4h0.8M389 144.3h0.8M384 156.8h0.8M383.2 167.1h0.8M395.4 136.7h0.8M381.7 152.6h0.8M380.4 150.7h0.8M396.5 157.4h0.8M381.6 158.4h0.8M397.3 145.9h0.8M394.5 146.7h0.8M379.8 162.1h0.8M398.3 144h0.8M370 160.6h0.8M385.2 155.1h0.8M379.8 156.2h0.8M397.8 153.1h0.8M395.8 154.6h0.8M397 147.3h0.8M385.4 135.2h0.8M386.3 149.3h0.8M381.1 160.5h0.8M394.2 144.9h0.8M389.6 158.1h0.8M397.8 164.6h0.8M386.3 160.4h0.8M389.3 160h0.8M388.8 151.5h0.8M392.3 146.4h0.8M389.7 155.2h0.8M376 147.5h0.8M386.1 160.5h0.8M390.8 151.8h0.8M384.2 155.6h0.8M387.4 160.2h0.8M387.7 151.5h0.8M394.2 155.8h0.8M378.1 153.6h0.8M389.3 136.1h0.8M380.5 160h0.8M392.3 147.9h0.8M396.8 137.1h0.8M400.1 147.1h0.8M400.9 148.5h0.8M385.9 154.4h0.8M387.8 160.7h0.8M395.8 149h0.8M388.4 152h0.8M402.7 151.7h0.8M397.5 151.7h0.8M383.5 138h0.8M391.5 156.1h0.8M391.6 162.9h0.8M395.2 167.6h0.8M394.5 144.2h0.8M398.2 142.9h0.8M388.7 141h0.8M396.7 164.1h0.8M379.5 144.3h0.8M384.4 135.6h0.8M388.6 149.4h0.8M379 132.1h0.8M378.2 153.6h0.8M377.8 151.4h0.8M390.9 157.3h0.8M388.6 153.2h0.8M400.3 146.3h0.8M389.4 162.2h0.8M380.4 156.7h0.8M369.7 137.6h0.8M377.2 149.7h0.8M389.1 131.7h0.8M403.2 169.4h0.8M398.9 149.8h0.8M393 145.6h0.8M385.2 145.1h0.8M391.7 147.2h0.8M386 166.8h0.8M387 156.9h0.8M392.5 147.9h0.8M386.4 161.5h0.8M385.6 157.5h0.8M386.4 148.6h0.8M400.8 137h0.8M384.3 146.6h0.8M392.7 145.9h0.8M390.4 157.5h0.8M404.3 159.9h0.8M379.1 166.4h0.8M389.5 143.4h0.8M391.2 143.3h0.8M386.6 143.9h0.8M385.8 130.4h0.8M399 152.1h0.8M395.7 154.9h0.8M388.7 163.1h0.8M399.2 148.5h0.8M395.5 148.6h0.8M385.7 155.3h0.8M390 150.5h0.8M374.1 144.3h0.8M390.1 157.4h0.8M394.3 146.8h0.8M392.9 140.9h0.8M392.7 167.4h0.8M387.6 142.8h0.8M397.3 150.4h0.8M389.4 156.1h0.8M386.9 157.6h0.8M384 145h0.8M391.5 155.2h0.8M391 157.2h0.8M389 146h0.8M392.9 138.1h0.8M389.4 159.7h0.8M393.6 161.2h0.8M387.6 149.5h0.8M385.8 147.3h0.8M391 159.9h0.8M389.2 164.9h0.8M393 134.3h0.8M394.4 147.7h0.8M390.2 145.5h0.8M385.5 169.2h0.8M397.4 148.7h0.8M383.9 148.6h0.8M384.9 157.1h0.8M398.2 138.7h0.8M393 151.3h0.8M387.7 158.6h0.8M384 144.7h0.8M389 145.7h0.8M385.8 158.8h0.8M380 162.6h0.8M400 149.2h0.8M394.7 143.1h0.8M387.9 148.3h0.8M383.7 160.3h0.8M392.7 160.4h0.8M378.4 151.3h0.8M386.8 139.3h0.8M398.2 153.1h0.8M392.9 165.3h0.8M386.2 165.9h0.8M376.5 164.3h0.8M396.3 142.6h0.8M385.8 162.8h0.8M393.4 153.7h0.8M389.3 142.1h0.8M381.6 145.7h0.8M397.3 136.2h0.8M382.2 156.1h0.8M389.4 148.3h0.8M382.7 137.5h0.8M384.3 142.4h0.8M386.2 144h0.8M378.4 163.6h0.8M374.2 158.8h0.8M386.6 147h0.8M380.5 143.8h0.8M386.4 134.1h0.8M397.3 153.1h0.8M389.4 151.3h0.8M397.9 151.6h0.8M395.3 146.1h0.8M402.7 146.1h0.8M381.6 146h0.8M396.5 165.2h0.8M392.3 169.9h0.8M381.8 145.4h0.8M385.9 162.9h0.8M382.5 151.7h0.8M380.6 153.3h0.8M395.5 147.2h0.8M395.9 151.2h0.8M384.8 156.1h0.8M378.3 164.4h0.8M399 142.1h0.8M388.4 135.4h0.8M393.7 154.3h0.8M391.2 147.1h0.8M389.1 145.8h0.8M387.7 145.8h0.8M384.6 145.7h0.8M370.1 144.7h0.8M396.1 164h0.8M385.1 152h0.8M399.2 137.7h0.8M392.4 136.9h0.8M392.4 149.7h0.8M388.6 149.5h0.8M404.1 128.7h0.8M378.6 153.5h0.8M391.3 145.2h0.8M392 151.5h0.8M390.2 161.5h0.8M382.8 153.4h0.8M396.4 146.8h0.8M398.9 144.1h0.8M376.7 142.1h0.8M390 160.3h0.8M386.5 151h0.8M389.1 156.9h0.8M381.8 150.4h0.8M382.3 155.4h0.8M395.7 131.8h0.8M391 149.8h0.8M394.8 145.1h0.8M389.5 140.9h0.8M395.3 171.3h0.8M391.3 164.9h0.8M401.2 149.3h0.8M390.1 153h0.8M397.4 145.7h0.8M395 144.2h0.8M394.4 151.3h0.8M376.3 148.1h0.8M393.1 150.1h0.8M391.3 171h0.8M379.5 145.3h0.8M383.5 151.6h0.8M385.8 149.7h0.8M383.1 145h0.8M404 173.4h0.8M388.2 152.4h0.8M376.7 148.1h0.8M395.2 155.2h0.8M387.8 167.4h0.8M412.1 150h0.8M381.6 157h0.8M396.2 144.2h0.8M389 161.1h0.8M392.6 144.2h0.8M396.4 144.5h0.8M401.3 151.7h0.8M375.1 144.2h0.8M395.6 167.5h0.8M392.3 149.2h0.8M407.2 140.3h0.8M397.5 138.4h0.8M376.1 142.3h0.8M395.8 153.9h0.8M388 155.4h0.8M384.1 164.9h0.8M390.3 156.4h0.8M379.5 151.1h0.8M380.2 157.6h0.8M377.1 158.1h0.8M397.6 156.6h0.8M399.3 165.1h0.8M387.3 147.5h0.8M385.9 151.6h0.8M387.9 149.7h0.8M402.7 152.3h0.8M386.2 164.6h0.8M380.9 151.1h0.8M393.7 157.3h0.8M379.8 139.8h0.8M380.2 144.4h0.8M398.4 150.8h0.8M392.1 144.2h0.8M385.4 157.1h0.8M392.1 149.1h0.8M396.8 146.5h0.8M385.2 147.8h0.8M384.8 158.5h0.8M378.2 155.3h0.8M375.2 136.5h0.8M389.3 154h0.8M388.3 133.9h0.8M398.3 160.9h0.8M382.9 162.8h0.8M384.8 151.9h0.8M383.4 142.7h0.8M377.8 149h0.8M394.4 148.3h0.8M394.1 158.9h0.8M400.8 160.4h0.8M389.8 153.9h0.8M388.5 144.4h0.8M380.3 166.3h0.8M382.7 156.5h0.8M400.7 153.5h0.8M385.3 155h0.8M401.3 143.6h0.8M382.8 147.4h0.8M395.4 158.6h0.8M385.3 152.4h0.8M396.3 141.6h0.8M388.6 155.4h0.8M394.8 157.6h0.8M378.9 151.1h0.8M385.2 153.7h0.8M392.8 150.9h0.8M391.4 170.4h0.8M403.5 159.9h0.8M390 169.3h0.8M384.8 136.6h0.8M388.1 143.7h0.8M372 142.4h0.8M386.5 147.8h0.8M392.3 156.9h0.8M394.1 141.8h0.8M395 165.4h0.8M387.7 149.7h0.8M393.1 156.8h0.8M389.7 155.2h0.8M382.3 136.4h0.8M384.9 148.1h0.8M388.8 146.9h0.8M382.3 153.2h0.8M393.1 149.2h0.8M386.4 152.1h0.8M385.2 155.6h0.8M385.3 134.9h0.8M403.1 154.9h0.8M396.2 150h0.8M388.3 152.2h0.8M390.5 150.5h0.8M383.1 156.8h0.8M389.9 168.3h0.8M383.5 148.5h0.8M389.1 135.3h0.8M383 134.8h0.8M384.6 152.9h0.8M390.5 160.6h0.8M391.2 160.3h0.8M393.5 132.9h0.8M390.7 138.6h0.8M394.4 162.6h0.8M399.8 154.6h0.8M389.7 140.1h0.8M395.2 153.7h0.8M387.5 140.6h0.8M379.3 147.6h0.8M395.7 151.5h0.8M383 158.4h0.8M397.6 153.8h0.8M387.8 154h0.8M388.5 156.5h0.8M381.4 162.2h0.8M389.9 171.4h0.8M373.8 144.3h0.8M378.2 152h0.8M392.5 146.7h0.8M390.9 153.4h0.8M383.6 151.4h0.8M380.8 147.9h0.8M385.1 145.6h0.8M381.3 154.4h0.8M389.2 166.9h0.8M373.5 150.6h0.8M390 156.2h0.8M391.3 171.4h0.8M383.8 137.7h0.8M393.7 144.4h0.8M390.6 149h0.8M405 143.2h0.8M401.5 155.4h0.8M390.9 152.6h0.8M381.7 152h0.8M390.5 148.6h0.8M380.1 147h0.8M387.7 150.1h0.8M378.7 152.9h0.8M398 150.3h0.8M400.3 154h0.8M386.1 143h0.8M380.3 145.5h0.8M388.1 142.5h0.8M387.4 166.5h0.8M374.8 153.9h0.8M390.6 154.8h0.8M391.9 151.5h0.8M386.9 149.7h0.8M382.7 145.7h0.8M390.2 152.3h0.8M390.8 145.5h0.8M380.5 169.6h0.8M393.3 159.3h0.8M391.4 158h0.8M397.2 163.5h0.8M389.2 156.4h0.8M396.1 138.7h0.8M389.7 155h0.8M382.9 146.8h0.8M398.2 155.6h0.8M389.3 147.4h0.8M390.7 143.5h0.8M377.4 161.1h0.8M393.5 144h0.8M400.2 162.8h0.8M384.1 145.8h0.8M392.8 151.7h0.8M393.5 161.2h0.8M385.3 154.4h0.8M380 157.4h0.8M397.8 128.4h0.8M380.7 154.8h0.8M377.6 152.2h0.8M394.1 152.9h0.8M394.9 151.1h0.8M397.8 149.3h0.8M386.1 143.9h0.8M376.3 150.7h0.8M389.9 150.1h0.8M380.7 139.2h0.8M404.2 147.2h0.8M407.1 150.4h0.8M387.3 173.5h0.8M381.6 123.1h0.8M385 147.8h0.8M402 148.2h0.8M385.9 163.2h0.8M397.1 147.5h0.8M386.9 167.2h0.8M408 133.9h0.8M407.4 148.6h0.8M389.8 160.3h0.8M385.4 146.5h0.8M408 147.9h0.8M376.6 136.7h0.8M395.9 136h0.8M393.3 154.4h0.8M386.3 129h0.8M397.1 166.9h0.8M391.5 151.1h0.8M399.8 149.9h0.8M378.4 151.5h0.8M400 135.4h0.8M398.4 135.2h0.8M380.4 134.3h0.8M406.5 157.3h0.8M395.2 167h0.8M384.3 157.1h0.8M387.8 118.4h0.8M403.1 149.2h0.8M376 140.4h0.8M398.9 140.7h0.8M402.4 125.3h0.8M419.3 143.5h0.8M384.2 138.3h0.8M385 124.2h0.8M379.4 147.5h0.8M402.6 129.5h0.8M397.5 139.7h0.8M419.6 153.3h0.8M402.1 149.7h0.8M398.8 142.3h0.8M383.6 166.6h0.8M410 159.4h0.8M380.5 145.1h0.8M401.4 146.5h0.8M371.8 144.8h0.8M376.9 130.6h0.8M399.5 103.9h0.8M406.6 131.5h0.8M386.9 142.7h0.8M387.9 141.6h0.8M383.5 146.7h0.8M379.7 143.7h0.8M392.8 141.6h0.8M407.2 142.8h0.8M386.1 173h0.8M410.2 152.6h0.8M389.5 165h0.8M396.9 143.2h0.8M391.3 157.3h0.8M396.5 137.3h0.8M367.1 155h0.8M393.8 156.1h0.8M395.8 158h0.8M399.1 144.8h0.8M390.8 120.4h0.8M374.4 172h0.8M382.4 136.2h0.8M417.5 148.7h0.8M368.9 111.7h0.8M372.1 139.4h0.8M402.7 150.5h0.8M386.2 155.7h0.8M375.5 140.1h0.8M384.4 131.2h0.8M395.3 148.2h0.8M402 152.4h0.8M412.6 170.2h0.8M401.2 132.4h0.8M389.9 147.6h0.8M390.5 161.1h0.8M401.4 149.1h0.8M393.6 157.9h0.8M384.1 129.7h0.8M387.8 132.1h0.8M386.8 113.2h0.8M392.2 136.3h0.8M402 158.1h0.8M400.2 124.6h0.8M395.4 149.1h0.8M379.7 151.5h0.8M383 125.4h0.8M398.1 138.6h0.8M418.5 148h0.8M386.7 147.1h0.8M393.1 143.3h0.8M382 134.9h0.8M411.7 134.8h0.8M412.8 134.8h0.8M402.8 145.2h0.8M409.8 146.8h0.8M393.6 138.5h0.8M396 153.3h0.8M403.9 142.8h0.8M392.7 143.4h0.8M368.2 148.1h0.8M378.4 145.6h0.8M386.1 138.6h0.8M392.1 128.8h0.8M393 165.7h0.8M412.2 168.8h0.8M407.2 151.2h0.8M416.6 145.2h0.8M404.3 153.2h0.8M395.7 134.6h0.8M397.1 170.1h0.8M397.7 141.6h0.8M396.1 141.1h0.8M392.7 135.1h0.8M402.5 141.2h0.8M391.5 144.9h0.8M374.2 164.6h0.8M414.1 137.1h0.8M424.3 146.7h0.8M388.2 149.6h0.8M398.7 138.6h0.8M398.4 128.9h0.8M402.5 137.4h0.8M375.5 145h0.8M378 157.6h0.8M411.8 130.6h0.8M387.1 130h0.8M378.8 133.6h0.8M391.8 126.4h0.8M381 145.5h0.8M386.4 111.9h0.8M369.3 168.4h0.8M392.3 166.1h0.8M394 156.7h0.8M406.5 138.8h0.8M410 162.7h0.8M390 146.4h0.8M379.3 166.5h0.8M382 146.3h0.8M386.6 139.9h0.8M404.6 148h0.8M407.2 145.6h0.8M407 131.7h0.8M384.4 100.6h0.8M407.9 158.9h0.8M377 132.8h0.8M392 131.8h0.8M409 168.4h0.8M396.3 149.4h0.8M390.4 128h0.8M374.5 135.7h0.8M391.6 160.8h0.8M384.6 150.6h0.8M416.6 170h0.8M405.5 157.9h0.8M364.2 139.4h0.8M396.5 145.5h0.8M402.7 158.8h0.8M399.8 131.8h0.8M387.5 133.1h0.8M406.4 150.5h0.8M408.7 147.5h0.8M380.4 143.7h0.8M381.1 126.3h0.8M373.4 157.6h0.8M389.2 131h0.8M385.4 144.7h0.8M390.8 141h0.8M385.9 155.2h0.8M388.2 168.6h0.8M382.1 108.6h0.8M382.1 152.2h0.8M396.5 153.9h0.8M402.3 168.2h0.8M386.5 160h0.8M395.6 142.7h0.8M412.4 164.8h0.8M374.3 158h0.8M403.5 129.3h0.8M384.4 142.5h0.8M390.9 158.8h0.8M407.6 128.1h0.8M397.7 149.9h0.8M410 162.6h0.8M407.6 131.3h0.8M410.2 133.8h0.8M413.7 158.8h0.8M400.5 155.9h0.8M400.9 144h0.8M377.4 157.6h0.8M400.7 153.9h0.8M390.4 158.7h0.8M386.3 128.7h0.8M406.9 142.6h0.8M385.9 140h0.8M412.4 150.5h0.8M388.1 132.6h0.8M383.2 144.1h0.8M375.6 141.2h0.8M389.5 129.7h0.8M388.5 133.7h0.8M394.3 165.9h0.8M415.2 132.1h0.8M391.6 152.9h0.8M389 125.8h0.8M384.5 132.9h0.8M379.6 147.4h0.8M392.3 133.9h0.8M412 142.1h0.8M413.4 140.7h0.8M393.5 106.1h0.8M390.1 95.9h0.8M382.7 96.4h0.8M396.8 125h0.8M397.7 90.9h0.8M402 118.8h0.8M384.9 107.5h0.8M390.9 115.3h0.8M377.5 87.4h0.8M396 120.2h0.8M385 110.4h0.8M398.1 112.5h0.8M389.5 84.1h0.8M383.8 118.9h0.8M391.9 118.1h0.8M384.1 72.8h0.8M387.2 104.2h0.8M389.4 133.9h0.8M400.9 116.8h0.8M392.1 116.6h0.8M390.4 129.1h0.8M380.3 124.5h0.8M394.1 107h0.8M380.7 116.6h0.8M383.9 92.3h0.8M390.6 107.9h0.8M391.3 99.3h0.8M391 138.6h0.8M391.4 96.4h0.8M385.7 101.2h0.8M401.8 119.4h0.8M401.6 117.9h0.8M403.3 82.6h0.8M380.4 114.7h0.8M395.1 92.8h0.8M388.8 103.7h0.8M396.1 97.7h0.8M383.9 101.8h0.8M385.6 113h0.8M390.9 124.4h0.8M387.4 104.9h0.8M385.4 144.9h0.8M386 121.1h0.8M395.3 95.1h0.8M397 118.3h0.8M386.2 86.8h0.8M388.7 103.1h0.8M384.3 96.9h0.8M394.7 98.7h0.8M383.9 113.2h0.8M400.9 94.3h0.8M383.2 132.8h0.8M376.8 106.1h0.8M400.5 109.2h0.8M387.1 111.6h0.8M396.1 99.6h0.8M391.2 103.1h0.8M394.6 115.7h0.8M386.7 109.6h0.8M392.8 131.1h0.8M391.3 98.4h0.8M392.2 143.8h0.8M400.7 133.8h0.8M382 143.2h0.8M395.2 116.7h0.8M392.2 120.3h0.8M377.8 127.7h0.8M382 138.9h0.8M393.8 101.1h0.8M384.6 107.6h0.8M402.4 111.5h0.8M392.4 98.6h0.8M402.6 107.2h0.8M387 117.2h0.8M387.3 107.8h0.8M379.9 85.6h0.8M395.3 98.5h0.8M395.2 118.4h0.8M396.4 122h0.8M399.1 109.1h0.8M471.9 155.7h0.8M467.5 159.1h0.8M467.3 113.8h0.8M467.3 170.6h0.8M466.1 142.9h0.8M466.1 92.1h0.8M464.3 117.1h0.8M464.8 111.7h0.8M465.2 163.7h0.8M466.3 120.9h0.8M459.2 157.6h0.8M467.3 170.2h0.8M466.9 157.7h0.8M468.8 85.2h0.8M462.3 138.9h0.8M463.1 147.2h0.8M470.4 100.4h0.8M464 150.2h0.8M469 166.3h0.8M464.2 160.7h0.8M462 140.6h0.8M460.9 121.7h0.8M464.5 173.2h0.8M465 152.8h0.8M461.9 108.2h0.8M472.9 99.5h0.8M467.1 161.7h0.8M473.2 119h0.8M470.4 171.5h0.8M463.8 161.6h0.8M462.7 168.4h0.8M466.2 170.6h0.8M470 105.6h0.8M461.2 133.4h0.8M471.8 164.2h0.8M465.4 158.9h0.8M470.5 170.6h0.8M466.4 154.9h0.8M469 117.7h0.8M469.7 172.9h0.8M472.4 173.4h0.8M464.1 143.2h0.8M474.9 156.4h0.8M461.7 117.4h0.8M468.3 156.2h0.8M469.8 145.4h0.8M467.1 165.8h0.8M470.7 152.5h0.8M460.3 122h0.8M466.9 98h0.8M471.2 116.5h0.8M467.1 166.5h0.8M462.5 160h0.8M467.7 153.9h0.8M467.8 162.3h0.8M462.9 140h0.8M472.5 134.7h0.8M464.8 146.9h0.8M462.8 153.1h0.8M467.5 108.7h0.8M464.4 143.1h0.8M466.3 127.5h0.8M468 107h0.8M465.3 168.5h0.8M469.5 142.5h0.8M468.3 95.6h0.8M472.1 117h0.8M462.9 163h0.8M467.3 87.8h0.8M468.1 136h0.8M468.3 133.7h0.8M458.4 121.8h0.8M462.7 126.3h0.8M468.4 134.3h0.8M469.5 116.8h0.8M467.2 156.9h0.8M467.8 133.3h0.8M472.2 148.1h0.8M465.6 155.1h0.8M463.9 131.2h0.8M473.3 138.6h0.8M469.6 141h0.8M466.4 172.2h0.8M464.1 139.3h0.8M473.7 164.9h0.8M466 155.6h0.8M463.7 103.1h0.8M472.3 88.9h0.8M461 110.3h0.8M466.5 154.6h0.8M469.7 131.8h0.8M465.9 157h0.8M465 156.6h0.8M468.9 172.2h0.8M462.1 119.2h0.8M466.2 128.4h0.8M470.1 157.2h0.8M462.6 159h0.8M472.8 165.4h0.8M466.2 139.8h0.8M466.8 148.6h0.8M465.1 169h0.8M469.5 101.5h0.8M465.1 166.4h0.8M468 142.3h0.8M472.3 128.7h0.8M472.3 146h0.8M460.8 156.5h0.8M472.7 164.6h0.8M465.1 119.2h0.8M468.3 99.4h0.8M467.5 150.4h0.8M468.2 171.7h0.8M464.6 169.6h0.8M469.5 142.3h0.8M471.3 145.5h0.8M464.7 148.9h0.8M467 122.3h0.8M470.5 144.6h0.8M471.5 127.2h0.8M468.5 136.4h0.8M468.2 129.4h0.8M469.1 172h0.8M465.7 121.5h0.8M468.5 170.1h0.8M465.9 118.2h0.8M465.7 120.9h0.8M457.4 163.7h0.8M459.7 140.2h0.8M468.6 131.5h0.8M470.1 145.7h0.8M468.9 125.9h0.8M467.5 172.9h0.8M465.8 141.9h0.8M469.4 115.1h0.8M465.4 157h0.8M467 152.4h0.8M473.2 118.6h0.8M461.3 172.4h0.8M464.6 151.2h0.8M466 167.6h0.8M462.1 129.1h0.8M471.4 131.1h0.8M469.2 165.2h0.8M466.5 85.2h0.8M472.4 100.9h0.8M463 141.1h0.8M474.9 167.8h0.8M466.8 161.5h0.8M464.5 118h0.8M471.5 127.8h0.8M469.2 140.5h0.8M467.8 130.4h0.8M466.5 131.4h0.8M459.5 159.2h0.8M458.4 141.1h0.8M467 173.8h0.8M471 165.5h0.8M463.7 168.9h0.8M467.4 148.7h0.8M460.5 157.5h0.8M460.8 147.4h0.8M466.7 109.5h0.8M469.9 93.8h0.8M470 122.7h0.8M471.9 118h0.8M463.7 158.6h0.8M466.3 163.2h0.8M470.2 167.8h0.8M462.7 127.6h0.8M465.7 164.7h0.8M466.9 118.8h0.8M466.9 136.3h0.8M468.7 152.7h0.8M465.1 146.3h0.8M457.3 84.5h0.8M470.2 100.2h0.8M471.1 98.8h0.8M469 172.7h0.8M468.4 157.1h0.8M468.8 127.5h0.8M471.9 146.5h0.8M464.8 163.4h0.8M466.7 119.6h0.8M462.8 147.4h0.8M466 165.3h0.8M463.5 135.8h0.8M463.5 164.9h0.8M458.7 140.7h0.8M466.5 168.8h0.8M471.1 150.5h0.8M454.5 170.7h0.8M472.2 82.3h0.8M466.7 123.7h0.8M464.1 124.7h0.8M468.1 119.1h0.8M465.8 135.2h0.8M466.6 169.8h0.8M472.7 172.1h0.8M467.6 92.2h0.8M468.4 155h0.8M465.8 148.2h0.8M466.1 166.5h0.8M463.1 159h0.8M466.4 161.4h0.8M463.6 171.3h0.8M465.9 109.6h0.8M469.9 82.6h0.8M472.2 120.5h0.8M471.1 135.9h0.8M464 112.7h0.8M473.8 138.5h0.8M459 164.5h0.8M472.7 155.6h0.8M456.4 105.9h0.8M463.1 104.8h0.8M466.5 148h0.8M463.9 129.1h0.8M458.1 98.3h0.8M460.6 101.8h0.8M467.9 145.3h0.8M459.7 142.9h0.8M469.4 173.1h0.8M471.6 90.3h0.8M472.4 143.2h0.8M467.9 96.7h0.8M466.6 171.9h0.8M465.2 174.1h0.8M478.2 137.3h0.8M471.8 173.9h0.8M469.4 118.3h0.8M468.2 146.8h0.8M471.3 110.4h0.8M458.9 164.6h0.8M470.4 136h0.8M464.4 167.9h0.8M457.3 152.2h0.8M471.4 159.1h0.8M463.7 174.1h0.8M468.6 127.8h0.8M463.8 164h0.8M465.2 169.9h0.8M473.5 92.3h0.8M468.2 166.9h0.8M468.4 115.1h0.8M460.3 128.7h0.8M470.6 137.1h0.8M464.1 159.7h0.8M468.8 130.4h0.8M462.6 168.5h0.8M468.3 173.5h0.8M469.1 167.8h0.8M460.8 134h0.8M468.1 172.6h0.8M463.1 163.7h0.8M472 147.2h0.8M468.3 173.4h0.8M467 107.9h0.8M465.3 144h0.8M470.5 119h0.8M468 162.1h0.8M472.4 88.8h0.8M462.7 164.6h0.8M475 150.8h0.8M464.7 141.7h0.8M465.3 125.9h0.8M463.8 149.2h0.8M465.6 167.7h0.8M474.8 148.3h0.8M467.6 167.9h0.8M462.4 170.5h0.8M466.2 116.7h0.8M467.9 171.7h0.8M470.8 102.9h0.8M465.5 140h0.8M467.7 162.1h0.8M479 159.1h0.8M466.3 172.3h0.8M467.3 108.6h0.8M461.9 129.3h0.8M470.8 172h0.8M464.9 142h0.8M474.5 168.9h0.8M471.9 83.7h0.8M470.2 161.3h0.8M464.8 153h0.8M465.5 163.4h0.8M465.3 111.7h0.8M467.2 138.4h0.8M465.4 173.9h0.8M464.6 173.3h0.8M466.8 155h0.8M465.3 133.6h0.8M417.2 167h0.8M442.4 156h0.8M422.9 82.6h0.8M434.6 106.6h0.8M439.2 129.4h0.8M421.9 129.7h0.8M385.1 48.8h0.8M487.8 160.5h0.8M414.9 109.1h0.8M392.2 139.8h0.8M393 169.5h0.8M397.6 109.3h0.8M486.8 142.8h0.8M421.1 53.8h0.8M434 119h0.8M442 163.8h0.8M370.2 97.1h0.8M424.3 86.5h0.8M432 71.1h0.8M362.7 171.7h0.8M452.8 86.1h0.8M429.8 46.5h0.8M430 84h0.8M369.5 172.7h0.8" stroke="#000" stroke-opacity="0.7" stroke-width="0.85" fill="none"/>
<g fill="none" stroke="#333" stroke-width="1.1">
<rect x="252.5" y="49.3" width="34.3" height="51.8"/>
<rect x="291.6" y="74.8" width="33.8" height="100.5"/>
<line x1="291.6" y1="127" x2="325.4" y2="127"/>
</g>
<rect x="42.9" y="39.9" width="129.8" height="135.9" fill="none" stroke="#000" stroke-width="1.4"/>
<line x1="42.5" y1="175.8" x2="42.5" y2="182.2" stroke="#000" stroke-width="1.3"/>
<line x1="36.4" y1="175.8" x2="42.9" y2="175.8" stroke="#000" stroke-width="1.3"/>
<text x="36.3" y="197" font-family="Liberation Sans, sans-serif" font-size="11.7" stroke="#000" stroke-width="0.3">10</text>
<text transform="translate(49.4,194.7) scale(0.85,1)" font-family="Liberation Sans, sans-serif" font-size="7.2" stroke="#000" stroke-width="0.3">0</text>
<g transform="translate(32.7,178.2) rotate(-90) scale(0.86,1)"><text x="0" y="0" font-family="Liberation Sans, sans-serif" font-size="12" stroke="#000" stroke-width="0.3">10<tspan font-size="8.5" dy="-0.8">0</tspan></text></g>
<line x1="74.8" y1="175.8" x2="74.8" y2="182.2" stroke="#000" stroke-width="1.3"/>
<line x1="36.4" y1="143.6" x2="42.9" y2="143.6" stroke="#000" stroke-width="1.3"/>
<text x="69.3" y="197" font-family="Liberation Sans, sans-serif" font-size="11.7" stroke="#000" stroke-width="0.3">10</text>
<text transform="translate(82.4,194.7) scale(0.85,1)" font-family="Liberation Sans, sans-serif" font-size="7.2" stroke="#000" stroke-width="0.3">1</text>
<g transform="translate(32.7,146) rotate(-90) scale(0.86,1)"><text x="0" y="0" font-family="Liberation Sans, sans-serif" font-size="12" stroke="#000" stroke-width="0.3">10<tspan font-size="8.5" dy="-0.8">1</tspan></text></g>
<line x1="107.2" y1="175.8" x2="107.2" y2="182.2" stroke="#000" stroke-width="1.3"/>
<line x1="36.4" y1="111.4" x2="42.9" y2="111.4" stroke="#000" stroke-width="1.3"/>
<text x="101.8" y="197" font-family="Liberation Sans, sans-serif" font-size="11.7" stroke="#000" stroke-width="0.3">10</text>
<text transform="translate(114.9,194.7) scale(0.85,1)" font-family="Liberation Sans, sans-serif" font-size="7.2" stroke="#000" stroke-width="0.3">2</text>
<g transform="translate(32.7,113.8) rotate(-90) scale(0.86,1)"><text x="0" y="0" font-family="Liberation Sans, sans-serif" font-size="12" stroke="#000" stroke-width="0.3">10<tspan font-size="8.5" dy="-0.8">2</tspan></text></g>
<line x1="139.5" y1="175.8" x2="139.5" y2="182.2" stroke="#000" stroke-width="1.3"/>
<line x1="36.4" y1="79.1" x2="42.9" y2="79.1" stroke="#000" stroke-width="1.3"/>
<text x="134.3" y="197" font-family="Liberation Sans, sans-serif" font-size="11.7" stroke="#000" stroke-width="0.3">10</text>
<text transform="translate(147.4,194.7) scale(0.85,1)" font-family="Liberation Sans, sans-serif" font-size="7.2" stroke="#000" stroke-width="0.3">3</text>
<g transform="translate(32.7,81.5) rotate(-90) scale(0.86,1)"><text x="0" y="0" font-family="Liberation Sans, sans-serif" font-size="12" stroke="#000" stroke-width="0.3">10<tspan font-size="8.5" dy="-0.8">3</tspan></text></g>
<line x1="171.8" y1="175.8" x2="171.8" y2="182.2" stroke="#000" stroke-width="1.3"/>
<line x1="36.4" y1="46.9" x2="42.9" y2="46.9" stroke="#000" stroke-width="1.3"/>
<text x="168.7" y="197" font-family="Liberation Sans, sans-serif" font-size="11.7" stroke="#000" stroke-width="0.3">10</text>
<text transform="translate(181.8,194.7) scale(0.85,1)" font-family="Liberation Sans, sans-serif" font-size="7.2" stroke="#000" stroke-width="0.3">4</text>
<g transform="translate(32.7,49.3) rotate(-90) scale(0.86,1)"><text x="0" y="0" font-family="Liberation Sans, sans-serif" font-size="12" stroke="#000" stroke-width="0.3">10<tspan font-size="8.5" dy="-0.8">4</tspan></text></g>
<rect x="204.8" y="39.9" width="129.7" height="135.9" fill="none" stroke="#000" stroke-width="1.4"/>
<line x1="203.7" y1="175.8" x2="203.7" y2="182.2" stroke="#000" stroke-width="1.3"/>
<line x1="198.3" y1="175.8" x2="204.8" y2="175.8" stroke="#000" stroke-width="1.3"/>
<text x="197.9" y="197" font-family="Liberation Sans, sans-serif" font-size="11.7" stroke="#000" stroke-width="0.3">10</text>
<text transform="translate(211,194.7) scale(0.85,1)" font-family="Liberation Sans, sans-serif" font-size="7.2" stroke="#000" stroke-width="0.3">0</text>
<g transform="translate(194.6,178.2) rotate(-90) scale(0.86,1)"><text x="0" y="0" font-family="Liberation Sans, sans-serif" font-size="12" stroke="#000" stroke-width="0.3">10<tspan font-size="8.5" dy="-0.8">0</tspan></text></g>
<line x1="236" y1="175.8" x2="236" y2="182.2" stroke="#000" stroke-width="1.3"/>
<line x1="198.3" y1="143.6" x2="204.8" y2="143.6" stroke="#000" stroke-width="1.3"/>
<text x="230.1" y="197" font-family="Liberation Sans, sans-serif" font-size="11.7" stroke="#000" stroke-width="0.3">10</text>
<text transform="translate(243.2,194.7) scale(0.85,1)" font-family="Liberation Sans, sans-serif" font-size="7.2" stroke="#000" stroke-width="0.3">1</text>
<g transform="translate(194.6,146) rotate(-90) scale(0.86,1)"><text x="0" y="0" font-family="Liberation Sans, sans-serif" font-size="12" stroke="#000" stroke-width="0.3">10<tspan font-size="8.5" dy="-0.8">1</tspan></text></g>
<line x1="268.4" y1="175.8" x2="268.4" y2="182.2" stroke="#000" stroke-width="1.3"/>
<line x1="198.3" y1="111.4" x2="204.8" y2="111.4" stroke="#000" stroke-width="1.3"/>
<text x="262.7" y="197" font-family="Liberation Sans, sans-serif" font-size="11.7" stroke="#000" stroke-width="0.3">10</text>
<text transform="translate(275.8,194.7) scale(0.85,1)" font-family="Liberation Sans, sans-serif" font-size="7.2" stroke="#000" stroke-width="0.3">2</text>
<g transform="translate(194.6,113.8) rotate(-90) scale(0.86,1)"><text x="0" y="0" font-family="Liberation Sans, sans-serif" font-size="12" stroke="#000" stroke-width="0.3">10<tspan font-size="8.5" dy="-0.8">2</tspan></text></g>
<line x1="300.8" y1="175.8" x2="300.8" y2="182.2" stroke="#000" stroke-width="1.3"/>
<line x1="198.3" y1="79.1" x2="204.8" y2="79.1" stroke="#000" stroke-width="1.3"/>
<text x="295" y="197" font-family="Liberation Sans, sans-serif" font-size="11.7" stroke="#000" stroke-width="0.3">10</text>
<text transform="translate(308.1,194.7) scale(0.85,1)" font-family="Liberation Sans, sans-serif" font-size="7.2" stroke="#000" stroke-width="0.3">3</text>
<g transform="translate(194.6,81.5) rotate(-90) scale(0.86,1)"><text x="0" y="0" font-family="Liberation Sans, sans-serif" font-size="12" stroke="#000" stroke-width="0.3">10<tspan font-size="8.5" dy="-0.8">3</tspan></text></g>
<line x1="333.1" y1="175.8" x2="333.1" y2="182.2" stroke="#000" stroke-width="1.3"/>
<line x1="198.3" y1="46.9" x2="204.8" y2="46.9" stroke="#000" stroke-width="1.3"/>
<text x="326.5" y="197" font-family="Liberation Sans, sans-serif" font-size="11.7" stroke="#000" stroke-width="0.3">10</text>
<text transform="translate(339.6,194.7) scale(0.85,1)" font-family="Liberation Sans, sans-serif" font-size="7.2" stroke="#000" stroke-width="0.3">4</text>
<g transform="translate(194.6,49.3) rotate(-90) scale(0.86,1)"><text x="0" y="0" font-family="Liberation Sans, sans-serif" font-size="12" stroke="#000" stroke-width="0.3">10<tspan font-size="8.5" dy="-0.8">4</tspan></text></g>
<rect x="362.3" y="39.9" width="129.85" height="135.9" fill="none" stroke="#000" stroke-width="1.4"/>
<line x1="362.1" y1="175.8" x2="362.1" y2="182.2" stroke="#000" stroke-width="1.3"/>
<line x1="355.8" y1="175.8" x2="362.3" y2="175.8" stroke="#000" stroke-width="1.3"/>
<text x="357" y="197" font-family="Liberation Sans, sans-serif" font-size="11.7" stroke="#000" stroke-width="0.3">10</text>
<text transform="translate(370.1,194.7) scale(0.85,1)" font-family="Liberation Sans, sans-serif" font-size="7.2" stroke="#000" stroke-width="0.3">0</text>
<g transform="translate(352.1,178.2) rotate(-90) scale(0.86,1)"><text x="0" y="0" font-family="Liberation Sans, sans-serif" font-size="12" stroke="#000" stroke-width="0.3">10<tspan font-size="8.5" dy="-0.8">0</tspan></text></g>
<line x1="394.5" y1="175.8" x2="394.5" y2="182.2" stroke="#000" stroke-width="1.3"/>
<line x1="355.8" y1="143.6" x2="362.3" y2="143.6" stroke="#000" stroke-width="1.3"/>
<text x="389.6" y="197" font-family="Liberation Sans, sans-serif" font-size="11.7" stroke="#000" stroke-width="0.3">10</text>
<text transform="translate(402.7,194.7) scale(0.85,1)" font-family="Liberation Sans, sans-serif" font-size="7.2" stroke="#000" stroke-width="0.3">1</text>
<g transform="translate(352.1,146) rotate(-90) scale(0.86,1)"><text x="0" y="0" font-family="Liberation Sans, sans-serif" font-size="12" stroke="#000" stroke-width="0.3">10<tspan font-size="8.5" dy="-0.8">1</tspan></text></g>
<line x1="426.9" y1="175.8" x2="426.9" y2="182.2" stroke="#000" stroke-width="1.3"/>
<line x1="355.8" y1="111.4" x2="362.3" y2="111.4" stroke="#000" stroke-width="1.3"/>
<text x="422" y="197" font-family="Liberation Sans, sans-serif" font-size="11.7" stroke="#000" stroke-width="0.3">10</text>
<text transform="translate(435.1,194.7) scale(0.85,1)" font-family="Liberation Sans, sans-serif" font-size="7.2" stroke="#000" stroke-width="0.3">2</text>
<g transform="translate(352.1,113.8) rotate(-90) scale(0.86,1)"><text x="0" y="0" font-family="Liberation Sans, sans-serif" font-size="12" stroke="#000" stroke-width="0.3">10<tspan font-size="8.5" dy="-0.8">2</tspan></text></g>
<line x1="459.3" y1="175.8" x2="459.3" y2="182.2" stroke="#000" stroke-width="1.3"/>
<line x1="355.8" y1="79.1" x2="362.3" y2="79.1" stroke="#000" stroke-width="1.3"/>
<text x="454.3" y="197" font-family="Liberation Sans, sans-serif" font-size="11.7" stroke="#000" stroke-width="0.3">10</text>
<text transform="translate(467.4,194.7) scale(0.85,1)" font-family="Liberation Sans, sans-serif" font-size="7.2" stroke="#000" stroke-width="0.3">3</text>
<g transform="translate(352.1,81.5) rotate(-90) scale(0.86,1)"><text x="0" y="0" font-family="Liberation Sans, sans-serif" font-size="12" stroke="#000" stroke-width="0.3">10<tspan font-size="8.5" dy="-0.8">3</tspan></text></g>
<line x1="491.7" y1="175.8" x2="491.7" y2="182.2" stroke="#000" stroke-width="1.3"/>
<line x1="355.8" y1="46.9" x2="362.3" y2="46.9" stroke="#000" stroke-width="1.3"/>
<text x="485.9" y="197" font-family="Liberation Sans, sans-serif" font-size="11.7" stroke="#000" stroke-width="0.3">10</text>
<text transform="translate(499,194.7) scale(0.85,1)" font-family="Liberation Sans, sans-serif" font-size="7.2" stroke="#000" stroke-width="0.3">4</text>
<g transform="translate(352.1,49.3) rotate(-90) scale(0.86,1)"><text x="0" y="0" font-family="Liberation Sans, sans-serif" font-size="12" stroke="#000" stroke-width="0.3">10<tspan font-size="8.5" dy="-0.8">4</tspan></text></g>
<text x="441" y="58.6" font-family="Liberation Sans, sans-serif" font-size="15" stroke="#000" stroke-width="0.35" text-anchor="middle">1</text>
<text x="476.5" y="84.4" font-family="Liberation Sans, sans-serif" font-size="15" stroke="#000" stroke-width="0.35" text-anchor="middle">2</text>
<text x="476.7" y="141.5" font-family="Liberation Sans, sans-serif" font-size="15" stroke="#000" stroke-width="0.35" text-anchor="middle">3</text>
<text x="106.4" y="29.1" font-family="Liberation Sans, sans-serif" font-size="14.8" font-weight="bold" text-anchor="middle">B-CLL</text>
<text x="274.5" y="29.5" font-family="Liberation Sans, sans-serif" font-size="14.6" font-weight="bold" text-anchor="middle">NHL</text>
<text x="424.5" y="12.3" font-family="Liberation Sans, sans-serif" font-size="14.5" font-weight="bold" text-anchor="middle">Normal</text>
<text x="426.7" y="29.5" font-family="Liberation Sans, sans-serif" font-size="14.9" font-weight="bold" text-anchor="middle">lymphocytes</text>
<g transform="translate(13.8,174.7) rotate(-90)"><text x="0" y="0" font-family="Liberation Sans, sans-serif" font-size="15" stroke="#000" stroke-width="0.35">CD5-PE</text></g>
<line x1="9.2" y1="110.4" x2="9.2" y2="46" stroke="#000" stroke-width="1.3"/>
<polygon points="9.3,35 3.4,47.6 15.3,47.6" fill="#000"/>
<text x="1.9" y="227" font-family="Liberation Sans, sans-serif" font-size="15" stroke="#000" stroke-width="0.35">CD20-FITC</text>
<line x1="85" y1="219.7" x2="468" y2="219.7" stroke="#000" stroke-width="1.4"/>
<polygon points="478,219.8 466,213.9 466,225.7" fill="#000"/>
<line x1="60.5" y1="256.5" x2="60.5" y2="536" stroke="#000" stroke-width="1.5"/>
<line x1="52.3" y1="535.7" x2="483" y2="535.7" stroke="#000" stroke-width="1.5"/>
<text x="34.4" y="537.5" font-family="Liberation Sans, sans-serif" font-size="14" stroke="#000" stroke-width="0.35">10<tspan font-size="9" dy="-4.9" dx="1.2">0</tspan></text>
<line x1="52.3" y1="466.4" x2="60.5" y2="466.4" stroke="#000" stroke-width="1.4"/>
<text x="34.4" y="468.2" font-family="Liberation Sans, sans-serif" font-size="14" stroke="#000" stroke-width="0.35">10<tspan font-size="9" dy="-4.9" dx="1.2">1</tspan></text>
<line x1="52.3" y1="396.6" x2="60.5" y2="396.6" stroke="#000" stroke-width="1.4"/>
<text x="34.4" y="398.4" font-family="Liberation Sans, sans-serif" font-size="14" stroke="#000" stroke-width="0.35">10<tspan font-size="9" dy="-4.9" dx="1.2">2</tspan></text>
<line x1="52.3" y1="327.0" x2="60.5" y2="327.0" stroke="#000" stroke-width="1.4"/>
<text x="34.4" y="328.8" font-family="Liberation Sans, sans-serif" font-size="14" stroke="#000" stroke-width="0.35">10<tspan font-size="9" dy="-4.9" dx="1.2">3</tspan></text>
<line x1="52.3" y1="257.2" x2="60.5" y2="257.2" stroke="#000" stroke-width="1.4"/>
<text x="34.4" y="259" font-family="Liberation Sans, sans-serif" font-size="14" stroke="#000" stroke-width="0.35">10<tspan font-size="9" dy="-4.9" dx="1.2">4</tspan></text>
<g transform="translate(13.8,476.2) rotate(-90)"><text x="0" y="0" font-family="Liberation Sans, sans-serif" font-size="14.85" stroke="#000" stroke-width="0.35">CD20 Fluorescence intensity</text></g>
<rect x="114.4" y="297" width="6.0" height="6.0" fill="#000"/>
<rect x="122.8" y="303.5" width="6.0" height="6.0" fill="#000"/>
<rect x="122.8" y="329.3" width="6.0" height="6.0" fill="#000"/>
<rect x="122.7" y="369.7" width="6.0" height="6.0" fill="#000"/>
<rect x="105.9" y="373.1" width="6.0" height="6.0" fill="#000"/>
<rect x="148.1" y="372.5" width="6.0" height="6.0" fill="#000"/>
<rect x="139.6" y="374.6" width="6.0" height="6.0" fill="#000"/>
<rect x="114.4" y="380.5" width="6.0" height="6.0" fill="#000"/>
<rect x="122.7" y="381.1" width="6.0" height="6.0" fill="#000"/>
<rect x="131.2" y="380.5" width="6.0" height="6.0" fill="#000"/>
<rect x="97.6" y="388" width="6.0" height="6.0" fill="#000"/>
<rect x="114.3" y="387" width="6.0" height="6.0" fill="#000"/>
<rect x="147.6" y="387.6" width="6.0" height="6.0" fill="#000"/>
<rect x="139.8" y="389.8" width="6.0" height="6.0" fill="#000"/>
<rect x="106" y="393" width="6.0" height="6.0" fill="#000"/>
<rect x="131" y="393" width="6.0" height="6.0" fill="#000"/>
<rect x="111.4" y="395.1" width="6.0" height="6.0" fill="#000"/>
<rect x="114.3" y="395" width="6.0" height="6.0" fill="#000"/>
<rect x="122.6" y="395" width="6.0" height="6.0" fill="#000"/>
<rect x="135.1" y="397" width="6.0" height="6.0" fill="#000"/>
<rect x="97.6" y="398.3" width="6.0" height="6.0" fill="#000"/>
<rect x="118.5" y="398" width="6.0" height="6.0" fill="#000"/>
<rect x="126.8" y="398" width="6.0" height="6.0" fill="#000"/>
<rect x="106" y="401.4" width="6.0" height="6.0" fill="#000"/>
<rect x="139.8" y="401.4" width="6.0" height="6.0" fill="#000"/>
<rect x="147.6" y="400.8" width="6.0" height="6.0" fill="#000"/>
<rect x="114.3" y="402.6" width="6.0" height="6.0" fill="#000"/>
<rect x="122.6" y="403.3" width="6.0" height="6.0" fill="#000"/>
<rect x="131" y="402.6" width="6.0" height="6.0" fill="#000"/>
<rect x="126.8" y="407" width="6.0" height="6.0" fill="#000"/>
<rect x="97.6" y="411.4" width="6.0" height="6.0" fill="#000"/>
<rect x="106" y="412.3" width="6.0" height="6.0" fill="#000"/>
<rect x="114.3" y="410.1" width="6.0" height="6.0" fill="#000"/>
<rect x="114.3" y="414.3" width="6.0" height="6.0" fill="#000"/>
<rect x="122.6" y="414.8" width="6.0" height="6.0" fill="#000"/>
<rect x="131" y="412.6" width="6.0" height="6.0" fill="#000"/>
<rect x="139.8" y="411.6" width="6.0" height="6.0" fill="#000"/>
<rect x="147.6" y="411.4" width="6.0" height="6.0" fill="#000"/>
<rect x="131" y="420.7" width="6.0" height="6.0" fill="#000"/>
<rect x="122.6" y="424.3" width="6.0" height="6.0" fill="#000"/>
<rect x="105.8" y="428" width="6.0" height="6.0" fill="#000"/>
<rect x="131" y="428.5" width="6.0" height="6.0" fill="#000"/>
<rect x="114.3" y="433.6" width="6.0" height="6.0" fill="#000"/>
<rect x="122.6" y="434.7" width="6.0" height="6.0" fill="#000"/>
<rect x="122.6" y="461.7" width="6.0" height="6.0" fill="#000"/>
<rect x="131" y="459.7" width="6.0" height="6.0" fill="#000"/>
<polygon points="223.3,312 220.5,317.6 226.1,317.6" fill="#000"/>
<polygon points="223.3,322.2 220.5,327.8 226.1,327.8" fill="#000"/>
<polygon points="214.8,330.7 212,336.3 217.6,336.3" fill="#000"/>
<polygon points="223.3,332.3 220.5,337.9 226.1,337.9" fill="#000"/>
<polygon points="231.6,337.5 228.8,343.1 234.4,343.1" fill="#000"/>
<polygon points="223.3,341.2 220.5,346.8 226.1,346.8" fill="#000"/>
<polygon points="206.3,349.5 203.5,355.1 209.1,355.1" fill="#000"/>
<polygon points="231.6,350.8 228.8,356.4 234.4,356.4" fill="#000"/>
<polygon points="214.8,352.5 212,358.1 217.6,358.1" fill="#000"/>
<polygon points="223.3,356.8 220.5,362.4 226.1,362.4" fill="#000"/>
<polygon points="223.3,375.1 220.5,380.7 226.1,380.7" fill="#000"/>
<polygon points="320.7,395.2 317.9,389.6 323.5,389.6" fill="#000"/>
<polygon points="337.5,403.7 334.7,398.1 340.3,398.1" fill="#000"/>
<polygon points="303.8,407 301,401.4 306.6,401.4" fill="#000"/>
<polygon points="312.3,408.1 309.5,402.5 315.1,402.5" fill="#000"/>
<polygon points="320.7,408.1 317.9,402.5 323.5,402.5" fill="#000"/>
<polygon points="329.1,407.7 326.3,402.1 331.9,402.1" fill="#000"/>
<polygon points="333.2,408.4 330.4,402.8 336,402.8" fill="#000"/>
<polygon points="316.6,409.4 313.8,403.8 319.4,403.8" fill="#000"/>
<polygon points="325,410.1 322.2,404.5 327.8,404.5" fill="#000"/>
<polygon points="295.5,411.1 292.7,405.5 298.3,405.5" fill="#000"/>
<polygon points="346,411.3 343.2,405.7 348.8,405.7" fill="#000"/>
<polygon points="303.8,413.1 301,407.5 306.6,407.5" fill="#000"/>
<polygon points="312.3,414 309.5,408.4 315.1,408.4" fill="#000"/>
<polygon points="337.5,413.5 334.7,407.9 340.3,407.9" fill="#000"/>
<polygon points="320.7,416.4 317.9,410.8 323.5,410.8" fill="#000"/>
<polygon points="329.1,416 326.3,410.4 331.9,410.4" fill="#000"/>
<circle cx="392.7" cy="309.5" r="2.75" fill="#000"/>
<circle cx="392.7" cy="315.9" r="2.75" fill="#000"/>
<circle cx="401.2" cy="310.5" r="2.75" fill="#000"/>
<circle cx="401.2" cy="319.6" r="2.75" fill="#000"/>
<circle cx="409.5" cy="307.1" r="2.75" fill="#000"/>
<circle cx="409.5" cy="312.1" r="2.75" fill="#000"/>
<circle cx="409.5" cy="320.3" r="2.75" fill="#000"/>
<circle cx="417.7" cy="312.2" r="2.75" fill="#000"/>
<circle cx="417.7" cy="321.2" r="2.75" fill="#000"/>
<circle cx="422" cy="307.1" r="2.75" fill="#000"/>
<circle cx="422" cy="315.5" r="2.75" fill="#000"/>
<circle cx="426.5" cy="310.7" r="2.75" fill="#000"/>
<circle cx="426.5" cy="320.3" r="2.75" fill="#000"/>
<circle cx="434.5" cy="310.1" r="2.75" fill="#000"/>
<circle cx="434.5" cy="319.9" r="2.75" fill="#000"/>
<circle cx="443.1" cy="310.1" r="2.75" fill="#000"/>
<circle cx="443.1" cy="319.2" r="2.75" fill="#000"/>
<text x="125.3" y="553.7" font-family="Liberation Sans, sans-serif" font-size="14.85" text-anchor="middle" font-weight="bold">B-CLL</text>
<text x="223.1" y="553.7" font-family="Liberation Sans, sans-serif" font-size="14.85" text-anchor="middle" font-weight="bold">NHL</text>
<text x="323.4" y="553.8" font-family="Liberation Sans, sans-serif" font-size="14.85" text-anchor="middle" font-weight="bold">T-lymphocytes</text>
<text x="321.2" y="570.6" font-family="Liberation Sans, sans-serif" font-size="14.85" text-anchor="middle" font-weight="bold">(Population 1)</text>
<text x="451.2" y="553.2" font-family="Liberation Sans, sans-serif" font-size="14.85" text-anchor="middle" font-weight="bold">B-lymphocytes</text>
<text x="448.3" y="570.3" font-family="Liberation Sans, sans-serif" font-size="14.85" text-anchor="middle" font-weight="bold">(Population 2 and 3)</text>
<text x="1.6" y="590.3" font-family="Liberation Sans, sans-serif" font-size="14.7" text-anchor="start" stroke="#000" stroke-width="0.35">CD5:</text>
<text x="1.6" y="607.2" font-family="Liberation Sans, sans-serif" font-size="14.7" text-anchor="start" stroke="#000" stroke-width="0.35">CD20 vs CLL:</text>
<text x="125.2" y="588.4" font-family="Liberation Sans, sans-serif" font-size="14.7" text-anchor="middle" stroke="#000" stroke-width="0.35">Bright</text>
<text x="223.2" y="590.2" font-family="Liberation Sans, sans-serif" font-size="14.7" text-anchor="middle" stroke="#000" stroke-width="0.35">Negative</text>
<text x="222.8" y="607.2" font-family="Liberation Sans, sans-serif" font-size="14.7" text-anchor="middle" stroke="#000" stroke-width="0.35">p&lt; 0.004</text>
<text x="321.3" y="589" font-family="Liberation Sans, sans-serif" font-size="14.7" text-anchor="middle" stroke="#000" stroke-width="0.35">Bright</text>
<text x="444.1" y="589.8" font-family="Liberation Sans, sans-serif" font-size="14.7" text-anchor="middle" stroke="#000" stroke-width="0.35">Dim or Negative</text>
<text x="320.5" y="606.6" font-family="Liberation Sans, sans-serif" font-size="14.7" text-anchor="middle" stroke="#000" stroke-width="0.35">n.s.</text>
<text x="443.5" y="606.3" font-family="Liberation Sans, sans-serif" font-size="14.7" text-anchor="middle" stroke="#000" stroke-width="0.35">p&lt;0.001</text>
</svg>
</body></html>
